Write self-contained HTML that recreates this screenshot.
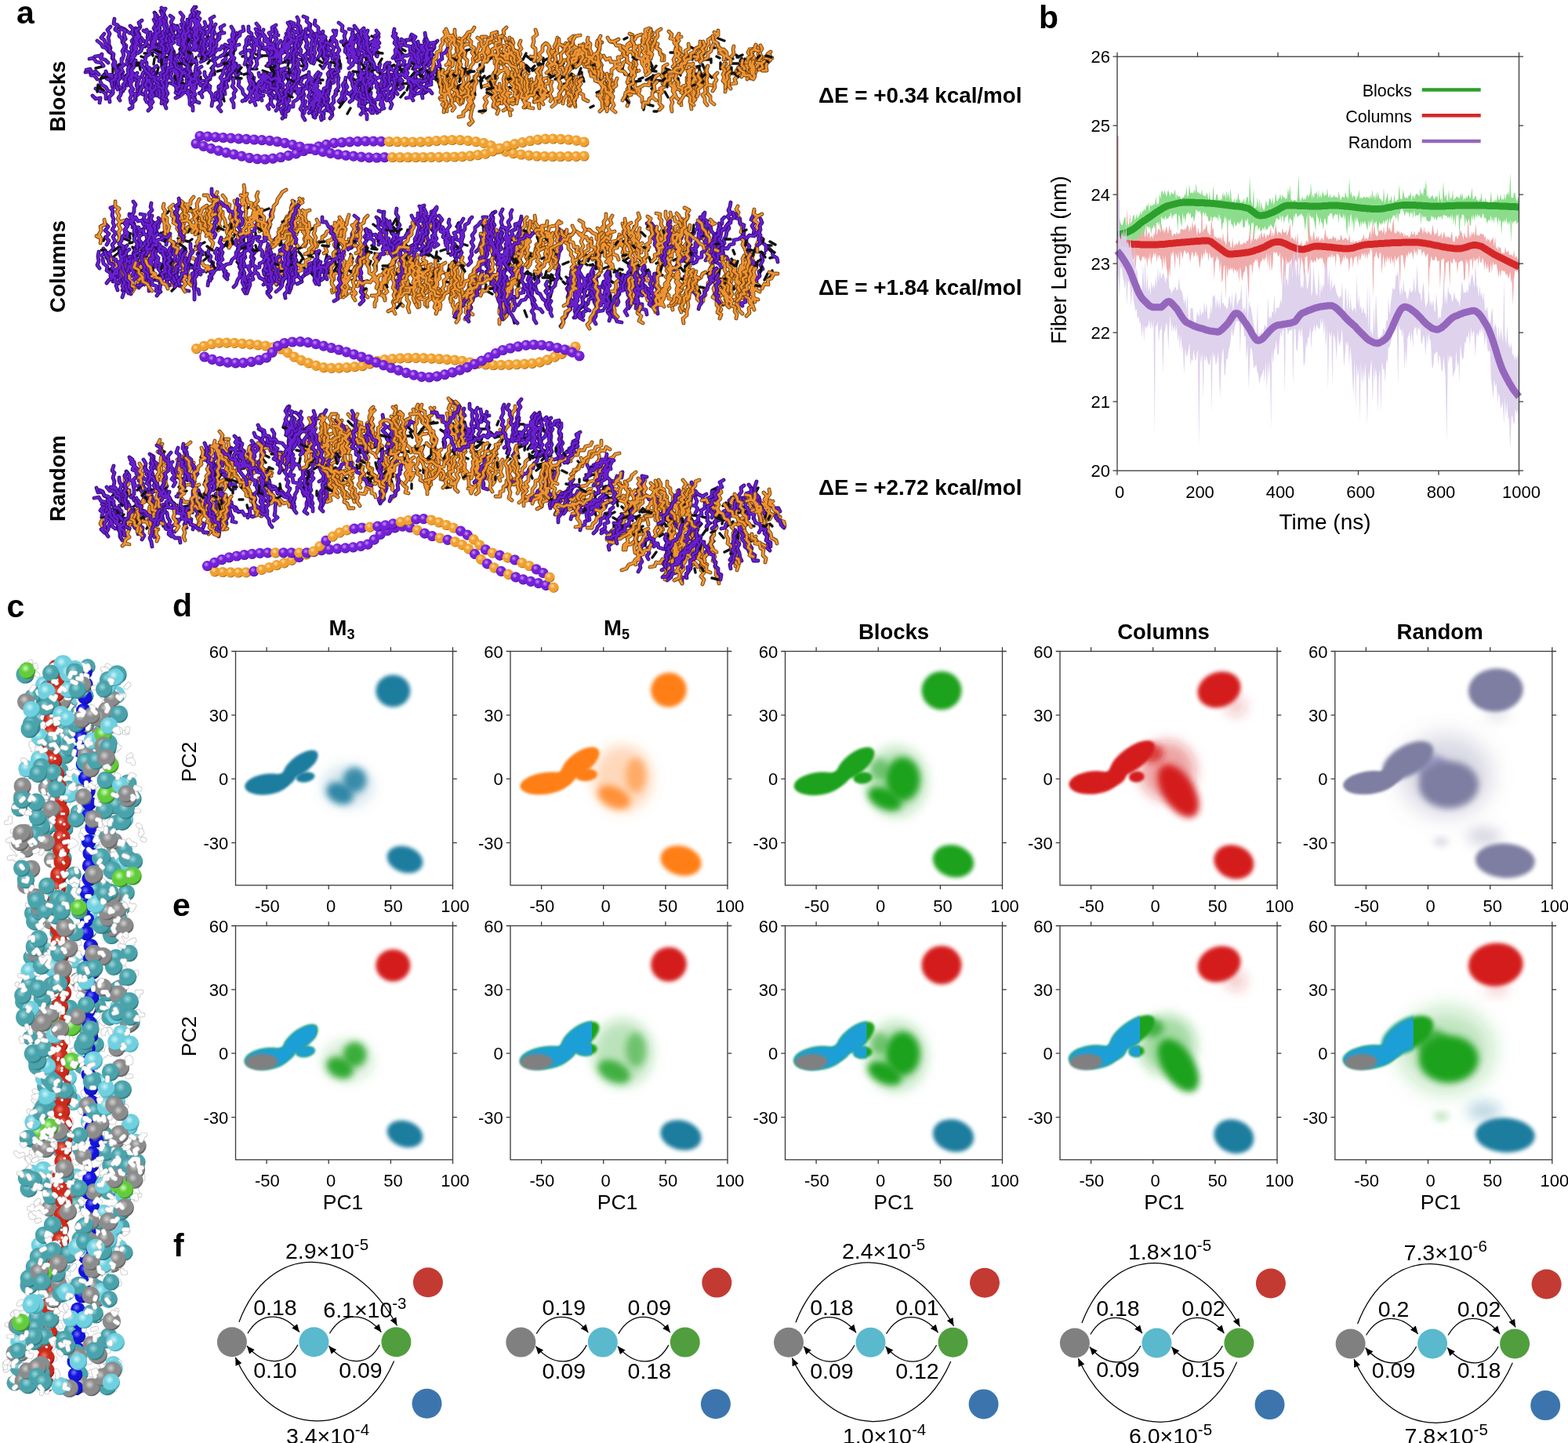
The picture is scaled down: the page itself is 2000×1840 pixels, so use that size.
<!DOCTYPE html>
<html><head><meta charset="utf-8"><title>Figure</title>
<style>html,body{margin:0;padding:0;background:#fff}svg{display:block}</style>
</head><body>
<svg width="2000" height="1840" viewBox="0 0 2000 1840" font-family="'Liberation Sans', Arial, Helvetica, sans-serif">

<defs>
<radialGradient id="gT" cx="0.4" cy="0.36" r="0.66"><stop offset="0" stop-color="#9ad6dc"/><stop offset="0.4" stop-color="#4aa3ab"/><stop offset="0.82" stop-color="#4aa3ab"/><stop offset="1" stop-color="#2a6e75"/></radialGradient>
<radialGradient id="gC" cx="0.4" cy="0.36" r="0.66"><stop offset="0" stop-color="#c8f4f8"/><stop offset="0.4" stop-color="#6fd0df"/><stop offset="0.82" stop-color="#6fd0df"/><stop offset="1" stop-color="#3c9aa8"/></radialGradient>
<radialGradient id="gG" cx="0.4" cy="0.36" r="0.66"><stop offset="0" stop-color="#d0d0d0"/><stop offset="0.4" stop-color="#8c8c8c"/><stop offset="0.82" stop-color="#8c8c8c"/><stop offset="1" stop-color="#555555"/></radialGradient>
<radialGradient id="gR" cx="0.4" cy="0.36" r="0.66"><stop offset="0" stop-color="#f07a68"/><stop offset="0.4" stop-color="#cc2a1c"/><stop offset="0.82" stop-color="#cc2a1c"/><stop offset="1" stop-color="#7a1008"/></radialGradient>
<radialGradient id="gB" cx="0.4" cy="0.36" r="0.66"><stop offset="0" stop-color="#7a7aff"/><stop offset="0.4" stop-color="#1414dc"/><stop offset="0.82" stop-color="#1414dc"/><stop offset="1" stop-color="#08087a"/></radialGradient>
<radialGradient id="gN" cx="0.4" cy="0.36" r="0.66"><stop offset="0" stop-color="#c8ffb0"/><stop offset="0.4" stop-color="#62cc3c"/><stop offset="0.82" stop-color="#62cc3c"/><stop offset="1" stop-color="#2e7a18"/></radialGradient>
<radialGradient id="gP" cx="0.4" cy="0.36" r="0.66"><stop offset="0" stop-color="#c89af5"/><stop offset="0.4" stop-color="#7420d8"/><stop offset="0.82" stop-color="#7420d8"/><stop offset="1" stop-color="#3c0a80"/></radialGradient>
<radialGradient id="gO" cx="0.4" cy="0.36" r="0.66"><stop offset="0" stop-color="#ffe0a0"/><stop offset="0.4" stop-color="#f0a030"/><stop offset="0.82" stop-color="#f0a030"/><stop offset="1" stop-color="#90560a"/></radialGradient>
<filter id="b1" x="-60%" y="-60%" width="220%" height="220%"><feGaussianBlur stdDeviation="1.6"/></filter>
<filter id="b2" x="-60%" y="-60%" width="220%" height="220%"><feGaussianBlur stdDeviation="2.6"/></filter>
<filter id="b3" x="-60%" y="-60%" width="220%" height="220%"><feGaussianBlur stdDeviation="4.5"/></filter>
<filter id="b4" x="-60%" y="-60%" width="220%" height="220%"><feGaussianBlur stdDeviation="8"/></filter>
<filter id="b5" x="-60%" y="-60%" width="220%" height="220%"><feGaussianBlur stdDeviation="14"/></filter>
</defs>
<path d="M968 74l-3 3M802 66l-3 2M693 74l0 7M268 77l-3 4M919 80l0 8M425 89l5 6M178 57l7 3M831 98l-7 4M896 82l3 7M497 105l-3 5M328 122l-5 7M201 56l7 6M494 88l2 6M823 78l4 2M719 81l-6 3M848 87l7 3M319 74l-5 2M687 94l3 3M193 57l-4 2M712 100l-4 1M976 81l-1 7M654 104l5 7M239 71l1 7M411 134l-3 4M197 75l-1 7M165 93l-5 3M357 128l-1 7M291 96l5 2M229 68l2 6M287 80l0 4M182 58l9 1M343 93l-7 5M341 71l-8 0M795 90l2 5M250 73l-2 7M347 87l0 5M376 110l0 7M229 98l4 4M953 85l-4 2M719 107l5 0M829 79l3 5M516 71l-8 5M367 64l-3 3M820 99l-5 2M718 85l-1 4M474 46l4 2M906 61l6 0M457 75l-6 3M459 77l-4 3M803 108l4 7M408 83l4 4M535 93l5 7M469 72l6 4M556 98l0 4M553 70l-5 1M537 73l-3 7M768 83l-2 7M351 76l-5 5M237 63l-4 2M898 101l-4 6M130 85l-8 2M914 72l4 2M464 85l5 7M831 113l4 4M946 74l-2 4M503 83l-7 4M447 138l-4 7M536 94l5 5M272 58l-5 4M202 86l-2 8M469 67l8 1M669 84l-2 6M588 108l-7 4M803 95l-2 6M682 74l-5 2M302 90l6 4M235 69l3 3M939 70l3 3M865 100l1 6M336 60l-5 2M550 99l9 2M403 46l-1 7M766 116l-5 2M194 67l1 4M335 90l6 2M874 86l-5 4M256 63l1 7M173 79l5 3M413 68l-7 4M392 95l-7 3M408 45l2 7M955 84l-7 1M760 80l4 1M848 117l4 7M613 87l0 6M165 66l6 3M658 98l2 7M758 95l7 0M687 118l5 4M851 106l0 5M197 46l1 6M167 66l0 6M248 108l-1 5M560 84l4 6M323 104l1 5M881 60l6 3M431 82l3 2M290 79l4 2M125 114l3 3M671 68l-4 8M639 67l-2 5M530 81l-4 7M671 71l7 5M715 97l6 2M233 57l-4 6M129 106l-2 5M664 98l-3 4M238 101l7 5M334 101l-2 4M387 108l-3 8M667 105l6 1M263 75l-7 0M178 81l4 3M512 62l5 3M824 55l-5 1M289 95l3 8M374 75l6 0M273 52l-1 7M434 83l-7 1M621 75l-5 3M211 63l4 3M356 95l-2 6M191 68l-7 0M313 71l-4 1M421 51l-1 7M405 95l-1 7M388 71l-4 5M179 82l-7 2M958 86l-1 5M895 54l1 5M271 88l-2 6M657 64l0 9M942 81l-9 0M411 72l4 8M595 64l-2 9M181 81l2 5M227 39l0 7M692 106l4 6M831 107l3 7M516 88l-7 1M636 125l2 7M290 61l-4 2M245 94l5 6M347 88l3 3M515 91l2 8M838 96l-5 1M759 103l4 2M464 87l-5 4M743 98l2 6M462 91l3 5M735 69l-5 1M396 74l-5 2M611 95l4 8M830 80l2 8M537 80l8 3M579 94l2 8M130 97l8 2M335 100l5 1M461 128l7 3M356 81l-2 4M625 97l-5 3M587 95l0 6M405 76l6 4M742 92l0 4M740 95l4 5M257 69l1 7M230 100l-2 7M487 75l-4 7M829 63l-1 8M237 91l3 4M326 69l8 3M384 84l6 1M199 72l5 3M339 84l8 2M385 77l2 4M605 67l0 5M905 76l-6 0M307 87l-8 4M907 75l0 5M896 103l2 3M894 94l-4 2M226 70l6 1M564 104l3 6M223 97l5 6M648 67l-6 2M363 96l5 6M763 81l-9 1M524 84l-4 1M835 102l8 1M514 103l-2 6M534 94l3 4M826 133l7 2M241 77l-5 6M795 83l-1 5M368 87l1 4M133 94l-5 7M254 93l-6 1M729 101l6 3M881 101l-4 2M523 79l7 4" stroke="#111" stroke-width="3.4" fill="none" stroke-linecap="round"/>
<g fill="none" stroke-linecap="round" stroke-linejoin="round"><path d="M229 85l-3 4l1 6l-2 5l2 5l-3 5l5 4l-1 5M192 63l5 -4l-2 -5l3 -4l-4 -5l5 -4l-3 -5l3 -5l-3 -6l5 -4l-4 -5M199 41l6 0M459 78l3 -5l-5 -3l3 -5l-3 -4l1 -5l-4 -4l1 -5l-5 -3l0 -6l-5 -1M345 82l4 -3l-1 -6l4 -4l-2 -5l3 -4l-4 -5l4 -5l-4 -4l4 -5l-2 -4M349 46l6 -1M506 78l2 -5l-2 -5l2 -4l2 -5l6 -3l2 -5l5 0l1 -5M505 86l5 -2l-2 -5l4 -6l-4 -3l3 -5l-1 -5l0 -6M205 75l-2 -6l-5 -3l-3 -5l-6 -2l-2 -4l-4 -3l-3 -4l-6 0l-3 -6l-6 0l-5 -4l-4 -2l-5 -2l-4 3M500 95l-1 6l4 2l0 6l3 3l-2 4l3 4M379 91l-2 5l0 6l-4 6l2 5l-4 3l0 6l-6 1l1 5l-5 2l2 6l-5 3l2 6M364 87l-6 2l-3 5l-4 3l0 5l-4 5l2 6l-4 5l4 4l-4 4l1 5l-5 4l2 4M347 107l-6 -1M200 84l-5 4l2 5l-5 1l1 5l-4 3l-2 5l-6 2l-1 6l-5 1M292 80l-3 3l3 5l-3 6l1 5l-5 4l-1 5l-5 2l0 7l-4 2l0 7l-4 3l-1 6M347 97l-5 1l-2 6l-5 4l-1 6l-6 1l-1 4M342 98l-6 -1M162 77l0 5l3 3l1 7l5 2l0 6l4 4l-1 5l5 3l1 7l4 2M362 89l-6 2l-1 5l-7 -1l0 6l-5 2l0 5l-5 1l-1 5l-5 3l-2 5M122 113l5 3l4 0l4 4M135 120l0 6M318 94l-1 5l5 4l-2 5l3 5l-3 5l0 4M128 104l2 4l5 3l3 5l6 2M412 87l3 -5l0 -6l3 -5l-2 -4l2 -5l-4 -4l2 -6l-5 -4l-1 -5l-4 -3l0 -5l-5 -4l1 -5M507 84l2 -5l-2 -5l3 -6l-4 -3l3 -5l-2 -4l0 -7M480 71l1 -4l-4 -5l1 -5l-3 -4l5 -2l-2 -5l5 -3l-3 -4M390 98l-5 2l-2 5l-6 2l1 4l-6 -1l-1 5l-6 0l-3 4l-5 1l-1 6l-5 -1M378 111l-6 -2M497 80l-3 5l2 4l-2 4l1 5l-2 5l1 6l-4 5l-2 5l-5 3l-2 5l-5 1l0 5M186 90l1 6l3 4l-1 5l3 4l1 6l4 4M250 77l-6 3l-2 6l-5 2l-2 5l-5 0l0 6l-5 2l-3 5l-5 0M456 92l1 4l2 5l-2 6l5 3l-1 4l4 3l1 5l5 1l1 5l6 3l0 4l2 4l1 5M485 82l-2 6l4 4l-1 6l2 5l-3 5l2 5l-2 6l5 5l-3 5l2 5l-2 5M487 113l6 1M133 96l3 4l4 2l4 5l5 1l3 5l5 3M478 97l-1 6l4 3l-1 5l3 3l-1 4l3 3l-1 5l3 3l-2 4l5 5M345 75l2 -5l-3 -6l1 -4l-1 -5l1 -6M344 64l-6 -1M273 95l-5 1l0 5l-5 3l2 5l-5 3l-2 5l-4 2M352 79l-2 6l3 6l-3 5l3 4l-2 7l4 4l-3 4l2 4l-2 5l4 5l-2 5l1 4l-3 3M513 93l-4 5l4 5l-3 5l4 3l-4 3M231 83l1 -4l-3 -5l3 -4l-2 -4l3 -5l-3 -4l-1 -6l-4 -4l3 -5l-2 -5l0 -4M390 87l1 -5l-3 -5l-1 -5l-4 -2l1 -6l-3 -4l3 -6l-3 -4l1 -6l-3 -3l2 -6M381 35l-6 -2M461 97l-2 5l3 4l-1 5l1 5l-2 5l5 3l-3 4l3 4l-1 6l4 2M222 72l0 -5l-3 -3l-2 -5l-2 -4l3 -4l-4 -3l1 -6l-3 -4l1 -5l-2 -5l1 -5l-5 -5l3 -5l-4 -3M305 84l-2 4l2 5l-3 5l3 5l-1 6l5 5l1 5l4 4l-1 5M149 92l2 5l5 -1l2 5l6 2M164 103l-2 6M301 81l-3 4l-1 6l-3 4l-1 5l-5 4l1 5l-3 5l1 6l-5 1l1 5l-5 1M360 89l2 4l5 3l1 6l4 4l2 5l5 3l0 5l5 4l2 5l4 1l-2 5l3 4M379 114l6 -1M271 77l2 -5l-2 -6l-1 -6l-1 -4l4 -5l-3 -4l4 -5l-3 -5l4 -6M431 96l-5 2l0 7l-5 2l0 5l-5 3l-2 6l-4 5l-2 4l-5 1M556 89l-5 3l1 4l-4 4l2 5l-6 3l0 6l-6 2l-4 3l-5 1M471 79l2 -5l-4 -5l1 -4l-4 -4l2 -5l-5 -2l-1 -6l-5 -2l2 -4l-4 -5l-3 -4M251 82l-1 -4l-5 -3l-1 -6l-5 -2l-1 -4l-5 0l0 -5l-6 -2l0 -6l-5 -2l-1 -4M235 79l5 -4l-1 -5l3 -4l-3 -4l3 -3l-2 -4l3 -4l0 -5l4 -4l-1 -5l5 -4l-2 -4l3 -4l-4 -4l3 -6M549 88l-4 4l1 7l-2 4l2 5l-4 5l2 4l-6 3l1 5M290 87l4 -4l-2 -4l4 -5l-1 -6l4 -4l-1 -6l2 -6l-2 -5l4 -5M461 78l0 -5l-4 -4l0 -5l-5 0l-3 -4l-5 -3l-3 -5l-5 1M441 52l-6 1M521 87l-5 2l-2 4l-4 4l-1 6l-5 4l-1 5l-3 5l2 6l-4 3M552 87l2 -5l-4 -4l0 -4l-3 -4l1 -5l-4 -4l0 -4l-3 -4l2 -5l-1 -6M376 93l2 -5l-4 -4l3 -6l-3 -4l4 -3l-2 -6l3 -4l-4 -4l2 -6l-3 -5l2 -5l-4 -5l3 -6l-5 -2M356 88l0 6l3 5l-1 4l3 5l-2 4l5 5l-4 4l4 4M132 84l-3 -4l-6 -1l-4 -5l-5 1M208 68l3 -4l-2 -5l3 -4l-2 -4l2 -5l-3 -5l5 -4l-4 -3l2 -5l-3 -5l1 -4l-2 -5l3 -4M118 122l4 4l6 -1M128 125l-1 6M494 80l-3 3l-1 6l-5 3l1 6l-6 2l-3 5l-5 3l-1 5M371 90l0 5l4 3l-2 4l3 5l1 6l6 2l-3 4l3 6M238 65l4 -3l-2 -5l3 -4l-2 -5l0 -4l-1 -5l2 -5l-2 -4l2 -4l1 -6l3 -3l0 -5l4 -3M232 88l-2 6l2 4l-4 4l3 6l-3 4l2 4l-3 5M530 83l-1 6l3 4l-3 5l3 4l-2 6l0 5l-3 5l1 4" stroke="#2c0a6a" stroke-width="4.8"/><path d="M229 85l-3 4l1 6l-2 5l2 5l-3 5l5 4l-1 5M192 63l5 -4l-2 -5l3 -4l-4 -5l5 -4l-3 -5l3 -5l-3 -6l5 -4l-4 -5M199 41l6 0M459 78l3 -5l-5 -3l3 -5l-3 -4l1 -5l-4 -4l1 -5l-5 -3l0 -6l-5 -1M345 82l4 -3l-1 -6l4 -4l-2 -5l3 -4l-4 -5l4 -5l-4 -4l4 -5l-2 -4M349 46l6 -1M506 78l2 -5l-2 -5l2 -4l2 -5l6 -3l2 -5l5 0l1 -5M505 86l5 -2l-2 -5l4 -6l-4 -3l3 -5l-1 -5l0 -6M205 75l-2 -6l-5 -3l-3 -5l-6 -2l-2 -4l-4 -3l-3 -4l-6 0l-3 -6l-6 0l-5 -4l-4 -2l-5 -2l-4 3M500 95l-1 6l4 2l0 6l3 3l-2 4l3 4M379 91l-2 5l0 6l-4 6l2 5l-4 3l0 6l-6 1l1 5l-5 2l2 6l-5 3l2 6M364 87l-6 2l-3 5l-4 3l0 5l-4 5l2 6l-4 5l4 4l-4 4l1 5l-5 4l2 4M347 107l-6 -1M200 84l-5 4l2 5l-5 1l1 5l-4 3l-2 5l-6 2l-1 6l-5 1M292 80l-3 3l3 5l-3 6l1 5l-5 4l-1 5l-5 2l0 7l-4 2l0 7l-4 3l-1 6M347 97l-5 1l-2 6l-5 4l-1 6l-6 1l-1 4M342 98l-6 -1M162 77l0 5l3 3l1 7l5 2l0 6l4 4l-1 5l5 3l1 7l4 2M362 89l-6 2l-1 5l-7 -1l0 6l-5 2l0 5l-5 1l-1 5l-5 3l-2 5M122 113l5 3l4 0l4 4M135 120l0 6M318 94l-1 5l5 4l-2 5l3 5l-3 5l0 4M128 104l2 4l5 3l3 5l6 2M412 87l3 -5l0 -6l3 -5l-2 -4l2 -5l-4 -4l2 -6l-5 -4l-1 -5l-4 -3l0 -5l-5 -4l1 -5M507 84l2 -5l-2 -5l3 -6l-4 -3l3 -5l-2 -4l0 -7M480 71l1 -4l-4 -5l1 -5l-3 -4l5 -2l-2 -5l5 -3l-3 -4M390 98l-5 2l-2 5l-6 2l1 4l-6 -1l-1 5l-6 0l-3 4l-5 1l-1 6l-5 -1M378 111l-6 -2M497 80l-3 5l2 4l-2 4l1 5l-2 5l1 6l-4 5l-2 5l-5 3l-2 5l-5 1l0 5M186 90l1 6l3 4l-1 5l3 4l1 6l4 4M250 77l-6 3l-2 6l-5 2l-2 5l-5 0l0 6l-5 2l-3 5l-5 0M456 92l1 4l2 5l-2 6l5 3l-1 4l4 3l1 5l5 1l1 5l6 3l0 4l2 4l1 5M485 82l-2 6l4 4l-1 6l2 5l-3 5l2 5l-2 6l5 5l-3 5l2 5l-2 5M487 113l6 1M133 96l3 4l4 2l4 5l5 1l3 5l5 3M478 97l-1 6l4 3l-1 5l3 3l-1 4l3 3l-1 5l3 3l-2 4l5 5M345 75l2 -5l-3 -6l1 -4l-1 -5l1 -6M344 64l-6 -1M273 95l-5 1l0 5l-5 3l2 5l-5 3l-2 5l-4 2M352 79l-2 6l3 6l-3 5l3 4l-2 7l4 4l-3 4l2 4l-2 5l4 5l-2 5l1 4l-3 3M513 93l-4 5l4 5l-3 5l4 3l-4 3M231 83l1 -4l-3 -5l3 -4l-2 -4l3 -5l-3 -4l-1 -6l-4 -4l3 -5l-2 -5l0 -4M390 87l1 -5l-3 -5l-1 -5l-4 -2l1 -6l-3 -4l3 -6l-3 -4l1 -6l-3 -3l2 -6M381 35l-6 -2M461 97l-2 5l3 4l-1 5l1 5l-2 5l5 3l-3 4l3 4l-1 6l4 2M222 72l0 -5l-3 -3l-2 -5l-2 -4l3 -4l-4 -3l1 -6l-3 -4l1 -5l-2 -5l1 -5l-5 -5l3 -5l-4 -3M305 84l-2 4l2 5l-3 5l3 5l-1 6l5 5l1 5l4 4l-1 5M149 92l2 5l5 -1l2 5l6 2M164 103l-2 6M301 81l-3 4l-1 6l-3 4l-1 5l-5 4l1 5l-3 5l1 6l-5 1l1 5l-5 1M360 89l2 4l5 3l1 6l4 4l2 5l5 3l0 5l5 4l2 5l4 1l-2 5l3 4M379 114l6 -1M271 77l2 -5l-2 -6l-1 -6l-1 -4l4 -5l-3 -4l4 -5l-3 -5l4 -6M431 96l-5 2l0 7l-5 2l0 5l-5 3l-2 6l-4 5l-2 4l-5 1M556 89l-5 3l1 4l-4 4l2 5l-6 3l0 6l-6 2l-4 3l-5 1M471 79l2 -5l-4 -5l1 -4l-4 -4l2 -5l-5 -2l-1 -6l-5 -2l2 -4l-4 -5l-3 -4M251 82l-1 -4l-5 -3l-1 -6l-5 -2l-1 -4l-5 0l0 -5l-6 -2l0 -6l-5 -2l-1 -4M235 79l5 -4l-1 -5l3 -4l-3 -4l3 -3l-2 -4l3 -4l0 -5l4 -4l-1 -5l5 -4l-2 -4l3 -4l-4 -4l3 -6M549 88l-4 4l1 7l-2 4l2 5l-4 5l2 4l-6 3l1 5M290 87l4 -4l-2 -4l4 -5l-1 -6l4 -4l-1 -6l2 -6l-2 -5l4 -5M461 78l0 -5l-4 -4l0 -5l-5 0l-3 -4l-5 -3l-3 -5l-5 1M441 52l-6 1M521 87l-5 2l-2 4l-4 4l-1 6l-5 4l-1 5l-3 5l2 6l-4 3M552 87l2 -5l-4 -4l0 -4l-3 -4l1 -5l-4 -4l0 -4l-3 -4l2 -5l-1 -6M376 93l2 -5l-4 -4l3 -6l-3 -4l4 -3l-2 -6l3 -4l-4 -4l2 -6l-3 -5l2 -5l-4 -5l3 -6l-5 -2M356 88l0 6l3 5l-1 4l3 5l-2 4l5 5l-4 4l4 4M132 84l-3 -4l-6 -1l-4 -5l-5 1M208 68l3 -4l-2 -5l3 -4l-2 -4l2 -5l-3 -5l5 -4l-4 -3l2 -5l-3 -5l1 -4l-2 -5l3 -4M118 122l4 4l6 -1M128 125l-1 6M494 80l-3 3l-1 6l-5 3l1 6l-6 2l-3 5l-5 3l-1 5M371 90l0 5l4 3l-2 4l3 5l1 6l6 2l-3 4l3 6M238 65l4 -3l-2 -5l3 -4l-2 -5l0 -4l-1 -5l2 -5l-2 -4l2 -4l1 -6l3 -3l0 -5l4 -3M232 88l-2 6l2 4l-4 4l3 6l-3 4l2 4l-3 5M530 83l-1 6l3 4l-3 5l3 4l-2 6l0 5l-3 5l1 4" stroke="#6a1ed2" stroke-width="3"/></g>
<g fill="none" stroke-linecap="round" stroke-linejoin="round"><path d="M954 76l4 -4l-4 -5l2 -4M956 63l6 -1M634 95l4 -4l-4 -3l2 -4l-4 -5l2 -5l0 -6l2 -6l-1 -4l3 -5l1 -6l4 -4l-1 -4l4 -4M638 91l6 -2M776 97l4 -3l0 -5l5 -4l-1 -6l6 0l-2 -6l5 0l2 -6l4 -4l1 -6l4 -3M799 63l-5 -4M658 94l-2 5l2 4l1 5l1 6l-3 3l3 5l-5 4l-2 5l-6 1l0 6l-5 3M660 122l6 0M851 82l-5 3l0 6l-2 6l4 5l-3 4l2 5l-5 2l3 4l-4 4l1 5l-1 6l4 4l-4 4M845 117l-6 0M652 94l3 -3l-2 -6l2 -5l-4 -5l2 -4l-2 -4l3 -5l-3 -5l1 -4l-2 -5M691 101l-1 5l4 5l-4 3l0 5l-2 4l1 5l-2 5l1 5M850 94l-1 6l6 1l0 7l4 3l-1 5l3 4l2 5l5 3l1 6M855 101l-5 3M572 91l-3 5l4 4l1 6l5 3l-1 5l6 1l2 6l5 2M799 95l-3 -4l-6 -1l1 -5l-6 -1l-1 -5l-5 0l-1 -5l-5 2l-3 -5l-6 2l-5 -2M674 102l-5 3l-1 5l-4 3l0 6l-4 4l-1 7l-5 3M586 93l1 -5l-2 -6l2 -4l-5 -5l2 -5l-2 -5l1 -6l-4 -3l2 -7l-1 -4l0 -5M581 47l-6 0M664 86l1 -5l-4 -2l-1 -5l-3 -3l1 -6l-6 -3l0 -6l-6 -3l-2 -5l-6 -1M657 71l5 -3M573 82l5 -4l0 -5l5 -4l0 -6l4 -3l2 -6l4 -2l0 -5l4 -4M847 77l0 -6l-5 -3l-1 -5l-5 -4l-1 -4l-6 -1M835 55l-6 1M678 101l0 4l6 2l0 6l5 3l0 7l4 3M689 123l6 -2M674 94l-1 -5l-5 -2l0 -5l-6 -3l0 -5l-6 -3l-1 -5l-3 -5M592 96l-2 4l2 6l-4 5l3 5l-4 3l2 6l-5 2M587 119l-6 2M752 91l0 -5l-6 -1l-2 -5l-7 -2l-1 -4l-6 -1l0 -5l-6 -2l-1 -6l-5 0M718 60l4 -5M647 87l-1 5l1 5l-4 5l1 5l-2 4l1 6l-3 5l-1 5l-6 1l0 5l-4 3M808 97l-1 6l3 3l0 6l6 3l-2 5l5 4l0 6M840 95l-4 3l-4 5l-4 1l0 5l-6 -1l-5 3l-4 2l-2 5l-5 -2l-1 5l-4 1l-2 4M608 103l-5 0l1 5l-6 1l-4 3l-6 2l-1 6l-5 2l-2 6l-5 0l0 6l-5 2l0 6M886 98l-3 4l3 6l-3 4l2 4M883 112l5 4M964 78l4 -4l-1 -6l1 -5l-4 -5M968 74l6 -1M658 91l-1 5l6 1l4 5l5 1l1 6l6 0l-1 5l5 1l5 5M688 120l-4 5M942 86l-3 5l2 6l-4 4l2 5M939 106l-6 1M667 102l0 4l4 5l0 5l6 1l3 5M671 116l-4 5M630 97l-1 4l2 4l-3 3l2 5l-2 5l5 4l0 6l4 3l-5 5l4 4l-2 5M629 101l-6 2M597 89l-2 5l3 4l-1 6l4 4l-1 5l4 4l-3 5l3 3l-3 4l3 6l-2 4l-1 5l-1 6l3 5l-4 4M603 155l-5 3M670 90l-5 5l2 4l-2 5l5 4l-2 4l3 6l-3 3l2 5M631 81l0 -6l-5 -3l-2 -5l-5 1l-3 -4M724 95l-2 5l5 3l-1 6l3 4l-6 2l0 6l-4 5l-1 6M863 94l-3 4l2 5l-3 4l3 5l-2 5l0 5l-4 4l2 5l-2 4l1 7M862 112l6 3M659 83l3 -5l-2 -4l4 -5l-2 -4l3 -3l-3 -5l2 -5M649 96l0 -5l-4 -3l-3 -5l-4 -4l2 -5l-3 -3l2 -4l-4 -4l-1 -6l-4 -3l-1 -6M802 99l-2 6l3 4l-3 5l2 5l-3 6l3 5l-2 5M800 105l6 2M892 77l4 -3l0 -6l4 -3l1 -6l3 -3l-1 -5l4 -3M896 68l-5 -4M805 96l4 -4l-3 -6l4 -3l-2 -4l2 -5l-3 -5l3 -4l-1 -6l-1 -5l-2 -4l1 -5l-4 -2M809 92l6 -2M780 102l-5 4l1 5l-3 6l2 5l-2 5l4 3l-2 5M902 85l-2 5l1 5l-3 4l3 5l-2 4l3 5l0 6l4 4l0 6l5 4M788 88l5 -3l2 -5l5 -3l-1 -5l2 -6l-2 -5l6 -3l0 -5l5 -3l2 -4l6 -2M801 66l6 0M709 91l-7 2l-2 6l-6 1l-3 5l-4 2l-1 6M755 87l3 -5l-3 -6l1 -5l-4 -3l-2 -6l-4 -1l-2 -5M755 76l5 -3M900 93l-4 3l-1 5l-5 2l0 5l-4 4l-1 6l-4 5M881 123l-6 -3M731 96l-4 4l2 6l-2 4l0 7l-1 5l3 3l-4 4l2 6M926 76l1 -5l-4 -3l-2 -5l-5 -2l0 -5M923 68l-6 0M653 98l-2 6l5 2l1 6l5 3l1 5l5 3l-1 4l4 4l-1 6" stroke="#6e3c0a" stroke-width="4.8"/><path d="M954 76l4 -4l-4 -5l2 -4M956 63l6 -1M634 95l4 -4l-4 -3l2 -4l-4 -5l2 -5l0 -6l2 -6l-1 -4l3 -5l1 -6l4 -4l-1 -4l4 -4M638 91l6 -2M776 97l4 -3l0 -5l5 -4l-1 -6l6 0l-2 -6l5 0l2 -6l4 -4l1 -6l4 -3M799 63l-5 -4M658 94l-2 5l2 4l1 5l1 6l-3 3l3 5l-5 4l-2 5l-6 1l0 6l-5 3M660 122l6 0M851 82l-5 3l0 6l-2 6l4 5l-3 4l2 5l-5 2l3 4l-4 4l1 5l-1 6l4 4l-4 4M845 117l-6 0M652 94l3 -3l-2 -6l2 -5l-4 -5l2 -4l-2 -4l3 -5l-3 -5l1 -4l-2 -5M691 101l-1 5l4 5l-4 3l0 5l-2 4l1 5l-2 5l1 5M850 94l-1 6l6 1l0 7l4 3l-1 5l3 4l2 5l5 3l1 6M855 101l-5 3M572 91l-3 5l4 4l1 6l5 3l-1 5l6 1l2 6l5 2M799 95l-3 -4l-6 -1l1 -5l-6 -1l-1 -5l-5 0l-1 -5l-5 2l-3 -5l-6 2l-5 -2M674 102l-5 3l-1 5l-4 3l0 6l-4 4l-1 7l-5 3M586 93l1 -5l-2 -6l2 -4l-5 -5l2 -5l-2 -5l1 -6l-4 -3l2 -7l-1 -4l0 -5M581 47l-6 0M664 86l1 -5l-4 -2l-1 -5l-3 -3l1 -6l-6 -3l0 -6l-6 -3l-2 -5l-6 -1M657 71l5 -3M573 82l5 -4l0 -5l5 -4l0 -6l4 -3l2 -6l4 -2l0 -5l4 -4M847 77l0 -6l-5 -3l-1 -5l-5 -4l-1 -4l-6 -1M835 55l-6 1M678 101l0 4l6 2l0 6l5 3l0 7l4 3M689 123l6 -2M674 94l-1 -5l-5 -2l0 -5l-6 -3l0 -5l-6 -3l-1 -5l-3 -5M592 96l-2 4l2 6l-4 5l3 5l-4 3l2 6l-5 2M587 119l-6 2M752 91l0 -5l-6 -1l-2 -5l-7 -2l-1 -4l-6 -1l0 -5l-6 -2l-1 -6l-5 0M718 60l4 -5M647 87l-1 5l1 5l-4 5l1 5l-2 4l1 6l-3 5l-1 5l-6 1l0 5l-4 3M808 97l-1 6l3 3l0 6l6 3l-2 5l5 4l0 6M840 95l-4 3l-4 5l-4 1l0 5l-6 -1l-5 3l-4 2l-2 5l-5 -2l-1 5l-4 1l-2 4M608 103l-5 0l1 5l-6 1l-4 3l-6 2l-1 6l-5 2l-2 6l-5 0l0 6l-5 2l0 6M886 98l-3 4l3 6l-3 4l2 4M883 112l5 4M964 78l4 -4l-1 -6l1 -5l-4 -5M968 74l6 -1M658 91l-1 5l6 1l4 5l5 1l1 6l6 0l-1 5l5 1l5 5M688 120l-4 5M942 86l-3 5l2 6l-4 4l2 5M939 106l-6 1M667 102l0 4l4 5l0 5l6 1l3 5M671 116l-4 5M630 97l-1 4l2 4l-3 3l2 5l-2 5l5 4l0 6l4 3l-5 5l4 4l-2 5M629 101l-6 2M597 89l-2 5l3 4l-1 6l4 4l-1 5l4 4l-3 5l3 3l-3 4l3 6l-2 4l-1 5l-1 6l3 5l-4 4M603 155l-5 3M670 90l-5 5l2 4l-2 5l5 4l-2 4l3 6l-3 3l2 5M631 81l0 -6l-5 -3l-2 -5l-5 1l-3 -4M724 95l-2 5l5 3l-1 6l3 4l-6 2l0 6l-4 5l-1 6M863 94l-3 4l2 5l-3 4l3 5l-2 5l0 5l-4 4l2 5l-2 4l1 7M862 112l6 3M659 83l3 -5l-2 -4l4 -5l-2 -4l3 -3l-3 -5l2 -5M649 96l0 -5l-4 -3l-3 -5l-4 -4l2 -5l-3 -3l2 -4l-4 -4l-1 -6l-4 -3l-1 -6M802 99l-2 6l3 4l-3 5l2 5l-3 6l3 5l-2 5M800 105l6 2M892 77l4 -3l0 -6l4 -3l1 -6l3 -3l-1 -5l4 -3M896 68l-5 -4M805 96l4 -4l-3 -6l4 -3l-2 -4l2 -5l-3 -5l3 -4l-1 -6l-1 -5l-2 -4l1 -5l-4 -2M809 92l6 -2M780 102l-5 4l1 5l-3 6l2 5l-2 5l4 3l-2 5M902 85l-2 5l1 5l-3 4l3 5l-2 4l3 5l0 6l4 4l0 6l5 4M788 88l5 -3l2 -5l5 -3l-1 -5l2 -6l-2 -5l6 -3l0 -5l5 -3l2 -4l6 -2M801 66l6 0M709 91l-7 2l-2 6l-6 1l-3 5l-4 2l-1 6M755 87l3 -5l-3 -6l1 -5l-4 -3l-2 -6l-4 -1l-2 -5M755 76l5 -3M900 93l-4 3l-1 5l-5 2l0 5l-4 4l-1 6l-4 5M881 123l-6 -3M731 96l-4 4l2 6l-2 4l0 7l-1 5l3 3l-4 4l2 6M926 76l1 -5l-4 -3l-2 -5l-5 -2l0 -5M923 68l-6 0M653 98l-2 6l5 2l1 6l5 3l1 5l5 3l-1 4l4 4l-1 6" stroke="#ee9432" stroke-width="3"/></g>
<g fill="none" stroke-linecap="round" stroke-linejoin="round"><path d="M741 97l-1 5l0 5l-3 3l0 6l-4 4l-1 5l-6 1l3 4l-4 4M740 102l-6 2M968 77l3 -5l-2 -5l3 -5l-2 -4M706 87l-4 4l1 5l-3 4l1 6l-6 1l0 5l-5 2l0 6l-6 3M577 104l0 5l4 4l-1 6l4 4l-1 5l4 5M580 119l-4 5M883 82l-6 0l-2 5l-7 0l-2 5l-5 0l-2 5l-5 0l0 5l-5 1l-2 5M630 93l-2 5l4 4l-4 2l1 6l0 5l4 5l-5 4l3 5l-2 5l4 4M628 98l6 1M768 98l1 -5l-6 -1l-1 -6l-6 -3l-1 -7l-3 -2l0 -6l-4 -4M752 74l-6 2M597 94l3 -4l0 -5l4 -5l-1 -5l2 -4l-3 -4l3 -6l-5 -3l1 -5l-4 -4l2 -5M647 104l-3 6l4 3l-3 4l3 5l-1 4l2 5l-2 4l3 6l1 6M645 117l6 2M681 78l2 -5l0 -6l0 -5l-4 -3l2 -6l-1 -5l5 -4l-2 -6M683 73l-6 -1M735 98l-2 5l1 6l-3 4l1 5l-3 5l2 4l-2 5M758 93l2 -5l-3 -5l3 -3l0 -5l3 -4l-1 -4l2 -4l0 -7l4 -2M571 91l-4 3l3 6l-5 3l3 5l-2 6l2 6l-2 5l3 4l-5 4l3 4l-1 6M565 103l-6 1M611 95l-6 3l0 6l-5 2l-2 6l-4 2l-2 4l-6 3l-2 5M600 106l4 5M783 106l-3 4l2 6l-4 3l3 6l-4 4M777 129l-6 -1M584 98l-5 2l-1 6l-5 3l-3 6l-5 2l0 5l-4 3M698 83l3 -5l0 -4l5 -3l-1 -6l6 -3l-4 -3l3 -6l1 -5M569 83l5 -4l1 -6l5 -2l4 -5l5 -2l2 -6l6 -2M898 76l5 -3l0 -5l4 -3l1 -6l3 -4l0 -6l5 -4l0 -6M916 45l-5 -4M844 77l1 -5l-3 -3l0 -5l-5 -3l2 -5l-5 -2l1 -5l-4 -3l2 -4M926 81l-3 4l3 5l-2 5l4 5l-4 4l2 6l-1 7M807 96l4 -5l-1 -5l2 -4l-2 -5l4 -3l1 -6l2 -4l-3 -5l6 -2l-1 -6M624 106l2 5l6 -1l1 5l7 1l3 5l4 3l2 4l6 0M649 128l6 -3M954 84l-2 6l3 5l-2 6M951 86l0 7l6 2M957 95l6 0M963 78l-3 4l2 6l-3 4l3 4M572 88l4 -4l-4 -4l2 -6l-3 -4l1 -6l-1 -5l0 -5l-3 -4l4 -5l-5 -4M581 100l0 5l2 5l3 5l3 3l-2 6l4 3l-1 4M586 115l-6 3M762 98l-2 -4l-5 -4l-1 -4l-5 -1l-1 -5l-6 -3l-1 -4l-4 -4l0 -7l-5 -3l-2 -6l-4 -3M726 50l5 -4M770 95l-4 4l3 3l-2 5l2 5l-1 5l4 2l-1 6l3 4l-2 5l3 4l-1 4M772 119l6 2M955 78l-4 5l0 5l-6 2l-3 4l-6 0M974 76l5 -2l0 -5l4 -3M979 74l6 0M579 95l4 -2l-1 -4l1 -5l1 -7l4 -4l-3 -3l4 -3l-5 -4l2 -6l-2 -4l2 -4M586 57l6 1M734 86l1 -6l-3 -5l3 -4l-2 -5l-1 -6l-5 -4M955 77l-1 6l4 5l-2 4l5 3l-4 5M882 88l-2 5l2 4l-1 6l3 4l-1 6l2 5l-2 5l4 4M882 97l-6 2M627 103l-4 5l3 4l-4 4l1 5l-5 4l3 5l-3 5l1 5l-4 3M623 108l-6 2M958 79l4 -5l-3 -6l3 -4M884 81l-2 4l3 5l-1 6l3 3l-3 4l2 5l-3 5l3 5l-2 5l1 6l-4 4l1 6M882 85l6 1M637 107l0 6l3 5l-3 4l4 4l-1 6M641 126l-6 2M678 105l-1 5l4 4l-2 5l4 5l-2 6M679 119l6 1M979 78l-2 6l1 6M978 90l-6 0M915 93l-4 4l3 5l-3 4l1 5l-3 5M649 99l-4 5l0 6l-3 5l3 5l-2 6M979 80l4 -4l-1 -6M780 96l-3 5l1 5l-3 4l1 6l-2 5l3 3l-5 4l4 4l-4 3l2 5M778 106l6 2M930 85l-2 4l4 4l-3 4l1 6l-1 6l3 4M930 103l-6 2M879 92l-1 5l4 4l-3 4l4 4l-3 4l2 3l-2 5l3 4M882 101l6 1M719 91l-2 -5l-5 -1l0 -5l-4 -3l0 -7l-5 -2l-1 -5M712 85l3 -5" stroke="#6e3c0a" stroke-width="4.8"/><path d="M741 97l-1 5l0 5l-3 3l0 6l-4 4l-1 5l-6 1l3 4l-4 4M740 102l-6 2M968 77l3 -5l-2 -5l3 -5l-2 -4M706 87l-4 4l1 5l-3 4l1 6l-6 1l0 5l-5 2l0 6l-6 3M577 104l0 5l4 4l-1 6l4 4l-1 5l4 5M580 119l-4 5M883 82l-6 0l-2 5l-7 0l-2 5l-5 0l-2 5l-5 0l0 5l-5 1l-2 5M630 93l-2 5l4 4l-4 2l1 6l0 5l4 5l-5 4l3 5l-2 5l4 4M628 98l6 1M768 98l1 -5l-6 -1l-1 -6l-6 -3l-1 -7l-3 -2l0 -6l-4 -4M752 74l-6 2M597 94l3 -4l0 -5l4 -5l-1 -5l2 -4l-3 -4l3 -6l-5 -3l1 -5l-4 -4l2 -5M647 104l-3 6l4 3l-3 4l3 5l-1 4l2 5l-2 4l3 6l1 6M645 117l6 2M681 78l2 -5l0 -6l0 -5l-4 -3l2 -6l-1 -5l5 -4l-2 -6M683 73l-6 -1M735 98l-2 5l1 6l-3 4l1 5l-3 5l2 4l-2 5M758 93l2 -5l-3 -5l3 -3l0 -5l3 -4l-1 -4l2 -4l0 -7l4 -2M571 91l-4 3l3 6l-5 3l3 5l-2 6l2 6l-2 5l3 4l-5 4l3 4l-1 6M565 103l-6 1M611 95l-6 3l0 6l-5 2l-2 6l-4 2l-2 4l-6 3l-2 5M600 106l4 5M783 106l-3 4l2 6l-4 3l3 6l-4 4M777 129l-6 -1M584 98l-5 2l-1 6l-5 3l-3 6l-5 2l0 5l-4 3M698 83l3 -5l0 -4l5 -3l-1 -6l6 -3l-4 -3l3 -6l1 -5M569 83l5 -4l1 -6l5 -2l4 -5l5 -2l2 -6l6 -2M898 76l5 -3l0 -5l4 -3l1 -6l3 -4l0 -6l5 -4l0 -6M916 45l-5 -4M844 77l1 -5l-3 -3l0 -5l-5 -3l2 -5l-5 -2l1 -5l-4 -3l2 -4M926 81l-3 4l3 5l-2 5l4 5l-4 4l2 6l-1 7M807 96l4 -5l-1 -5l2 -4l-2 -5l4 -3l1 -6l2 -4l-3 -5l6 -2l-1 -6M624 106l2 5l6 -1l1 5l7 1l3 5l4 3l2 4l6 0M649 128l6 -3M954 84l-2 6l3 5l-2 6M951 86l0 7l6 2M957 95l6 0M963 78l-3 4l2 6l-3 4l3 4M572 88l4 -4l-4 -4l2 -6l-3 -4l1 -6l-1 -5l0 -5l-3 -4l4 -5l-5 -4M581 100l0 5l2 5l3 5l3 3l-2 6l4 3l-1 4M586 115l-6 3M762 98l-2 -4l-5 -4l-1 -4l-5 -1l-1 -5l-6 -3l-1 -4l-4 -4l0 -7l-5 -3l-2 -6l-4 -3M726 50l5 -4M770 95l-4 4l3 3l-2 5l2 5l-1 5l4 2l-1 6l3 4l-2 5l3 4l-1 4M772 119l6 2M955 78l-4 5l0 5l-6 2l-3 4l-6 0M974 76l5 -2l0 -5l4 -3M979 74l6 0M579 95l4 -2l-1 -4l1 -5l1 -7l4 -4l-3 -3l4 -3l-5 -4l2 -6l-2 -4l2 -4M586 57l6 1M734 86l1 -6l-3 -5l3 -4l-2 -5l-1 -6l-5 -4M955 77l-1 6l4 5l-2 4l5 3l-4 5M882 88l-2 5l2 4l-1 6l3 4l-1 6l2 5l-2 5l4 4M882 97l-6 2M627 103l-4 5l3 4l-4 4l1 5l-5 4l3 5l-3 5l1 5l-4 3M623 108l-6 2M958 79l4 -5l-3 -6l3 -4M884 81l-2 4l3 5l-1 6l3 3l-3 4l2 5l-3 5l3 5l-2 5l1 6l-4 4l1 6M882 85l6 1M637 107l0 6l3 5l-3 4l4 4l-1 6M641 126l-6 2M678 105l-1 5l4 4l-2 5l4 5l-2 6M679 119l6 1M979 78l-2 6l1 6M978 90l-6 0M915 93l-4 4l3 5l-3 4l1 5l-3 5M649 99l-4 5l0 6l-3 5l3 5l-2 6M979 80l4 -4l-1 -6M780 96l-3 5l1 5l-3 4l1 6l-2 5l3 3l-5 4l4 4l-4 3l2 5M778 106l6 2M930 85l-2 4l4 4l-3 4l1 6l-1 6l3 4M930 103l-6 2M879 92l-1 5l4 4l-3 4l4 4l-3 4l2 3l-2 5l3 4M882 101l6 1M719 91l-2 -5l-5 -1l0 -5l-4 -3l0 -7l-5 -2l-1 -5M712 85l3 -5" stroke="#ee9432" stroke-width="3"/></g>
<g fill="none" stroke-linecap="round" stroke-linejoin="round"><path d="M491 95l-2 4l3 5l-2 6l2 4l-3 4l3 5M492 114l-6 3M365 79l5 -3l0 -5l2 -5l0 -4l6 -3l0 -5l6 -1l0 -6M157 92l-4 3l0 5l-4 3l0 7l-5 3l0 6l-5 5l1 6M353 87l2 -5l-2 -5l3 -4l0 -6l4 -4l0 -5l5 -1l-2 -4l4 -4l-2 -6l5 -1l1 -5M307 68l5 -3l1 -6l4 -3l1 -4M312 65l6 -1M345 74l5 -1l0 -6l4 -4l0 -6l4 -5M242 78l-1 4l1 6l-4 4l2 5l-2 5l1 6l-3 5l5 3l0 5l1 6l0 6l4 3l0 5M248 59l5 -2l-2 -4l4 -3l0 -5l5 -1l2 -4l5 0l2 -6M420 86l1 -4l-5 -3l2 -6l-5 -3l-1 -5l-6 -2l2 -6l-4 -4l0 -6l-4 0l-1 -5l-5 -4M456 79l4 -3l1 -4l6 -4l-1 -5l4 -4l1 -5l6 -1M135 91l2 5l6 1l0 6l5 1l3 6l4 3l0 5M137 96l6 -1M221 70l0 6l5 4l1 5l5 2l3 6l4 0l1 5l5 -1l2 5l3 4l0 6M387 89l4 -5l-3 -5l3 -4l-2 -5l4 -4l-2 -6l1 -4l-2 -5l1 -6M207 85l3 -5l-3 -3l1 -6l-3 -4l2 -6l-4 -4l2 -5l-3 -4l4 -4l-4 -4l2 -4l-4 -5l2 -5l-4 -3l0 -6M466 81l4 -5l2 -6l5 -2l0 -5l6 -3l-4 -4l5 -1l-3 -4l2 -4M317 85l4 -5l-3 -5l4 -3l-2 -6l4 -4l-3 -4l3 -4l-3 -6l0 -5l-4 -3l0 -6M434 87l0 -5l-6 -2l-1 -5l-5 -4l0 -5l-4 -4l1 -6l-5 -2l1 -6l-4 -2l1 -6M254 71l3 -4l-5 -4l3 -6l-3 -5l2 -4l-2 -5l2 -4l-4 -5l0 -6l-3 -5l1 -5l-3 -4l3 -5M124 101l-4 -5l-4 0l-1 -5l-6 1M381 81l-2 5l3 5l-2 5l1 5l-4 3l-2 5l-4 3l1 6l-4 3l1 7l-4 4l1 6l-4 4l2 5l-4 4M261 76l4 -2l3 -4l5 -2l4 -5l4 0l2 -4l7 1l5 -3M212 78l-1 6l1 5l-2 6l4 3l-2 5l1 5l-2 5l3 6l-3 5l2 5l-3 4l2 5M278 84l5 -2l1 -4l4 -3l0 -5l4 -2l4 -4l4 -1l0 -5l5 -1M533 93l-4 2l1 5l-4 3l3 5l-5 5l2 6l-2 4l3 5M544 94l-2 4l0 5l-5 3l0 5l-5 1l-3 4l-5 2l-1 6l-5 1M466 104l-4 4l1 6l0 5l2 5l-4 4l3 4l-3 5l3 4l-4 5M227 71l-4 4l3 4l-4 5l2 5l0 4l3 3l-2 4l4 6l-4 5l0 6M396 100l-3 4l3 4l-2 6l2 4l-3 5l4 5l-2 4l4 6l1 5l4 3l-4 3M553 87l-3 6l3 6l-4 2l1 7l-6 1l-1 6l-3 3M468 74l3 -3l0 -5l4 -3l0 -6l4 -4l-1 -4M165 80l3 -5l-2 -6l3 -4l-2 -4l3 -4l-2 -5l4 -5l-4 -5l2 -5l-4 -4M203 78l1 -6l0 -6l2 -6l1 -5l5 -3l-1 -6l6 -1l0 -6l3 -5l-2 -6l3 -5l-4 -3M261 72l3 -5l-3 -6l4 -4l-3 -5l3 -5l-1 -4l4 -4l-1 -5l3 -5l-2 -5l5 -3M221 83l0 5l5 4l-3 6l5 4l2 6l5 0l1 6l3 5l3 4l6 1l1 5l5 2M481 72l1 -5l-3 -3l1 -5l-4 -1l0 -6M343 94l-3 6l3 5l-2 6l3 5l-1 5l4 4l-2 6l4 5M194 89l-3 5l4 5l-3 4l1 5l-3 5l2 5l-2 5l2 5l-2 4l3 5l-4 4M546 84l3 -4l-2 -5l4 -4l-1 -5l4 -5l0 -5l4 -4M304 90l-4 3l2 5l-5 3l1 5l-2 4l5 5l-3 4l1 5l-4 3l3 5l0 5M144 74l0 -5l-5 -3l-4 -5l-4 -1l-2 -4l-5 -4M424 97l-4 3l1 5l-1 6l0 5l-3 5l2 6l-3 5l4 4l-2 5M420 136l5 3M474 88l-2 6l0 6l-3 4l3 5l-3 5l4 4l-4 3l5 4l-2 5l3 5l-4 5l3 4M472 130l6 2M246 63l3 -5l-4 -4l5 -3l-4 -4l0 -6l-6 -2l2 -5l-3 -4l0 -5M466 80l5 -4l-5 -4l1 -5l-4 -5l2 -4l-1 -6l6 -4M465 58l-5 -3M445 74l0 -5l-5 -3l1 -6l-3 -4l2 -6l-1 -4l2 -5l-5 -2l1 -6l-5 -4M475 94l-3 5l4 3l-4 5l2 5l-3 3l2 5l-3 6l5 4l-2 5l4 4l-1 5M221 69l-2 5l1 7l-3 4l2 4l-5 3l0 6l-5 3l-1 6l-3 3l0 5l-5 2l0 5M210 65l3 -4l2 -6l4 -2l3 -6l6 -1l1 -5l5 -2l4 -5M215 55l-4 -5M183 92l-2 5l3 4l-2 4l0 5l-3 4l-1 5l-5 4l0 4l-4 4l0 6l-4 2M182 110l6 2M422 89l-4 5l2 6l-2 4l0 6l-1 5l2 5l-3 4l2 6l-3 4l3 4l-5 4l0 4l-4 3l1 4M227 87l-3 4l3 3l-3 5l5 4l-1 5l4 2l-1 5l4 3l-5 4M230 122l-6 3M347 94l-3 5l4 4l2 5l5 2l0 6l4 3l1 5l4 1l0 6l5 4M351 93l4 -6l-2 -6l2 -4l-6 -1l-1 -6l-6 -2l-2 -5l-5 -1l0 -5l-4 -3l-1 -6l-3 -6M196 93l-3 4l3 5l-3 5l3 4l-2 4l1 5l-3 5l3 5l-3 4M193 97l6 2M463 95l-3 4l4 4l-3 5l3 4l-4 3l1 5l-2 5l3 5l-4 3M460 99l6 1M206 79l4 -4l-3 -5l-1 -6l-5 -1l-2 -4l-6 -3l0 -5l-5 -3l1 -6l-2 -4M189 42l-6 -3M406 92l-4 5l4 4l-5 5l2 6l-3 3l2 6l-4 3l3 4l-2 4l2 6l-4 4l3 5M401 128l-6 1M324 99l-1 5l4 5l2 6l3 3l0 5l2 5M533 77l3 -5l-2 -5l4 -4l-4 -4l-1 -6M441 99l-1 6l3 6l-3 4l3 3l-5 4l3 4l-4 4" stroke="#2c0a6a" stroke-width="4.8"/><path d="M491 95l-2 4l3 5l-2 6l2 4l-3 4l3 5M492 114l-6 3M365 79l5 -3l0 -5l2 -5l0 -4l6 -3l0 -5l6 -1l0 -6M157 92l-4 3l0 5l-4 3l0 7l-5 3l0 6l-5 5l1 6M353 87l2 -5l-2 -5l3 -4l0 -6l4 -4l0 -5l5 -1l-2 -4l4 -4l-2 -6l5 -1l1 -5M307 68l5 -3l1 -6l4 -3l1 -4M312 65l6 -1M345 74l5 -1l0 -6l4 -4l0 -6l4 -5M242 78l-1 4l1 6l-4 4l2 5l-2 5l1 6l-3 5l5 3l0 5l1 6l0 6l4 3l0 5M248 59l5 -2l-2 -4l4 -3l0 -5l5 -1l2 -4l5 0l2 -6M420 86l1 -4l-5 -3l2 -6l-5 -3l-1 -5l-6 -2l2 -6l-4 -4l0 -6l-4 0l-1 -5l-5 -4M456 79l4 -3l1 -4l6 -4l-1 -5l4 -4l1 -5l6 -1M135 91l2 5l6 1l0 6l5 1l3 6l4 3l0 5M137 96l6 -1M221 70l0 6l5 4l1 5l5 2l3 6l4 0l1 5l5 -1l2 5l3 4l0 6M387 89l4 -5l-3 -5l3 -4l-2 -5l4 -4l-2 -6l1 -4l-2 -5l1 -6M207 85l3 -5l-3 -3l1 -6l-3 -4l2 -6l-4 -4l2 -5l-3 -4l4 -4l-4 -4l2 -4l-4 -5l2 -5l-4 -3l0 -6M466 81l4 -5l2 -6l5 -2l0 -5l6 -3l-4 -4l5 -1l-3 -4l2 -4M317 85l4 -5l-3 -5l4 -3l-2 -6l4 -4l-3 -4l3 -4l-3 -6l0 -5l-4 -3l0 -6M434 87l0 -5l-6 -2l-1 -5l-5 -4l0 -5l-4 -4l1 -6l-5 -2l1 -6l-4 -2l1 -6M254 71l3 -4l-5 -4l3 -6l-3 -5l2 -4l-2 -5l2 -4l-4 -5l0 -6l-3 -5l1 -5l-3 -4l3 -5M124 101l-4 -5l-4 0l-1 -5l-6 1M381 81l-2 5l3 5l-2 5l1 5l-4 3l-2 5l-4 3l1 6l-4 3l1 7l-4 4l1 6l-4 4l2 5l-4 4M261 76l4 -2l3 -4l5 -2l4 -5l4 0l2 -4l7 1l5 -3M212 78l-1 6l1 5l-2 6l4 3l-2 5l1 5l-2 5l3 6l-3 5l2 5l-3 4l2 5M278 84l5 -2l1 -4l4 -3l0 -5l4 -2l4 -4l4 -1l0 -5l5 -1M533 93l-4 2l1 5l-4 3l3 5l-5 5l2 6l-2 4l3 5M544 94l-2 4l0 5l-5 3l0 5l-5 1l-3 4l-5 2l-1 6l-5 1M466 104l-4 4l1 6l0 5l2 5l-4 4l3 4l-3 5l3 4l-4 5M227 71l-4 4l3 4l-4 5l2 5l0 4l3 3l-2 4l4 6l-4 5l0 6M396 100l-3 4l3 4l-2 6l2 4l-3 5l4 5l-2 4l4 6l1 5l4 3l-4 3M553 87l-3 6l3 6l-4 2l1 7l-6 1l-1 6l-3 3M468 74l3 -3l0 -5l4 -3l0 -6l4 -4l-1 -4M165 80l3 -5l-2 -6l3 -4l-2 -4l3 -4l-2 -5l4 -5l-4 -5l2 -5l-4 -4M203 78l1 -6l0 -6l2 -6l1 -5l5 -3l-1 -6l6 -1l0 -6l3 -5l-2 -6l3 -5l-4 -3M261 72l3 -5l-3 -6l4 -4l-3 -5l3 -5l-1 -4l4 -4l-1 -5l3 -5l-2 -5l5 -3M221 83l0 5l5 4l-3 6l5 4l2 6l5 0l1 6l3 5l3 4l6 1l1 5l5 2M481 72l1 -5l-3 -3l1 -5l-4 -1l0 -6M343 94l-3 6l3 5l-2 6l3 5l-1 5l4 4l-2 6l4 5M194 89l-3 5l4 5l-3 4l1 5l-3 5l2 5l-2 5l2 5l-2 4l3 5l-4 4M546 84l3 -4l-2 -5l4 -4l-1 -5l4 -5l0 -5l4 -4M304 90l-4 3l2 5l-5 3l1 5l-2 4l5 5l-3 4l1 5l-4 3l3 5l0 5M144 74l0 -5l-5 -3l-4 -5l-4 -1l-2 -4l-5 -4M424 97l-4 3l1 5l-1 6l0 5l-3 5l2 6l-3 5l4 4l-2 5M420 136l5 3M474 88l-2 6l0 6l-3 4l3 5l-3 5l4 4l-4 3l5 4l-2 5l3 5l-4 5l3 4M472 130l6 2M246 63l3 -5l-4 -4l5 -3l-4 -4l0 -6l-6 -2l2 -5l-3 -4l0 -5M466 80l5 -4l-5 -4l1 -5l-4 -5l2 -4l-1 -6l6 -4M465 58l-5 -3M445 74l0 -5l-5 -3l1 -6l-3 -4l2 -6l-1 -4l2 -5l-5 -2l1 -6l-5 -4M475 94l-3 5l4 3l-4 5l2 5l-3 3l2 5l-3 6l5 4l-2 5l4 4l-1 5M221 69l-2 5l1 7l-3 4l2 4l-5 3l0 6l-5 3l-1 6l-3 3l0 5l-5 2l0 5M210 65l3 -4l2 -6l4 -2l3 -6l6 -1l1 -5l5 -2l4 -5M215 55l-4 -5M183 92l-2 5l3 4l-2 4l0 5l-3 4l-1 5l-5 4l0 4l-4 4l0 6l-4 2M182 110l6 2M422 89l-4 5l2 6l-2 4l0 6l-1 5l2 5l-3 4l2 6l-3 4l3 4l-5 4l0 4l-4 3l1 4M227 87l-3 4l3 3l-3 5l5 4l-1 5l4 2l-1 5l4 3l-5 4M230 122l-6 3M347 94l-3 5l4 4l2 5l5 2l0 6l4 3l1 5l4 1l0 6l5 4M351 93l4 -6l-2 -6l2 -4l-6 -1l-1 -6l-6 -2l-2 -5l-5 -1l0 -5l-4 -3l-1 -6l-3 -6M196 93l-3 4l3 5l-3 5l3 4l-2 4l1 5l-3 5l3 5l-3 4M193 97l6 2M463 95l-3 4l4 4l-3 5l3 4l-4 3l1 5l-2 5l3 5l-4 3M460 99l6 1M206 79l4 -4l-3 -5l-1 -6l-5 -1l-2 -4l-6 -3l0 -5l-5 -3l1 -6l-2 -4M189 42l-6 -3M406 92l-4 5l4 4l-5 5l2 6l-3 3l2 6l-4 3l3 4l-2 4l2 6l-4 4l3 5M401 128l-6 1M324 99l-1 5l4 5l2 6l3 3l0 5l2 5M533 77l3 -5l-2 -5l4 -4l-4 -4l-1 -6M441 99l-1 6l3 6l-3 4l3 3l-5 4l3 4l-4 4" stroke="#6a1ed2" stroke-width="3"/></g>
<path d="M262 67l4 5M671 87l4 4M619 141l-8 1M882 100l-4 8M936 93l6 5M428 116l4 0M975 77l5 2M875 74l-2 5M450 100l7 5M730 83l1 4M855 67l5 0M228 81l9 0M947 70l-7 3M472 113l-1 4M805 104l4 0M603 103l-7 4M471 87l-5 7M945 78l3 3M757 135l-4 2M197 63l8 4M559 104l5 8M379 47l7 3M412 102l-5 0M916 49l8 3M180 72l5 2M970 80l-4 5M848 100l-3 3M250 97l-1 4M273 83l-4 4M698 75l-5 3M685 79l7 4M693 107l-4 4M453 107l4 3M878 116l-8 1M885 71l-2 5M838 142l-4 0M481 67l7 1M241 51l-6 7M322 96l1 8M765 83l-9 0M507 92l-4 1M313 78l3 8M785 54l-5 0M350 92l-1 5M215 68l2 5M682 84l-4 4M896 61l2 8M655 99l-7 2M479 88l-5 3M367 101l8 3M273 89l1 5M825 78l4 1M587 100l-1 4M296 85l3 5M528 93l-5 6M742 99l-4 3M152 82l-4 4M686 88l-7 2M466 71l1 5M735 73l1 6M510 85l2 6M734 120l0 9M351 84l-4 3M928 75l7 0M167 79l3 7M829 90l8 1M587 85l4 3M817 103l-6 1M967 80l3 5M352 74l-7 4M248 51l6 4M285 89l-8 2M443 55l-5 3M125 108l-1 9M443 74l3 2M236 77l4 6M256 98l0 4M161 50l-6 0M538 78l-8 2M301 99l7 1M617 85l-1 6M516 118l-5 6M154 82l-2 5M522 106l-9 1M125 110l7 5M664 91l-3 3M298 63l0 6M671 83l4 4M369 78l-2 6M363 92l7 1M867 91l1 5M433 76l1 9M474 78l-2 4M575 74l8 3M599 63l-7 3M729 94l-3 5M713 80l-6 0M717 99l-4 2M320 88l8 0M234 97l8 1M238 65l5 3M431 100l0 5M560 107l1 5M152 93l-1 4M661 92l3 3M650 111l4 3M365 121l8 3M144 85l0 7M172 76l4 7M557 89l0 7M944 83l-3 6M308 86l-5 6M904 95l4 4M798 126l4 5M933 86l0 8M363 117l5 4M860 85l-1 6M277 50l-3 8M540 86l-5 4M577 94l4 3M351 99l-3 6M506 104l1 5M722 98l8 0M217 65l5 0M612 82l0 6M343 82l3 7M800 123l-4 3M544 90l3 3M950 90l3 6M664 91l0 7M245 94l7 1M438 130l-5 7M222 40l-4 1M573 95l-5 4M892 88l3 8M366 76l-5 4M886 108l-6 3M605 91l-9 1M800 48l-4 2M502 83l-8 3M600 90l-3 4M627 73l-4 4M422 79l7 2M508 63l6 6M837 84l-4 5M701 118l-9 1M618 97l-6 6M229 105l5 1M356 65l5 0M698 93l4 3M273 61l-5 4M284 120l2 9M708 96l-6 3M625 104l2 5M629 112l-8 2M536 73l4 4M621 118l6 3M594 87l-3 8M950 75l-4 6M901 93l-6 6M822 135l-1 5M631 92l1 8M243 102l5 0M461 81l5 6M432 130l3 3M605 114l1 7M686 82l5 7M868 67l6 5M522 107l-3 8M807 73l5 3M739 77l-2 7M473 77l0 7M265 47l5 4M683 116l5 5M293 69l-8 2M741 87l-3 8M480 89l5 5M223 97l1 5M513 93l6 6M584 110l0 6M245 82l-8 1M355 119l0 7M320 71l6 4M219 72l-7 1M326 107l-1 5M177 80l2 9M206 76l0 8M892 85l0 6M833 96l-2 6M320 103l1 7M540 64l-7 5M136 98l-7 2M853 89l-7 5M893 84l-4 1M969 71l-3 3M888 94l5 5M432 112l-5 7M155 86l0 7M399 76l-2 4M977 71l7 2M766 101l6 4M450 91l8 1M613 104l1 8M886 69l-8 3M688 93l-2 7M285 81l5 0M241 50l-4 5M296 76l0 8M402 102l7 4M318 93l-7 2" stroke="#111" stroke-width="3.4" fill="none" stroke-linecap="round"/>
<g fill="none" stroke-linecap="round" stroke-linejoin="round"><path d="M171 62l1 -4l-1 -6l3 -5l-1 -6l0 -5M475 83l1 -4l-4 -4l2 -5l-4 -5l-1 -5l-2 -4l1 -5l-3 -4l1 -4l-2 -6M211 83l-4 3l2 5l-5 3l3 3l-6 3l2 4l-4 4l-1 5l-5 4l3 5l-4 3M175 93l-3 4l6 3l-2 6l-1 6M172 97l6 2M235 91l-4 5l-1 6l-2 4l1 4l-4 3l1 6M317 87l3 -5l-2 -4l4 -5l-1 -4l4 -5l-1 -6l4 -3l0 -5l5 -4l-3 -6l1 -5l-4 -5M406 73l3 -5l-2 -4l3 -5l-2 -5l3 -4l-4 -4M220 71l-1 6l4 3l1 6l5 2l3 4l5 2l1 5l5 0l4 5l6 0l3 5l4 -1l-1 6l6 0M253 104l6 -1M445 87l5 -4l-5 -4l1 -6l-3 -4l2 -5l-3 -6l5 -2l0 -5l4 -2l-2 -6M325 87l3 -5l-1 -6l4 -4l-1 -6l2 -5l-4 -4l-2 -5l-3 -4M529 86l6 -2l1 -5l6 -3l0 -5l4 -2l1 -6l6 -2l0 -5M207 73l3 -4l-2 -4l1 -5l-4 -3l3 -4l-3 -4l4 -2l-2 -5l4 -5l-3 -6l2 -4l-4 -3l2 -4l-3 -6M458 104l-3 3l1 5l-4 2l1 5l-5 4M365 92l-4 2l2 5l-4 5l-1 5l-6 0l-1 5l-5 0l-3 4l-6 -1M518 87l4 -4l1 -6l3 -3l-1 -5l3 -4l-3 -5l4 -4l-3 -5M177 67l4 -5l-4 -5l3 -4l-4 -5l2 -4l-3 -5l4 -5l-2 -5l4 -3M444 71l5 -3l-3 -6l4 -3l1 -5l5 -2l0 -5l5 -1l-1 -6l4 -4M400 81l2 -5l-2 -4l2 -5l-2 -4l2 -5l0 -6l3 -5l-2 -4M199 97l0 5l5 5l-3 5l3 5l-1 6l4 3l-1 6M146 78l-2 5l4 4l1 5l1 5l-3 3l3 5l-1 5l1 4M550 95l5 -4l0 -5l6 -2l-2 -6l5 -3l-1 -6l5 -2l3 -5M281 72l5 -3l2 -6l4 -3l3 -5l5 -2l2 -5l4 -3l0 -4l5 -2l-1 -5M156 83l-3 4l-2 5l-4 4l0 5l-5 2l1 7M295 84l-3 5l3 3l-4 3l0 5l-3 6l2 5l-5 2l-1 5l-5 1l-1 5M190 94l-3 5l1 5l-3 4l3 4l-3 6l2 4l-2 4l2 4M455 79l0 -6l-5 -3l1 -6l-2 -5l0 -7l0 -5l1 -5M534 86l2 -4l-3 -5l5 -2l-2 -4l5 -3l1 -5l4 -2l3 -6M549 55l6 -1M501 74l4 -5l-1 -5l3 -5l-4 -4l2 -5l-4 -4l4 -3M371 79l5 -3l-2 -4l5 -4l-2 -5l4 -5l-1 -6l5 -4l0 -5l5 -1l0 -5l5 -1l1 -5M376 76l6 0M233 65l3 -4l-1 -5l1 -4l-3 -4l3 -6l-5 -2l3 -4l-3 -5M395 78l2 -6l-4 -4l2 -5l-5 -3l2 -6l-3 -5l0 -5l-5 -4l-1 -6l-3 -3l1 -5l-2 -4M389 49l5 -4M432 99l-1 6l1 6l-4 5l1 4l-4 4l1 6l-4 4l3 4l-2 4l1 5l-3 4M255 86l-5 4l-1 6l-3 4l1 6l-3 5l0 6M219 93l-2 6l4 3l-1 5l5 3l0 4l3 6M505 92l-3 4l4 6l-3 4l1 6l-4 4l2 5l-3 5M499 126l-6 2M173 77l-3 3l1 5l-4 5l3 4l-2 4l1 5l-4 4l3 5l-1 6l6 2l-1 5M440 104l-3 4l2 6l-3 5l0 5l-4 5M261 92l0 4l4 5l-1 6l4 3l-1 6l3 4l1 6l4 1M342 81l5 -3l-3 -6l3 -5l-3 -5l1 -6l-2 -4l3 -5l-3 -5l5 -2l-1 -5l5 -3M213 67l3 -5l-3 -5l4 -2l-1 -6l4 -1l-4 -4l4 -3l1 -4l5 -1M226 36l-6 -1M409 94l-3 5l1 5l-4 3l-2 6l-1 4l2 5l-4 4l1 5l-3 4l1 6l-3 3M168 87l-2 5l1 5l-3 4l3 4l0 5l3 4l-4 2l2 5l-2 4l1 6M385 101l-2 6l5 4l-2 5l2 5l-2 6l0 6l-3 6l3 3l0 6l3 5M187 80l0 5l4 2l-2 6l3 5l-2 5l3 5l-2 5l3 4l-3 5M517 93l2 6l5 2l3 4l5 1l3 5l5 0l3 4l5 0l3 4M257 66l1 -5l-2 -6l2 -5l-1 -6l3 -3l-3 -4l6 -3l-2 -6M482 91l-2 -5l-4 -1l-1 -5l-1 -5l-1 -5l-4 -6l0 -5l-1 -5l1 -5l-2 -5l2 -5M496 84l4 5l5 2l3 5l5 -2l5 5l6 1l5 3l6 -1l4 2l5 -2M235 75l3 -4l-2 -6l3 -4l-3 -4l1 -6l-4 -3l-1 -5l-4 -3l-1 -5l-6 -3M268 69l4 -6l-4 -4l1 -5l-2 -5l4 -2l-1 -6l3 -5M496 87l-1 5l2 6l-1 4l2 6l-5 5l3 4l-2 6l0 5M493 113l-6 2M533 77l4 -5l-3 -4l3 -5l0 -5M537 72l-6 -2M163 74l2 -6l-5 -4l1 -6l-5 -4l0 -5l-4 -3l0 -5l-5 -3l3 -6l-5 -2l1 -6M425 89l-3 3l2 6l-5 3l1 6l-3 4l2 6l-4 3l2 7l-4 2l-2 6l-5 0l-1 7l-5 3l2 5M414 79l4 -4l-5 -3l1 -6l-2 -5l3 -5l-4 -4l4 -5l-3 -2M415 47l-6 -1M446 93l-1 5l4 4l1 6l3 3l-3 5l5 3l-1 6l5 3l-1 7l6 1l-1 6l5 4l0 6M450 116l-5 4M256 79l5 -3l1 -6l5 -3l2 -6l4 -2l0 -5l5 -3l0 -7l5 -3l-2 -6l5 -3M273 54l-4 -5M257 85l-5 3l3 5l-5 3l3 5l-4 3l0 6l-5 5M505 76l7 -1l2 -4l6 0l4 -3l7 0l2 -5l6 1l4 -4M147 85l0 -6l-4 -5l1 -5l-5 -3l2 -5l-2 -4l0 -5l-1 -4l2 -5l-3 -5l4 -4M529 86l3 -4l-2 -4l2 -4l3 -4l2 -5l2 -6l4 -4l1 -5M530 78l-6 -3M469 84l-2 5l2 6l-3 4l-1 6l-3 5l1 6l-6 3l3 6M450 81l4 -4l-5 -5l4 -4l-3 -4l0 -6l-4 -4l2 -6M519 83l-2 5l3 5l-2 4l3 3l0 5l4 4l-1 6l5 4M514 83l2 -5l-5 -3l-1 -6l-4 -5l0 -6l-2 -5l1 -6l-3 -5l1 -5" stroke="#2c0a6a" stroke-width="4.8"/><path d="M171 62l1 -4l-1 -6l3 -5l-1 -6l0 -5M475 83l1 -4l-4 -4l2 -5l-4 -5l-1 -5l-2 -4l1 -5l-3 -4l1 -4l-2 -6M211 83l-4 3l2 5l-5 3l3 3l-6 3l2 4l-4 4l-1 5l-5 4l3 5l-4 3M175 93l-3 4l6 3l-2 6l-1 6M172 97l6 2M235 91l-4 5l-1 6l-2 4l1 4l-4 3l1 6M317 87l3 -5l-2 -4l4 -5l-1 -4l4 -5l-1 -6l4 -3l0 -5l5 -4l-3 -6l1 -5l-4 -5M406 73l3 -5l-2 -4l3 -5l-2 -5l3 -4l-4 -4M220 71l-1 6l4 3l1 6l5 2l3 4l5 2l1 5l5 0l4 5l6 0l3 5l4 -1l-1 6l6 0M253 104l6 -1M445 87l5 -4l-5 -4l1 -6l-3 -4l2 -5l-3 -6l5 -2l0 -5l4 -2l-2 -6M325 87l3 -5l-1 -6l4 -4l-1 -6l2 -5l-4 -4l-2 -5l-3 -4M529 86l6 -2l1 -5l6 -3l0 -5l4 -2l1 -6l6 -2l0 -5M207 73l3 -4l-2 -4l1 -5l-4 -3l3 -4l-3 -4l4 -2l-2 -5l4 -5l-3 -6l2 -4l-4 -3l2 -4l-3 -6M458 104l-3 3l1 5l-4 2l1 5l-5 4M365 92l-4 2l2 5l-4 5l-1 5l-6 0l-1 5l-5 0l-3 4l-6 -1M518 87l4 -4l1 -6l3 -3l-1 -5l3 -4l-3 -5l4 -4l-3 -5M177 67l4 -5l-4 -5l3 -4l-4 -5l2 -4l-3 -5l4 -5l-2 -5l4 -3M444 71l5 -3l-3 -6l4 -3l1 -5l5 -2l0 -5l5 -1l-1 -6l4 -4M400 81l2 -5l-2 -4l2 -5l-2 -4l2 -5l0 -6l3 -5l-2 -4M199 97l0 5l5 5l-3 5l3 5l-1 6l4 3l-1 6M146 78l-2 5l4 4l1 5l1 5l-3 3l3 5l-1 5l1 4M550 95l5 -4l0 -5l6 -2l-2 -6l5 -3l-1 -6l5 -2l3 -5M281 72l5 -3l2 -6l4 -3l3 -5l5 -2l2 -5l4 -3l0 -4l5 -2l-1 -5M156 83l-3 4l-2 5l-4 4l0 5l-5 2l1 7M295 84l-3 5l3 3l-4 3l0 5l-3 6l2 5l-5 2l-1 5l-5 1l-1 5M190 94l-3 5l1 5l-3 4l3 4l-3 6l2 4l-2 4l2 4M455 79l0 -6l-5 -3l1 -6l-2 -5l0 -7l0 -5l1 -5M534 86l2 -4l-3 -5l5 -2l-2 -4l5 -3l1 -5l4 -2l3 -6M549 55l6 -1M501 74l4 -5l-1 -5l3 -5l-4 -4l2 -5l-4 -4l4 -3M371 79l5 -3l-2 -4l5 -4l-2 -5l4 -5l-1 -6l5 -4l0 -5l5 -1l0 -5l5 -1l1 -5M376 76l6 0M233 65l3 -4l-1 -5l1 -4l-3 -4l3 -6l-5 -2l3 -4l-3 -5M395 78l2 -6l-4 -4l2 -5l-5 -3l2 -6l-3 -5l0 -5l-5 -4l-1 -6l-3 -3l1 -5l-2 -4M389 49l5 -4M432 99l-1 6l1 6l-4 5l1 4l-4 4l1 6l-4 4l3 4l-2 4l1 5l-3 4M255 86l-5 4l-1 6l-3 4l1 6l-3 5l0 6M219 93l-2 6l4 3l-1 5l5 3l0 4l3 6M505 92l-3 4l4 6l-3 4l1 6l-4 4l2 5l-3 5M499 126l-6 2M173 77l-3 3l1 5l-4 5l3 4l-2 4l1 5l-4 4l3 5l-1 6l6 2l-1 5M440 104l-3 4l2 6l-3 5l0 5l-4 5M261 92l0 4l4 5l-1 6l4 3l-1 6l3 4l1 6l4 1M342 81l5 -3l-3 -6l3 -5l-3 -5l1 -6l-2 -4l3 -5l-3 -5l5 -2l-1 -5l5 -3M213 67l3 -5l-3 -5l4 -2l-1 -6l4 -1l-4 -4l4 -3l1 -4l5 -1M226 36l-6 -1M409 94l-3 5l1 5l-4 3l-2 6l-1 4l2 5l-4 4l1 5l-3 4l1 6l-3 3M168 87l-2 5l1 5l-3 4l3 4l0 5l3 4l-4 2l2 5l-2 4l1 6M385 101l-2 6l5 4l-2 5l2 5l-2 6l0 6l-3 6l3 3l0 6l3 5M187 80l0 5l4 2l-2 6l3 5l-2 5l3 5l-2 5l3 4l-3 5M517 93l2 6l5 2l3 4l5 1l3 5l5 0l3 4l5 0l3 4M257 66l1 -5l-2 -6l2 -5l-1 -6l3 -3l-3 -4l6 -3l-2 -6M482 91l-2 -5l-4 -1l-1 -5l-1 -5l-1 -5l-4 -6l0 -5l-1 -5l1 -5l-2 -5l2 -5M496 84l4 5l5 2l3 5l5 -2l5 5l6 1l5 3l6 -1l4 2l5 -2M235 75l3 -4l-2 -6l3 -4l-3 -4l1 -6l-4 -3l-1 -5l-4 -3l-1 -5l-6 -3M268 69l4 -6l-4 -4l1 -5l-2 -5l4 -2l-1 -6l3 -5M496 87l-1 5l2 6l-1 4l2 6l-5 5l3 4l-2 6l0 5M493 113l-6 2M533 77l4 -5l-3 -4l3 -5l0 -5M537 72l-6 -2M163 74l2 -6l-5 -4l1 -6l-5 -4l0 -5l-4 -3l0 -5l-5 -3l3 -6l-5 -2l1 -6M425 89l-3 3l2 6l-5 3l1 6l-3 4l2 6l-4 3l2 7l-4 2l-2 6l-5 0l-1 7l-5 3l2 5M414 79l4 -4l-5 -3l1 -6l-2 -5l3 -5l-4 -4l4 -5l-3 -2M415 47l-6 -1M446 93l-1 5l4 4l1 6l3 3l-3 5l5 3l-1 6l5 3l-1 7l6 1l-1 6l5 4l0 6M450 116l-5 4M256 79l5 -3l1 -6l5 -3l2 -6l4 -2l0 -5l5 -3l0 -7l5 -3l-2 -6l5 -3M273 54l-4 -5M257 85l-5 3l3 5l-5 3l3 5l-4 3l0 6l-5 5M505 76l7 -1l2 -4l6 0l4 -3l7 0l2 -5l6 1l4 -4M147 85l0 -6l-4 -5l1 -5l-5 -3l2 -5l-2 -4l0 -5l-1 -4l2 -5l-3 -5l4 -4M529 86l3 -4l-2 -4l2 -4l3 -4l2 -5l2 -6l4 -4l1 -5M530 78l-6 -3M469 84l-2 5l2 6l-3 4l-1 6l-3 5l1 6l-6 3l3 6M450 81l4 -4l-5 -5l4 -4l-3 -4l0 -6l-4 -4l2 -6M519 83l-2 5l3 5l-2 4l3 3l0 5l4 4l-1 6l5 4M514 83l2 -5l-5 -3l-1 -6l-4 -5l0 -6l-2 -5l1 -6l-3 -5l1 -5" stroke="#6a1ed2" stroke-width="3"/></g>
<g fill="none" stroke-linecap="round" stroke-linejoin="round"><path d="M825 77l2 -5l-2 -5l3 -4l-2 -5l3 -5l-2 -5l4 -4l-1 -7M827 48l-6 -2M621 79l2 -4l-1 -6l2 -4l-3 -6l2 -5M624 65l-6 -2M768 93l-1 6l3 4l1 4l2 6l-4 4l6 2l-2 6l3 5l-2 4M805 96l1 -5l-3 -4l2 -5l-5 -3l0 -6l-4 -2l0 -5l-5 -3l0 -5l-5 0l-3 -5l-5 0l-3 -5M783 53l6 -3M653 92l-1 4l4 5l-4 5l4 4l-2 4l4 2l-2 6l5 3M656 101l6 1M931 91l-4 4l1 5l-4 5M736 102l-1 4l3 5l1 7l5 3l0 5l6 3M739 118l-5 4M663 90l-2 6l5 5l-1 4l1 6l-3 4l1 5l-4 3l0 4l-1 5M692 85l-3 5l1 7l-5 1l-1 7l-5 3l0 6l-2 4M823 92l0 -5l-2 -3l2 -5l-3 -5l3 -4l-3 -4l4 -4l-5 -5l2 -4l-1 -7l3 -2l0 -6l5 -2M643 80l5 -2l-1 -7l3 -4l-2 -6l4 -4M652 57l-6 -3M731 80l4 -3l1 -6l6 -3l3 -5M742 68l6 0M704 104l-2 5l2 6l-3 5l3 5l-2 4M701 120l-5 4M614 75l4 -2l0 -6l4 -4l-2 -6l6 -3l-3 -5l5 -3M618 67l6 0M967 83l-4 4l1 5M903 84l-2 6l2 6l-2 5l1 7l-3 4l1 6l-4 3l3 4l0 5l3 4M902 108l6 1M810 87l-2 5l2 4l-3 4l1 6l-6 3l1 7l-5 2l-1 5l-3 5M803 116l6 2M951 80l4 -1l-1 -5l5 -3l-1 -6l4 -2l2 -6M962 63l6 2M723 96l0 5l3 4l-3 3l3 6l-2 5l5 2l1 6l3 4l1 5M824 91l-2 -6l-3 -4l-1 -6l-6 -2l0 -6l-4 -3l1 -7l-3 -5l0 -5M808 64l4 -5M656 85l3 -4l-3 -3l0 -6l-4 -3l2 -5l-2 -4l3 -5l-2 -5M947 77l-1 6l4 4l-3 4l6 3M947 91l-6 3M714 97l-2 5l3 4l-2 6l3 3l-2 4l2 6l-3 5M713 112l6 1M924 81l-3 5l4 4l-3 5l2 4l-2 4l4 3l-1 6M577 84l1 -6l-4 -3l0 -5l-1 -5l2 -4l-2 -5l4 -5l-5 -4l-1 -5l-2 -5M735 85l5 -4l1 -4l3 -4l-3 -5l5 -4l-2 -4l5 -4M744 60l6 0M932 73l4 -4l-1 -6l1 -4M712 84l4 -2l3 -5l5 0l2 -6l6 0l2 -6l5 -2l3 -4M739 63l6 3M862 84l-2 5l3 6l-2 6l4 4l0 6l6 2l-2 5l5 2M724 93l4 -5l-2 -5l3 -3l1 -5l5 -1l1 -5l3 -4M824 96l5 -4l-3 -5l2 -4l-1 -5l3 -3l-2 -6l4 -5l0 -5l3 -5l1 -4l3 -4l-1 -6l5 -3M830 75l-6 -3M871 87l3 -6l-5 -4l3 -5l-4 -4l0 -6l-4 -3l0 -7M868 62l-6 -1M824 80l2 -5l-3 -6l3 -4l-2 -4l0 -6l0 -5l3 -3l-2 -4M824 50l6 -2M787 100l-2 5l1 4l-4 3l-3 5l-4 3l1 5l-4 4l3 4M782 112l-6 0M882 91l-4 4l2 4l-4 3l1 6l-1 5l3 4l-1 4l3 3l-1 6l5 4M877 108l-6 2M763 98l1 -6l-3 -5l2 -5l-4 -4l1 -4l-5 -3l-1 -5l-2 -4l1 -6l-4 -4l1 -4M551 89l2 -6l0 -6l4 -4l0 -6l5 -3l0 -5l3 -4l-1 -5l5 -4l-2 -6M888 76l3 -3l-1 -5l4 -3l0 -5l3 -5M891 73l-6 -1M642 81l4 -3l-3 -6l3 -4l-4 -3l2 -6l-6 -2l0 -6l-4 -3l0 -7M643 72l-6 -3M975 78l-4 3l2 5l-5 3M971 81l-6 -1M577 91l-3 4l3 6l-3 3l4 5l0 5l5 2l1 6l6 3l-2 6M767 99l1 -6l-2 -5l1 -6l-3 -5l3 -5l-4 -5l2 -5l-4 -4l1 -6M586 76l1 -5l-3 -5l0 -6l-5 -4l1 -6l-3 -5M577 45l-6 1M606 75l4 -4l-2 -5l3 -6l0 -4l5 -3l-2 -6l6 0" stroke="#6e3c0a" stroke-width="4.8"/><path d="M825 77l2 -5l-2 -5l3 -4l-2 -5l3 -5l-2 -5l4 -4l-1 -7M827 48l-6 -2M621 79l2 -4l-1 -6l2 -4l-3 -6l2 -5M624 65l-6 -2M768 93l-1 6l3 4l1 4l2 6l-4 4l6 2l-2 6l3 5l-2 4M805 96l1 -5l-3 -4l2 -5l-5 -3l0 -6l-4 -2l0 -5l-5 -3l0 -5l-5 0l-3 -5l-5 0l-3 -5M783 53l6 -3M653 92l-1 4l4 5l-4 5l4 4l-2 4l4 2l-2 6l5 3M656 101l6 1M931 91l-4 4l1 5l-4 5M736 102l-1 4l3 5l1 7l5 3l0 5l6 3M739 118l-5 4M663 90l-2 6l5 5l-1 4l1 6l-3 4l1 5l-4 3l0 4l-1 5M692 85l-3 5l1 7l-5 1l-1 7l-5 3l0 6l-2 4M823 92l0 -5l-2 -3l2 -5l-3 -5l3 -4l-3 -4l4 -4l-5 -5l2 -4l-1 -7l3 -2l0 -6l5 -2M643 80l5 -2l-1 -7l3 -4l-2 -6l4 -4M652 57l-6 -3M731 80l4 -3l1 -6l6 -3l3 -5M742 68l6 0M704 104l-2 5l2 6l-3 5l3 5l-2 4M701 120l-5 4M614 75l4 -2l0 -6l4 -4l-2 -6l6 -3l-3 -5l5 -3M618 67l6 0M967 83l-4 4l1 5M903 84l-2 6l2 6l-2 5l1 7l-3 4l1 6l-4 3l3 4l0 5l3 4M902 108l6 1M810 87l-2 5l2 4l-3 4l1 6l-6 3l1 7l-5 2l-1 5l-3 5M803 116l6 2M951 80l4 -1l-1 -5l5 -3l-1 -6l4 -2l2 -6M962 63l6 2M723 96l0 5l3 4l-3 3l3 6l-2 5l5 2l1 6l3 4l1 5M824 91l-2 -6l-3 -4l-1 -6l-6 -2l0 -6l-4 -3l1 -7l-3 -5l0 -5M808 64l4 -5M656 85l3 -4l-3 -3l0 -6l-4 -3l2 -5l-2 -4l3 -5l-2 -5M947 77l-1 6l4 4l-3 4l6 3M947 91l-6 3M714 97l-2 5l3 4l-2 6l3 3l-2 4l2 6l-3 5M713 112l6 1M924 81l-3 5l4 4l-3 5l2 4l-2 4l4 3l-1 6M577 84l1 -6l-4 -3l0 -5l-1 -5l2 -4l-2 -5l4 -5l-5 -4l-1 -5l-2 -5M735 85l5 -4l1 -4l3 -4l-3 -5l5 -4l-2 -4l5 -4M744 60l6 0M932 73l4 -4l-1 -6l1 -4M712 84l4 -2l3 -5l5 0l2 -6l6 0l2 -6l5 -2l3 -4M739 63l6 3M862 84l-2 5l3 6l-2 6l4 4l0 6l6 2l-2 5l5 2M724 93l4 -5l-2 -5l3 -3l1 -5l5 -1l1 -5l3 -4M824 96l5 -4l-3 -5l2 -4l-1 -5l3 -3l-2 -6l4 -5l0 -5l3 -5l1 -4l3 -4l-1 -6l5 -3M830 75l-6 -3M871 87l3 -6l-5 -4l3 -5l-4 -4l0 -6l-4 -3l0 -7M868 62l-6 -1M824 80l2 -5l-3 -6l3 -4l-2 -4l0 -6l0 -5l3 -3l-2 -4M824 50l6 -2M787 100l-2 5l1 4l-4 3l-3 5l-4 3l1 5l-4 4l3 4M782 112l-6 0M882 91l-4 4l2 4l-4 3l1 6l-1 5l3 4l-1 4l3 3l-1 6l5 4M877 108l-6 2M763 98l1 -6l-3 -5l2 -5l-4 -4l1 -4l-5 -3l-1 -5l-2 -4l1 -6l-4 -4l1 -4M551 89l2 -6l0 -6l4 -4l0 -6l5 -3l0 -5l3 -4l-1 -5l5 -4l-2 -6M888 76l3 -3l-1 -5l4 -3l0 -5l3 -5M891 73l-6 -1M642 81l4 -3l-3 -6l3 -4l-4 -3l2 -6l-6 -2l0 -6l-4 -3l0 -7M643 72l-6 -3M975 78l-4 3l2 5l-5 3M971 81l-6 -1M577 91l-3 4l3 6l-3 3l4 5l0 5l5 2l1 6l6 3l-2 6M767 99l1 -6l-2 -5l1 -6l-3 -5l3 -5l-4 -5l2 -5l-4 -4l1 -6M586 76l1 -5l-3 -5l0 -6l-5 -4l1 -6l-3 -5M577 45l-6 1M606 75l4 -4l-2 -5l3 -6l0 -4l5 -3l-2 -6l6 0" stroke="#ee9432" stroke-width="3"/></g>
<g fill="none" stroke-linecap="round" stroke-linejoin="round"><path d="M762 87l3 -4l-2 -6l0 -5l-2 -4l3 -3l1 -5l1 -6l-2 -4l2 -4M961 78l-2 5l3 4l-1 6l1 5M774 94l1 6l3 4l-1 6l3 5l-3 5l5 4l-2 4l3 6l-3 5l5 4M858 85l3 -3l-2 -6l3 -5l-1 -7l3 -4l-2 -4l4 -4l-3 -4l3 -5M863 48l6 -1M957 78l-1 5l4 4l0 5l3 5l-2 4M565 89l-2 5l4 3l0 6l3 4l0 6l3 4l1 6l3 4l-1 5l4 5l-3 4M610 89l5 -4l1 -6l6 -2l1 -5l5 -3l0 -6l4 -2l0 -6l6 -2l-2 -6l5 -1M893 79l3 -3l-2 -6l4 -4l-3 -4l4 -4l-2 -5M617 78l2 -6l-3 -5l2 -5l-4 -5l0 -5l-5 -4M710 97l4 -4l-4 -5l1 -4l-4 -4l2 -5l-2 -5l4 -3l-1 -6l3 -5l0 -6M932 81l0 -5l-5 -4l0 -5l-4 -4M923 63l-6 1M688 86l-4 5l3 4l-1 4l3 4l-2 5l3 5l-1 6l3 5l-4 4M688 128l-6 2M868 93l3 -4l-2 -6l5 -4l-2 -5l4 -4l-2 -5l5 -3l-1 -6M672 96l-1 4l2 5l-1 5l2 7l-3 3l1 4l-4 4l3 6l-3 3M881 91l-3 5l2 6l-3 3l3 5l-6 3l1 6l-3 3l-3 5l-3 4M608 78l4 -3l-1 -6l5 -3l1 -5l4 -5l1 -5l6 -2l-1 -6l6 -2M753 92l1 5l5 1l0 5l5 1l3 4l5 3l1 6l6 2l3 4M923 76l1 -5l-5 -4l0 -5l-3 -3l-2 -5l-4 -1l-1 -7M864 80l4 -4l-4 -4l3 -4l-4 -4l1 -6l-4 -3l0 -5l-5 -1l2 -5l-4 -4M589 97l1 -7l-4 -4l2 -4l-3 -4l2 -4l-2 -4l4 -5l-2 -4l2 -5l0 -6l5 -4l3 -5l5 -1l3 -5M853 92l6 -1l3 -4l5 -1l2 -5l5 0l2 -5l5 -1l0 -7l4 -1l2 -5l6 -3l0 -6M859 91l6 2M660 80l4 -4l-3 -4l-1 -6l-5 -2l-1 -5l-4 -4M942 86l3 4l4 2l1 4l6 0l3 4M949 92l-3 6M883 87l-6 4l4 5l-3 5l2 4l-2 4l4 5l-5 4M771 101l-4 4l2 6l-2 6l1 4l-3 4l3 4l0 4l1 5l-4 4M768 121l-6 1M631 93l2 -5l0 -6l2 -4l-2 -5l3 -5l-2 -6l5 -3M714 79l2 -4l-1 -6l4 -4l2 -5l4 -5M721 60l-6 -3M747 82l4 -2l0 -4l5 -3l2 -4l5 -1M595 83l1 -6l-4 -4l1 -6l-4 -5l0 -7l-5 -3M728 99l-4 4l-1 5l-4 2l-2 5l-4 5l0 5l-5 1l1 6l-5 4M719 110l5 4M830 74l2 -5l-5 -4l0 -6l-2 -5l3 -5l0 -5l2 -6M832 69l-6 -1M961 84l-3 5l1 5M609 94l-3 5l2 6l-3 4l0 6l-3 4l2 4l-4 3l2 5l-5 3l2 5M560 91l0 5l2 6l-1 5l2 4l-1 7l5 3l0 6l3 5l-2 5M690 98l-1 4l3 5l0 5l5 4l-4 4l2 5l-5 3l3 5M693 120l6 2M742 101l-4 3l3 3l-4 4l3 4l-5 3l1 5l-4 5l1 6M838 104l-4 4l1 6l-3 4l0 6l-4 2l-1 5l-6 0l-1 6M832 124l5 4M697 93l5 -4l-2 -5l5 -2l-5 -5l2 -5l-3 -6l2 -6l-3 -4M700 84l6 -2M762 84l-1 -5l-5 -1l-2 -5l-6 -1l0 -6l-5 -4l1 -4l-5 0M719 95l3 -4l1 -5l3 -5l-2 -5l2 -4l-3 -4l4 -4l-1 -5l4 -2l1 -6l3 -5M734 46l6 -1M598 106l-4 5l4 4l-1 6l3 3l-3 3l3 6l-4 3l-1 4l-4 3l0 5l-6 1M597 121l-6 3M660 92l-2 -6l-6 -2l-4 -5l-5 0l-4 -4l-6 0l-1 -5l-5 0M579 101l-2 4l0 5l-4 3l0 5l-5 2l0 7l-6 0M892 92l-2 5l4 5l-4 5l4 4l-4 3l1 5l-2 4M890 107l6 2M690 103l-2 5l-2 4l-4 4l-1 5l-6 1l-3 4M659 101l0 5l4 3l0 5l3 5l-2 5l5 1l0 6l6 1l-1 5M674 137l6 1M644 95l-2 6l1 5l-1 5l2 5l-4 5l5 4l-2 5l5 5l1 4l4 1M686 78l4 -4l-3 -5l5 -4l0 -6l4 -4" stroke="#6e3c0a" stroke-width="4.8"/><path d="M762 87l3 -4l-2 -6l0 -5l-2 -4l3 -3l1 -5l1 -6l-2 -4l2 -4M961 78l-2 5l3 4l-1 6l1 5M774 94l1 6l3 4l-1 6l3 5l-3 5l5 4l-2 4l3 6l-3 5l5 4M858 85l3 -3l-2 -6l3 -5l-1 -7l3 -4l-2 -4l4 -4l-3 -4l3 -5M863 48l6 -1M957 78l-1 5l4 4l0 5l3 5l-2 4M565 89l-2 5l4 3l0 6l3 4l0 6l3 4l1 6l3 4l-1 5l4 5l-3 4M610 89l5 -4l1 -6l6 -2l1 -5l5 -3l0 -6l4 -2l0 -6l6 -2l-2 -6l5 -1M893 79l3 -3l-2 -6l4 -4l-3 -4l4 -4l-2 -5M617 78l2 -6l-3 -5l2 -5l-4 -5l0 -5l-5 -4M710 97l4 -4l-4 -5l1 -4l-4 -4l2 -5l-2 -5l4 -3l-1 -6l3 -5l0 -6M932 81l0 -5l-5 -4l0 -5l-4 -4M923 63l-6 1M688 86l-4 5l3 4l-1 4l3 4l-2 5l3 5l-1 6l3 5l-4 4M688 128l-6 2M868 93l3 -4l-2 -6l5 -4l-2 -5l4 -4l-2 -5l5 -3l-1 -6M672 96l-1 4l2 5l-1 5l2 7l-3 3l1 4l-4 4l3 6l-3 3M881 91l-3 5l2 6l-3 3l3 5l-6 3l1 6l-3 3l-3 5l-3 4M608 78l4 -3l-1 -6l5 -3l1 -5l4 -5l1 -5l6 -2l-1 -6l6 -2M753 92l1 5l5 1l0 5l5 1l3 4l5 3l1 6l6 2l3 4M923 76l1 -5l-5 -4l0 -5l-3 -3l-2 -5l-4 -1l-1 -7M864 80l4 -4l-4 -4l3 -4l-4 -4l1 -6l-4 -3l0 -5l-5 -1l2 -5l-4 -4M589 97l1 -7l-4 -4l2 -4l-3 -4l2 -4l-2 -4l4 -5l-2 -4l2 -5l0 -6l5 -4l3 -5l5 -1l3 -5M853 92l6 -1l3 -4l5 -1l2 -5l5 0l2 -5l5 -1l0 -7l4 -1l2 -5l6 -3l0 -6M859 91l6 2M660 80l4 -4l-3 -4l-1 -6l-5 -2l-1 -5l-4 -4M942 86l3 4l4 2l1 4l6 0l3 4M949 92l-3 6M883 87l-6 4l4 5l-3 5l2 4l-2 4l4 5l-5 4M771 101l-4 4l2 6l-2 6l1 4l-3 4l3 4l0 4l1 5l-4 4M768 121l-6 1M631 93l2 -5l0 -6l2 -4l-2 -5l3 -5l-2 -6l5 -3M714 79l2 -4l-1 -6l4 -4l2 -5l4 -5M721 60l-6 -3M747 82l4 -2l0 -4l5 -3l2 -4l5 -1M595 83l1 -6l-4 -4l1 -6l-4 -5l0 -7l-5 -3M728 99l-4 4l-1 5l-4 2l-2 5l-4 5l0 5l-5 1l1 6l-5 4M719 110l5 4M830 74l2 -5l-5 -4l0 -6l-2 -5l3 -5l0 -5l2 -6M832 69l-6 -1M961 84l-3 5l1 5M609 94l-3 5l2 6l-3 4l0 6l-3 4l2 4l-4 3l2 5l-5 3l2 5M560 91l0 5l2 6l-1 5l2 4l-1 7l5 3l0 6l3 5l-2 5M690 98l-1 4l3 5l0 5l5 4l-4 4l2 5l-5 3l3 5M693 120l6 2M742 101l-4 3l3 3l-4 4l3 4l-5 3l1 5l-4 5l1 6M838 104l-4 4l1 6l-3 4l0 6l-4 2l-1 5l-6 0l-1 6M832 124l5 4M697 93l5 -4l-2 -5l5 -2l-5 -5l2 -5l-3 -6l2 -6l-3 -4M700 84l6 -2M762 84l-1 -5l-5 -1l-2 -5l-6 -1l0 -6l-5 -4l1 -4l-5 0M719 95l3 -4l1 -5l3 -5l-2 -5l2 -4l-3 -4l4 -4l-1 -5l4 -2l1 -6l3 -5M734 46l6 -1M598 106l-4 5l4 4l-1 6l3 3l-3 3l3 6l-4 3l-1 4l-4 3l0 5l-6 1M597 121l-6 3M660 92l-2 -6l-6 -2l-4 -5l-5 0l-4 -4l-6 0l-1 -5l-5 0M579 101l-2 4l0 5l-4 3l0 5l-5 2l0 7l-6 0M892 92l-2 5l4 5l-4 5l4 4l-4 3l1 5l-2 4M890 107l6 2M690 103l-2 5l-2 4l-4 4l-1 5l-6 1l-3 4M659 101l0 5l4 3l0 5l3 5l-2 5l5 1l0 6l6 1l-1 5M674 137l6 1M644 95l-2 6l1 5l-1 5l2 5l-4 5l5 4l-2 5l5 5l1 4l4 1M686 78l4 -4l-3 -5l5 -4l0 -6l4 -4" stroke="#ee9432" stroke-width="3"/></g>
<g fill="none" stroke-linecap="round" stroke-linejoin="round"><path d="M233 65l3 -4l-4 -5l2 -5l-2 -5l3 -6l-2 -5l2 -5l-3 -4l2 -5l-4 -5M181 78l-1 5l4 4l2 4l4 3l2 4l5 0l0 5l5 3l0 5l6 2M358 80l0 -6l-5 -3l1 -6l-5 -3l0 -5l-6 -2l-2 -5l-4 -3l-3 -5l-5 -2l-3 -3M349 62l-6 1M165 84l-2 5l1 5l-4 5l0 6l-3 3l2 5l-5 3l0 5l-3 4l2 3M465 93l-4 2l-1 7l-4 0l-2 6l-3 5l2 6l-4 4l1 4l-4 3M450 95l-3 6l2 3l1 6l5 2l-1 5l6 1l0 6l6 2l0 6M138 80l-4 -4l-5 -1l-2 -4l-6 1M129 75l1 -6M167 79l3 -5l-2 -4l4 -5l-1 -6l5 -3l-2 -5l4 -4l-3 -5M252 92l-4 3l1 5l-6 2l-1 5l-5 2l-1 6l-6 1l-2 4l-4 -2M242 107l4 5M395 101l-4 5l1 6l-5 2l-1 6l-5 3l-2 4l-5 3l0 6l-5 0l-1 5l-4 2l0 6M353 74l5 -4l1 -6l4 -2l-2 -6l3 -3l0 -5l5 -3l-2 -5l3 -5M340 100l-5 2l-1 5l-5 3l-1 5l-3 4l2 6l-3 4l2 5M167 74l5 -3l-1 -5l3 -4l-2 -4l2 -4l-2 -6l4 -3l-3 -6l5 -3M507 87l-3 6l3 5l-5 2l2 6l-2 4l0 5l-3 4l2 5l-4 4l3 5l-2 5M215 75l4 -2l-1 -5l2 -5l-3 -6l5 -3l-3 -5l3 -4l-3 -5l-1 -6M260 77l2 -5l-4 -4l3 -5l-2 -5l2 -6l-3 -4l2 -7l-5 -3l0 -5l-3 -4l3 -5l-4 -3l3 -5M181 80l4 -2l1 -6l5 -3l-2 -5l5 -3l0 -7l4 0l-2 -6l3 -5l-1 -5l5 -4l1 -5M194 61l6 -1M250 85l-1 6l4 4l-4 4l3 6l-4 2l1 5l-2 4l2 5M426 94l6 -3l-3 -5l2 -4l-2 -4l3 -5l-2 -5l3 -4l-3 -5l-1 -6l-4 -4l3 -5l-3 -5M369 104l-3 5l2 3l-4 5l1 5l-5 3l1 5l-5 3M155 75l0 5l3 3l-4 3l2 4l-4 4l1 5l-3 5l1 4M158 83l-5 3M277 74l-4 3l2 5l-4 4l1 5l-3 3l-1 5l-5 3l0 5l-4 3l1 5l-4 3l2 6M538 93l4 -5l-2 -5l5 -5l-2 -5l2 -4l1 -5l5 -1M394 93l-1 6l4 3l1 5l5 2l1 5l4 3l1 5l5 4l-1 5l5 3l0 5l5 5M421 101l-3 4l0 6l-5 2l-1 7l-5 2l1 5l-6 2l-2 5l-5 0l-1 4l-5 1l-1 5M353 73l2 -5l-4 -4l-3 -4l-6 0l0 -6l-5 -2l1 -6l-4 -4l2 -4M342 60l-6 1M312 82l2 -6l-1 -5l0 -5l-1 -5l2 -4l0 -6l3 -4M458 83l0 5l3 3l-2 6l5 3l-1 5l4 5l0 5l1 4l1 5l3 4l1 4l4 2l3 5l4 3M126 95l-4 -4l-5 2l-2 -5l-5 1M287 86l-2 4l-1 5l-3 4l3 4l-2 5l1 4l-2 5l2 6l-3 5l2 5l-4 4l4 5M300 81l-4 4l1 5l-5 5l-2 5l-6 2l-1 6l-4 3M319 85l-2 6l4 4l-2 6l4 4l1 5l4 3l-1 5l3 4l-1 5M330 122l6 0M317 97l1 6l2 5l-3 5l3 3l-2 6l5 4l-4 4M293 77l4 -5l-3 -4l3 -5l-4 -3l2 -4l-3 -4l5 -2l-1 -5l2 -6l-3 -5M293 60l-6 -3M192 63l4 -4l-1 -7l5 -3l-1 -5l5 -4l-2 -5l4 -5l-3 -6l5 -4l-2 -4M244 64l4 -5l-1 -4l2 -4l-2 -5l2 -5l-2 -4l3 -4l-2 -6M330 93l1 5l5 1l3 5l6 2l0 6l7 1M340 96l-5 0l-1 6l-4 3l-1 5l-5 2l-2 5l-4 5l-3 4l-6 3M406 101l-3 5l2 4l-3 5l4 5l-3 5l5 4l-3 5l4 3l-2 5l5 3l1 6M354 91l1 6l3 5l-5 5l2 5l-3 3l4 6l1 5M298 88l3 -4l-4 -4l2 -6l-5 -4l1 -6l1 -6l3 -4l-2 -5l2 -6M394 92l0 5l5 4l-3 5l5 3l-2 6l5 3l-4 4l2 5l-5 4l4 4l-3 4M234 65l2 -5l-2 -5l3 -6l-1 -5l5 -4l-2 -4l4 -4l0 -6M243 26l6 -2M234 76l1 4l5 3l-1 6l4 2l-3 5l4 4l-3 5l4 3l-1 6l4 4l-3 5l4 4l-4 5M364 75l4 -5l-3 -5l4 -5l0 -6l3 -4l-4 -3l2 -4l-3 -4l3 -5l-3 -5M175 68l5 -3l1 -5l5 -3l1 -5l4 -5l1 -6M424 75l3 -5l-3 -4l2 -5l-5 -5l4 -3l-2 -5l5 -3l1 -6M421 56l-6 -2M268 71l4 -5l0 -5l4 -3l0 -6l4 -3l0 -6l6 -1M341 84l4 -4l-1 -6l6 -1l2 -5l5 0l1 -5l6 -1l1 -6l5 0l2 -5l6 1M144 74l1 -5l-5 -4l-1 -5l-4 -3l-2 -6l-4 -3M129 48l4 -5M397 80l2 -7l-3 -5l1 -7l0 -6l2 -5l-4 -4l3 -5l-4 -5l1 -5l-4 -4l1 -4l-5 -2M219 69l-3 4l3 4l-2 4l3 4l-6 2l-1 6l-4 3l1 5l-4 3l3 6l-2 5l2 5l-2 5l6 3M355 79l3 -4l-1 -6l4 -2l0 -5l6 -2l1 -6l5 -2M372 89l3 -5l-1 -5l1 -5l-1 -6l4 -4l-2 -6l3 -6l0 -5l6 -2l2 -5M541 77l6 -2l-4 -6l3 -5l-3 -4l3 -6l-2 -4M156 76l2 -6l-2 -5l3 -5l-2 -6l3 -5l-2 -5l2 -5l-6 -2M336 94l1 5l5 -2l4 5l6 -3l4 5l5 3l0 4M534 81l1 -5l-5 -2l-2 -6l-5 -3l0 -6l-6 -1l-1 -5l-4 -3M478 87l-1 -6l-5 -4l-2 -6l-5 0l-1 -6l-5 -2l2 -4l-4 -3l2 -6l-3 -6M533 79l1 -6l-2 -4l3 -4l-4 -4l-1 -5l-3 -4l3 -5l-5 -3M249 64l2 -5l-2 -5l4 -5l-3 -5l2 -4l-1 -5l2 -6l-4 -4" stroke="#2c0a6a" stroke-width="4.8"/><path d="M233 65l3 -4l-4 -5l2 -5l-2 -5l3 -6l-2 -5l2 -5l-3 -4l2 -5l-4 -5M181 78l-1 5l4 4l2 4l4 3l2 4l5 0l0 5l5 3l0 5l6 2M358 80l0 -6l-5 -3l1 -6l-5 -3l0 -5l-6 -2l-2 -5l-4 -3l-3 -5l-5 -2l-3 -3M349 62l-6 1M165 84l-2 5l1 5l-4 5l0 6l-3 3l2 5l-5 3l0 5l-3 4l2 3M465 93l-4 2l-1 7l-4 0l-2 6l-3 5l2 6l-4 4l1 4l-4 3M450 95l-3 6l2 3l1 6l5 2l-1 5l6 1l0 6l6 2l0 6M138 80l-4 -4l-5 -1l-2 -4l-6 1M129 75l1 -6M167 79l3 -5l-2 -4l4 -5l-1 -6l5 -3l-2 -5l4 -4l-3 -5M252 92l-4 3l1 5l-6 2l-1 5l-5 2l-1 6l-6 1l-2 4l-4 -2M242 107l4 5M395 101l-4 5l1 6l-5 2l-1 6l-5 3l-2 4l-5 3l0 6l-5 0l-1 5l-4 2l0 6M353 74l5 -4l1 -6l4 -2l-2 -6l3 -3l0 -5l5 -3l-2 -5l3 -5M340 100l-5 2l-1 5l-5 3l-1 5l-3 4l2 6l-3 4l2 5M167 74l5 -3l-1 -5l3 -4l-2 -4l2 -4l-2 -6l4 -3l-3 -6l5 -3M507 87l-3 6l3 5l-5 2l2 6l-2 4l0 5l-3 4l2 5l-4 4l3 5l-2 5M215 75l4 -2l-1 -5l2 -5l-3 -6l5 -3l-3 -5l3 -4l-3 -5l-1 -6M260 77l2 -5l-4 -4l3 -5l-2 -5l2 -6l-3 -4l2 -7l-5 -3l0 -5l-3 -4l3 -5l-4 -3l3 -5M181 80l4 -2l1 -6l5 -3l-2 -5l5 -3l0 -7l4 0l-2 -6l3 -5l-1 -5l5 -4l1 -5M194 61l6 -1M250 85l-1 6l4 4l-4 4l3 6l-4 2l1 5l-2 4l2 5M426 94l6 -3l-3 -5l2 -4l-2 -4l3 -5l-2 -5l3 -4l-3 -5l-1 -6l-4 -4l3 -5l-3 -5M369 104l-3 5l2 3l-4 5l1 5l-5 3l1 5l-5 3M155 75l0 5l3 3l-4 3l2 4l-4 4l1 5l-3 5l1 4M158 83l-5 3M277 74l-4 3l2 5l-4 4l1 5l-3 3l-1 5l-5 3l0 5l-4 3l1 5l-4 3l2 6M538 93l4 -5l-2 -5l5 -5l-2 -5l2 -4l1 -5l5 -1M394 93l-1 6l4 3l1 5l5 2l1 5l4 3l1 5l5 4l-1 5l5 3l0 5l5 5M421 101l-3 4l0 6l-5 2l-1 7l-5 2l1 5l-6 2l-2 5l-5 0l-1 4l-5 1l-1 5M353 73l2 -5l-4 -4l-3 -4l-6 0l0 -6l-5 -2l1 -6l-4 -4l2 -4M342 60l-6 1M312 82l2 -6l-1 -5l0 -5l-1 -5l2 -4l0 -6l3 -4M458 83l0 5l3 3l-2 6l5 3l-1 5l4 5l0 5l1 4l1 5l3 4l1 4l4 2l3 5l4 3M126 95l-4 -4l-5 2l-2 -5l-5 1M287 86l-2 4l-1 5l-3 4l3 4l-2 5l1 4l-2 5l2 6l-3 5l2 5l-4 4l4 5M300 81l-4 4l1 5l-5 5l-2 5l-6 2l-1 6l-4 3M319 85l-2 6l4 4l-2 6l4 4l1 5l4 3l-1 5l3 4l-1 5M330 122l6 0M317 97l1 6l2 5l-3 5l3 3l-2 6l5 4l-4 4M293 77l4 -5l-3 -4l3 -5l-4 -3l2 -4l-3 -4l5 -2l-1 -5l2 -6l-3 -5M293 60l-6 -3M192 63l4 -4l-1 -7l5 -3l-1 -5l5 -4l-2 -5l4 -5l-3 -6l5 -4l-2 -4M244 64l4 -5l-1 -4l2 -4l-2 -5l2 -5l-2 -4l3 -4l-2 -6M330 93l1 5l5 1l3 5l6 2l0 6l7 1M340 96l-5 0l-1 6l-4 3l-1 5l-5 2l-2 5l-4 5l-3 4l-6 3M406 101l-3 5l2 4l-3 5l4 5l-3 5l5 4l-3 5l4 3l-2 5l5 3l1 6M354 91l1 6l3 5l-5 5l2 5l-3 3l4 6l1 5M298 88l3 -4l-4 -4l2 -6l-5 -4l1 -6l1 -6l3 -4l-2 -5l2 -6M394 92l0 5l5 4l-3 5l5 3l-2 6l5 3l-4 4l2 5l-5 4l4 4l-3 4M234 65l2 -5l-2 -5l3 -6l-1 -5l5 -4l-2 -4l4 -4l0 -6M243 26l6 -2M234 76l1 4l5 3l-1 6l4 2l-3 5l4 4l-3 5l4 3l-1 6l4 4l-3 5l4 4l-4 5M364 75l4 -5l-3 -5l4 -5l0 -6l3 -4l-4 -3l2 -4l-3 -4l3 -5l-3 -5M175 68l5 -3l1 -5l5 -3l1 -5l4 -5l1 -6M424 75l3 -5l-3 -4l2 -5l-5 -5l4 -3l-2 -5l5 -3l1 -6M421 56l-6 -2M268 71l4 -5l0 -5l4 -3l0 -6l4 -3l0 -6l6 -1M341 84l4 -4l-1 -6l6 -1l2 -5l5 0l1 -5l6 -1l1 -6l5 0l2 -5l6 1M144 74l1 -5l-5 -4l-1 -5l-4 -3l-2 -6l-4 -3M129 48l4 -5M397 80l2 -7l-3 -5l1 -7l0 -6l2 -5l-4 -4l3 -5l-4 -5l1 -5l-4 -4l1 -4l-5 -2M219 69l-3 4l3 4l-2 4l3 4l-6 2l-1 6l-4 3l1 5l-4 3l3 6l-2 5l2 5l-2 5l6 3M355 79l3 -4l-1 -6l4 -2l0 -5l6 -2l1 -6l5 -2M372 89l3 -5l-1 -5l1 -5l-1 -6l4 -4l-2 -6l3 -6l0 -5l6 -2l2 -5M541 77l6 -2l-4 -6l3 -5l-3 -4l3 -6l-2 -4M156 76l2 -6l-2 -5l3 -5l-2 -6l3 -5l-2 -5l2 -5l-6 -2M336 94l1 5l5 -2l4 5l6 -3l4 5l5 3l0 4M534 81l1 -5l-5 -2l-2 -6l-5 -3l0 -6l-6 -1l-1 -5l-4 -3M478 87l-1 -6l-5 -4l-2 -6l-5 0l-1 -6l-5 -2l2 -4l-4 -3l2 -6l-3 -6M533 79l1 -6l-2 -4l3 -4l-4 -4l-1 -5l-3 -4l3 -5l-5 -3M249 64l2 -5l-2 -5l4 -5l-3 -5l2 -4l-1 -5l2 -6l-4 -4" stroke="#6a1ed2" stroke-width="3"/></g>
<path d="M918 388l5 1M933 330l4 5M236 344l-5 4M903 306l-3 5M323 318l-4 1M844 332l-7 4M383 323l4 7M955 323l-5 5M901 296l-5 4M237 319l-6 2M778 345l1 8M510 317l-5 2M761 338l3 5M316 313l5 2M764 299l6 1M290 289l3 8M702 367l1 5M189 342l0 7M268 342l-5 5M557 329l2 4M568 318l-6 2M677 323l1 4M478 323l2 8M243 265l3 7M580 332l-2 6M149 324l-5 4M979 349l-4 8M966 337l-1 5M660 358l2 4M476 286l4 3M753 326l-3 7M186 316l-2 8M813 326l4 6M651 289l-7 4M753 374l-5 4M757 362l-2 5M169 315l3 5M577 361l5 1M734 317l2 4M488 343l8 2M900 301l-7 2M837 349l8 2M167 330l3 5M334 309l-2 4M663 325l-5 4M488 316l4 1M281 324l2 4M326 297l0 5M288 312l3 3M606 352l-4 3M669 396l3 8M902 317l1 7M752 338l4 0M615 312l-4 5M875 310l7 2M330 281l1 8M777 357l5 3M926 354l3 7M744 368l3 4M528 374l-6 1M308 294l4 2M142 331l5 0M756 337l4 6M151 300l2 7M737 329l4 8M520 293l-2 8M824 349l-3 3M515 316l-4 5M249 314l2 4M964 321l8 1M621 315l-5 5M385 331l-3 5M865 334l-4 8M571 323l7 1M870 314l2 6M222 337l2 4M417 325l-2 8M159 296l8 2M874 339l0 7M713 345l0 6M402 321l-6 4M401 290l-5 3M701 365l-5 5M790 343l4 1M338 290l2 7M961 334l1 4M633 366l-8 2M261 309l-4 2M392 305l-3 4M428 334l-4 4M367 330l1 5M483 325l0 7M626 356l0 6M143 343l1 9M447 324l3 6M879 328l-3 7M744 391l-5 4M400 334l-6 2M701 366l-6 5M722 353l3 3M469 358l-6 1M515 310l6 5M765 334l-3 6M863 303l-6 2M674 329l2 4M943 343l3 8M636 362l5 6M750 360l4 7M296 309l-6 3M671 325l5 1M647 311l-3 6M205 297l3 7M507 343l-1 7M385 338l5 6M380 320l5 6M663 328l2 6M562 347l4 1M588 339l4 5M268 289l-5 6M179 315l-8 1M540 330l0 5M224 366l-5 5M161 327l9 1M698 326l-7 4M748 325l-2 6M757 323l4 8M195 307l-1 4M303 282l-5 7M929 369l-4 7M302 334l5 6M849 309l-3 4M801 329l-4 3M891 369l2 5M544 345l-5 5M937 365l-1 4M580 375l-4 4M672 347l5 2M708 356l-5 2M371 325l0 5M672 349l6 2M296 301l-3 3M986 328l-4 1M568 359l4 1M480 338l0 7M662 353l-3 4M199 316l4 4M743 333l6 5M180 319l5 4M912 373l5 6M883 362l7 4M498 338l-4 4M364 315l6 1M967 333l-5 7M332 289l1 5M791 348l1 8M317 264l-5 6M550 293l4 3M151 322l7 2M548 324l6 5M134 302l-2 5M540 290l1 9M700 354l-8 0M374 330l5 4M865 337l1 5M704 371l-2 8M779 341l5 3M239 335l6 3M817 353l-5 3M769 321l-7 5M976 313l8 0M948 345l-5 4M590 311l6 2M582 313l-3 3M193 296l-3 4M254 328l0 5M301 295l-3 7M358 304l1 8M627 350l-2 7M156 284l-6 2M917 323l-1 6M530 332l-4 1M634 364l-2 8M243 291l-3 5M294 287l-8 2M142 351l4 0M458 349l-4 2M144 342l-7 2M794 350l4 1M621 371l7 4M526 339l-4 3M262 322l1 4M913 359l-2 7M835 300l-4 2M916 355l9 2M935 319l2 5M227 304l4 3M870 331l6 4M983 352l-4 4M352 331l-6 5M157 304l8 3M828 328l2 6M452 341l1 8M489 301l1 5M310 310l4 5M718 359l3 3M583 344l0 6M467 320l7 2M172 323l3 4M842 347l-8 2M875 328l4 0" stroke="#111" stroke-width="3.4" fill="none" stroke-linecap="round"/>
<g fill="none" stroke-linecap="round" stroke-linejoin="round"><path d="M192 305l5 -4l0 -7l5 -4l0 -4l3 -5l-3 -3M197 301l-4 -5M401 335l-6 1l-1 6l-5 3l0 5l-5 5l1 4l-6 3M678 361l-6 2l0 4l-5 1l1 5l-6 1l-2 5l-4 0l-2 4M189 324l-4 4l0 5l-5 2l0 6l-4 4l2 4l-4 5M235 327l1 6l3 3l-2 4l3 4l-3 4l2 5M237 340l-5 4M690 340l-3 5l3 5l-5 3l2 6l-4 3l0 6l-6 2l0 6l-5 2l-2 4l-5 1l-4 6M458 335l4 -3l-2 -5l5 -3l-2 -6l4 -3l-2 -5l3 -4l-3 -4l3 -4l-2 -5M770 359l-2 6l4 4l0 5l4 3l-2 6l3 4l-1 5l4 5l1 6l4 2l2 5l6 1M787 410l6 1M636 341l1 -6l-4 -4l2 -4l0 -6l5 -4l-3 -5l4 -5l-2 -5l2 -5l-3 -4l3 -4l-2 -6l2 -5l-3 -5l3 -6M607 321l4 -4l2 -6l2 -5l-2 -6l5 -4l-1 -5M342 311l-1 5l3 4l-1 5l4 3l-1 6l6 0l0 6l5 3l-3 5l4 4l-5 3l3 4l-3 4M277 317l-3 5l3 3l-1 5l4 3l1 5l4 3l1 6l5 3l-2 5M814 342l-2 4l2 5l-3 4l3 4l-3 4l3 5l-3 4l3 6l-3 4l3 3l-2 5l4 5l-2 5M750 351l-2 6l4 4l-1 6l2 4l-1 5l5 4l1 5l3 5l0 5M207 318l-2 4l6 2l-2 6l3 4l0 5l4 3l0 6l3 3l3 5l4 3l2 5l5 2l2 4l6 1M189 312l-4 4l-1 5l-6 3l2 6l-5 2l1 5l-1 5l3 5l-5 1l0 6l-3 4l-1 6l-4 2l-2 4M163 370l4 5M448 316l4 -4l1 -4l4 -5l-2 -4l4 -5l-3 -3l3 -4l-4 -4l2 -4l-5 -4M502 329l3 -4l0 -5l4 -5l-4 -4l3 -5l-2 -5l2 -4l-1 -5l3 -5l-3 -4l1 -6l-3 -5l1 -6M506 301l-6 -3M273 303l2 -4l-4 -5l3 -5l0 -6l4 -3l0 -5l1 -5l-3 -4l1 -5l-4 -4l1 -6M273 257l-6 -2M136 312l3 -5l-4 -4l4 -5l-5 -4l4 -5l-4 -4M586 328l3 -6l-4 -5l4 -4l-2 -6l2 -6l-2 -6l0 -5l-2 -5M587 307l-6 -2M362 316l-5 3l1 6l-1 5l2 5l-4 5l1 6l-3 5l5 3M975 323l-4 3l2 6l-3 6l3 5l-5 3l1 6l-4 4l0 5l-3 4l-2 5l-4 2l-1 5l-5 2l1 6l-6 2l2 3M212 312l1 -6l-6 0l-1 -6l-5 -1l-2 -6l-3 -4l0 -5M173 317l-3 6l0 5l-5 3l3 5l-5 4l2 5l-2 5l2 6l-4 4M483 312l2 -6l-4 -2l-2 -5l-5 1l-2 -5l-4 -2M711 346l2 -6l-3 -5l2 -6l1 -7l3 -5l-1 -5l1 -4l-2 -5l2 -6l-3 -5M716 297l6 -2M344 330l-3 3l2 5l-1 4l0 6l-3 5l2 6l-5 4M325 322l-4 4l3 4l-4 4l0 5l-3 4l3 5l-4 5l1 5l-4 4l2 4l-5 3l3 5M320 339l-6 1M579 337l3 -4l-1 -6l2 -6l1 -4l5 -4l0 -6l2 -6l-1 -5l3 -4l0 -5l5 -3l1 -4l3 -3M334 308l5 -1l-2 -4l3 -4l1 -5l3 -5l-2 -6l4 -3l-1 -6l2 -6M337 303l6 1M938 340l-2 -4l-6 -2l-3 -6l-4 -2l-1 -6l-5 -1l-1 -5l-6 0l-4 -5l-6 1l-3 -6l-6 -1M267 317l-2 6l4 4l-2 5l5 3l-3 6l4 4l-4 4l1 6l-4 3l-1 6M795 356l-4 4l1 6l-3 5l1 4l-3 4l2 6l-2 4M873 353l0 5l4 2l0 4l5 2l1 5l4 3l3 6M900 332l3 -5l-2 -6l3 -5l-4 -4l4 -5l-5 -2l3 -4l-4 -5l5 -4l-5 -1M373 318l-5 4l1 6l-2 5l3 5l-1 6l2 5l-3 5l3 5l-4 4l4 4l-2 6M726 355l-2 5l2 4l-3 4l3 5l-2 6l4 5l-2 5l2 5l-4 4l-2 5l-3 4l-1 5l-3 4M648 334l4 -5l0 -4l2 -6l1 -5l5 0l2 -6l2 -4l-2 -5l5 -3M166 327l-4 3l1 6l-4 3l3 5l-3 5l4 5l-2 6l2 5l-5 4l0 4l-2 6M992 334l-1 -5l-5 -3l-1 -5l-4 -4M224 311l-4 3l2 4l-2 5l4 4l-2 5l3 5l-3 4l5 4l-2 6l3 4l-5 3l1 5M220 323l-6 2M373 333l-3 5l4 4l-2 5l2 4l-2 4l2 5l-4 3M370 302l4 -6l-4 -4l3 -5l-2 -5l2 -6l-3 -5l4 -4l-2 -5l3 -5M220 311l3 5l4 4l2 6l5 -1l2 6l4 3l1 7l6 0l3 6l6 3M181 322l-1 6l5 3l-2 4l4 4l-2 6l2 4l0 5l5 2l1 4M655 333l5 -4l-3 -5l4 -4l-2 -4l2 -5l-1 -6l5 -3l-4 -4l3 -5l-2 -6l2 -5l1 -6M313 312l5 -3l-1 -5l4 -3l-2 -5l6 -2l0 -5l3 -4l0 -6l2 -5l1 -5M231 332l-5 1l0 5l-5 2l-1 7l-5 -1l-3 5l-5 1l-3 6l-6 -1" stroke="#2c0a6a" stroke-width="4.8"/><path d="M192 305l5 -4l0 -7l5 -4l0 -4l3 -5l-3 -3M197 301l-4 -5M401 335l-6 1l-1 6l-5 3l0 5l-5 5l1 4l-6 3M678 361l-6 2l0 4l-5 1l1 5l-6 1l-2 5l-4 0l-2 4M189 324l-4 4l0 5l-5 2l0 6l-4 4l2 4l-4 5M235 327l1 6l3 3l-2 4l3 4l-3 4l2 5M237 340l-5 4M690 340l-3 5l3 5l-5 3l2 6l-4 3l0 6l-6 2l0 6l-5 2l-2 4l-5 1l-4 6M458 335l4 -3l-2 -5l5 -3l-2 -6l4 -3l-2 -5l3 -4l-3 -4l3 -4l-2 -5M770 359l-2 6l4 4l0 5l4 3l-2 6l3 4l-1 5l4 5l1 6l4 2l2 5l6 1M787 410l6 1M636 341l1 -6l-4 -4l2 -4l0 -6l5 -4l-3 -5l4 -5l-2 -5l2 -5l-3 -4l3 -4l-2 -6l2 -5l-3 -5l3 -6M607 321l4 -4l2 -6l2 -5l-2 -6l5 -4l-1 -5M342 311l-1 5l3 4l-1 5l4 3l-1 6l6 0l0 6l5 3l-3 5l4 4l-5 3l3 4l-3 4M277 317l-3 5l3 3l-1 5l4 3l1 5l4 3l1 6l5 3l-2 5M814 342l-2 4l2 5l-3 4l3 4l-3 4l3 5l-3 4l3 6l-3 4l3 3l-2 5l4 5l-2 5M750 351l-2 6l4 4l-1 6l2 4l-1 5l5 4l1 5l3 5l0 5M207 318l-2 4l6 2l-2 6l3 4l0 5l4 3l0 6l3 3l3 5l4 3l2 5l5 2l2 4l6 1M189 312l-4 4l-1 5l-6 3l2 6l-5 2l1 5l-1 5l3 5l-5 1l0 6l-3 4l-1 6l-4 2l-2 4M163 370l4 5M448 316l4 -4l1 -4l4 -5l-2 -4l4 -5l-3 -3l3 -4l-4 -4l2 -4l-5 -4M502 329l3 -4l0 -5l4 -5l-4 -4l3 -5l-2 -5l2 -4l-1 -5l3 -5l-3 -4l1 -6l-3 -5l1 -6M506 301l-6 -3M273 303l2 -4l-4 -5l3 -5l0 -6l4 -3l0 -5l1 -5l-3 -4l1 -5l-4 -4l1 -6M273 257l-6 -2M136 312l3 -5l-4 -4l4 -5l-5 -4l4 -5l-4 -4M586 328l3 -6l-4 -5l4 -4l-2 -6l2 -6l-2 -6l0 -5l-2 -5M587 307l-6 -2M362 316l-5 3l1 6l-1 5l2 5l-4 5l1 6l-3 5l5 3M975 323l-4 3l2 6l-3 6l3 5l-5 3l1 6l-4 4l0 5l-3 4l-2 5l-4 2l-1 5l-5 2l1 6l-6 2l2 3M212 312l1 -6l-6 0l-1 -6l-5 -1l-2 -6l-3 -4l0 -5M173 317l-3 6l0 5l-5 3l3 5l-5 4l2 5l-2 5l2 6l-4 4M483 312l2 -6l-4 -2l-2 -5l-5 1l-2 -5l-4 -2M711 346l2 -6l-3 -5l2 -6l1 -7l3 -5l-1 -5l1 -4l-2 -5l2 -6l-3 -5M716 297l6 -2M344 330l-3 3l2 5l-1 4l0 6l-3 5l2 6l-5 4M325 322l-4 4l3 4l-4 4l0 5l-3 4l3 5l-4 5l1 5l-4 4l2 4l-5 3l3 5M320 339l-6 1M579 337l3 -4l-1 -6l2 -6l1 -4l5 -4l0 -6l2 -6l-1 -5l3 -4l0 -5l5 -3l1 -4l3 -3M334 308l5 -1l-2 -4l3 -4l1 -5l3 -5l-2 -6l4 -3l-1 -6l2 -6M337 303l6 1M938 340l-2 -4l-6 -2l-3 -6l-4 -2l-1 -6l-5 -1l-1 -5l-6 0l-4 -5l-6 1l-3 -6l-6 -1M267 317l-2 6l4 4l-2 5l5 3l-3 6l4 4l-4 4l1 6l-4 3l-1 6M795 356l-4 4l1 6l-3 5l1 4l-3 4l2 6l-2 4M873 353l0 5l4 2l0 4l5 2l1 5l4 3l3 6M900 332l3 -5l-2 -6l3 -5l-4 -4l4 -5l-5 -2l3 -4l-4 -5l5 -4l-5 -1M373 318l-5 4l1 6l-2 5l3 5l-1 6l2 5l-3 5l3 5l-4 4l4 4l-2 6M726 355l-2 5l2 4l-3 4l3 5l-2 6l4 5l-2 5l2 5l-4 4l-2 5l-3 4l-1 5l-3 4M648 334l4 -5l0 -4l2 -6l1 -5l5 0l2 -6l2 -4l-2 -5l5 -3M166 327l-4 3l1 6l-4 3l3 5l-3 5l4 5l-2 6l2 5l-5 4l0 4l-2 6M992 334l-1 -5l-5 -3l-1 -5l-4 -4M224 311l-4 3l2 4l-2 5l4 4l-2 5l3 5l-3 4l5 4l-2 6l3 4l-5 3l1 5M220 323l-6 2M373 333l-3 5l4 4l-2 5l2 4l-2 4l2 5l-4 3M370 302l4 -6l-4 -4l3 -5l-2 -5l2 -6l-3 -5l4 -4l-2 -5l3 -5M220 311l3 5l4 4l2 6l5 -1l2 6l4 3l1 7l6 0l3 6l6 3M181 322l-1 6l5 3l-2 4l4 4l-2 6l2 4l0 5l5 2l1 4M655 333l5 -4l-3 -5l4 -4l-2 -4l2 -5l-1 -6l5 -3l-4 -4l3 -5l-2 -6l2 -5l1 -6M313 312l5 -3l-1 -5l4 -3l-2 -5l6 -2l0 -5l3 -4l0 -6l2 -5l1 -5M231 332l-5 1l0 5l-5 2l-1 7l-5 -1l-3 5l-5 1l-3 6l-6 -1" stroke="#6a1ed2" stroke-width="3"/></g>
<g fill="none" stroke-linecap="round" stroke-linejoin="round"><path d="M670 338l4 -4l-3 -6l3 -5l-4 -3l1 -6l-4 -4l2 -4l-4 -4l1 -6M670 320l-5 -3M763 332l2 -6l-3 -6l5 -3l0 -6l4 -4l1 -5l5 -2l3 -4l4 -1M789 331l-2 -5l-5 -2l-2 -6l-5 0l-1 -5l-5 -1l-2 -6l-6 -1l0 -6l-5 -2l-4 -4l-5 0M761 305l4 -5M441 341l0 6l0 6l-2 5l-1 7l-5 1l-2 5M438 365l6 2M964 342l-3 4l0 5l-3 4l4 5l-2 5l2 5l-2 4l1 5l-3 6l1 5l-4 3l1 6l-4 4M958 347l-2 6l3 4l2 4l4 3l-1 5l5 3M646 342l5 -4l-3 -5l4 -5l1 -5l5 -4l0 -4l5 -3l1 -5l6 -3l1 -6l3 -3l0 -5l4 -1l0 -5l5 -3l-1 -6M652 328l6 -1M541 327l-2 4l5 3l-1 6l4 4l-2 5l4 3l2 6l4 4l-1 5l6 2l3 5M544 334l-6 3M738 326l6 -1l2 -4l5 -3l-1 -5l5 -3l-1 -6M957 329l-4 3l1 5l-4 4l3 5l-3 5l1 5l-2 4l0 6l-5 2l2 5l-3 6M949 326l-2 4l1 5l-2 5l2 5l-4 5l2 5l-3 5l2 6l-4 3l1 5l-2 4l2 5l-3 4l3 4l1 5l4 4M946 355l6 2M610 338l4 -5l-2 -4l3 -4l-2 -6l4 -3l-2 -5l4 -4l-1 -5l2 -4l0 -5l3 -4l0 -6l6 -1M618 302l6 -2M436 321l3 -5l-3 -5l1 -5l-4 -4l3 -5l-4 -5M458 327l-3 6l3 4l-3 4l3 4l-1 6l4 3l-1 4l3 5l-2 5l6 1l-2 6l4 4M458 337l-5 3M643 351l-4 4l1 5l-4 4l3 4l-2 5l2 6l-3 5l3 4l-2 6l0 6M775 346l4 -5l-3 -6l4 -5l-2 -5l1 -4l-3 -4l1 -5l-3 -5l4 -4l-4 -5l4 -3l-3 -6l5 -4l-2 -5l3 -5M780 330l-6 -2M953 346l-1 6l4 4l-1 4l4 5l-1 6l3 3l0 6l6 2M850 341l4 -3l0 -6l3 -5l0 -6l4 -3l-2 -5l4 -6l-1 -6l4 -2l0 -5l4 -4l-1 -6l5 -1M859 313l-4 -5M441 314l4 -3l0 -6l5 0l2 -5l5 -1l3 -6M452 300l6 2M346 316l5 -3l-2 -5l5 -2l1 -6l6 -3l-1 -6l5 -2l-1 -5l4 -4l2 -6l5 -3l2 -6l3 -3l1 -5l5 -3M810 343l2 -5l-2 -5l1 -6l-3 -5l4 -4l-1 -5l2 -4l-3 -4l3 -5l-5 -5l1 -6M438 339l-3 5l1 6l-1 5l4 3l-3 3l5 5l-2 4l4 5l-5 4M441 366l6 2M249 318l4 -5l-2 -4l3 -4l0 -6l2 -6l-2 -5l4 -2l0 -6l4 -2l0 -6l6 -2M258 280l-6 -3M955 332l-4 2l0 6l-6 2l0 5l-5 2l-3 6l-6 1l-4 4l-5 0l-5 4M656 345l4 -3l-4 -4l4 -4l-2 -5l1 -4l-1 -6l5 -4l-3 -6l3 -3l0 -5l4 -4l0 -6l3 -4l-1 -6l3 -4M660 342l6 -1M293 313l0 -5l-4 -4l2 -4l-2 -5l2 -5l-3 -3l-1 -6l-3 -5l0 -6l-5 -1l0 -6l-6 -1l-1 -5l-5 -2l-2 -6l-5 0M879 356l-5 1l-1 5l-4 2l1 5l-4 5l0 5l-4 3l0 6l-5 1l1 6M961 324l-2 5l3 6l-4 4l4 4l-1 4l2 5l-2 5l1 4l-3 6l2 4l-2 4l3 5l1 5M962 361l6 3M841 340l2 -4l-2 -4l5 -3l-6 -3l3 -4l-5 -4l2 -5l-3 -4l-1 -5l-4 -3l-1 -7l-5 -3M826 291l6 -1M794 322l2 -6l-4 -4l1 -5l-4 -3l1 -5M792 312l6 -3M866 328l4 -3l-1 -6l5 -1l-1 -5l5 -4l-3 -5l2 -4l-4 -5l6 -2l1 -6M373 322l0 -4l-2 -6l4 -4l-2 -6l5 -3l-2 -5l3 -6l-3 -4l2 -5l-2 -4l2 -6l0 -5M373 302l-5 -4M532 325l-2 6l0 6l-3 4l0 6l-6 -1l-2 5l-5 3l-1 4l-6 2l-2 4M521 346l-6 2M824 354l1 4l6 1l2 4l6 0l3 5l6 1l0 6l5 1l0 5l6 1M608 342l-4 3l0 4l-4 3l1 6l-3 6l0 5l-4 4l0 6l-4 2l-3 5l-4 3l-1 4M851 329l4 -3l-3 -4l3 -5l-2 -4l3 -5l-2 -5l4 -2l-2 -6l5 0l0 -6l4 -1l4 -6l6 -1l3 -6M875 281l-6 -2M494 323l2 -6l-6 -3l2 -5l-4 -4l2 -5l-2 -5l3 -5l-4 -4M430 314l4 -5l-3 -5l4 -2l-1 -6l6 -3l-2 -4l4 -3l1 -6l2 -6M851 331l-4 5l5 5l-2 4l4 4l-5 4l5 4l-4 5l4 5l-4 4l1 5M854 349l6 2M908 330l-2 4l3 3l-3 5l0 6l-2 4l3 5l-4 4l0 5l-5 4l2 6l-3 3l0 5M756 331l3 -5l0 -6l5 -2l-1 -5l4 -4l0 -5l3 -5l-1 -5l2 -5l-1 -6l3 -4l0 -6M759 326l6 0M306 313l-1 -5l-2 -4l1 -6l-6 -3l1 -6l-5 -3l2 -5l-3 -3l2 -6l-3 -5l1 -6l-5 -2l0 -5l-4 -5M639 348l-4 5l-2 5l-5 1l0 5l-4 2l-3 4l-6 2l-2 5l-5 -3M621 370l-6 0M378 320l2 -6l-3 -4l0 -5l-4 -3l-3 -6l-6 0l-3 -6l-5 2M370 296l6 -3M773 334l3 -3l1 -6l5 -2l-1 -6l6 -1l2 -5l5 2l5 -4l6 -1l3 -5M794 313l-4 -5M956 340l1 -5l-4 -4l2 -4l-3 -4l-2 -6l-3 -5l2 -5l-4 -3l4 -5l-4 -3l2 -6l-3 -5l0 -6l-4 -4l2 -4l-3 -4l2 -4M952 323l5 -4M680 325l3 -3l0 -5l5 -2l3 -5l6 -2l4 -5l4 0l3 -4l4 1l4 -4l4 4l6 -1M938 342l-1 6l3 4l-1 4l3 3l-1 5l5 2l1 5l5 2l-1 5l5 3l0 5l4 3l2 6M880 339l-2 6l5 4l-2 4l5 4l1 5l3 5l-3 5l4 3l-2 6l4 4M881 353l6 1M449 334l-5 3l-2 5l-5 2l3 6l-3 5l2 6l-3 4l2 5l-5 3l1 6M440 350l-6 0M903 331l3 -5l-5 -3l1 -5l-3 -4l2 -4l-3 -5l5 -4l1 -5l3 -4l-1 -5l3 -4l-3 -3M906 287l6 -2M819 338l0 -7l-5 -3l1 -7l-4 -4l3 -5l-1 -5l3 -5l-2 -6l2 -5M819 331l6 -3M572 345l1 6l3 3l-1 6l0 5l-3 6l4 4l-2 6l4 4l-1 4l3 5l-1 6M590 328l-2 5l4 4l-3 4l2 5l-2 5l1 5l-4 5l5 3l-3 4l2 4l0 7l3 5l-3 5l5 4l-1 5l4 5l-1 5M598 403l-5 4M925 329l-4 4l4 5l-1 6l3 5l-4 5l0 4l-2 4l2 6l-5 4l0 5l-1 4l3 5l-2 5l2 4l-4 4M525 328l-5 2l2 5l-4 4l1 6l-4 2l0 6l-3 4l2 6l-4 4l3 6l-5 2l3 4l-2 6l5 5M782 342l-1 -5l-5 -3l0 -6l-5 -2l1 -5l-3 -6l3 -3l-3 -3l2 -7l-5 -3l-1 -5l-3 -3M765 294l4 -5M512 332l-3 3l2 5l-4 5l4 4l-3 6l4 2l0 6l4 4l0 4l3 6l0 5l3 4l-2 6l2 6M511 340l6 2M372 311l2 -6l-5 -4l3 -5l-4 -5l3 -5l-1 -5l2 -4l-3 -3l3 -4l-1 -5l4 -5l-2 -4M368 291l-6 -1M945 339l-2 6l2 6l-4 4l1 5l-3 5l3 6l-3 4l2 6M941 381l-6 2M231 297l4 -3l-3 -6l3 -3l-1 -5l2 -4l1 -5l3 -5l-2 -5l5 -1l0 -4l4 -5M238 261l-6 -2M560 338l-4 2l2 7l-5 2l0 6l-3 6l0 5l-4 2l-2 5l-5 3M233 302l2 -5l-3 -3l2 -4l-2 -5l4 -4l0 -6l2 -5l0 -6M736 358l-4 4l4 5l-3 4l1 5l-1 5l-1 6l-5 2l-1 6l-5 3l0 5l-4 3l2 5l-3 6" stroke="#6e3c0a" stroke-width="4.8"/><path d="M670 338l4 -4l-3 -6l3 -5l-4 -3l1 -6l-4 -4l2 -4l-4 -4l1 -6M670 320l-5 -3M763 332l2 -6l-3 -6l5 -3l0 -6l4 -4l1 -5l5 -2l3 -4l4 -1M789 331l-2 -5l-5 -2l-2 -6l-5 0l-1 -5l-5 -1l-2 -6l-6 -1l0 -6l-5 -2l-4 -4l-5 0M761 305l4 -5M441 341l0 6l0 6l-2 5l-1 7l-5 1l-2 5M438 365l6 2M964 342l-3 4l0 5l-3 4l4 5l-2 5l2 5l-2 4l1 5l-3 6l1 5l-4 3l1 6l-4 4M958 347l-2 6l3 4l2 4l4 3l-1 5l5 3M646 342l5 -4l-3 -5l4 -5l1 -5l5 -4l0 -4l5 -3l1 -5l6 -3l1 -6l3 -3l0 -5l4 -1l0 -5l5 -3l-1 -6M652 328l6 -1M541 327l-2 4l5 3l-1 6l4 4l-2 5l4 3l2 6l4 4l-1 5l6 2l3 5M544 334l-6 3M738 326l6 -1l2 -4l5 -3l-1 -5l5 -3l-1 -6M957 329l-4 3l1 5l-4 4l3 5l-3 5l1 5l-2 4l0 6l-5 2l2 5l-3 6M949 326l-2 4l1 5l-2 5l2 5l-4 5l2 5l-3 5l2 6l-4 3l1 5l-2 4l2 5l-3 4l3 4l1 5l4 4M946 355l6 2M610 338l4 -5l-2 -4l3 -4l-2 -6l4 -3l-2 -5l4 -4l-1 -5l2 -4l0 -5l3 -4l0 -6l6 -1M618 302l6 -2M436 321l3 -5l-3 -5l1 -5l-4 -4l3 -5l-4 -5M458 327l-3 6l3 4l-3 4l3 4l-1 6l4 3l-1 4l3 5l-2 5l6 1l-2 6l4 4M458 337l-5 3M643 351l-4 4l1 5l-4 4l3 4l-2 5l2 6l-3 5l3 4l-2 6l0 6M775 346l4 -5l-3 -6l4 -5l-2 -5l1 -4l-3 -4l1 -5l-3 -5l4 -4l-4 -5l4 -3l-3 -6l5 -4l-2 -5l3 -5M780 330l-6 -2M953 346l-1 6l4 4l-1 4l4 5l-1 6l3 3l0 6l6 2M850 341l4 -3l0 -6l3 -5l0 -6l4 -3l-2 -5l4 -6l-1 -6l4 -2l0 -5l4 -4l-1 -6l5 -1M859 313l-4 -5M441 314l4 -3l0 -6l5 0l2 -5l5 -1l3 -6M452 300l6 2M346 316l5 -3l-2 -5l5 -2l1 -6l6 -3l-1 -6l5 -2l-1 -5l4 -4l2 -6l5 -3l2 -6l3 -3l1 -5l5 -3M810 343l2 -5l-2 -5l1 -6l-3 -5l4 -4l-1 -5l2 -4l-3 -4l3 -5l-5 -5l1 -6M438 339l-3 5l1 6l-1 5l4 3l-3 3l5 5l-2 4l4 5l-5 4M441 366l6 2M249 318l4 -5l-2 -4l3 -4l0 -6l2 -6l-2 -5l4 -2l0 -6l4 -2l0 -6l6 -2M258 280l-6 -3M955 332l-4 2l0 6l-6 2l0 5l-5 2l-3 6l-6 1l-4 4l-5 0l-5 4M656 345l4 -3l-4 -4l4 -4l-2 -5l1 -4l-1 -6l5 -4l-3 -6l3 -3l0 -5l4 -4l0 -6l3 -4l-1 -6l3 -4M660 342l6 -1M293 313l0 -5l-4 -4l2 -4l-2 -5l2 -5l-3 -3l-1 -6l-3 -5l0 -6l-5 -1l0 -6l-6 -1l-1 -5l-5 -2l-2 -6l-5 0M879 356l-5 1l-1 5l-4 2l1 5l-4 5l0 5l-4 3l0 6l-5 1l1 6M961 324l-2 5l3 6l-4 4l4 4l-1 4l2 5l-2 5l1 4l-3 6l2 4l-2 4l3 5l1 5M962 361l6 3M841 340l2 -4l-2 -4l5 -3l-6 -3l3 -4l-5 -4l2 -5l-3 -4l-1 -5l-4 -3l-1 -7l-5 -3M826 291l6 -1M794 322l2 -6l-4 -4l1 -5l-4 -3l1 -5M792 312l6 -3M866 328l4 -3l-1 -6l5 -1l-1 -5l5 -4l-3 -5l2 -4l-4 -5l6 -2l1 -6M373 322l0 -4l-2 -6l4 -4l-2 -6l5 -3l-2 -5l3 -6l-3 -4l2 -5l-2 -4l2 -6l0 -5M373 302l-5 -4M532 325l-2 6l0 6l-3 4l0 6l-6 -1l-2 5l-5 3l-1 4l-6 2l-2 4M521 346l-6 2M824 354l1 4l6 1l2 4l6 0l3 5l6 1l0 6l5 1l0 5l6 1M608 342l-4 3l0 4l-4 3l1 6l-3 6l0 5l-4 4l0 6l-4 2l-3 5l-4 3l-1 4M851 329l4 -3l-3 -4l3 -5l-2 -4l3 -5l-2 -5l4 -2l-2 -6l5 0l0 -6l4 -1l4 -6l6 -1l3 -6M875 281l-6 -2M494 323l2 -6l-6 -3l2 -5l-4 -4l2 -5l-2 -5l3 -5l-4 -4M430 314l4 -5l-3 -5l4 -2l-1 -6l6 -3l-2 -4l4 -3l1 -6l2 -6M851 331l-4 5l5 5l-2 4l4 4l-5 4l5 4l-4 5l4 5l-4 4l1 5M854 349l6 2M908 330l-2 4l3 3l-3 5l0 6l-2 4l3 5l-4 4l0 5l-5 4l2 6l-3 3l0 5M756 331l3 -5l0 -6l5 -2l-1 -5l4 -4l0 -5l3 -5l-1 -5l2 -5l-1 -6l3 -4l0 -6M759 326l6 0M306 313l-1 -5l-2 -4l1 -6l-6 -3l1 -6l-5 -3l2 -5l-3 -3l2 -6l-3 -5l1 -6l-5 -2l0 -5l-4 -5M639 348l-4 5l-2 5l-5 1l0 5l-4 2l-3 4l-6 2l-2 5l-5 -3M621 370l-6 0M378 320l2 -6l-3 -4l0 -5l-4 -3l-3 -6l-6 0l-3 -6l-5 2M370 296l6 -3M773 334l3 -3l1 -6l5 -2l-1 -6l6 -1l2 -5l5 2l5 -4l6 -1l3 -5M794 313l-4 -5M956 340l1 -5l-4 -4l2 -4l-3 -4l-2 -6l-3 -5l2 -5l-4 -3l4 -5l-4 -3l2 -6l-3 -5l0 -6l-4 -4l2 -4l-3 -4l2 -4M952 323l5 -4M680 325l3 -3l0 -5l5 -2l3 -5l6 -2l4 -5l4 0l3 -4l4 1l4 -4l4 4l6 -1M938 342l-1 6l3 4l-1 4l3 3l-1 5l5 2l1 5l5 2l-1 5l5 3l0 5l4 3l2 6M880 339l-2 6l5 4l-2 4l5 4l1 5l3 5l-3 5l4 3l-2 6l4 4M881 353l6 1M449 334l-5 3l-2 5l-5 2l3 6l-3 5l2 6l-3 4l2 5l-5 3l1 6M440 350l-6 0M903 331l3 -5l-5 -3l1 -5l-3 -4l2 -4l-3 -5l5 -4l1 -5l3 -4l-1 -5l3 -4l-3 -3M906 287l6 -2M819 338l0 -7l-5 -3l1 -7l-4 -4l3 -5l-1 -5l3 -5l-2 -6l2 -5M819 331l6 -3M572 345l1 6l3 3l-1 6l0 5l-3 6l4 4l-2 6l4 4l-1 4l3 5l-1 6M590 328l-2 5l4 4l-3 4l2 5l-2 5l1 5l-4 5l5 3l-3 4l2 4l0 7l3 5l-3 5l5 4l-1 5l4 5l-1 5M598 403l-5 4M925 329l-4 4l4 5l-1 6l3 5l-4 5l0 4l-2 4l2 6l-5 4l0 5l-1 4l3 5l-2 5l2 4l-4 4M525 328l-5 2l2 5l-4 4l1 6l-4 2l0 6l-3 4l2 6l-4 4l3 6l-5 2l3 4l-2 6l5 5M782 342l-1 -5l-5 -3l0 -6l-5 -2l1 -5l-3 -6l3 -3l-3 -3l2 -7l-5 -3l-1 -5l-3 -3M765 294l4 -5M512 332l-3 3l2 5l-4 5l4 4l-3 6l4 2l0 6l4 4l0 4l3 6l0 5l3 4l-2 6l2 6M511 340l6 2M372 311l2 -6l-5 -4l3 -5l-4 -5l3 -5l-1 -5l2 -4l-3 -3l3 -4l-1 -5l4 -5l-2 -4M368 291l-6 -1M945 339l-2 6l2 6l-4 4l1 5l-3 5l3 6l-3 4l2 6M941 381l-6 2M231 297l4 -3l-3 -6l3 -3l-1 -5l2 -4l1 -5l3 -5l-2 -5l5 -1l0 -4l4 -5M238 261l-6 -2M560 338l-4 2l2 7l-5 2l0 6l-3 6l0 5l-4 2l-2 5l-5 3M233 302l2 -5l-3 -3l2 -4l-2 -5l4 -4l0 -6l2 -5l0 -6M736 358l-4 4l4 5l-3 4l1 5l-1 5l-1 6l-5 2l-1 6l-5 3l0 5l-4 3l2 5l-3 6" stroke="#ee9432" stroke-width="3"/></g>
<g fill="none" stroke-linecap="round" stroke-linejoin="round"><path d="M270 316l2 -6l-4 -5l0 -4l-4 -3l1 -4l-3 -5l0 -6l-4 -2l-1 -5l-5 -4l0 -5M708 342l2 -5l-3 -4l2 -4l-2 -5l4 -3l-1 -5l3 -4l-3 -5l2 -5l-3 -5l2 -5l-1 -6l3 -4M710 286l6 -2M608 345l-2 5l3 4l-4 5l2 6l-5 3l-1 5l-5 3l0 5l-4 4M602 368l6 2M621 350l3 6l6 -1l1 6l6 -1l1 6l7 -2l2 5l6 0M872 331l0 -6l-4 -4l3 -5l-4 -3l1 -4l-4 -5l-2 -4l-4 -5l-1 -5l-5 -4l0 -5l-3 -5l0 -6M879 344l-3 3l-1 7l-3 3l3 5l-5 3l-1 5l-3 4l0 7l-5 3l-3 5l-5 1M866 381l-6 0M775 326l4 -3l-1 -5l3 -4l0 -6l6 -1l3 -4l5 -2l0 -6l6 -2l-1 -6l5 -3M781 314l-5 -3M278 294l3 -4l-2 -5l2 -6l-2 -5l3 -5l-2 -4l5 -4l-6 -4l-1 -5l-3 -3l2 -4M464 335l1 -5l-6 -3l2 -6l-3 -3l-3 -5l-6 0l-4 -4l-6 -1l-5 -4l-5 1l-4 -4M458 318l5 -4M937 343l-3 3l0 6l-5 2l1 6l-5 1l1 5l-4 4l1 6l-6 1M195 312l-4 4l3 5l-4 3l-1 5l-4 2l-2 6l-4 3l3 6l-3 4l1 5l-4 3l-1 6l-3 3l-3 5M185 331l-6 1M292 316l3 -5l-4 -5l5 -4l-4 -4l4 -5l-2 -6l4 -2l0 -5l3 -4l-1 -5M291 306l-6 0M900 347l-4 2l-2 5l-5 3l-2 5l-5 3l-1 5l-5 2l-2 5l-6 1l-2 6l-5 1l-3 4M882 365l4 5M340 318l1 6l4 0l4 6l4 2l0 6l5 0l1 5l5 2M364 345l-5 4M789 357l-4 4l1 5l-2 5l3 4l-3 4l1 5l-3 5l2 6l0 5l4 4M784 371l-6 1M939 355l0 5l5 3l-3 4l3 5l-3 5l2 6M504 327l-2 4l1 4l-3 5l1 5l-4 4l1 5l-4 3l-1 5l-2 5l3 5l-5 4l2 5M503 335l-6 3M519 336l2 -5l-2 -5l4 -3l-1 -5l6 -3l2 -6l4 -2l1 -4l6 -2l0 -6l5 -2l2 -4l4 -2l3 -6l6 1M865 355l-1 5l4 3l-4 4l3 5l-2 4l4 3l-4 5l5 4l-2 5l6 3M844 318l2 -5l-5 -4l2 -5l-4 -3l2 -4l-5 -3l-1 -4M224 315l5 -3l-1 -5l4 -3l0 -6l5 -2l2 -6l4 -2l0 -6l5 -4l3 -5l5 -1l2 -6l6 -4M583 346l-4 4l1 6l-4 3l2 6l-3 4l2 3l-1 5M228 334l-5 4l1 6l-3 4l1 5l-3 4l1 6M220 363l-6 1M433 338l-3 4l0 6l-5 1l1 7l-3 3M413 323l4 -2l-2 -5l4 -4l-1 -5l5 -1l2 -5l5 -3l2 -6l4 -3l-2 -4l2 -4l-3 -4M812 336l-3 5l2 5l-2 6l5 2l-1 5l5 2l0 6l4 3l-2 4l5 4l1 5l5 2l-1 5l5 2l1 6M243 322l-1 6l6 2l4 5l6 0l2 4l6 1l1 5l5 -3l5 1l5 -2M266 340l-4 5M795 328l3 -5l-2 -6l2 -5l0 -5l4 -4l0 -4l4 -3l3 -5l3 -4l0 -5l4 -4l-2 -6M798 323l6 -1M310 294l4 -5l-2 -5l3 -4l-2 -4l1 -6l-1 -5l1 -4l-4 -6l3 -3l-2 -5l1 -5l-1 -6M313 252l-6 -3M556 348l-5 4l0 5l-7 1l-2 4l-4 3l1 6M542 362l5 4M503 340l-2 4l2 5l-2 6l4 5l-2 5l1 6l-1 5l5 2M504 371l6 3M635 349l1 -5l-1 -6l3 -4l-3 -5l1 -4l-4 -3l4 -4l-4 -6l1 -5l-1 -5l2 -4l-1 -5M556 330l-1 6l2 6l-3 5l3 5l-2 4l1 7l-3 3l1 6l-5 3l-1 4l-5 3M553 366l6 2M533 328l-1 4l2 5l-2 5l1 5l-2 6l2 4l-2 6l5 3l-3 6l4 3l0 6l6 2l-1 5l3 3M532 342l-6 3M842 328l2 -6l-2 -4l3 -5l-1 -5l2 -6l-3 -6l3 -5l-3 -5l1 -5l-3 -3l1 -5l-5 -1M844 322l6 -2M236 325l-2 5l4 3l-2 6l3 5l0 5l3 6l-2 5l4 4M673 341l3 -4l1 -6l5 -3l0 -6l3 -4l-1 -6l4 -3l1 -4l5 -3l1 -5l4 -2l2 -6l6 -1M579 340l-5 2l-1 5l-4 3l2 4l-5 4l1 6l-3 4l3 5l-6 1l1 5M536 340l-3 5l4 4l-3 4l4 4l-4 3l4 5l-1 5l2 5l-5 3l0 6l-4 3l3 5M537 349l-6 1M331 295l2 -4l-4 -4l2 -6l-5 -3l2 -6l-3 -4l3 -4l-3 -4l4 -4l-2 -6l2 -5M580 336l-2 4l2 4l-1 5l1 6l-3 5l4 4l0 6l2 4l-2 5M579 349l-6 2M337 299l5 -3l0 -6l3 -4l-2 -5l5 -4l-1 -5l2 -5l0 -4l4 -4l1 -5l3 -4l3 -5l5 -3M289 305l6 -2l-2 -6l3 -4l-1 -4l4 -3l-4 -5l6 -3l0 -6l4 -3l0 -7l5 -1l-2 -6l5 -3l2 -5M877 327l-1 5l2 5l-2 5l1 5l-2 3l3 5l-2 4l3 4l-2 4l2 5l-5 2l-1 5l-3 4l1 6l-4 4l2 5M619 352l-5 4l2 4l-5 2l0 6l-4 4l1 4l-6 3l0 5l-5 3l4 5l-3 5l5 4M664 339l-3 6l3 4l-2 5l2 4l-5 4l3 5l-3 3l1 7l-5 3l0 5l-4 5l1 5l-4 3l-2 5l-4 4M439 325l-3 4l4 5l-2 4l2 5l-4 5l2 6l-3 4l0 6l-3 4l0 6M366 314l-4 3l-1 6l-5 2l0 7l-4 3l3 4l-5 3l2 6l-1 5l4 4l-3 5M352 348l-6 -1M393 322l5 0l1 -6l5 -1l2 -6l5 -2l0 -5l4 -2l2 -5l6 -1l1 -5l6 -1l2 -6M805 321l4 -2l-3 -5l3 -5l-3 -4l3 -4l-3 -5M806 314l-6 -2M737 329l3 -6l-5 -2l2 -6l-5 0l-1 -6l-5 -1l1 -6l-5 -3l1 -6M365 319l3 -4l0 -5l4 -6l0 -6l3 -4l-4 -4l2 -5l0 -6l3 -4l-2 -6l5 -2l2 -6l5 -3l-4 -5M376 275l-5 -3M360 297l2 -5l-1 -6l5 -1l-3 -3l3 -6M362 292l6 -2M818 322l1 -5l-5 -3l0 -5l-5 -4l-1 -6l-6 -3l0 -6l-6 0l-2 -5M814 314l5 -4M429 323l0 -6l-3 -5l3 -4l-3 -5l3 -5l-2 -4l2 -4l-2 -6M261 294l3 -3l-3 -4l4 -5l-1 -6l2 -4l-2 -4M264 291l6 -3M937 333l-4 6l5 3l-1 5l4 4l-1 6l4 4l-1 5l6 2l0 5l5 3M949 373l-6 2M544 315l1 -5l-3 -4l0 -5l-3 -5l2 -3l-2 -5l3 -4M438 318l3 -5l-5 -5l3 -6l0 -6l2 -4l-4 -3l1 -5M436 308l-6 -3M733 354l4 -5l-3 -4l2 -4l3 -4l6 -2l1 -6l4 -2l3 -4l4 -1l2 -5l5 -3l1 -5l4 -2l4 -5l4 3l2 -5" stroke="#6e3c0a" stroke-width="4.8"/><path d="M270 316l2 -6l-4 -5l0 -4l-4 -3l1 -4l-3 -5l0 -6l-4 -2l-1 -5l-5 -4l0 -5M708 342l2 -5l-3 -4l2 -4l-2 -5l4 -3l-1 -5l3 -4l-3 -5l2 -5l-3 -5l2 -5l-1 -6l3 -4M710 286l6 -2M608 345l-2 5l3 4l-4 5l2 6l-5 3l-1 5l-5 3l0 5l-4 4M602 368l6 2M621 350l3 6l6 -1l1 6l6 -1l1 6l7 -2l2 5l6 0M872 331l0 -6l-4 -4l3 -5l-4 -3l1 -4l-4 -5l-2 -4l-4 -5l-1 -5l-5 -4l0 -5l-3 -5l0 -6M879 344l-3 3l-1 7l-3 3l3 5l-5 3l-1 5l-3 4l0 7l-5 3l-3 5l-5 1M866 381l-6 0M775 326l4 -3l-1 -5l3 -4l0 -6l6 -1l3 -4l5 -2l0 -6l6 -2l-1 -6l5 -3M781 314l-5 -3M278 294l3 -4l-2 -5l2 -6l-2 -5l3 -5l-2 -4l5 -4l-6 -4l-1 -5l-3 -3l2 -4M464 335l1 -5l-6 -3l2 -6l-3 -3l-3 -5l-6 0l-4 -4l-6 -1l-5 -4l-5 1l-4 -4M458 318l5 -4M937 343l-3 3l0 6l-5 2l1 6l-5 1l1 5l-4 4l1 6l-6 1M195 312l-4 4l3 5l-4 3l-1 5l-4 2l-2 6l-4 3l3 6l-3 4l1 5l-4 3l-1 6l-3 3l-3 5M185 331l-6 1M292 316l3 -5l-4 -5l5 -4l-4 -4l4 -5l-2 -6l4 -2l0 -5l3 -4l-1 -5M291 306l-6 0M900 347l-4 2l-2 5l-5 3l-2 5l-5 3l-1 5l-5 2l-2 5l-6 1l-2 6l-5 1l-3 4M882 365l4 5M340 318l1 6l4 0l4 6l4 2l0 6l5 0l1 5l5 2M364 345l-5 4M789 357l-4 4l1 5l-2 5l3 4l-3 4l1 5l-3 5l2 6l0 5l4 4M784 371l-6 1M939 355l0 5l5 3l-3 4l3 5l-3 5l2 6M504 327l-2 4l1 4l-3 5l1 5l-4 4l1 5l-4 3l-1 5l-2 5l3 5l-5 4l2 5M503 335l-6 3M519 336l2 -5l-2 -5l4 -3l-1 -5l6 -3l2 -6l4 -2l1 -4l6 -2l0 -6l5 -2l2 -4l4 -2l3 -6l6 1M865 355l-1 5l4 3l-4 4l3 5l-2 4l4 3l-4 5l5 4l-2 5l6 3M844 318l2 -5l-5 -4l2 -5l-4 -3l2 -4l-5 -3l-1 -4M224 315l5 -3l-1 -5l4 -3l0 -6l5 -2l2 -6l4 -2l0 -6l5 -4l3 -5l5 -1l2 -6l6 -4M583 346l-4 4l1 6l-4 3l2 6l-3 4l2 3l-1 5M228 334l-5 4l1 6l-3 4l1 5l-3 4l1 6M220 363l-6 1M433 338l-3 4l0 6l-5 1l1 7l-3 3M413 323l4 -2l-2 -5l4 -4l-1 -5l5 -1l2 -5l5 -3l2 -6l4 -3l-2 -4l2 -4l-3 -4M812 336l-3 5l2 5l-2 6l5 2l-1 5l5 2l0 6l4 3l-2 4l5 4l1 5l5 2l-1 5l5 2l1 6M243 322l-1 6l6 2l4 5l6 0l2 4l6 1l1 5l5 -3l5 1l5 -2M266 340l-4 5M795 328l3 -5l-2 -6l2 -5l0 -5l4 -4l0 -4l4 -3l3 -5l3 -4l0 -5l4 -4l-2 -6M798 323l6 -1M310 294l4 -5l-2 -5l3 -4l-2 -4l1 -6l-1 -5l1 -4l-4 -6l3 -3l-2 -5l1 -5l-1 -6M313 252l-6 -3M556 348l-5 4l0 5l-7 1l-2 4l-4 3l1 6M542 362l5 4M503 340l-2 4l2 5l-2 6l4 5l-2 5l1 6l-1 5l5 2M504 371l6 3M635 349l1 -5l-1 -6l3 -4l-3 -5l1 -4l-4 -3l4 -4l-4 -6l1 -5l-1 -5l2 -4l-1 -5M556 330l-1 6l2 6l-3 5l3 5l-2 4l1 7l-3 3l1 6l-5 3l-1 4l-5 3M553 366l6 2M533 328l-1 4l2 5l-2 5l1 5l-2 6l2 4l-2 6l5 3l-3 6l4 3l0 6l6 2l-1 5l3 3M532 342l-6 3M842 328l2 -6l-2 -4l3 -5l-1 -5l2 -6l-3 -6l3 -5l-3 -5l1 -5l-3 -3l1 -5l-5 -1M844 322l6 -2M236 325l-2 5l4 3l-2 6l3 5l0 5l3 6l-2 5l4 4M673 341l3 -4l1 -6l5 -3l0 -6l3 -4l-1 -6l4 -3l1 -4l5 -3l1 -5l4 -2l2 -6l6 -1M579 340l-5 2l-1 5l-4 3l2 4l-5 4l1 6l-3 4l3 5l-6 1l1 5M536 340l-3 5l4 4l-3 4l4 4l-4 3l4 5l-1 5l2 5l-5 3l0 6l-4 3l3 5M537 349l-6 1M331 295l2 -4l-4 -4l2 -6l-5 -3l2 -6l-3 -4l3 -4l-3 -4l4 -4l-2 -6l2 -5M580 336l-2 4l2 4l-1 5l1 6l-3 5l4 4l0 6l2 4l-2 5M579 349l-6 2M337 299l5 -3l0 -6l3 -4l-2 -5l5 -4l-1 -5l2 -5l0 -4l4 -4l1 -5l3 -4l3 -5l5 -3M289 305l6 -2l-2 -6l3 -4l-1 -4l4 -3l-4 -5l6 -3l0 -6l4 -3l0 -7l5 -1l-2 -6l5 -3l2 -5M877 327l-1 5l2 5l-2 5l1 5l-2 3l3 5l-2 4l3 4l-2 4l2 5l-5 2l-1 5l-3 4l1 6l-4 4l2 5M619 352l-5 4l2 4l-5 2l0 6l-4 4l1 4l-6 3l0 5l-5 3l4 5l-3 5l5 4M664 339l-3 6l3 4l-2 5l2 4l-5 4l3 5l-3 3l1 7l-5 3l0 5l-4 5l1 5l-4 3l-2 5l-4 4M439 325l-3 4l4 5l-2 4l2 5l-4 5l2 6l-3 4l0 6l-3 4l0 6M366 314l-4 3l-1 6l-5 2l0 7l-4 3l3 4l-5 3l2 6l-1 5l4 4l-3 5M352 348l-6 -1M393 322l5 0l1 -6l5 -1l2 -6l5 -2l0 -5l4 -2l2 -5l6 -1l1 -5l6 -1l2 -6M805 321l4 -2l-3 -5l3 -5l-3 -4l3 -4l-3 -5M806 314l-6 -2M737 329l3 -6l-5 -2l2 -6l-5 0l-1 -6l-5 -1l1 -6l-5 -3l1 -6M365 319l3 -4l0 -5l4 -6l0 -6l3 -4l-4 -4l2 -5l0 -6l3 -4l-2 -6l5 -2l2 -6l5 -3l-4 -5M376 275l-5 -3M360 297l2 -5l-1 -6l5 -1l-3 -3l3 -6M362 292l6 -2M818 322l1 -5l-5 -3l0 -5l-5 -4l-1 -6l-6 -3l0 -6l-6 0l-2 -5M814 314l5 -4M429 323l0 -6l-3 -5l3 -4l-3 -5l3 -5l-2 -4l2 -4l-2 -6M261 294l3 -3l-3 -4l4 -5l-1 -6l2 -4l-2 -4M264 291l6 -3M937 333l-4 6l5 3l-1 5l4 4l-1 6l4 4l-1 5l6 2l0 5l5 3M949 373l-6 2M544 315l1 -5l-3 -4l0 -5l-3 -5l2 -3l-2 -5l3 -4M438 318l3 -5l-5 -5l3 -6l0 -6l2 -4l-4 -3l1 -5M436 308l-6 -3M733 354l4 -5l-3 -4l2 -4l3 -4l6 -2l1 -6l4 -2l3 -4l4 -1l2 -5l5 -3l1 -5l4 -2l4 -5l4 3l2 -5" stroke="#ee9432" stroke-width="3"/></g>
<g fill="none" stroke-linecap="round" stroke-linejoin="round"><path d="M909 335l4 -4l-2 -5l4 -5l0 -5l3 -3l-2 -6l1 -5l-3 -4l3 -3l0 -6l4 -4l0 -5l3 -3M132 317l2 4l6 3l2 5l6 2l-1 4l6 4l-2 5l4 4l-1 4l3 5l0 6M134 321l-4 5M178 301l5 -3l-2 -5l5 -4l-3 -4l5 -4M698 359l-2 4l3 5l-3 4l4 5l-1 5l4 2l-3 5l3 5l-1 5l2 4M191 317l0 -5l-4 -5l4 -2l-1 -5l2 -4l-2 -4l1 -6l-2 -5l2 -4l-1 -5l4 -4l-2 -4l1 -5M912 334l3 -5l-1 -5l5 -4l2 -6l3 -4l-1 -4l3 -5l1 -6l3 -4l-2 -5l4 -5l-4 -5l3 -3l-2 -5l2 -4l1 -6M643 347l4 -5l-3 -5l5 -2l-1 -5l5 -1l-1 -5l3 -4l0 -7l4 -5l-1 -6l5 -3l0 -7M879 334l4 -3l0 -6l5 -3l-1 -5l3 -4l-1 -6l3 -4l-1 -5l2 -5l-2 -6l1 -4M511 320l1 -4l-4 -3l-1 -6l-5 -3l1 -5l-4 -3l-1 -6l-3 -3l-2 -6l-4 -3l0 -7l-6 -2M822 340l1 5l5 2l0 4l4 5l-3 6l3 5l-2 6l4 2l-2 6l2 4l-2 4l3 6M832 356l6 -2M640 359l-1 5l2 6l-1 6l3 4l-1 5l4 5l-1 6l4 2M283 316l-3 3l1 5l-2 4l2 4l-3 4l1 5l-5 4l-3 5l-4 3l1 5M274 345l-6 2M915 312l1 -5l-3 -4l-2 -4l-4 -5l-1 -5l-5 -3l1 -4l-6 -4l1 -5M630 329l2 -6l-4 -3l2 -5l-3 -4l6 -2l0 -5l5 -1l1 -6M630 315l5 -4M178 312l-4 2l2 5l-5 4l1 6l-6 3l-1 6l-5 2l-1 6l-5 0l-2 4l-4 3l-3 5M804 334l-2 5l3 4l-4 5l2 6l-5 4l5 3l-2 5l6 2l-3 6l1 4l-2 5l2 5l-3 5M233 318l-4 5l2 5l-5 4l3 4l-4 4l2 4l-3 5l2 6l-1 4M542 319l4 -4l-1 -4l2 -4l-3 -6l2 -5l-4 -5l0 -6l-4 -3l1 -5l-2 -6l3 -4l-5 -4M806 338l-1 5l5 2l2 6l4 2l-1 6l5 3l4 5l6 3l3 5l4 4l2 6M503 334l2 -5l-3 -3l1 -5l-2 -5l0 -5l0 -5l2 -5l-3 -5l2 -5l-4 -3l-1 -6M141 321l4 -4l-2 -5l4 -4l-3 -6l4 -5l-5 -4l3 -5l-2 -4l1 -5l-2 -4l1 -6l-3 -4M141 265l6 -2M517 327l2 -4l-3 -4l0 -6l-6 -2l1 -4l-4 -2l0 -5l-6 -2l-2 -4l-6 -3l-2 -5l-5 0l-2 -6l-4 -3M444 318l4 -4l-2 -4l3 -6l0 -6l3 -4l0 -7M311 310l-1 4l3 4l-3 5l3 5l-3 4l2 6l-3 5l3 5l-1 7l3 4M310 323l-6 3M161 323l-1 4l2 5l-5 3l3 5l-3 5l3 4l-4 5l3 4l0 6l3 5M162 369l-6 1M163 333l-4 3l2 6l-3 4l-2 5l-4 4l0 5l-4 4l2 6M218 330l-4 6l5 4l-2 6l3 5l-2 4l3 6M356 327l-4 3l1 5l-4 4l3 5l-1 4l3 5l-2 5l5 2M182 324l1 -4l-3 -5l0 -6l-3 -3l1 -5l-5 -4l2 -5l-6 -2l2 -5l-4 -4l2 -6l-4 -2M195 313l-1 6l5 1l-1 5l4 4l-1 6l4 2l-3 6l4 5l-3 4l4 4l-3 5M377 317l-4 5l4 4l-3 5l2 5l-5 3l0 5l-3 4l0 4l-6 2l-1 5l-3 4M433 324l-1 -6l-4 -4l1 -7l-3 -3l0 -5l-4 -2l1 -6l-4 -2l-3 -6l-5 0l0 -6M524 314l6 -3l-1 -6l3 -5l1 -5l2 -6l-3 -4l3 -4l0 -6l2 -5l-1 -6l5 -2M366 328l1 5l6 4l2 4l4 4l1 7l4 4M787 347l0 5l5 4l0 4l5 4l5 4l4 1l-2 5l6 2l-1 5l4 1l1 6l5 0l0 6l5 1l1 6M525 331l3 -4l0 -5l5 -4l-2 -6l5 -3l0 -6l4 -4l-2 -5l5 -2l-2 -6l4 -3l0 -6l5 -2l0 -5l6 -2M764 351l-4 3l1 6l-4 3l0 6l-3 5l3 5l-6 3l-1 5l-4 4l2 5l-4 2l0 5M977 319l0 -6l-5 -4l0 -5l-4 0l0 -4l-7 -1l1 -6l-3 -5l4 -5l-5 -3l3 -6l1 -5M420 336l-5 2l3 6l-4 4l0 6l-4 3M620 347l4 -4l-4 -4l1 -4l-2 -5l3 -6l-1 -4l4 -5l-1 -5l3 -5l-1 -6l4 -3l-2 -4l3 -5l-3 -4l1 -6M301 306l-1 5l4 3l-1 6l2 5l-2 6l4 5l-2 4l3 6l-1 5l3 4l-1 5l3 6M860 344l3 -4l2 -6l5 -1l2 -4l4 0l1 -6l4 0l2 -5l4 -2l0 -6l4 -3l0 -7l5 -2l0 -4M186 317l3 -5l-2 -5l6 -3l-4 -4l1 -6l-3 -5l0 -6l-4 -4l2 -5l-6 -1M675 352l-2 5l4 2l2 5l5 5l1 4l4 2l3 6l4 3l1 6l4 5M352 304l-4 4l-1 5l-3 4l2 6l-4 3l0 5l-4 4l1 6l-3 4l1 5M757 351l0 7l3 5l-5 3l3 6l-2 5l4 4l-1 6l2 4l-1 6l0 6l-3 5l3 5M607 346l5 -2l0 -6l5 -2l-3 -4l4 -4l0 -6l5 -3l-1 -6l4 -4l-2 -4l3 -3l-1 -5M877 328l4 -4l-4 -4l4 -3l-4 -5l4 -5l-1 -5l5 -4l1 -4l5 -4l-2 -5l4 -2l0 -6l5 0l1 -6M256 311l-3 4l3 4l-4 5l3 4l-4 3l-1 4l-2 6l2 5l-5 3l2 5l-2 4l4 4l-1 6l5 1l1 6M545 322l4 -3l0 -5l3 -4l0 -6l3 -5l-3 -5l3 -6l-3 -6l3 -4M222 310l-3 4l-1 6l-4 4l3 4l-4 5l4 3l-4 4l1 6l-2 5l3 5l-3 4l4 4M159 315l-3 5l2 7l-2 5l2 5l-3 5l5 4l-1 5l2 5l-2 6l5 2l-3 5l3 5M959 339l3 -4l-5 -4l0 -7l-3 -4l2 -6l-4 -4l0 -6l-5 -3l2 -5l-1 -5l1 -4l-5 -2l-1 -6l-5 -1l1 -5l-6 0l-3 -6M202 329l-4 4l1 7l-5 1l1 6l-4 4l0 5l-5 1l-2 6l-4 -1l-3 5M513 327l-2 5l3 4l-2 6l2 6l-5 3l2 6l-5 3l2 6l-3 4l-2 6M511 357l-6 2" stroke="#2c0a6a" stroke-width="4.8"/><path d="M909 335l4 -4l-2 -5l4 -5l0 -5l3 -3l-2 -6l1 -5l-3 -4l3 -3l0 -6l4 -4l0 -5l3 -3M132 317l2 4l6 3l2 5l6 2l-1 4l6 4l-2 5l4 4l-1 4l3 5l0 6M134 321l-4 5M178 301l5 -3l-2 -5l5 -4l-3 -4l5 -4M698 359l-2 4l3 5l-3 4l4 5l-1 5l4 2l-3 5l3 5l-1 5l2 4M191 317l0 -5l-4 -5l4 -2l-1 -5l2 -4l-2 -4l1 -6l-2 -5l2 -4l-1 -5l4 -4l-2 -4l1 -5M912 334l3 -5l-1 -5l5 -4l2 -6l3 -4l-1 -4l3 -5l1 -6l3 -4l-2 -5l4 -5l-4 -5l3 -3l-2 -5l2 -4l1 -6M643 347l4 -5l-3 -5l5 -2l-1 -5l5 -1l-1 -5l3 -4l0 -7l4 -5l-1 -6l5 -3l0 -7M879 334l4 -3l0 -6l5 -3l-1 -5l3 -4l-1 -6l3 -4l-1 -5l2 -5l-2 -6l1 -4M511 320l1 -4l-4 -3l-1 -6l-5 -3l1 -5l-4 -3l-1 -6l-3 -3l-2 -6l-4 -3l0 -7l-6 -2M822 340l1 5l5 2l0 4l4 5l-3 6l3 5l-2 6l4 2l-2 6l2 4l-2 4l3 6M832 356l6 -2M640 359l-1 5l2 6l-1 6l3 4l-1 5l4 5l-1 6l4 2M283 316l-3 3l1 5l-2 4l2 4l-3 4l1 5l-5 4l-3 5l-4 3l1 5M274 345l-6 2M915 312l1 -5l-3 -4l-2 -4l-4 -5l-1 -5l-5 -3l1 -4l-6 -4l1 -5M630 329l2 -6l-4 -3l2 -5l-3 -4l6 -2l0 -5l5 -1l1 -6M630 315l5 -4M178 312l-4 2l2 5l-5 4l1 6l-6 3l-1 6l-5 2l-1 6l-5 0l-2 4l-4 3l-3 5M804 334l-2 5l3 4l-4 5l2 6l-5 4l5 3l-2 5l6 2l-3 6l1 4l-2 5l2 5l-3 5M233 318l-4 5l2 5l-5 4l3 4l-4 4l2 4l-3 5l2 6l-1 4M542 319l4 -4l-1 -4l2 -4l-3 -6l2 -5l-4 -5l0 -6l-4 -3l1 -5l-2 -6l3 -4l-5 -4M806 338l-1 5l5 2l2 6l4 2l-1 6l5 3l4 5l6 3l3 5l4 4l2 6M503 334l2 -5l-3 -3l1 -5l-2 -5l0 -5l0 -5l2 -5l-3 -5l2 -5l-4 -3l-1 -6M141 321l4 -4l-2 -5l4 -4l-3 -6l4 -5l-5 -4l3 -5l-2 -4l1 -5l-2 -4l1 -6l-3 -4M141 265l6 -2M517 327l2 -4l-3 -4l0 -6l-6 -2l1 -4l-4 -2l0 -5l-6 -2l-2 -4l-6 -3l-2 -5l-5 0l-2 -6l-4 -3M444 318l4 -4l-2 -4l3 -6l0 -6l3 -4l0 -7M311 310l-1 4l3 4l-3 5l3 5l-3 4l2 6l-3 5l3 5l-1 7l3 4M310 323l-6 3M161 323l-1 4l2 5l-5 3l3 5l-3 5l3 4l-4 5l3 4l0 6l3 5M162 369l-6 1M163 333l-4 3l2 6l-3 4l-2 5l-4 4l0 5l-4 4l2 6M218 330l-4 6l5 4l-2 6l3 5l-2 4l3 6M356 327l-4 3l1 5l-4 4l3 5l-1 4l3 5l-2 5l5 2M182 324l1 -4l-3 -5l0 -6l-3 -3l1 -5l-5 -4l2 -5l-6 -2l2 -5l-4 -4l2 -6l-4 -2M195 313l-1 6l5 1l-1 5l4 4l-1 6l4 2l-3 6l4 5l-3 4l4 4l-3 5M377 317l-4 5l4 4l-3 5l2 5l-5 3l0 5l-3 4l0 4l-6 2l-1 5l-3 4M433 324l-1 -6l-4 -4l1 -7l-3 -3l0 -5l-4 -2l1 -6l-4 -2l-3 -6l-5 0l0 -6M524 314l6 -3l-1 -6l3 -5l1 -5l2 -6l-3 -4l3 -4l0 -6l2 -5l-1 -6l5 -2M366 328l1 5l6 4l2 4l4 4l1 7l4 4M787 347l0 5l5 4l0 4l5 4l5 4l4 1l-2 5l6 2l-1 5l4 1l1 6l5 0l0 6l5 1l1 6M525 331l3 -4l0 -5l5 -4l-2 -6l5 -3l0 -6l4 -4l-2 -5l5 -2l-2 -6l4 -3l0 -6l5 -2l0 -5l6 -2M764 351l-4 3l1 6l-4 3l0 6l-3 5l3 5l-6 3l-1 5l-4 4l2 5l-4 2l0 5M977 319l0 -6l-5 -4l0 -5l-4 0l0 -4l-7 -1l1 -6l-3 -5l4 -5l-5 -3l3 -6l1 -5M420 336l-5 2l3 6l-4 4l0 6l-4 3M620 347l4 -4l-4 -4l1 -4l-2 -5l3 -6l-1 -4l4 -5l-1 -5l3 -5l-1 -6l4 -3l-2 -4l3 -5l-3 -4l1 -6M301 306l-1 5l4 3l-1 6l2 5l-2 6l4 5l-2 4l3 6l-1 5l3 4l-1 5l3 6M860 344l3 -4l2 -6l5 -1l2 -4l4 0l1 -6l4 0l2 -5l4 -2l0 -6l4 -3l0 -7l5 -2l0 -4M186 317l3 -5l-2 -5l6 -3l-4 -4l1 -6l-3 -5l0 -6l-4 -4l2 -5l-6 -1M675 352l-2 5l4 2l2 5l5 5l1 4l4 2l3 6l4 3l1 6l4 5M352 304l-4 4l-1 5l-3 4l2 6l-4 3l0 5l-4 4l1 6l-3 4l1 5M757 351l0 7l3 5l-5 3l3 6l-2 5l4 4l-1 6l2 4l-1 6l0 6l-3 5l3 5M607 346l5 -2l0 -6l5 -2l-3 -4l4 -4l0 -6l5 -3l-1 -6l4 -4l-2 -4l3 -3l-1 -5M877 328l4 -4l-4 -4l4 -3l-4 -5l4 -5l-1 -5l5 -4l1 -4l5 -4l-2 -5l4 -2l0 -6l5 0l1 -6M256 311l-3 4l3 4l-4 5l3 4l-4 3l-1 4l-2 6l2 5l-5 3l2 5l-2 4l4 4l-1 6l5 1l1 6M545 322l4 -3l0 -5l3 -4l0 -6l3 -5l-3 -5l3 -6l-3 -6l3 -4M222 310l-3 4l-1 6l-4 4l3 4l-4 5l4 3l-4 4l1 6l-2 5l3 5l-3 4l4 4M159 315l-3 5l2 7l-2 5l2 5l-3 5l5 4l-1 5l2 5l-2 6l5 2l-3 5l3 5M959 339l3 -4l-5 -4l0 -7l-3 -4l2 -6l-4 -4l0 -6l-5 -3l2 -5l-1 -5l1 -4l-5 -2l-1 -6l-5 -1l1 -5l-6 0l-3 -6M202 329l-4 4l1 7l-5 1l1 6l-4 4l0 5l-5 1l-2 6l-4 -1l-3 5M513 327l-2 5l3 4l-2 6l2 6l-5 3l2 6l-5 3l2 6l-3 4l-2 6M511 357l-6 2" stroke="#6a1ed2" stroke-width="3"/></g>
<path d="M203 314l-9 1M653 306l-4 1M396 347l3 4M290 308l-4 6M218 266l-5 6M776 340l-8 3M462 373l2 6M408 320l-2 5M329 274l4 3M638 365l-6 1M703 350l3 5M481 332l-5 6M863 330l-4 2M212 296l-4 0M846 294l3 8M952 306l-1 7M906 346l-4 3M816 370l0 5M364 345l-6 1M490 359l4 7M430 324l2 8M473 333l-3 8M863 354l8 2M918 344l-1 6M699 351l4 3M507 282l-1 5M952 293l-4 2M266 327l-6 5M237 317l-4 8M414 308l-7 1M207 338l-1 5M651 367l-3 6M658 330l4 7M227 285l2 5M154 315l7 4M379 334l-8 4M631 368l-6 0M732 296l-5 4M495 342l5 4M697 346l-2 7M585 338l6 1M504 294l-6 1M799 325l-5 1M893 366l5 1M725 362l4 4M928 354l-8 3M467 315l2 9M253 323l6 2M366 280l-6 3M846 337l-5 7M579 404l6 3M941 333l-2 6M932 335l5 4M585 284l-3 5M673 346l-4 4M738 335l3 5M710 349l6 7M947 362l5 0M251 293l2 5M415 344l5 5M688 345l-1 9M430 339l-4 7M296 304l1 7M589 340l4 6M497 339l-9 0M270 334l4 8M295 286l0 5M420 329l7 3M650 336l-4 6M452 345l-5 1M681 349l1 8M264 314l7 5M805 348l4 1M505 279l-4 7M813 338l4 1M779 376l0 8M776 357l5 3M653 379l4 1M573 338l-1 7M135 328l5 7M373 293l7 3M151 309l3 4M401 340l6 3M447 307l6 1M556 326l6 4M156 332l-2 4M411 313l8 1M220 333l-4 7M917 311l-8 0M623 338l1 4M705 351l-6 3M798 299l3 4M393 326l6 2M184 323l3 4M236 316l1 4M668 294l8 2M210 331l-2 8M884 295l-2 6M430 346l6 2M169 309l-4 1M135 319l-6 0M278 290l7 3M252 277l-2 8M685 302l3 8M919 322l-1 9M795 332l6 4M195 341l-1 8M953 319l6 0M709 324l-7 1M925 361l-5 4M706 319l0 4M964 364l6 1M343 266l-8 3M511 387l-5 6M534 342l9 2M519 359l6 6M962 319l-2 7M695 303l4 4M350 336l5 2M558 350l-8 3M844 341l-2 6M760 334l2 8M330 319l-9 1M557 355l-2 6M827 344l-6 4M203 352l-5 4M538 295l3 6M879 318l3 7M742 338l-3 6M788 308l-3 4M966 311l-3 7M796 357l0 7M512 292l-5 4M315 315l-8 2M910 340l-4 4M542 324l5 2M841 345l-2 7M761 323l-2 7M542 318l-5 3M432 311l-1 5M879 335l-5 5M885 296l-7 3M467 368l-4 2M212 304l-2 4M615 287l4 5M279 289l-2 4M170 333l0 4M662 332l-6 3M433 337l-6 0M172 344l9 1M633 328l8 2M972 340l-2 7M807 313l3 3M885 287l-1 7M800 307l-5 1M326 313l2 7M388 314l-7 3M932 371l0 4M650 359l1 6M974 305l-1 4M208 315l-4 0M811 361l0 6M982 308l7 4M620 363l-1 5M911 343l5 4M474 317l7 1M971 321l5 7M495 293l-6 3M583 314l2 7M554 345l0 6M474 313l5 3M925 305l7 0M229 311l7 5M653 329l6 6M970 331l-5 4M517 325l2 6M486 303l-4 5M502 290l5 6M851 308l0 6M725 334l-7 3M985 345l1 7M827 284l-1 5M329 291l5 3M818 296l5 5M357 308l0 5M821 315l6 4M376 325l-5 0M773 349l0 7M245 305l-4 3M469 316l-2 5M151 315l-6 5M171 293l-1 8M454 357l-5 0M702 355l0 7M557 321l-1 8M233 306l7 2M443 343l7 6M165 299l1 5M574 307l-7 0M222 308l0 4M579 333l4 4M655 408l1 4M229 263l-6 7M788 345l-5 2M666 335l-6 3M663 358l-2 7M868 341l4 5M643 354l1 4M311 299l0 9M981 318l7 4" stroke="#111" stroke-width="3.4" fill="none" stroke-linecap="round"/>
<g fill="none" stroke-linecap="round" stroke-linejoin="round"><path d="M350 325l-3 3l2 5l-3 5l0 5l-4 4l5 2l-2 5l1 4l-4 6l2 5l-3 3M480 332l4 -3l1 -5l5 0l-2 -6l7 -1l0 -5l6 0l4 -4l5 -4M643 349l-3 4l6 0l1 5l3 4l-2 4l5 5l-1 6l4 2l0 6l2 5l-3 6M835 349l-1 5l3 6l-2 4l4 5l-2 6l2 5l-4 5l3 4l0 6l1 5M884 336l4 -2l2 -5l5 -1l0 -6l4 -2l2 -4l5 -2l0 -5l4 -3l1 -6l5 -1l1 -5l4 -2M890 329l-4 -5M775 347l-3 4l2 6l-4 4l4 5l-1 4l4 4l-3 5l3 6l-3 5l5 4l-4 4l4 5l-2 6M624 332l-2 5l2 5l-2 5l4 2l1 6l3 3l-3 4l5 3l-1 6l4 3l-1 4l6 3M626 349l6 2M597 338l4 -4l-2 -5l3 -4l-1 -5l3 -6l-3 -5l3 -4l-2 -5l4 -5l0 -5l4 -3l3 -4l5 -2l-2 -4l5 0M734 341l0 6l6 1l2 4l3 4l2 5l6 1l-1 5l5 2l2 5l5 1l3 5M458 328l-1 6l4 4l-2 5l2 5l-2 5l2 5l-2 5l3 4l-2 5l4 4l-3 3l3 4l-5 5M213 321l-3 -4l-4 -1l-3 -5l-6 0l-1 -5l-6 -1l-2 -5l-5 -2l0 -5l-5 2l-1 -5l-5 0l-1 -4l-5 -1M571 319l0 -6l-3 -3l1 -5l-4 -3l2 -5l-5 -2l-1 -6l0 -5l3 -4l-4 -5M776 346l-1 5l3 5l-3 5l3 3l-3 3l1 4l-5 2l0 7l-5 4l1 5l-5 2l1 6l-6 2M763 397l6 -1M218 319l-4 5l2 4l-1 5l-1 6l-4 2l0 6l-4 2l2 5l-4 3l1 4l-1 7l-1 5l-3 4M757 347l-5 3l-2 5l-5 1l0 6l-3 4l-1 6l-4 3l-1 7l-4 2l0 5l-7 1M745 362l4 5M862 317l3 -5l-2 -6l6 -2l2 -6l5 -2l-2 -4M863 306l-5 -4M243 311l0 6l3 4l-4 5l-1 6l-3 4l2 5l-3 4l1 6l-4 2l1 5l-6 0l-3 5M615 346l-2 5l2 4l-3 5l0 6l-4 4l1 6l-5 2l-1 5l-4 5l2 5l-4 4l1 5l-4 3l4 5M510 328l1 -5l-5 -3l-1 -6l-6 0l-4 -5l-4 -1l-3 -4l-5 0l1 -6M495 309l-6 2M196 317l-2 6l1 5l-4 2l0 7l-4 5l2 4l-3 3l-1 6l-4 4l-1 5l-5 0M347 313l-5 4l0 6l-2 5l3 5l-2 5l2 4l-1 6l5 2l-4 4l1 6l-2 6l3 4l-4 4l4 5M758 353l-2 5l5 3l-1 5l5 3l0 6l4 4l0 6l5 2l-3 6M760 366l6 0M190 313l2 -4l0 -5l6 -3l-3 -3l3 -4l-4 -4l2 -5l-3 -4M520 324l5 -3l1 -5l5 -1l-2 -5l5 -2l1 -5l4 -2l-1 -4l5 -1M606 356l-4 3l0 4l-3 4l2 6l-4 3l0 5l-5 2l-1 6l-4 2l0 5l-5 3l-2 5M162 313l-4 4l2 5l-2 5l0 6l-6 1l0 6l-3 5l0 5l-5 3l0 6M158 317l-6 2M503 332l-2 -5l-3 -4l-2 -6l-6 -2l-1 -5l-4 -1l3 -4l-2 -5l0 -6l-4 -4l1 -5l-1 -6M729 345l-1 5l1 4l-3 4l2 5l-3 5l2 6l-2 4l4 5l0 5l5 3M920 341l-2 -4l-5 -3l-1 -5l-3 -4l2 -5l-5 -3l-1 -6l-6 -2l3 -6l-3 -5l2 -5l-5 -5l1 -6M612 330l6 -3l-1 -5l3 -3l-2 -6l4 -4l-2 -6l4 -4l-1 -6l3 -5l-3 -5l4 -5l1 -6l4 -2M408 336l-5 4l2 4l-2 4l0 6l-2 4l2 4M401 358l6 2M331 302l-3 4l5 4l-2 6l4 5l-1 5l4 3l-1 5l2 4l-2 6l5 2l2 5l6 2l-1 5M536 318l4 -4l-3 -4l3 -4l-4 -5l4 -5l-3 -3l5 -3l-1 -5l3 -5l-4 -5l4 -3l-3 -6M506 313l5 -4l1 -5l4 -1l3 -5l4 -3l1 -6l4 -1l0 -7l5 -3l0 -6M528 281l-3 -6M569 313l3 -4l-3 -5l3 -5l-2 -6l4 -5l-2 -4l1 -4M196 318l-2 5l2 6l-4 4l2 5l-4 1l2 6l-4 6l5 3l-3 4l3 3l-3 4l0 6M653 342l-2 4l4 4l-3 4l3 5l-3 5l1 5l-3 5l1 6l-4 4l2 5l-4 4l0 5l-5 4M845 332l-1 -5l-4 -4l-1 -6l-4 -5l1 -5l-3 -4l2 -5l-4 -5l3 -4l-3 -4M831 285l-6 0M816 358l1 6l6 1l0 6l5 4l-1 4l4 4l-3 5l5 3M736 346l-2 6l5 2l-1 5l3 5l-4 4l3 4l-2 4l5 4l0 5l4 2l0 6l5 3M733 362l-2 6l3 4l-1 5l2 6l-2 4l1 5l-1 5l4 5l-5 3M795 351l-2 5l4 5l0 6l3 4l1 5l3 4l-4 5l1 7l-4 5l3 5M176 322l-5 3l3 6l-5 3l2 5l-4 3l4 5l-3 5M678 355l-3 4l2 5l-1 5l3 3l-1 5l4 6l-3 4l2 6l-3 4l3 4l0 6l3 5M921 315l0 -5l-4 -4l2 -4l1 -7l4 -3l3 -5l5 -3l0 -4l5 -3l-2 -6M406 332l-5 3l-1 5l-5 2l0 5l-5 3M395 342l5 4M202 315l1 5l5 0l0 5l3 5l-2 4l2 6l-1 5l5 3l0 4l5 0l3 6l3 3l-3 5M237 321l-4 5l-1 5l-3 4l2 4l-6 1l-1 7l-6 3l-1 5l-5 1M175 331l-5 1l-1 6l-5 2l-1 5l-3 3l1 5l-4 3l2 5l-3 4l2 4M271 295l3 -5l-1 -4l4 -5l-3 -5l2 -4l-2 -5l3 -5l-4 -5l0 -6l-3 -4l0 -6M183 319l3 -4l-2 -5l4 -4l-1 -4l4 -2l2 -5l5 -4l-1 -5l5 -4M580 327l1 -6l-4 -4l3 -6l-5 -2l0 -6l-4 -3l0 -6l-5 0l-1 -4l-6 -2l-1 -5l-4 -2M581 321l6 -3M420 328l-4 4l0 6l-6 2l2 6l-5 2l-1 5l-5 4M416 338l4 5M371 315l-4 4l2 5l-2 4l2 6l-3 4l2 5l-2 5l3 5l-1 5l1 5l-3 3l1 5l-4 4l1 5M741 339l-3 3l1 5l-2 4l2 6l-2 4l1 4l-4 4l4 4l-3 5l2 5l-3 5l4 3l-4 5l6 3l-1 6l5 3M306 307l3 -4l-4 -4l2 -5l-3 -5l0 -5l-4 -1l3 -6l-5 -1l-1 -6l-5 -1l-2 -5l-5 -2l-3 -4l-6 -2l0 -4M309 303l6 -3M368 321l-3 4l3 5l-3 4l3 3l-3 5l2 4l-4 4l2 4l-5 4M477 312l0 -5l-4 -3l0 -5l-5 -1l-1 -6M473 304l-6 0" stroke="#2c0a6a" stroke-width="4.8"/><path d="M350 325l-3 3l2 5l-3 5l0 5l-4 4l5 2l-2 5l1 4l-4 6l2 5l-3 3M480 332l4 -3l1 -5l5 0l-2 -6l7 -1l0 -5l6 0l4 -4l5 -4M643 349l-3 4l6 0l1 5l3 4l-2 4l5 5l-1 6l4 2l0 6l2 5l-3 6M835 349l-1 5l3 6l-2 4l4 5l-2 6l2 5l-4 5l3 4l0 6l1 5M884 336l4 -2l2 -5l5 -1l0 -6l4 -2l2 -4l5 -2l0 -5l4 -3l1 -6l5 -1l1 -5l4 -2M890 329l-4 -5M775 347l-3 4l2 6l-4 4l4 5l-1 4l4 4l-3 5l3 6l-3 5l5 4l-4 4l4 5l-2 6M624 332l-2 5l2 5l-2 5l4 2l1 6l3 3l-3 4l5 3l-1 6l4 3l-1 4l6 3M626 349l6 2M597 338l4 -4l-2 -5l3 -4l-1 -5l3 -6l-3 -5l3 -4l-2 -5l4 -5l0 -5l4 -3l3 -4l5 -2l-2 -4l5 0M734 341l0 6l6 1l2 4l3 4l2 5l6 1l-1 5l5 2l2 5l5 1l3 5M458 328l-1 6l4 4l-2 5l2 5l-2 5l2 5l-2 5l3 4l-2 5l4 4l-3 3l3 4l-5 5M213 321l-3 -4l-4 -1l-3 -5l-6 0l-1 -5l-6 -1l-2 -5l-5 -2l0 -5l-5 2l-1 -5l-5 0l-1 -4l-5 -1M571 319l0 -6l-3 -3l1 -5l-4 -3l2 -5l-5 -2l-1 -6l0 -5l3 -4l-4 -5M776 346l-1 5l3 5l-3 5l3 3l-3 3l1 4l-5 2l0 7l-5 4l1 5l-5 2l1 6l-6 2M763 397l6 -1M218 319l-4 5l2 4l-1 5l-1 6l-4 2l0 6l-4 2l2 5l-4 3l1 4l-1 7l-1 5l-3 4M757 347l-5 3l-2 5l-5 1l0 6l-3 4l-1 6l-4 3l-1 7l-4 2l0 5l-7 1M745 362l4 5M862 317l3 -5l-2 -6l6 -2l2 -6l5 -2l-2 -4M863 306l-5 -4M243 311l0 6l3 4l-4 5l-1 6l-3 4l2 5l-3 4l1 6l-4 2l1 5l-6 0l-3 5M615 346l-2 5l2 4l-3 5l0 6l-4 4l1 6l-5 2l-1 5l-4 5l2 5l-4 4l1 5l-4 3l4 5M510 328l1 -5l-5 -3l-1 -6l-6 0l-4 -5l-4 -1l-3 -4l-5 0l1 -6M495 309l-6 2M196 317l-2 6l1 5l-4 2l0 7l-4 5l2 4l-3 3l-1 6l-4 4l-1 5l-5 0M347 313l-5 4l0 6l-2 5l3 5l-2 5l2 4l-1 6l5 2l-4 4l1 6l-2 6l3 4l-4 4l4 5M758 353l-2 5l5 3l-1 5l5 3l0 6l4 4l0 6l5 2l-3 6M760 366l6 0M190 313l2 -4l0 -5l6 -3l-3 -3l3 -4l-4 -4l2 -5l-3 -4M520 324l5 -3l1 -5l5 -1l-2 -5l5 -2l1 -5l4 -2l-1 -4l5 -1M606 356l-4 3l0 4l-3 4l2 6l-4 3l0 5l-5 2l-1 6l-4 2l0 5l-5 3l-2 5M162 313l-4 4l2 5l-2 5l0 6l-6 1l0 6l-3 5l0 5l-5 3l0 6M158 317l-6 2M503 332l-2 -5l-3 -4l-2 -6l-6 -2l-1 -5l-4 -1l3 -4l-2 -5l0 -6l-4 -4l1 -5l-1 -6M729 345l-1 5l1 4l-3 4l2 5l-3 5l2 6l-2 4l4 5l0 5l5 3M920 341l-2 -4l-5 -3l-1 -5l-3 -4l2 -5l-5 -3l-1 -6l-6 -2l3 -6l-3 -5l2 -5l-5 -5l1 -6M612 330l6 -3l-1 -5l3 -3l-2 -6l4 -4l-2 -6l4 -4l-1 -6l3 -5l-3 -5l4 -5l1 -6l4 -2M408 336l-5 4l2 4l-2 4l0 6l-2 4l2 4M401 358l6 2M331 302l-3 4l5 4l-2 6l4 5l-1 5l4 3l-1 5l2 4l-2 6l5 2l2 5l6 2l-1 5M536 318l4 -4l-3 -4l3 -4l-4 -5l4 -5l-3 -3l5 -3l-1 -5l3 -5l-4 -5l4 -3l-3 -6M506 313l5 -4l1 -5l4 -1l3 -5l4 -3l1 -6l4 -1l0 -7l5 -3l0 -6M528 281l-3 -6M569 313l3 -4l-3 -5l3 -5l-2 -6l4 -5l-2 -4l1 -4M196 318l-2 5l2 6l-4 4l2 5l-4 1l2 6l-4 6l5 3l-3 4l3 3l-3 4l0 6M653 342l-2 4l4 4l-3 4l3 5l-3 5l1 5l-3 5l1 6l-4 4l2 5l-4 4l0 5l-5 4M845 332l-1 -5l-4 -4l-1 -6l-4 -5l1 -5l-3 -4l2 -5l-4 -5l3 -4l-3 -4M831 285l-6 0M816 358l1 6l6 1l0 6l5 4l-1 4l4 4l-3 5l5 3M736 346l-2 6l5 2l-1 5l3 5l-4 4l3 4l-2 4l5 4l0 5l4 2l0 6l5 3M733 362l-2 6l3 4l-1 5l2 6l-2 4l1 5l-1 5l4 5l-5 3M795 351l-2 5l4 5l0 6l3 4l1 5l3 4l-4 5l1 7l-4 5l3 5M176 322l-5 3l3 6l-5 3l2 5l-4 3l4 5l-3 5M678 355l-3 4l2 5l-1 5l3 3l-1 5l4 6l-3 4l2 6l-3 4l3 4l0 6l3 5M921 315l0 -5l-4 -4l2 -4l1 -7l4 -3l3 -5l5 -3l0 -4l5 -3l-2 -6M406 332l-5 3l-1 5l-5 2l0 5l-5 3M395 342l5 4M202 315l1 5l5 0l0 5l3 5l-2 4l2 6l-1 5l5 3l0 4l5 0l3 6l3 3l-3 5M237 321l-4 5l-1 5l-3 4l2 4l-6 1l-1 7l-6 3l-1 5l-5 1M175 331l-5 1l-1 6l-5 2l-1 5l-3 3l1 5l-4 3l2 5l-3 4l2 4M271 295l3 -5l-1 -4l4 -5l-3 -5l2 -4l-2 -5l3 -5l-4 -5l0 -6l-3 -4l0 -6M183 319l3 -4l-2 -5l4 -4l-1 -4l4 -2l2 -5l5 -4l-1 -5l5 -4M580 327l1 -6l-4 -4l3 -6l-5 -2l0 -6l-4 -3l0 -6l-5 0l-1 -4l-6 -2l-1 -5l-4 -2M581 321l6 -3M420 328l-4 4l0 6l-6 2l2 6l-5 2l-1 5l-5 4M416 338l4 5M371 315l-4 4l2 5l-2 4l2 6l-3 4l2 5l-2 5l3 5l-1 5l1 5l-3 3l1 5l-4 4l1 5M741 339l-3 3l1 5l-2 4l2 6l-2 4l1 4l-4 4l4 4l-3 5l2 5l-3 5l4 3l-4 5l6 3l-1 6l5 3M306 307l3 -4l-4 -4l2 -5l-3 -5l0 -5l-4 -1l3 -6l-5 -1l-1 -6l-5 -1l-2 -5l-5 -2l-3 -4l-6 -2l0 -4M309 303l6 -3M368 321l-3 4l3 5l-3 4l3 3l-3 5l2 4l-4 4l2 4l-5 4M477 312l0 -5l-4 -3l0 -5l-5 -1l-1 -6M473 304l-6 0" stroke="#6a1ed2" stroke-width="3"/></g>
<g fill="none" stroke-linecap="round" stroke-linejoin="round"><path d="M210 301l1 -6l-1 -4l0 -6l-2 -5l0 -6M558 343l-3 3l1 5l-1 6l3 4l-3 4l1 6l-2 5l5 3l-2 4l5 5l-1 6M389 314l2 -5l-3 -4l2 -5l-4 -5l4 -4l-2 -4l3 -4l-2 -5l1 -6l-4 -4M672 330l0 -7l-6 -1l2 -6l-5 -1l-1 -5l-5 -1l-2 -5M657 309l5 -4M809 339l-1 6l4 5l0 5l3 5l-3 4l2 5l-3 3l3 5l-3 3l2 5l-2 5l3 3l-1 6l5 4l-3 6l5 3M565 347l-5 3l1 5l-5 4l1 6l-5 2l1 6l-5 2l1 6l-4 3l0 5M876 333l3 -4l-4 -5l3 -4l-1 -4l3 -5l-4 -5l1 -6l-4 -4l0 -5l-5 -3l-1 -4l-6 -2l-1 -5M730 350l3 -5l-4 -4l4 -4l-3 -4l1 -5l-3 -3l1 -4l-4 -4l0 -5l-4 -3l1 -6l-5 -4l-1 -5M730 333l6 -2M501 332l-2 6l2 5l-2 4l3 5l-1 4l2 5l-2 6l4 4l-3 5l2 5l-3 4l2 5l-2 4l3 6M501 394l-6 3M577 335l-3 5l3 3l-1 6l3 5l-4 4l1 5l-4 3l0 6l-5 3l-2 6l-5 4l0 5l-4 3M365 321l2 -5l-3 -5l4 -4l0 -7l5 -2l0 -6l4 -4l-1 -6l5 -2l1 -4l5 -1l2 -5l6 -2M481 324l-4 5l4 4l-3 5l1 7l-4 5l4 3l-1 4l4 4l-2 6l5 3l0 6l5 1l1 6M700 345l4 -5l-2 -4l1 -4l-4 -4l3 -6l-2 -5l3 -5l-2 -6l2 -4l-3 -5M703 302l-6 -2M395 330l-5 2l0 6l-6 1l0 6l-5 1M384 339l-6 -2M898 317l-1 -4l-5 -3l-3 -4l-5 -3l-4 -4l-5 -3l0 -5l-3 -4l0 -4l-4 -3l-2 -5l-3 -3M585 336l-3 4l2 6l-1 5l3 4l-2 6l1 6l-1 5l3 5l0 5l1 5l-1 5l1 6l-3 4l0 5l-3 4M584 361l-6 2M507 328l-5 3l0 5l-4 2l0 7l-6 0l-3 5l-5 1l-3 5l-6 0l-3 4l-5 -1l-5 3l-4 -3l-2 6M615 324l0 -5l-2 -4l4 -4l-1 -6l3 -4l-1 -4l3 -6M619 301l-6 -3M470 324l-3 5l3 4l-2 4l3 5l0 6l5 3l1 6l5 1l0 5l5 5l-2 6l5 5M568 335l-5 3l0 6l-3 5l0 5l-3 4l1 5l-4 3l1 4l-5 3l3 3l0 6l3 4l-2 6l4 3l-2 5M555 370l5 4M617 332l-6 2l-1 5l-5 4l0 5l-5 3l-1 6l-6 2l-2 6l-5 2l-3 4l-4 2M615 350l-3 4l0 5l-5 3l0 5l-5 3l2 6l-4 3l2 5l-4 4l0 5M607 362l-6 -2M448 331l-5 4l2 4l-5 4l2 4l-2 5l5 4l-4 5l3 5l-3 5l0 5M441 361l-6 0M708 336l2 -5l-5 -3l1 -5l-4 -4l3 -5l-3 -5l0 -6l-5 -1l1 -5l-5 -2l-1 -5l-6 -1l-3 -5M306 299l5 -2l-1 -4l4 -4l1 -5l4 -1l-1 -5l5 -1l3 -6l5 -3l-2 -4M315 284l-4 -5M232 304l0 -5l-4 -4l0 -6l-3 -4l2 -5l-3 -5l2 -4M227 280l-6 0M921 331l0 -6l-5 0l0 -5l-5 -2l-2 -5l-4 -4l0 -6l-4 -4l-1 -4l-4 -4l-1 -6l-5 -4M911 318l-6 0M695 333l3 -4l-3 -5l2 -5l-4 -3l0 -6l-4 -3l0 -5l-4 -4l0 -5l-5 -2l-2 -5l-5 -1M662 344l-3 4l-1 6l-5 2l-2 5l-6 2l-2 5l-4 -1l-1 4l-4 3l0 4M639 367l5 3M957 324l-3 5l2 5l-3 6l1 5l-4 2l3 5l-6 3l2 6l-4 4l3 6l-4 4l3 5M954 345l-6 2M313 298l5 -2l-1 -6l6 -2l-3 -5l5 -4l1 -6l6 -1l2 -5M323 288l-4 -5M866 349l-5 5l5 1l-4 4l3 5l-2 5l1 6l-4 3l0 5l-4 4M863 369l6 1M232 300l4 -5l-4 -2l2 -5l-3 -5l2 -4l-2 -4l4 -5l-3 -5M232 293l-6 -2M763 350l4 -4l-3 -5l3 -4l-3 -6l0 -6l-4 -5l-1 -4l-5 -2l0 -6l-4 -1l-2 -5l-5 0l-3 -4l-5 -3M518 324l-5 5l3 4l-1 6l3 3l-1 5l4 3l-4 5l3 3l0 6l4 4l0 6l5 3l1 5l5 4l0 5M520 364l-6 0M225 323l2 -6l-6 -3l1 -4l-6 -4l1 -5l-3 -6l2 -6l-3 -4l0 -7l-4 -3l2 -6l-3 -4l1 -5M217 301l-6 0M151 307l2 -5l-2 -6l3 -4l-3 -5l2 -4l-3 -4l2 -4l-3 -5l3 -4l-5 -3l0 -6M153 283l6 -2M552 342l-4 4l2 4l-4 5l1 5l-6 3l2 5l-5 1l0 6l-6 2M546 355l5 3M804 352l-3 5l2 5l-1 6l3 4l-2 4l3 5l-1 6M400 318l2 -5l-5 -3l-1 -6l-4 -1l0 -5l-4 -2l-1 -6l-4 1l0 -6M387 290l-6 -1M933 352l-4 4l1 5l-4 4l4 4l-3 4l2 5l-4 4l4 4M929 386l-6 1M448 326l-2 6l2 5l-6 1l2 4l-4 5l1 6l-4 4l1 5l-3 4l4 4l-2 6M455 340l-4 4l0 5l-6 4l-1 4l-5 1l-2 4l-5 3l-3 5l-5 3M429 370l-6 0M347 313l1 -5l-4 -3l-1 -5l-5 -1l-1 -5l-3 -5l0 -6l-6 -2l0 -6l-5 -3l2 -5l-5 -3l1 -5l-5 -1l-1 -5M328 275l-6 0M966 321l0 -4l-1 -5l3 -6l0 -6l1 -6l-4 -4l2 -5l-5 -4l4 -5l-5 -4l1 -5M966 276l6 -3M915 344l-4 5l4 4l-5 5l3 5l-3 5l2 6l-3 5l5 3l0 7l3 3l-2 6l5 3l-2 5M911 349l-6 2M884 344l-4 3l3 4l-4 4l3 4l-3 5l1 6l-3 5l2 5l-2 4l1 6l-2 6l0 6l-5 4l1 6M760 352l-3 4l4 5l-2 5l4 5l-2 6l3 6l-3 4l1 5l-4 4l-1 4l-4 5l0 5l-4 4l3 5M928 334l0 5l4 3l-1 5l3 3l-2 4l1 5l-4 4l0 6l-4 4l3 5l-1 4M931 347l-5 4M739 329l4 -4l-2 -6l3 -5l-3 -6l3 -5l-1 -4l4 -6l-3 -4l0 -5l-5 -3M744 303l-5 -4M699 331l2 -6l-2 -4l4 -4l-3 -5l5 -4l-2 -6l2 -5M703 317l-6 -2M270 303l-2 -5l-5 -1l-2 -5l-5 -1l0 -6l-6 -2l0 -5l-3 -4l0 -5l-5 0M268 298l-5 3M266 293l1 -5l-2 -5l5 -3l-1 -5l2 -6l-4 -4l4 -3M269 275l6 -2M399 316l4 -3l-2 -6l2 -4l-3 -5l2 -5l0 -5l5 -2l-3 -6M865 346l-3 4l4 3l-2 5l4 5l-4 3l2 5l-3 5l5 4l-2 6M342 300l-1 -5l-3 -3l2 -6l-4 -2l1 -7l-4 -4l1 -5" stroke="#6e3c0a" stroke-width="4.8"/><path d="M210 301l1 -6l-1 -4l0 -6l-2 -5l0 -6M558 343l-3 3l1 5l-1 6l3 4l-3 4l1 6l-2 5l5 3l-2 4l5 5l-1 6M389 314l2 -5l-3 -4l2 -5l-4 -5l4 -4l-2 -4l3 -4l-2 -5l1 -6l-4 -4M672 330l0 -7l-6 -1l2 -6l-5 -1l-1 -5l-5 -1l-2 -5M657 309l5 -4M809 339l-1 6l4 5l0 5l3 5l-3 4l2 5l-3 3l3 5l-3 3l2 5l-2 5l3 3l-1 6l5 4l-3 6l5 3M565 347l-5 3l1 5l-5 4l1 6l-5 2l1 6l-5 2l1 6l-4 3l0 5M876 333l3 -4l-4 -5l3 -4l-1 -4l3 -5l-4 -5l1 -6l-4 -4l0 -5l-5 -3l-1 -4l-6 -2l-1 -5M730 350l3 -5l-4 -4l4 -4l-3 -4l1 -5l-3 -3l1 -4l-4 -4l0 -5l-4 -3l1 -6l-5 -4l-1 -5M730 333l6 -2M501 332l-2 6l2 5l-2 4l3 5l-1 4l2 5l-2 6l4 4l-3 5l2 5l-3 4l2 5l-2 4l3 6M501 394l-6 3M577 335l-3 5l3 3l-1 6l3 5l-4 4l1 5l-4 3l0 6l-5 3l-2 6l-5 4l0 5l-4 3M365 321l2 -5l-3 -5l4 -4l0 -7l5 -2l0 -6l4 -4l-1 -6l5 -2l1 -4l5 -1l2 -5l6 -2M481 324l-4 5l4 4l-3 5l1 7l-4 5l4 3l-1 4l4 4l-2 6l5 3l0 6l5 1l1 6M700 345l4 -5l-2 -4l1 -4l-4 -4l3 -6l-2 -5l3 -5l-2 -6l2 -4l-3 -5M703 302l-6 -2M395 330l-5 2l0 6l-6 1l0 6l-5 1M384 339l-6 -2M898 317l-1 -4l-5 -3l-3 -4l-5 -3l-4 -4l-5 -3l0 -5l-3 -4l0 -4l-4 -3l-2 -5l-3 -3M585 336l-3 4l2 6l-1 5l3 4l-2 6l1 6l-1 5l3 5l0 5l1 5l-1 5l1 6l-3 4l0 5l-3 4M584 361l-6 2M507 328l-5 3l0 5l-4 2l0 7l-6 0l-3 5l-5 1l-3 5l-6 0l-3 4l-5 -1l-5 3l-4 -3l-2 6M615 324l0 -5l-2 -4l4 -4l-1 -6l3 -4l-1 -4l3 -6M619 301l-6 -3M470 324l-3 5l3 4l-2 4l3 5l0 6l5 3l1 6l5 1l0 5l5 5l-2 6l5 5M568 335l-5 3l0 6l-3 5l0 5l-3 4l1 5l-4 3l1 4l-5 3l3 3l0 6l3 4l-2 6l4 3l-2 5M555 370l5 4M617 332l-6 2l-1 5l-5 4l0 5l-5 3l-1 6l-6 2l-2 6l-5 2l-3 4l-4 2M615 350l-3 4l0 5l-5 3l0 5l-5 3l2 6l-4 3l2 5l-4 4l0 5M607 362l-6 -2M448 331l-5 4l2 4l-5 4l2 4l-2 5l5 4l-4 5l3 5l-3 5l0 5M441 361l-6 0M708 336l2 -5l-5 -3l1 -5l-4 -4l3 -5l-3 -5l0 -6l-5 -1l1 -5l-5 -2l-1 -5l-6 -1l-3 -5M306 299l5 -2l-1 -4l4 -4l1 -5l4 -1l-1 -5l5 -1l3 -6l5 -3l-2 -4M315 284l-4 -5M232 304l0 -5l-4 -4l0 -6l-3 -4l2 -5l-3 -5l2 -4M227 280l-6 0M921 331l0 -6l-5 0l0 -5l-5 -2l-2 -5l-4 -4l0 -6l-4 -4l-1 -4l-4 -4l-1 -6l-5 -4M911 318l-6 0M695 333l3 -4l-3 -5l2 -5l-4 -3l0 -6l-4 -3l0 -5l-4 -4l0 -5l-5 -2l-2 -5l-5 -1M662 344l-3 4l-1 6l-5 2l-2 5l-6 2l-2 5l-4 -1l-1 4l-4 3l0 4M639 367l5 3M957 324l-3 5l2 5l-3 6l1 5l-4 2l3 5l-6 3l2 6l-4 4l3 6l-4 4l3 5M954 345l-6 2M313 298l5 -2l-1 -6l6 -2l-3 -5l5 -4l1 -6l6 -1l2 -5M323 288l-4 -5M866 349l-5 5l5 1l-4 4l3 5l-2 5l1 6l-4 3l0 5l-4 4M863 369l6 1M232 300l4 -5l-4 -2l2 -5l-3 -5l2 -4l-2 -4l4 -5l-3 -5M232 293l-6 -2M763 350l4 -4l-3 -5l3 -4l-3 -6l0 -6l-4 -5l-1 -4l-5 -2l0 -6l-4 -1l-2 -5l-5 0l-3 -4l-5 -3M518 324l-5 5l3 4l-1 6l3 3l-1 5l4 3l-4 5l3 3l0 6l4 4l0 6l5 3l1 5l5 4l0 5M520 364l-6 0M225 323l2 -6l-6 -3l1 -4l-6 -4l1 -5l-3 -6l2 -6l-3 -4l0 -7l-4 -3l2 -6l-3 -4l1 -5M217 301l-6 0M151 307l2 -5l-2 -6l3 -4l-3 -5l2 -4l-3 -4l2 -4l-3 -5l3 -4l-5 -3l0 -6M153 283l6 -2M552 342l-4 4l2 4l-4 5l1 5l-6 3l2 5l-5 1l0 6l-6 2M546 355l5 3M804 352l-3 5l2 5l-1 6l3 4l-2 4l3 5l-1 6M400 318l2 -5l-5 -3l-1 -6l-4 -1l0 -5l-4 -2l-1 -6l-4 1l0 -6M387 290l-6 -1M933 352l-4 4l1 5l-4 4l4 4l-3 4l2 5l-4 4l4 4M929 386l-6 1M448 326l-2 6l2 5l-6 1l2 4l-4 5l1 6l-4 4l1 5l-3 4l4 4l-2 6M455 340l-4 4l0 5l-6 4l-1 4l-5 1l-2 4l-5 3l-3 5l-5 3M429 370l-6 0M347 313l1 -5l-4 -3l-1 -5l-5 -1l-1 -5l-3 -5l0 -6l-6 -2l0 -6l-5 -3l2 -5l-5 -3l1 -5l-5 -1l-1 -5M328 275l-6 0M966 321l0 -4l-1 -5l3 -6l0 -6l1 -6l-4 -4l2 -5l-5 -4l4 -5l-5 -4l1 -5M966 276l6 -3M915 344l-4 5l4 4l-5 5l3 5l-3 5l2 6l-3 5l5 3l0 7l3 3l-2 6l5 3l-2 5M911 349l-6 2M884 344l-4 3l3 4l-4 4l3 4l-3 5l1 6l-3 5l2 5l-2 4l1 6l-2 6l0 6l-5 4l1 6M760 352l-3 4l4 5l-2 5l4 5l-2 6l3 6l-3 4l1 5l-4 4l-1 4l-4 5l0 5l-4 4l3 5M928 334l0 5l4 3l-1 5l3 3l-2 4l1 5l-4 4l0 6l-4 4l3 5l-1 4M931 347l-5 4M739 329l4 -4l-2 -6l3 -5l-3 -6l3 -5l-1 -4l4 -6l-3 -4l0 -5l-5 -3M744 303l-5 -4M699 331l2 -6l-2 -4l4 -4l-3 -5l5 -4l-2 -6l2 -5M703 317l-6 -2M270 303l-2 -5l-5 -1l-2 -5l-5 -1l0 -6l-6 -2l0 -5l-3 -4l0 -5l-5 0M268 298l-5 3M266 293l1 -5l-2 -5l5 -3l-1 -5l2 -6l-4 -4l4 -3M269 275l6 -2M399 316l4 -3l-2 -6l2 -4l-3 -5l2 -5l0 -5l5 -2l-3 -6M865 346l-3 4l4 3l-2 5l4 5l-4 3l2 5l-3 5l5 4l-2 6M342 300l-1 -5l-3 -3l2 -6l-4 -2l1 -7l-4 -4l1 -5" stroke="#ee9432" stroke-width="3"/></g>
<g fill="none" stroke-linecap="round" stroke-linejoin="round"><path d="M661 339l4 -4l-3 -5l4 -5l0 -6l4 -4l1 -7l3 -3l2 -6l5 -2l3 -4l6 0l1 -5l6 0l1 -6M666 325l-6 -2M832 333l4 -4l-1 -4l6 -2l-1 -6l6 -2l-1 -5l4 -4l-1 -5l3 -4l-1 -6l3 -4l0 -6l3 -5l-1 -5M865 331l2 -5l-4 -5l5 -4l-4 -4l4 -4l-1 -5l3 -5l0 -6l4 -5l-1 -6l4 -4l-1 -6l3 -4l-5 -3M879 268l-6 -3M880 356l-2 5l1 6l-4 4l1 6l-4 3l1 5l-4 5l2 4M493 343l-4 5l4 4l-4 3l0 6l-4 4l2 4M454 323l4 -2l-1 -5l4 -4l-3 -5l2 -4l-1 -6l2 -5l-2 -5l5 -3l1 -5l4 -4M862 342l5 -4l-3 -4l4 -6l-4 -3l3 -6l-4 -4l-1 -6l-4 -3l0 -6l-5 -2l4 -4l-4 -4l2 -5M858 300l6 -2M734 344l-4 3l3 6l-2 4l2 5l-3 3l2 4l-4 3l0 5l-3 4l-1 6l-5 3M730 365l5 3M501 341l-5 3l-1 6l-3 4l0 6l-6 1l1 5l-4 4l1 4l-4 3l0 6l-2 3l0 5M480 377l-6 0M686 349l3 -5l-4 -4l4 -4l-4 -3l3 -6l-3 -5l3 -3l-3 -5l4 -4l1 -6l4 -2l-4 -5l3 -3l-2 -6M688 319l6 -3M141 330l1 6l6 1l2 4l6 2l3 6l6 3l0 5l5 4M860 341l-5 3l0 5l-3 4l0 5l-4 4l0 5l-4 4l0 6l-4 2l2 6M856 354l-4 4l1 6l-5 2l2 6l-4 3l1 5l-3 5l3 6M846 375l-6 1M235 332l-2 5l2 4l-2 7l4 5l-3 4l3 5l-4 5l3 5M888 346l-2 6l2 6l-5 4l1 6l-4 4l-1 6l-3 4M886 352l6 3M249 299l3 -5l-3 -6l2 -4l-3 -6l3 -3l-4 -6l5 -3l-1 -6l3 -6M249 288l-6 -2M389 324l5 -2l0 -4l5 -4l-2 -4l0 -5l-5 -5l2 -5l-4 -4l1 -4l-5 -4l0 -6l-4 -3l0 -5l-4 -4M186 332l2 6l4 3l1 6l5 2l1 5l5 1l3 6l5 2l2 5M198 349l-5 4M840 340l-1 5l3 5l-4 3l1 7l-2 4l4 5l-5 5l3 4l-3 4l2 6l-5 4l3 4M838 388l6 1M671 328l3 -5l-2 -4l2 -4l-2 -4l4 -3l-3 -6l3 -4l-2 -5l2 -5l0 -6M676 308l-6 -2M532 333l-1 5l5 4l-2 4l5 2l0 6l5 0l-1 6l5 3l1 6l5 2l1 6l5 1M349 309l6 0l2 -5l6 0l1 -6l6 0l2 -4l6 2l4 -5l5 1M372 294l-3 -5M428 320l-3 3l1 6l-2 4l1 5l-3 3l1 6l-2 5l3 4l-1 6l3 4l0 5M128 310l1 -6l-3 -5l3 -5l-1 -5l6 -3l-1 -6M129 304l-6 -3M583 340l-4 4l2 5l-2 5l4 4l-4 4l2 6l-4 2l3 6l-5 3l0 6M581 368l5 3M657 357l-5 3l0 5l-5 3l3 4l-5 2l-2 6l-4 4M650 372l-6 0M155 331l0 5l3 4l-2 6l3 4l1 6l6 2l1 6l4 2M929 348l-2 4l4 3l-2 5l4 4l-1 6l2 5l-3 4l3 4l-2 6l6 3l-1 5l3 4l-1 5M173 335l-2 6l6 3l0 4l5 5l0 6l6 3l2 4l4 5M182 353l-5 4M443 313l5 -2l0 -5l3 -6l-1 -4l3 -4l-2 -5l4 -5M453 292l-4 -5M818 338l5 -4l-2 -4l4 -4l-1 -6l4 -5l-4 -3l5 -3l0 -6l4 -5l-2 -5l0 -5l-4 -4l3 -5l-4 -3M641 343l-5 2l-1 5l-6 1l-3 5l-4 0l-6 5l-6 0l-2 5l-6 2l0 5l-5 1l-2 6M606 352l-5 2l1 4l-3 4l2 5l-4 3l-2 5l-4 3M601 354l4 5M348 315l5 -4l-1 -6l4 -4l-1 -5l4 -3l1 -6l5 -3l0 -5l4 -2l3 -6l4 -5M813 335l-5 3l2 5l-2 6l2 6l-4 3l2 6l-2 4l3 5l-1 5l4 4l0 6l5 3l-2 5M810 355l6 2M525 329l-3 5l5 2l-3 4l5 5l-3 5l3 5l-2 5l3 6l-3 4l2 5l-2 5l2 5M625 347l4 -3l-2 -3l2 -4l-2 -6l2 -5l-2 -6l1 -6l-4 -4l2 -5l-4 -3l-1 -5l-2 -5l1 -4l-3 -4l2 -4M658 360l-5 3l-1 5l-5 2l0 7l-3 3l-1 4l-1 7l0 5l-2 5l3 5l-6 1l0 6M806 338l1 -7l-4 -5l2 -5l-2 -4l-1 -4l-4 -4l1 -6l-3 -5l2 -5l-3 -4l3 -4l-1 -6M959 340l-3 5l2 5l-3 5l1 5l-4 4l1 5l-5 1l2 5l-5 0l-1 5l-4 4M847 335l5 -5l-3 -5l5 -3l0 -6l4 -3l1 -5l4 -2l1 -5l5 -3l0 -5l5 -3M864 301l6 -1M766 345l1 -4l-4 -3l1 -5l-3 -4l3 -4l-2 -4l2 -5l-2 -4l2 -6l0 -6l4 -3M761 329l-6 0M267 293l3 -5l-4 -4l2 -6l-2 -5l3 -4l-2 -4l5 -3l1 -4l5 -3M278 255l-6 -1M245 296l3 -4l-4 -3l-2 -6l-4 -2l2 -6l-5 -3l1 -5l-4 -4l1 -5l-4 -3M238 281l-6 1M535 341l-3 5l2 4l-3 4l4 4l0 6l5 3l-2 5l3 5M386 314l4 -4l0 -6l3 -5l-2 -6l4 -2l-1 -7M390 304l6 0M856 330l-4 4l4 6l-4 3l4 4l-3 6l0 6l-4 3l2 4l-4 5l1 6l-3 4l-1 4l-5 3M839 324l2 -5l-3 -6l2 -4l-2 -6l2 -5l-3 -4l1 -5M838 313l5 -3M682 346l6 1l2 -6l4 -2l1 -5l5 -2l1 -5l2 -4l-1 -6l4 -2l5 -3l5 -2l3 -5l4 1l2 -5l5 -2l3 -5M733 294l-3 -6M909 339l-4 5l5 1l2 6l4 1l-1 6l6 -1l0 6l4 3l-2 5l3 3l-1 5l2 4l0 6l3 3M910 345l-5 4M465 328l-6 3l1 7l-4 4l-1 6l-3 3l1 4l-3 4l2 6l-2 4l4 5l-4 4l3 5M454 374l-6 0M233 308l2 -6l-6 -2l2 -5l-5 -3l0 -5l-5 -3l2 -6l-4 -3l1 -5l-4 -5M216 265l5 -4M501 323l5 -2l3 -6l6 0l1 -5l4 -3l1 -5l4 -3l0 -5l3 -5l-2 -5M515 315l6 1M910 346l0 5l3 4l-1 5l4 4l-1 4l5 2l3 5l5 2l0 6l4 2M528 339l-6 3l1 6l-4 3l-1 6l-5 2l2 5l-4 3l0 6l-3 4l-1 6l-4 2M550 337l-4 2l1 5l-4 2l-4 5l-5 1l0 6l-4 2l-2 6l-5 1l-1 6l-6 0l-4 5l-5 1M523 367l-6 0M301 288l3 -6l-4 -3l1 -6l-1 -5l1 -6l-2 -6M992 349l-5 0l-3 6l-5 2l1 6l-5 -1l-3 6M987 349l-6 -2" stroke="#6e3c0a" stroke-width="4.8"/><path d="M661 339l4 -4l-3 -5l4 -5l0 -6l4 -4l1 -7l3 -3l2 -6l5 -2l3 -4l6 0l1 -5l6 0l1 -6M666 325l-6 -2M832 333l4 -4l-1 -4l6 -2l-1 -6l6 -2l-1 -5l4 -4l-1 -5l3 -4l-1 -6l3 -4l0 -6l3 -5l-1 -5M865 331l2 -5l-4 -5l5 -4l-4 -4l4 -4l-1 -5l3 -5l0 -6l4 -5l-1 -6l4 -4l-1 -6l3 -4l-5 -3M879 268l-6 -3M880 356l-2 5l1 6l-4 4l1 6l-4 3l1 5l-4 5l2 4M493 343l-4 5l4 4l-4 3l0 6l-4 4l2 4M454 323l4 -2l-1 -5l4 -4l-3 -5l2 -4l-1 -6l2 -5l-2 -5l5 -3l1 -5l4 -4M862 342l5 -4l-3 -4l4 -6l-4 -3l3 -6l-4 -4l-1 -6l-4 -3l0 -6l-5 -2l4 -4l-4 -4l2 -5M858 300l6 -2M734 344l-4 3l3 6l-2 4l2 5l-3 3l2 4l-4 3l0 5l-3 4l-1 6l-5 3M730 365l5 3M501 341l-5 3l-1 6l-3 4l0 6l-6 1l1 5l-4 4l1 4l-4 3l0 6l-2 3l0 5M480 377l-6 0M686 349l3 -5l-4 -4l4 -4l-4 -3l3 -6l-3 -5l3 -3l-3 -5l4 -4l1 -6l4 -2l-4 -5l3 -3l-2 -6M688 319l6 -3M141 330l1 6l6 1l2 4l6 2l3 6l6 3l0 5l5 4M860 341l-5 3l0 5l-3 4l0 5l-4 4l0 5l-4 4l0 6l-4 2l2 6M856 354l-4 4l1 6l-5 2l2 6l-4 3l1 5l-3 5l3 6M846 375l-6 1M235 332l-2 5l2 4l-2 7l4 5l-3 4l3 5l-4 5l3 5M888 346l-2 6l2 6l-5 4l1 6l-4 4l-1 6l-3 4M886 352l6 3M249 299l3 -5l-3 -6l2 -4l-3 -6l3 -3l-4 -6l5 -3l-1 -6l3 -6M249 288l-6 -2M389 324l5 -2l0 -4l5 -4l-2 -4l0 -5l-5 -5l2 -5l-4 -4l1 -4l-5 -4l0 -6l-4 -3l0 -5l-4 -4M186 332l2 6l4 3l1 6l5 2l1 5l5 1l3 6l5 2l2 5M198 349l-5 4M840 340l-1 5l3 5l-4 3l1 7l-2 4l4 5l-5 5l3 4l-3 4l2 6l-5 4l3 4M838 388l6 1M671 328l3 -5l-2 -4l2 -4l-2 -4l4 -3l-3 -6l3 -4l-2 -5l2 -5l0 -6M676 308l-6 -2M532 333l-1 5l5 4l-2 4l5 2l0 6l5 0l-1 6l5 3l1 6l5 2l1 6l5 1M349 309l6 0l2 -5l6 0l1 -6l6 0l2 -4l6 2l4 -5l5 1M372 294l-3 -5M428 320l-3 3l1 6l-2 4l1 5l-3 3l1 6l-2 5l3 4l-1 6l3 4l0 5M128 310l1 -6l-3 -5l3 -5l-1 -5l6 -3l-1 -6M129 304l-6 -3M583 340l-4 4l2 5l-2 5l4 4l-4 4l2 6l-4 2l3 6l-5 3l0 6M581 368l5 3M657 357l-5 3l0 5l-5 3l3 4l-5 2l-2 6l-4 4M650 372l-6 0M155 331l0 5l3 4l-2 6l3 4l1 6l6 2l1 6l4 2M929 348l-2 4l4 3l-2 5l4 4l-1 6l2 5l-3 4l3 4l-2 6l6 3l-1 5l3 4l-1 5M173 335l-2 6l6 3l0 4l5 5l0 6l6 3l2 4l4 5M182 353l-5 4M443 313l5 -2l0 -5l3 -6l-1 -4l3 -4l-2 -5l4 -5M453 292l-4 -5M818 338l5 -4l-2 -4l4 -4l-1 -6l4 -5l-4 -3l5 -3l0 -6l4 -5l-2 -5l0 -5l-4 -4l3 -5l-4 -3M641 343l-5 2l-1 5l-6 1l-3 5l-4 0l-6 5l-6 0l-2 5l-6 2l0 5l-5 1l-2 6M606 352l-5 2l1 4l-3 4l2 5l-4 3l-2 5l-4 3M601 354l4 5M348 315l5 -4l-1 -6l4 -4l-1 -5l4 -3l1 -6l5 -3l0 -5l4 -2l3 -6l4 -5M813 335l-5 3l2 5l-2 6l2 6l-4 3l2 6l-2 4l3 5l-1 5l4 4l0 6l5 3l-2 5M810 355l6 2M525 329l-3 5l5 2l-3 4l5 5l-3 5l3 5l-2 5l3 6l-3 4l2 5l-2 5l2 5M625 347l4 -3l-2 -3l2 -4l-2 -6l2 -5l-2 -6l1 -6l-4 -4l2 -5l-4 -3l-1 -5l-2 -5l1 -4l-3 -4l2 -4M658 360l-5 3l-1 5l-5 2l0 7l-3 3l-1 4l-1 7l0 5l-2 5l3 5l-6 1l0 6M806 338l1 -7l-4 -5l2 -5l-2 -4l-1 -4l-4 -4l1 -6l-3 -5l2 -5l-3 -4l3 -4l-1 -6M959 340l-3 5l2 5l-3 5l1 5l-4 4l1 5l-5 1l2 5l-5 0l-1 5l-4 4M847 335l5 -5l-3 -5l5 -3l0 -6l4 -3l1 -5l4 -2l1 -5l5 -3l0 -5l5 -3M864 301l6 -1M766 345l1 -4l-4 -3l1 -5l-3 -4l3 -4l-2 -4l2 -5l-2 -4l2 -6l0 -6l4 -3M761 329l-6 0M267 293l3 -5l-4 -4l2 -6l-2 -5l3 -4l-2 -4l5 -3l1 -4l5 -3M278 255l-6 -1M245 296l3 -4l-4 -3l-2 -6l-4 -2l2 -6l-5 -3l1 -5l-4 -4l1 -5l-4 -3M238 281l-6 1M535 341l-3 5l2 4l-3 4l4 4l0 6l5 3l-2 5l3 5M386 314l4 -4l0 -6l3 -5l-2 -6l4 -2l-1 -7M390 304l6 0M856 330l-4 4l4 6l-4 3l4 4l-3 6l0 6l-4 3l2 4l-4 5l1 6l-3 4l-1 4l-5 3M839 324l2 -5l-3 -6l2 -4l-2 -6l2 -5l-3 -4l1 -5M838 313l5 -3M682 346l6 1l2 -6l4 -2l1 -5l5 -2l1 -5l2 -4l-1 -6l4 -2l5 -3l5 -2l3 -5l4 1l2 -5l5 -2l3 -5M733 294l-3 -6M909 339l-4 5l5 1l2 6l4 1l-1 6l6 -1l0 6l4 3l-2 5l3 3l-1 5l2 4l0 6l3 3M910 345l-5 4M465 328l-6 3l1 7l-4 4l-1 6l-3 3l1 4l-3 4l2 6l-2 4l4 5l-4 4l3 5M454 374l-6 0M233 308l2 -6l-6 -2l2 -5l-5 -3l0 -5l-5 -3l2 -6l-4 -3l1 -5l-4 -5M216 265l5 -4M501 323l5 -2l3 -6l6 0l1 -5l4 -3l1 -5l4 -3l0 -5l3 -5l-2 -5M515 315l6 1M910 346l0 5l3 4l-1 5l4 4l-1 4l5 2l3 5l5 2l0 6l4 2M528 339l-6 3l1 6l-4 3l-1 6l-5 2l2 5l-4 3l0 6l-3 4l-1 6l-4 2M550 337l-4 2l1 5l-4 2l-4 5l-5 1l0 6l-4 2l-2 6l-5 1l-1 6l-6 0l-4 5l-5 1M523 367l-6 0M301 288l3 -6l-4 -3l1 -6l-1 -5l1 -6l-2 -6M992 349l-5 0l-3 6l-5 2l1 6l-5 -1l-3 6M987 349l-6 -2" stroke="#ee9432" stroke-width="3"/></g>
<g fill="none" stroke-linecap="round" stroke-linejoin="round"><path d="M757 341l-3 6l2 5l-4 3l2 5l-4 3l0 4l-5 4l1 6l-3 4l1 6l-4 4l-3 5l-3 4l0 5M362 313l-2 6l5 3l-2 6l1 5l-3 6l5 3l-3 5l2 6l-5 4l0 7l-3 4M357 368l-5 4M342 325l-4 4l-2 5l-5 2l0 5l-5 1l-1 6l-4 3l2 5l-5 2l1 5l-2 5l-2 6M536 311l3 -5l1 -6l4 -2l-1 -5l3 -3l-2 -5l4 -2l1 -5l3 -4l1 -5l4 -5M966 313l4 -3l-2 -5l2 -5l-3 -4l3 -3l-1 -5l3 -4l-2 -5M131 330l1 6l5 4l-1 5l5 3l0 5l6 1l-1 5l6 2M907 322l2 -6l-2 -5l5 -3l0 -6l5 -3l-1 -6l3 -3l-2 -5M643 345l-1 5l3 4l-3 4l2 5l-3 6l3 5l-2 6l3 4l0 4l4 4l0 5l4 5l3 6l4 4M439 321l-3 4l1 4l-4 5l1 6l-2 5l2 5l-2 6l3 5l-4 5l2 5l-3 4l1 6l-5 3M308 287l2 -6l-4 -5l2 -5l-4 -3l2 -5l-4 -3l1 -6M157 318l0 -4l-5 -3l3 -4l1 -5l4 -4l-1 -4l4 -6l0 -5l6 -3l-4 -5M575 325l3 -3l-2 -6l2 -5l-1 -7l5 -2l-3 -5l6 -2l-1 -7l4 -4l3 -5M311 310l-6 3l0 5l-4 4l0 5l-5 4l-2 5l-5 1l-4 3l-5 3M554 315l5 -3l-5 -4l3 -4l-3 -5l2 -5l-3 -3l1 -5l-2 -6l4 -4l-2 -5l3 -5M126 321l-1 6l1 6l-2 5l3 4M639 346l-1 5l0 6l-4 5l4 4l-2 5l2 5l-3 5l3 6l0 4l2 5l-1 6l2 5M635 381l6 2M237 329l-2 5l3 4l-2 5l2 4l-6 2l-1 5l-4 4l2 5M233 306l1 -4l-4 -3l0 -5l-2 -4l2 -4l-4 -5l1 -6l-4 -4l4 -4l-3 -4l5 -4l-1 -6M134 321l1 4l3 4l1 6l6 3l-2 4l4 3l-2 5M165 318l-4 3l-1 4l-5 3l1 5l-5 1l2 7l-4 3l1 5l-6 1l-1 5l-4 2l-3 4M803 350l-5 3l-1 6l-3 5l1 6l-6 2l-1 5l-4 2l-1 6l-3 3l-1 5l-4 3M377 322l-2 5l3 5l-3 4l3 5l-1 5l1 6l-4 3l1 5l-3 3l-1 5M162 303l1 -6l-4 -4l3 -4l-3 -4l3 -5M409 334l-3 5l4 5l-3 4l1 5l-4 4l2 4M377 310l1 -5l-3 -4l0 -4l-5 -4l3 -4l-2 -5l3 -5l0 -5l3 -2l0 -5l4 -5M666 342l-1 5l3 5l-3 6l3 4l1 5l4 3l1 6l4 4l1 5l4 4l2 4l4 1l3 4M639 327l5 -2l0 -5l3 -3l-2 -6l5 -4l0 -5l4 -3l-2 -4l6 -3l-1 -6l6 -2l2 -5M657 286l6 0M636 337l2 -5l-3 -6l0 -5l-4 -3l-1 -4l-5 -3l0 -5l-4 -4l3 -4l-3 -5l-1 -5M638 332l6 -3M848 338l1 -4l-3 -5l3 -3l-2 -5l4 -5l-3 -5l5 -3l-1 -5l3 -5l-3 -4l3 -4l-3 -4l3 -4M851 316l6 -2M916 350l-3 5l5 4l-5 5l2 6l-3 5l4 2l-2 5l4 4M629 325l2 -5l-2 -5l0 -5l-4 -4l4 -5l-4 -5l3 -6l-2 -5l3 -6l-3 -4l3 -3M407 320l-4 2l2 6l-4 5l1 5l-2 6l2 5l-1 5l5 3l1 6M328 302l-5 1l-1 6l-6 3l1 6l-5 3l0 5l-5 3l1 5l-2 5l3 5l-3 4l0 5l-3 4l-2 6l-3 3M321 314l-3 5l4 4l-2 5l3 4l-1 6l4 2l-1 6l4 3l2 5l6 3l2 5l7 1M154 320l-1 5l2 5l-1 5l3 5l0 5l4 5l-1 6l5 4l-1 6l4 4M713 344l-3 6l2 4l-3 4l-1 6l-4 4l-1 5l-4 5l1 5l-4 5l3 6M634 337l4 -4l-3 -4l3 -4l-5 -3l2 -5l-1 -5l3 -4l-3 -4l1 -6M649 344l-2 -4l-4 -5l4 -5l0 -6l1 -5l-2 -5l2 -5l-4 -5l3 -6l0 -5l3 -5l-2 -5l4 -5l-1 -6l2 -4M913 333l3 -4l-1 -5l6 -1l0 -7l7 1l3 -5l5 -1l0 -5l6 -1l5 -4l5 3l4 -4l6 1l3 -4l4 0M187 317l6 1l2 -6l5 1l0 -7l5 -1l4 -3l5 1l3 -5M200 313l-2 -6M184 321l-3 4l0 6l1 5l3 4l-2 5l5 3l1 6l5 3l0 6l6 2l-1 6l6 1M537 325l4 -2l0 -5l5 -3l1 -6l5 -3l-1 -5l4 -2l-1 -5l5 -3l1 -6M340 322l-1 5l5 4l-3 3l3 6l0 5l3 3l-2 6l3 6l-4 3l2 5l-3 4M347 348l-6 2M501 319l1 -5l-5 -3l-1 -7l-4 -1l1 -6l-5 -2l3 -6l-5 -3l4 -4l-1 -6l1 -6M811 348l-2 4l3 4l-1 6l3 5l-5 3l4 5l-2 6l3 6l-3 6M258 321l-3 6l0 5l-2 5l1 6l-4 3l1 5l-3 4l1 6l-2 5l1 5l0 6l0 5M254 343l5 3M217 316l-2 4l3 5l-4 4l3 3l-4 4l4 5l-2 6l3 5M636 345l3 -5l0 -6l4 -4l-1 -5l4 -3l2 -6l5 -1l4 -5l5 0l0 -5l6 -1l3 -5l5 3l4 -5M914 342l-4 4l0 6l-5 2l2 6l-4 4l-1 5l-3 3l-1 5l-4 3l1 6l-3 4l-1 4M905 354l5 4M175 316l0 -6l-4 -5l2 -5l-2 -5l1 -6l-5 -5l4 -4l-3 -5l3 -5l0 -5l2 -4l-3 -4M186 325l3 -3l-3 -6l4 -4l-2 -4l3 -6l-1 -5l3 -5l-2 -5l3 -3l-2 -4l2 -5M282 303l-2 6l4 4l-3 5l3 4l-2 5l2 4l-5 4l4 3l1 5l4 3l-2 6l4 4M419 338l-4 3l2 5l-2 5l2 5M437 325l-5 0l-2 5l-5 1l-2 4l-5 1l-2 6l-6 -2l-6 3l-4 -3M400 340l2 6M196 308l0 -6l-3 -4l1 -5l-5 -1l-1 -6l-5 0l-2 -5l-5 1l-3 -5l-5 1M196 302l5 -4M822 339l-3 5l3 5l-4 3l3 5l-3 4l2 5l-5 3l-1 5l-2 5l2 5l-5 2M814 374l5 3M652 325l1 -6l-2 -4l0 -4l-4 -4l0 -6l-1 -5l0 -5l-6 -2" stroke="#2c0a6a" stroke-width="4.8"/><path d="M757 341l-3 6l2 5l-4 3l2 5l-4 3l0 4l-5 4l1 6l-3 4l1 6l-4 4l-3 5l-3 4l0 5M362 313l-2 6l5 3l-2 6l1 5l-3 6l5 3l-3 5l2 6l-5 4l0 7l-3 4M357 368l-5 4M342 325l-4 4l-2 5l-5 2l0 5l-5 1l-1 6l-4 3l2 5l-5 2l1 5l-2 5l-2 6M536 311l3 -5l1 -6l4 -2l-1 -5l3 -3l-2 -5l4 -2l1 -5l3 -4l1 -5l4 -5M966 313l4 -3l-2 -5l2 -5l-3 -4l3 -3l-1 -5l3 -4l-2 -5M131 330l1 6l5 4l-1 5l5 3l0 5l6 1l-1 5l6 2M907 322l2 -6l-2 -5l5 -3l0 -6l5 -3l-1 -6l3 -3l-2 -5M643 345l-1 5l3 4l-3 4l2 5l-3 6l3 5l-2 6l3 4l0 4l4 4l0 5l4 5l3 6l4 4M439 321l-3 4l1 4l-4 5l1 6l-2 5l2 5l-2 6l3 5l-4 5l2 5l-3 4l1 6l-5 3M308 287l2 -6l-4 -5l2 -5l-4 -3l2 -5l-4 -3l1 -6M157 318l0 -4l-5 -3l3 -4l1 -5l4 -4l-1 -4l4 -6l0 -5l6 -3l-4 -5M575 325l3 -3l-2 -6l2 -5l-1 -7l5 -2l-3 -5l6 -2l-1 -7l4 -4l3 -5M311 310l-6 3l0 5l-4 4l0 5l-5 4l-2 5l-5 1l-4 3l-5 3M554 315l5 -3l-5 -4l3 -4l-3 -5l2 -5l-3 -3l1 -5l-2 -6l4 -4l-2 -5l3 -5M126 321l-1 6l1 6l-2 5l3 4M639 346l-1 5l0 6l-4 5l4 4l-2 5l2 5l-3 5l3 6l0 4l2 5l-1 6l2 5M635 381l6 2M237 329l-2 5l3 4l-2 5l2 4l-6 2l-1 5l-4 4l2 5M233 306l1 -4l-4 -3l0 -5l-2 -4l2 -4l-4 -5l1 -6l-4 -4l4 -4l-3 -4l5 -4l-1 -6M134 321l1 4l3 4l1 6l6 3l-2 4l4 3l-2 5M165 318l-4 3l-1 4l-5 3l1 5l-5 1l2 7l-4 3l1 5l-6 1l-1 5l-4 2l-3 4M803 350l-5 3l-1 6l-3 5l1 6l-6 2l-1 5l-4 2l-1 6l-3 3l-1 5l-4 3M377 322l-2 5l3 5l-3 4l3 5l-1 5l1 6l-4 3l1 5l-3 3l-1 5M162 303l1 -6l-4 -4l3 -4l-3 -4l3 -5M409 334l-3 5l4 5l-3 4l1 5l-4 4l2 4M377 310l1 -5l-3 -4l0 -4l-5 -4l3 -4l-2 -5l3 -5l0 -5l3 -2l0 -5l4 -5M666 342l-1 5l3 5l-3 6l3 4l1 5l4 3l1 6l4 4l1 5l4 4l2 4l4 1l3 4M639 327l5 -2l0 -5l3 -3l-2 -6l5 -4l0 -5l4 -3l-2 -4l6 -3l-1 -6l6 -2l2 -5M657 286l6 0M636 337l2 -5l-3 -6l0 -5l-4 -3l-1 -4l-5 -3l0 -5l-4 -4l3 -4l-3 -5l-1 -5M638 332l6 -3M848 338l1 -4l-3 -5l3 -3l-2 -5l4 -5l-3 -5l5 -3l-1 -5l3 -5l-3 -4l3 -4l-3 -4l3 -4M851 316l6 -2M916 350l-3 5l5 4l-5 5l2 6l-3 5l4 2l-2 5l4 4M629 325l2 -5l-2 -5l0 -5l-4 -4l4 -5l-4 -5l3 -6l-2 -5l3 -6l-3 -4l3 -3M407 320l-4 2l2 6l-4 5l1 5l-2 6l2 5l-1 5l5 3l1 6M328 302l-5 1l-1 6l-6 3l1 6l-5 3l0 5l-5 3l1 5l-2 5l3 5l-3 4l0 5l-3 4l-2 6l-3 3M321 314l-3 5l4 4l-2 5l3 4l-1 6l4 2l-1 6l4 3l2 5l6 3l2 5l7 1M154 320l-1 5l2 5l-1 5l3 5l0 5l4 5l-1 6l5 4l-1 6l4 4M713 344l-3 6l2 4l-3 4l-1 6l-4 4l-1 5l-4 5l1 5l-4 5l3 6M634 337l4 -4l-3 -4l3 -4l-5 -3l2 -5l-1 -5l3 -4l-3 -4l1 -6M649 344l-2 -4l-4 -5l4 -5l0 -6l1 -5l-2 -5l2 -5l-4 -5l3 -6l0 -5l3 -5l-2 -5l4 -5l-1 -6l2 -4M913 333l3 -4l-1 -5l6 -1l0 -7l7 1l3 -5l5 -1l0 -5l6 -1l5 -4l5 3l4 -4l6 1l3 -4l4 0M187 317l6 1l2 -6l5 1l0 -7l5 -1l4 -3l5 1l3 -5M200 313l-2 -6M184 321l-3 4l0 6l1 5l3 4l-2 5l5 3l1 6l5 3l0 6l6 2l-1 6l6 1M537 325l4 -2l0 -5l5 -3l1 -6l5 -3l-1 -5l4 -2l-1 -5l5 -3l1 -6M340 322l-1 5l5 4l-3 3l3 6l0 5l3 3l-2 6l3 6l-4 3l2 5l-3 4M347 348l-6 2M501 319l1 -5l-5 -3l-1 -7l-4 -1l1 -6l-5 -2l3 -6l-5 -3l4 -4l-1 -6l1 -6M811 348l-2 4l3 4l-1 6l3 5l-5 3l4 5l-2 6l3 6l-3 6M258 321l-3 6l0 5l-2 5l1 6l-4 3l1 5l-3 4l1 6l-2 5l1 5l0 6l0 5M254 343l5 3M217 316l-2 4l3 5l-4 4l3 3l-4 4l4 5l-2 6l3 5M636 345l3 -5l0 -6l4 -4l-1 -5l4 -3l2 -6l5 -1l4 -5l5 0l0 -5l6 -1l3 -5l5 3l4 -5M914 342l-4 4l0 6l-5 2l2 6l-4 4l-1 5l-3 3l-1 5l-4 3l1 6l-3 4l-1 4M905 354l5 4M175 316l0 -6l-4 -5l2 -5l-2 -5l1 -6l-5 -5l4 -4l-3 -5l3 -5l0 -5l2 -4l-3 -4M186 325l3 -3l-3 -6l4 -4l-2 -4l3 -6l-1 -5l3 -5l-2 -5l3 -3l-2 -4l2 -5M282 303l-2 6l4 4l-3 5l3 4l-2 5l2 4l-5 4l4 3l1 5l4 3l-2 6l4 4M419 338l-4 3l2 5l-2 5l2 5M437 325l-5 0l-2 5l-5 1l-2 4l-5 1l-2 6l-6 -2l-6 3l-4 -3M400 340l2 6M196 308l0 -6l-3 -4l1 -5l-5 -1l-1 -6l-5 0l-2 -5l-5 1l-3 -5l-5 1M196 302l5 -4M822 339l-3 5l3 5l-4 3l3 5l-3 4l2 5l-5 3l-1 5l-2 5l2 5l-5 2M814 374l5 3M652 325l1 -6l-2 -4l0 -4l-4 -4l0 -6l-1 -5l0 -5l-6 -2" stroke="#6a1ed2" stroke-width="3"/></g>
<path d="M895 668l-6 7M308 612l5 6M816 657l-4 2M551 576l7 1M408 590l-5 2M809 659l4 4M352 579l-6 0M675 583l5 1M693 591l-8 2M748 644l-4 7M648 571l-2 7M717 600l6 3M153 652l-7 4M227 629l0 5M560 592l-4 5M638 556l-7 2M578 540l0 6M773 631l5 5M758 627l-7 2M846 666l4 4M903 641l7 2M614 566l-8 4M594 575l-5 0M200 648l2 6M555 567l0 9M212 670l-4 1M305 637l5 0M797 655l6 3M562 548l6 4M576 548l6 5M651 585l-5 3M280 639l1 7M704 598l6 5M148 660l0 8M283 633l3 7M582 544l-6 6M703 581l-8 3M699 574l-4 4M661 541l7 0M746 637l8 4M344 601l-4 4M764 629l-4 2M289 633l-8 0M615 582l-8 3M264 643l0 7M578 583l-2 6M518 582l-4 6M817 674l4 4M852 660l-2 4M949 683l8 1M524 592l-8 0M369 581l-4 7M530 598l6 2M761 629l-2 5M154 643l5 0M850 660l4 1M530 569l3 6M634 579l-4 1M803 660l4 4M479 570l-8 2M861 664l-6 6M896 693l-1 6M952 686l7 4M472 548l-7 2M190 669l-3 5M816 678l-4 5M408 598l7 5M780 635l-9 0M793 667l-1 5M270 623l8 1M508 575l6 2M232 652l8 0M621 581l-5 3M446 589l4 2M273 666l-5 3M882 661l3 5M233 610l6 3M668 549l1 8M344 612l-4 2M625 567l-3 6M558 539l-8 1M240 645l-5 1M700 595l2 6M737 620l6 5M510 595l2 4M497 601l4 7M411 586l-2 8M606 576l7 0M146 629l-5 6M518 556l5 0M358 594l4 7M423 577l5 3M764 618l-1 6M498 610l2 5M653 541l7 3M469 577l-4 7M820 648l-4 5M328 629l3 4M290 619l5 6M670 566l-1 8M440 609l4 2M809 641l-8 0M395 593l-6 7M212 611l-1 7M677 567l-4 6M496 555l1 6M225 608l7 4M783 668l0 5M398 577l4 6M550 562l3 6M178 618l1 4M772 620l8 0M932 700l-8 4M444 537l6 6M722 617l4 1M390 546l-8 4M415 595l-6 1M459 594l4 4M851 656l-3 6M202 650l-2 8M253 648l7 2M829 655l-7 3M572 595l5 5M690 594l6 7M215 642l0 6M699 612l-2 7M498 557l6 5M388 569l2 5M590 582l7 3M297 624l0 5M723 575l-5 7M807 679l3 5M847 644l-2 8M930 661l-8 3M337 639l9 0M623 542l1 4M686 595l8 1M404 584l-7 5M201 643l2 7M330 621l-2 7M540 597l0 6M223 643l2 6M261 576l-5 7M609 563l8 2M922 663l-1 5M930 669l-5 4M898 639l1 4M249 614l-3 4M550 572l0 7M352 571l-4 6M659 554l5 7M447 602l1 8M588 565l-1 8M918 680l5 6M514 555l-5 2M868 689l1 8M907 693l0 5M856 662l-5 1M758 649l2 8M549 581l-5 5M517 604l4 3M853 693l0 8M556 577l-5 1M364 555l5 2M850 657l-3 5M262 612l-2 6M911 690l-5 4M886 725l1 5M541 568l-3 8M312 597l-5 1M881 676l0 6M956 669l6 2M851 664l5 5M612 547l7 0M926 641l-4 4M677 605l2 5M856 642l-2 8M765 611l-3 6M228 621l8 1M173 644l-4 3M332 610l-4 4M810 659l7 2M637 564l-2 4M241 666l7 5M933 634l5 5M168 647l4 3M275 617l-1 6M840 653l-5 4M865 654l0 6M146 650l6 4M791 634l-2 5M308 595l-3 5M615 556l-4 2M565 586l4 5M435 608l4 7M510 576l-3 3M858 657l3 8M687 547l2 7M770 621l-1 5M181 655l3 8M822 650l5 1M491 605l5 4M773 626l8 0M793 646l6 6M792 655l6 0M854 670l-5 1M802 628l5 2M903 668l-1 8M554 585l-6 1M575 621l-6 1" stroke="#111" stroke-width="3.4" fill="none" stroke-linecap="round"/>
<g fill="none" stroke-linecap="round" stroke-linejoin="round"><path d="M769 640l-6 4l-1 5l-4 2l-2 4l-5 2l1 6l-6 2l0 4l-5 2l-1 5M763 644l-6 0M910 682l-3 4l2 5l-5 4l0 5l-4 4l0 5l-4 3l2 6l-5 3l2 6M852 685l-3 4l4 5l-4 4l2 6l-2 5l1 5l-4 5l4 5M850 724l-6 3M748 608l5 -2l-1 -7l6 -1l-1 -5l6 -2l1 -5M752 599l-3 -6M778 654l-6 1l-1 5l-5 2l0 6l-4 4l-1 4l-4 4M601 552l2 -6l-2 -5l2 -6l-1 -6l1 -5l-4 -3l0 -6M210 643l-4 1l-3 5l-6 1l-3 5l-6 -1l-4 5l-5 -3l-4 5M197 650l-6 -3M300 623l0 -5l-6 -1l-2 -5l-5 -4l-1 -7l-6 -2l-2 -6l-6 -2l-1 -5l-4 -3l2 -5l-4 -4l3 -5M272 591l-6 3M805 671l-6 -1l-3 4l-6 1l-4 3l-6 -1l-4 5l-4 -5l-5 3M253 625l2 6l4 3l-3 4l5 3l-2 4l4 3l-1 5l4 2l2 4l3 6l1 4M709 606l-6 0l0 7l-5 1l-2 5l-6 -1l1 5l-5 3l-2 5l-5 3l-3 4l-5 -1M508 577l-2 4l1 6l-5 3l0 6l-3 4l1 5l-3 5l0 5l-4 3l0 5l-5 3M336 627l-2 6l3 4l-3 5l3 3l-2 5l2 4M509 563l2 -4l-1 -6l5 -2l2 -5l5 -4l1 -5l6 3M925 658l6 -2l3 -4l5 0l3 -5l4 3l4 -4M188 629l-2 -5l-3 -3l-1 -5l-5 -3l2 -6l-5 -3l3 -5l-5 -4l-1 -6l-5 -3M265 616l0 6l2 4l-4 5l3 4l0 5l5 3l-1 6l5 3l2 4l4 0l0 6M146 645l-4 -5l-4 1l-4 -1l-5 -1l-3 -5l-6 1M142 640l1 -6M829 656l5 0l4 -3l5 3l4 -3l4 2l4 -2l5 2l7 0l5 -1M973 671l1 5l5 4l-1 6l2 6l-2 6l4 4M692 580l-6 3l-1 5l-4 3l-1 6l-5 1l-2 5l-6 2l-2 4l-4 -1l-4 5l-6 1l-1 6l-5 0M870 679l-1 -6l-5 -1l2 -5l-5 -1l-1 -7l-4 -1l-2 -5l-5 -1l-1 -5l-4 -2l-1 -6l-6 -3M866 667l4 -5M780 640l-6 1l-2 6l-6 1l-5 2l-4 -3l-4 3l-5 -2l-5 3l-4 -2l-4 4M392 574l4 -4l-3 -4l3 -6l-4 -3l2 -5l-4 -5l4 -3M403 589l-4 4l0 5l-5 3l1 6l-4 4l2 6l-5 3l4 5l-6 2l2 5M383 569l1 -6l-3 -4l0 -6l-3 -4l0 -6l-4 -3l2 -6l-5 -4l2 -5l-5 -2l1 -5M707 586l6 -2l-1 -6l5 -4l-2 -5l3 -4l-3 -4l1 -4l-3 -5l1 -6l-4 -4l3 -5M280 626l-5 4l3 5l-4 3l4 5l-4 4l3 5l-4 5l2 4l-1 5l4 4l-2 5l4 2l-1 7M919 663l4 -1l1 -6l6 -1l1 -6l7 -2l2 -5l4 -2l1 -5l6 0l1 -6l5 -1M163 640l1 6l5 2l0 5l6 3l-1 6l6 3l-2 5l4 3l-1 6l3 4l-3 5M169 653l-4 5M315 618l3 -5l-3 -5l3 -5l-2 -6l3 -4l-4 -4l4 -4l-2 -6l4 -4l-2 -6l5 -3l-3 -4M712 600l-5 3l0 5l-4 3l-2 6l-2 5l1 6l-5 4l3 6M282 629l1 6l5 -1l2 5l5 1l1 6l5 1l3 6l5 -1l3 5l5 -1l5 3l5 -2M246 626l0 7l1 4l-6 4l3 5l-4 4l0 6l-5 3l2 6l-2 4l3 4M179 642l-3 -4l-5 0l-2 -5l-4 -2l0 -6l-5 -1l-2 -5l-5 -3l-1 -5M160 624l-4 5M887 654l3 -5l-3 -4l2 -6l-2 -4l0 -6l-4 -4l2 -5l-3 -5M887 645l-6 -1M293 637l-3 6l2 5l-2 5l1 6l-3 4l1 5l-4 4M743 627l-6 -1l-3 6l-6 0l-2 5l-4 4l0 6l-4 2l-2 6l-4 5l0 6M174 635l2 6l4 3l-1 5l5 3l1 5l5 0l1 5l4 3l-2 6l2 5l-1 4l3 5M995 652l-2 -4l-6 0l-4 -5M441 591l-5 1l-2 5l-4 2l0 7l-6 1l-2 4l-5 4l0 6l-4 3l-1 5l-5 1l0 6M160 644l1 -6l-4 -4l0 -6l-4 -4l2 -5l-3 -6l0 -4M911 676l3 -5l-3 -5l6 -3l1 -5l5 -1l0 -5l5 -2l-1 -4l4 -2l-1 -6l5 -4M773 634l-5 2l-2 5l-5 0l-2 5l-5 0l-3 4l-4 -1l-3 4l-6 0l-3 3l-6 2l-1 4M943 671l0 7l5 4l-2 5l4 5l0 5l4 3l2 5l3 4l2 6l6 0M946 670l0 5l5 4l0 5l4 4l0 5l4 6l-2 5l6 4l-1 5M898 691l-2 5l-1 5l-5 3l-3 5l-4 1l1 5l-3 4l0 6l-4 5l-2 5l-5 2l0 7M896 696l-6 0M153 657l-3 5l1 6l-1 6l3 4l0 6l3 5M153 657l3 4l6 1l2 5l5 1l3 5l4 2l0 6M190 617l0 -6l-6 0l-3 -5l-4 -1l-3 -4l-5 -2l2 -6l-4 -2l2 -5l-4 -3M654 581l3 -4l1 -6l5 -2l-1 -6l6 -2l2 -5l6 -4l2 -4l5 -2l1 -6l5 -1l1 -6M363 591l1 -4l-4 -4l-1 -6l-6 0l-2 -5l-5 -2l1 -5l-6 -2l0 -5l-5 -4l-1 -4l-5 -3M495 585l3 -6l-6 -3l5 -3l-4 -4l3 -6l-3 -4l0 -5l-5 -5l5 -5l-5 -4l1 -5l-1 -6M591 554l4 -4l-2 -5l-1 -6l-4 -3l0 -4l-3 -6l-1 -6l-3 -3l-3 -4l-4 -3M332 626l-1 5l2 4l-1 5l3 3l-3 5l3 5l-2 5M865 673l-1 -4l-4 -2l1 -5l-4 -3l-1 -6l-5 -3l0 -5l-6 0l-3 -4l-4 0l-4 -4l-6 0l-3 -5l-5 -2l-3 -4l-5 0M305 600l1 -6l-4 -5l4 -5l-3 -5l3 -5l-2 -4l3 -5l-2 -6M191 625l0 5l3 5l1 6l4 5l0 5l5 3l0 6l4 3l1 6l5 2l4 6l5 1M433 577l3 -3l4 -5l5 -4l-1 -4l5 -3l0 -6l6 -3M251 638l-3 4l4 2l-3 6l4 4l-2 4l4 2l0 6l6 2l-2 5M212 631l1 -4l-3 -4l3 -3l-4 -4l1 -6l-4 -4l-2 -6l-5 -3l1 -6l-4 -3l0 -6l-5 -3" stroke="#2c0a6a" stroke-width="4.8"/><path d="M769 640l-6 4l-1 5l-4 2l-2 4l-5 2l1 6l-6 2l0 4l-5 2l-1 5M763 644l-6 0M910 682l-3 4l2 5l-5 4l0 5l-4 4l0 5l-4 3l2 6l-5 3l2 6M852 685l-3 4l4 5l-4 4l2 6l-2 5l1 5l-4 5l4 5M850 724l-6 3M748 608l5 -2l-1 -7l6 -1l-1 -5l6 -2l1 -5M752 599l-3 -6M778 654l-6 1l-1 5l-5 2l0 6l-4 4l-1 4l-4 4M601 552l2 -6l-2 -5l2 -6l-1 -6l1 -5l-4 -3l0 -6M210 643l-4 1l-3 5l-6 1l-3 5l-6 -1l-4 5l-5 -3l-4 5M197 650l-6 -3M300 623l0 -5l-6 -1l-2 -5l-5 -4l-1 -7l-6 -2l-2 -6l-6 -2l-1 -5l-4 -3l2 -5l-4 -4l3 -5M272 591l-6 3M805 671l-6 -1l-3 4l-6 1l-4 3l-6 -1l-4 5l-4 -5l-5 3M253 625l2 6l4 3l-3 4l5 3l-2 4l4 3l-1 5l4 2l2 4l3 6l1 4M709 606l-6 0l0 7l-5 1l-2 5l-6 -1l1 5l-5 3l-2 5l-5 3l-3 4l-5 -1M508 577l-2 4l1 6l-5 3l0 6l-3 4l1 5l-3 5l0 5l-4 3l0 5l-5 3M336 627l-2 6l3 4l-3 5l3 3l-2 5l2 4M509 563l2 -4l-1 -6l5 -2l2 -5l5 -4l1 -5l6 3M925 658l6 -2l3 -4l5 0l3 -5l4 3l4 -4M188 629l-2 -5l-3 -3l-1 -5l-5 -3l2 -6l-5 -3l3 -5l-5 -4l-1 -6l-5 -3M265 616l0 6l2 4l-4 5l3 4l0 5l5 3l-1 6l5 3l2 4l4 0l0 6M146 645l-4 -5l-4 1l-4 -1l-5 -1l-3 -5l-6 1M142 640l1 -6M829 656l5 0l4 -3l5 3l4 -3l4 2l4 -2l5 2l7 0l5 -1M973 671l1 5l5 4l-1 6l2 6l-2 6l4 4M692 580l-6 3l-1 5l-4 3l-1 6l-5 1l-2 5l-6 2l-2 4l-4 -1l-4 5l-6 1l-1 6l-5 0M870 679l-1 -6l-5 -1l2 -5l-5 -1l-1 -7l-4 -1l-2 -5l-5 -1l-1 -5l-4 -2l-1 -6l-6 -3M866 667l4 -5M780 640l-6 1l-2 6l-6 1l-5 2l-4 -3l-4 3l-5 -2l-5 3l-4 -2l-4 4M392 574l4 -4l-3 -4l3 -6l-4 -3l2 -5l-4 -5l4 -3M403 589l-4 4l0 5l-5 3l1 6l-4 4l2 6l-5 3l4 5l-6 2l2 5M383 569l1 -6l-3 -4l0 -6l-3 -4l0 -6l-4 -3l2 -6l-5 -4l2 -5l-5 -2l1 -5M707 586l6 -2l-1 -6l5 -4l-2 -5l3 -4l-3 -4l1 -4l-3 -5l1 -6l-4 -4l3 -5M280 626l-5 4l3 5l-4 3l4 5l-4 4l3 5l-4 5l2 4l-1 5l4 4l-2 5l4 2l-1 7M919 663l4 -1l1 -6l6 -1l1 -6l7 -2l2 -5l4 -2l1 -5l6 0l1 -6l5 -1M163 640l1 6l5 2l0 5l6 3l-1 6l6 3l-2 5l4 3l-1 6l3 4l-3 5M169 653l-4 5M315 618l3 -5l-3 -5l3 -5l-2 -6l3 -4l-4 -4l4 -4l-2 -6l4 -4l-2 -6l5 -3l-3 -4M712 600l-5 3l0 5l-4 3l-2 6l-2 5l1 6l-5 4l3 6M282 629l1 6l5 -1l2 5l5 1l1 6l5 1l3 6l5 -1l3 5l5 -1l5 3l5 -2M246 626l0 7l1 4l-6 4l3 5l-4 4l0 6l-5 3l2 6l-2 4l3 4M179 642l-3 -4l-5 0l-2 -5l-4 -2l0 -6l-5 -1l-2 -5l-5 -3l-1 -5M160 624l-4 5M887 654l3 -5l-3 -4l2 -6l-2 -4l0 -6l-4 -4l2 -5l-3 -5M887 645l-6 -1M293 637l-3 6l2 5l-2 5l1 6l-3 4l1 5l-4 4M743 627l-6 -1l-3 6l-6 0l-2 5l-4 4l0 6l-4 2l-2 6l-4 5l0 6M174 635l2 6l4 3l-1 5l5 3l1 5l5 0l1 5l4 3l-2 6l2 5l-1 4l3 5M995 652l-2 -4l-6 0l-4 -5M441 591l-5 1l-2 5l-4 2l0 7l-6 1l-2 4l-5 4l0 6l-4 3l-1 5l-5 1l0 6M160 644l1 -6l-4 -4l0 -6l-4 -4l2 -5l-3 -6l0 -4M911 676l3 -5l-3 -5l6 -3l1 -5l5 -1l0 -5l5 -2l-1 -4l4 -2l-1 -6l5 -4M773 634l-5 2l-2 5l-5 0l-2 5l-5 0l-3 4l-4 -1l-3 4l-6 0l-3 3l-6 2l-1 4M943 671l0 7l5 4l-2 5l4 5l0 5l4 3l2 5l3 4l2 6l6 0M946 670l0 5l5 4l0 5l4 4l0 5l4 6l-2 5l6 4l-1 5M898 691l-2 5l-1 5l-5 3l-3 5l-4 1l1 5l-3 4l0 6l-4 5l-2 5l-5 2l0 7M896 696l-6 0M153 657l-3 5l1 6l-1 6l3 4l0 6l3 5M153 657l3 4l6 1l2 5l5 1l3 5l4 2l0 6M190 617l0 -6l-6 0l-3 -5l-4 -1l-3 -4l-5 -2l2 -6l-4 -2l2 -5l-4 -3M654 581l3 -4l1 -6l5 -2l-1 -6l6 -2l2 -5l6 -4l2 -4l5 -2l1 -6l5 -1l1 -6M363 591l1 -4l-4 -4l-1 -6l-6 0l-2 -5l-5 -2l1 -5l-6 -2l0 -5l-5 -4l-1 -4l-5 -3M495 585l3 -6l-6 -3l5 -3l-4 -4l3 -6l-3 -4l0 -5l-5 -5l5 -5l-5 -4l1 -5l-1 -6M591 554l4 -4l-2 -5l-1 -6l-4 -3l0 -4l-3 -6l-1 -6l-3 -3l-3 -4l-4 -3M332 626l-1 5l2 4l-1 5l3 3l-3 5l3 5l-2 5M865 673l-1 -4l-4 -2l1 -5l-4 -3l-1 -6l-5 -3l0 -5l-6 0l-3 -4l-4 0l-4 -4l-6 0l-3 -5l-5 -2l-3 -4l-5 0M305 600l1 -6l-4 -5l4 -5l-3 -5l3 -5l-2 -4l3 -5l-2 -6M191 625l0 5l3 5l1 6l4 5l0 5l5 3l0 6l4 3l1 6l5 2l4 6l5 1M433 577l3 -3l4 -5l5 -4l-1 -4l5 -3l0 -6l6 -3M251 638l-3 4l4 2l-3 6l4 4l-2 4l4 2l0 6l6 2l-2 5M212 631l1 -4l-3 -4l3 -3l-4 -4l1 -6l-4 -4l-2 -6l-5 -3l1 -6l-4 -3l0 -6l-5 -3" stroke="#6a1ed2" stroke-width="3"/></g>
<g fill="none" stroke-linecap="round" stroke-linejoin="round"><path d="M622 565l-5 2l-1 6l-5 3l1 5l-2 5l1 4l-4 5l1 5l-1 5l3 5l-4 5l0 5l-3 4l-2 5M603 624l-6 -1M778 638l5 -1l4 -3l5 3l3 -5l5 2l3 -5M863 655l1 -5l-5 -4l3 -5l-4 -3l1 -6l-4 -4l0 -5l-4 -3l0 -6M633 589l-4 4l0 5l-4 3l-1 5l-4 4M620 610l-6 -1M802 660l-6 2l-1 6l-7 0l0 6l-6 1l-1 6l-6 2l-1 5M509 568l3 -5l-4 -4l1 -5l-4 -4l2 -6l-3 -4l-1 -6l-4 -3M811 671l-5 1l-2 5l-7 0l-1 5l-4 2l-5 4M806 672l2 6M373 596l-3 -4l-6 0l-1 -6l-4 -2l-2 -5l-5 0l-2 -5l-5 1l-2 -5l-6 2l-3 -5l-5 3M259 631l-2 4l3 5l-3 4l2 5l-4 4l1 4l-4 3l2 5l-2 6l2 5M447 581l0 6l3 4l-3 4l3 4l-3 5l3 5l-4 2l3 5l-2 4l6 4l0 5l4 5l-2 5l4 6M449 616l-6 2M950 664l-4 4l3 4l1 5l3 5l-1 6l4 5l-2 5l4 4l-2 6l5 2M424 602l-2 4l4 4l-4 5l5 5l1 5l3 4M472 597l-2 6l4 5l-5 3l2 7l-4 4l0 6M980 661l2 -4l-4 -4l-3 -6l-5 -2l1 -4l-4 -3l-1 -6M971 641l-6 0M493 588l-4 3l0 6l-4 4l-1 5l-3 4l-2 7l-5 0l-2 6l-5 1l-2 6l-6 -1M440 600l-4 5l-1 6l-5 4l0 5l-4 5l0 5l-6 2l2 6l-5 2M426 630l5 4M702 587l-1 6l4 3l-2 5l-1 5l-2 6l2 7l-4 4l0 5l-3 4l3 6l-6 2l-1 6l-6 3M702 606l-6 2M346 607l-3 -5l-5 -3l-5 -3l-6 0l0 -7l-6 0l-3 -5l-5 -3l-1 -5M287 615l4 -3l-2 -5l5 -4l-4 -3l1 -5l-3 -4l3 -4l-2 -4l3 -4l-3 -5l3 -5l-1 -5M289 574l6 -2M745 634l-6 2l-3 4l-4 3l-1 5l-5 2M312 610l-4 4l3 4l-1 5l4 4l0 5l6 2l0 5l4 2l2 6l4 3l-1 5l5 3M754 623l-4 1l-1 5l-5 3l-2 4l-3 4l0 6l-4 3l-1 5l-4 1M742 636l-6 -2M843 678l3 -3l-3 -4l-2 -6l-5 -2l0 -5l-3 -5l2 -4l-1 -5l2 -5l-3 -4l3 -6l-1 -5l3 -5l-2 -6M836 663l5 -3M553 562l1 -6l-5 -2l0 -6l-5 -2l-1 -6l-4 -1l-2 -5l-4 -4l2 -6l-4 -4l2 -4M493 586l-1 5l2 6l-2 5l3 3l-2 4l4 3l0 6l4 2l-1 4l5 4l-1 4M504 632l-5 4M867 681l1 -4l-2 -4l1 -5l-3 -5l1 -4l-2 -4l1 -6l-2 -4l3 -3l-1 -6l5 -3l2 -6l5 -2l-4 -3l3 -5l-4 -5M907 688l-1 5l3 5l0 6l3 6l-3 5l4 2l-1 5l2 5l-1 6l3 5l1 6M913 733l6 0M415 588l4 -5l-3 -4l3 -5l-5 -1l1 -6l-3 -3l0 -5l-2 -4l2 -5l-3 -4l2 -4l0 -6M412 559l-6 -2M445 573l6 -2l-3 -4l6 -2l1 -5l3 -3l1 -5l5 -3M827 669l-1 -5l-2 -5l3 -4l-1 -6l3 -5l2 -5l4 -2l0 -5l4 -2l2 -6M829 644l5 -4M330 610l0 5l4 3l2 5l5 1l4 6l4 2l2 5l6 0l5 5l6 -2l1 6M362 642l6 -2M942 682l-2 6l3 4l-3 5l2 6l-3 4l1 5l-2 4l0 6M496 581l-2 4l2 5l-4 4l3 6l-3 5l4 4l1 6l3 3M492 605l-6 2M285 613l-3 4l0 5l-4 4l1 5l-1 5l4 3l-3 5l1 6l-3 5l0 5l-4 5l3 4l-6 3l0 5l-4 4M174 655l1 5l5 0l2 5l5 0l2 4l6 1l3 5l4 0M191 646l-1 6l3 5l-4 3l3 5l-2 5l2 4l-1 6M594 576l-4 3l2 5l-1 5l2 5l-1 5l5 4l0 5l1 6l0 5l4 2l-2 6M430 590l1 -6l-4 -3l4 -6l-3 -5l3 -4l-4 -5l5 -3l-1 -5l2 -5l0 -6M898 693l-3 6l1 4l-3 6l5 2l-2 6l2 5l-4 5l4 3l-4 5l4 4l-2 6M896 717l6 3M425 568l2 -4l-2 -5l5 -3l-4 -5l0 -5l-4 -2l1 -6l-3 -5l3 -5M423 528l6 0M653 590l-3 5l2 4l-3 5l3 5l-6 4l0 5l-4 3l0 5l-4 1l0 6M638 633l-6 0M632 574l-5 2l0 6l-5 2l1 5l-4 5l0 7l-5 -1l-2 6M619 601l4 5M272 611l-1 -5l-1 -5l3 -5l-4 -3l0 -6l-4 -3l0 -6l-6 -3M242 612l1 -5l-4 -4l1 -6l-4 -6l1 -4l-2 -5l2 -6l-3 -5l4 -3M238 568l5 -4M467 589l3 -6l-5 -4l1 -5l-5 -4l2 -5l-3 -6l1 -5l-5 -2l1 -5l-2 -4l2 -4l-4 -5l3 -6M460 559l6 -3M504 579l1 -5l-2 -5l2 -4l-3 -6l2 -4l0 -5l3 -3l-2 -5l3 -4l-2 -5l2 -5l-3 -4l0 -6M505 574l5 -3M164 630l0 -4l-4 -4l1 -5l-2 -4l0 -7M160 622l4 -5M822 658l6 -1l1 -5l6 -1l0 -5l6 0l2 -5M829 652l-3 -5M872 694l-4 4l0 5l-6 1l-2 4l-5 3l-4 4l-6 -2l-3 5l-5 -1l-2 5l-6 1M524 577l-1 -6l-5 -4l-1 -6l-4 0l0 -6l-6 -2l1 -5l-6 -1l-2 -4M508 548l5 -4M166 656l-1 6l2 3l-2 6l0 4l-3 6l3 4l-5 3l-1 5l-3 3M159 693l6 1M582 576l4 -5l-2 -6l3 -5l-2 -4l4 -4l-2 -5l3 -4l-3 -5l3 -4l-2 -5l1 -6l-3 -5M210 621l2 -4l-3 -4l2 -5l-1 -6l4 -5l-5 -4l0 -6l-1 -5l0 -6l-4 -5l3 -5M210 602l-6 -1M890 668l-4 3l-1 5l-6 2l-2 4l-5 3l-2 5l-5 0l-2 5l-5 2l-2 6l-4 1l3 5l-5 4l3 4l-5 4M877 682l4 5M581 576l1 5l6 2l-1 5l6 3l-2 6l4 4l-5 3l2 6M591 597l-5 4M557 574l-4 4l1 5l-4 5l0 4l-3 4l4 4l-3 4l2 5l-3 4l1 6l-1 4M551 600l5 4M880 670l2 -5l-3 -4l1 -6l-2 -4l2 -5l-4 -4l0 -5l-5 -1l0 -5l-6 -1l-1 -4M416 589l-2 6l2 5l-2 5l3 5l0 5l5 4l-6 3l2 5l-3 5l2 4M414 605l6 2" stroke="#6e3c0a" stroke-width="4.8"/><path d="M622 565l-5 2l-1 6l-5 3l1 5l-2 5l1 4l-4 5l1 5l-1 5l3 5l-4 5l0 5l-3 4l-2 5M603 624l-6 -1M778 638l5 -1l4 -3l5 3l3 -5l5 2l3 -5M863 655l1 -5l-5 -4l3 -5l-4 -3l1 -6l-4 -4l0 -5l-4 -3l0 -6M633 589l-4 4l0 5l-4 3l-1 5l-4 4M620 610l-6 -1M802 660l-6 2l-1 6l-7 0l0 6l-6 1l-1 6l-6 2l-1 5M509 568l3 -5l-4 -4l1 -5l-4 -4l2 -6l-3 -4l-1 -6l-4 -3M811 671l-5 1l-2 5l-7 0l-1 5l-4 2l-5 4M806 672l2 6M373 596l-3 -4l-6 0l-1 -6l-4 -2l-2 -5l-5 0l-2 -5l-5 1l-2 -5l-6 2l-3 -5l-5 3M259 631l-2 4l3 5l-3 4l2 5l-4 4l1 4l-4 3l2 5l-2 6l2 5M447 581l0 6l3 4l-3 4l3 4l-3 5l3 5l-4 2l3 5l-2 4l6 4l0 5l4 5l-2 5l4 6M449 616l-6 2M950 664l-4 4l3 4l1 5l3 5l-1 6l4 5l-2 5l4 4l-2 6l5 2M424 602l-2 4l4 4l-4 5l5 5l1 5l3 4M472 597l-2 6l4 5l-5 3l2 7l-4 4l0 6M980 661l2 -4l-4 -4l-3 -6l-5 -2l1 -4l-4 -3l-1 -6M971 641l-6 0M493 588l-4 3l0 6l-4 4l-1 5l-3 4l-2 7l-5 0l-2 6l-5 1l-2 6l-6 -1M440 600l-4 5l-1 6l-5 4l0 5l-4 5l0 5l-6 2l2 6l-5 2M426 630l5 4M702 587l-1 6l4 3l-2 5l-1 5l-2 6l2 7l-4 4l0 5l-3 4l3 6l-6 2l-1 6l-6 3M702 606l-6 2M346 607l-3 -5l-5 -3l-5 -3l-6 0l0 -7l-6 0l-3 -5l-5 -3l-1 -5M287 615l4 -3l-2 -5l5 -4l-4 -3l1 -5l-3 -4l3 -4l-2 -4l3 -4l-3 -5l3 -5l-1 -5M289 574l6 -2M745 634l-6 2l-3 4l-4 3l-1 5l-5 2M312 610l-4 4l3 4l-1 5l4 4l0 5l6 2l0 5l4 2l2 6l4 3l-1 5l5 3M754 623l-4 1l-1 5l-5 3l-2 4l-3 4l0 6l-4 3l-1 5l-4 1M742 636l-6 -2M843 678l3 -3l-3 -4l-2 -6l-5 -2l0 -5l-3 -5l2 -4l-1 -5l2 -5l-3 -4l3 -6l-1 -5l3 -5l-2 -6M836 663l5 -3M553 562l1 -6l-5 -2l0 -6l-5 -2l-1 -6l-4 -1l-2 -5l-4 -4l2 -6l-4 -4l2 -4M493 586l-1 5l2 6l-2 5l3 3l-2 4l4 3l0 6l4 2l-1 4l5 4l-1 4M504 632l-5 4M867 681l1 -4l-2 -4l1 -5l-3 -5l1 -4l-2 -4l1 -6l-2 -4l3 -3l-1 -6l5 -3l2 -6l5 -2l-4 -3l3 -5l-4 -5M907 688l-1 5l3 5l0 6l3 6l-3 5l4 2l-1 5l2 5l-1 6l3 5l1 6M913 733l6 0M415 588l4 -5l-3 -4l3 -5l-5 -1l1 -6l-3 -3l0 -5l-2 -4l2 -5l-3 -4l2 -4l0 -6M412 559l-6 -2M445 573l6 -2l-3 -4l6 -2l1 -5l3 -3l1 -5l5 -3M827 669l-1 -5l-2 -5l3 -4l-1 -6l3 -5l2 -5l4 -2l0 -5l4 -2l2 -6M829 644l5 -4M330 610l0 5l4 3l2 5l5 1l4 6l4 2l2 5l6 0l5 5l6 -2l1 6M362 642l6 -2M942 682l-2 6l3 4l-3 5l2 6l-3 4l1 5l-2 4l0 6M496 581l-2 4l2 5l-4 4l3 6l-3 5l4 4l1 6l3 3M492 605l-6 2M285 613l-3 4l0 5l-4 4l1 5l-1 5l4 3l-3 5l1 6l-3 5l0 5l-4 5l3 4l-6 3l0 5l-4 4M174 655l1 5l5 0l2 5l5 0l2 4l6 1l3 5l4 0M191 646l-1 6l3 5l-4 3l3 5l-2 5l2 4l-1 6M594 576l-4 3l2 5l-1 5l2 5l-1 5l5 4l0 5l1 6l0 5l4 2l-2 6M430 590l1 -6l-4 -3l4 -6l-3 -5l3 -4l-4 -5l5 -3l-1 -5l2 -5l0 -6M898 693l-3 6l1 4l-3 6l5 2l-2 6l2 5l-4 5l4 3l-4 5l4 4l-2 6M896 717l6 3M425 568l2 -4l-2 -5l5 -3l-4 -5l0 -5l-4 -2l1 -6l-3 -5l3 -5M423 528l6 0M653 590l-3 5l2 4l-3 5l3 5l-6 4l0 5l-4 3l0 5l-4 1l0 6M638 633l-6 0M632 574l-5 2l0 6l-5 2l1 5l-4 5l0 7l-5 -1l-2 6M619 601l4 5M272 611l-1 -5l-1 -5l3 -5l-4 -3l0 -6l-4 -3l0 -6l-6 -3M242 612l1 -5l-4 -4l1 -6l-4 -6l1 -4l-2 -5l2 -6l-3 -5l4 -3M238 568l5 -4M467 589l3 -6l-5 -4l1 -5l-5 -4l2 -5l-3 -6l1 -5l-5 -2l1 -5l-2 -4l2 -4l-4 -5l3 -6M460 559l6 -3M504 579l1 -5l-2 -5l2 -4l-3 -6l2 -4l0 -5l3 -3l-2 -5l3 -4l-2 -5l2 -5l-3 -4l0 -6M505 574l5 -3M164 630l0 -4l-4 -4l1 -5l-2 -4l0 -7M160 622l4 -5M822 658l6 -1l1 -5l6 -1l0 -5l6 0l2 -5M829 652l-3 -5M872 694l-4 4l0 5l-6 1l-2 4l-5 3l-4 4l-6 -2l-3 5l-5 -1l-2 5l-6 1M524 577l-1 -6l-5 -4l-1 -6l-4 0l0 -6l-6 -2l1 -5l-6 -1l-2 -4M508 548l5 -4M166 656l-1 6l2 3l-2 6l0 4l-3 6l3 4l-5 3l-1 5l-3 3M159 693l6 1M582 576l4 -5l-2 -6l3 -5l-2 -4l4 -4l-2 -5l3 -4l-3 -5l3 -4l-2 -5l1 -6l-3 -5M210 621l2 -4l-3 -4l2 -5l-1 -6l4 -5l-5 -4l0 -6l-1 -5l0 -6l-4 -5l3 -5M210 602l-6 -1M890 668l-4 3l-1 5l-6 2l-2 4l-5 3l-2 5l-5 0l-2 5l-5 2l-2 6l-4 1l3 5l-5 4l3 4l-5 4M877 682l4 5M581 576l1 5l6 2l-1 5l6 3l-2 6l4 4l-5 3l2 6M591 597l-5 4M557 574l-4 4l1 5l-4 5l0 4l-3 4l4 4l-3 4l2 5l-3 4l1 6l-1 4M551 600l5 4M880 670l2 -5l-3 -4l1 -6l-2 -4l2 -5l-4 -4l0 -5l-5 -1l0 -5l-6 -1l-1 -4M416 589l-2 6l2 5l-2 5l3 5l0 5l5 4l-6 3l2 5l-3 5l2 4M414 605l6 2" stroke="#ee9432" stroke-width="3"/></g>
<g fill="none" stroke-linecap="round" stroke-linejoin="round"><path d="M816 664l5 -1l3 -5l7 0l1 -4l6 0l3 -6l5 1l5 -4M563 573l-4 3l2 4l-3 4l2 6l-4 4l0 5l-5 3l2 6l-4 5l1 5l-5 3M989 655l0 4l6 0l0 5l5 1l1 6M995 659l-3 5M475 570l0 -6l-4 -4l3 -4l-4 -2l2 -6l-2 -5l2 -5l-1 -5l3 -5l-2 -4M198 626l-5 2l0 4l-6 3l-1 4l-5 3l0 4l-6 2l-1 7l-3 4l-2 6l-6 1l-1 5l-4 3M193 632l-6 -1M208 618l3 -5l-6 -1l2 -6l-3 -3l2 -5l-2 -6l5 -4M211 613l-6 -1M938 668l-5 4l4 4l-2 4l0 5l0 5l4 4l-2 5l1 4l-2 4l2 5l0 5l4 4l-2 6M544 565l4 4l4 1l1 5l4 2l2 5l4 3l5 3l5 -4l3 6l5 0l1 6l6 1M307 620l0 -6l-4 -3l-1 -5l-5 -4l-1 -6l-5 0l1 -5l-4 -2l1 -5l-3 -4M288 589l-6 0M982 662l3 -6l-4 -2l0 -6l-4 -4l0 -5M977 644l6 -3M760 619l5 -5l2 -6l5 -2l-1 -6l5 -2l0 -5M462 588l-3 5l3 3l0 6l3 3l-2 5l5 4l1 6l5 3l0 6l4 1l1 4M463 610l6 0M914 673l-4 4l1 5l-3 4l1 4l-3 4l3 6l-5 3l-2 4l-4 3l1 6l-5 2l3 5M909 700l5 4M475 564l5 -2l-3 -5l2 -4l-5 -3l2 -6l-5 -2l2 -6M534 565l3 -4l-2 -4l3 -3l0 -6l5 -2l1 -5l4 -5l-1 -5l4 -2l0 -5l3 -4M538 554l6 -1M641 586l-3 4l2 6l-2 6l3 5l-5 2l2 4M640 596l-6 2M436 581l1 -5l-3 -5l4 -5l-5 -3l2 -6l-4 -4l0 -5l-3 -4l1 -6l-5 -3M975 664l0 4l5 1l-1 6l4 5l1 6l6 3l1 4M808 652l6 -3l1 -4l5 -4l-1 -6l4 -3l-2 -5l3 -4l-3 -5l2 -6M824 623l-5 -3M244 619l1 -6l-5 -3l-1 -6l-6 -1l2 -6l-5 -2l0 -5l-4 -4M235 597l5 -4M888 670l-4 3l2 5l-3 4l2 5l-2 5l0 6l-5 2l-1 6l-2 5l-1 5l-3 4l1 6l-4 4l0 5l-1 4l3 5M883 682l6 2M357 602l2 -5l-4 -5l3 -4l-2 -5l5 -1l2 -5l5 -5l1 -5l4 -3l2 -5l5 -3l0 -5l5 -2M358 588l5 -4M794 656l6 -1l2 -5l6 -3l-1 -6l2 -6l-3 -5l4 -5M806 630l-3 -6M648 585l-4 6l3 5l0 5l1 6l0 5l3 5l-2 6l2 5l-2 7l4 3M437 587l3 -3l-2 -5l3 -3l-3 -5l1 -6l-3 -4l0 -5l-3 -5l2 -5l-1 -5l2 -5M433 551l6 -3M510 562l2 -6l-3 -5l5 -3l-2 -6l5 -1l0 -5l6 -3M266 627l-2 6l4 1l0 6l4 4l0 5l4 4l-4 4l5 4l-1 6l6 0l2 6l4 2M284 673l6 1M697 596l-4 4l1 6l-5 2l-1 4l-5 1l0 6l-4 5l0 6l-5 3l-1 5l-5 1l0 6M419 601l2 5l4 2l2 5l5 0l2 6l4 1l-1 5l5 3l2 5l6 1l2 6M285 625l3 -4l-1 -6l6 0l1 -6l4 -2l0 -5l4 -2l1 -5l5 -1l1 -6l4 -3M430 600l-3 4l4 4l-1 5l4 3l-1 5l3 4l1 6l3 4l-1 5l4 2l2 6M445 648l6 0M504 577l1 -5l-4 -5l2 -4l1 -6l2 -5l-2 -6l2 -5l-3 -4l3 -4l-3 -5l2 -5l-4 -4M501 567l-6 -1M878 693l0 6l5 3l0 6l2 5l-1 7M274 615l1 5l5 5l0 5l3 4l-2 6l3 4l-3 5l3 3l-1 6l4 5l-3 5l4 2l-3 5M272 608l5 -4l-1 -4l3 -4l-2 -4l4 -4l-2 -5l1 -5l0 -5l3 -5l-1 -5l4 -3M286 560l6 0M631 574l4 -3l1 -6l4 -4l0 -5l3 -4l2 -5l4 -5l0 -6l4 -4l0 -5l4 -5l0 -4M643 552l-5 -4M979 663l-1 -6l-4 -3l-1 -5l-5 -1l-2 -5l-5 -1l-1 -6l-6 -2M978 657l3 -5M663 569l-4 3l1 6l-4 4l0 5l-3 5l5 5l-2 4l5 4l2 5l2 5l-2 6l4 4l0 6M667 631l5 3M469 572l2 -6l-4 -4l2 -5l-1 -5l-2 -6l-5 -1l0 -6l-5 -1l-3 -4l-5 -1l-4 -5M949 673l-1 -4l-6 -3l0 -5l-3 -4l1 -5l-5 -4l2 -5l-5 -2l3 -6M935 648l4 -5M863 661l4 -2l0 -7l2 -4l1 -6l5 -3l-1 -5l2 -4l2 -5l3 -4M427 589l-5 3l2 5l-3 3l1 5l-1 5l2 4l-4 4l4 4M422 592l-6 -1M182 639l2 -5l-3 -6l1 -5l-3 -5l1 -4l-1 -5l3 -4l-4 -4l3 -5l-3 -5M179 609l-6 0M791 660l-3 4l3 6l-4 5l1 5l-5 3l3 5M421 585l5 -2l0 -5l3 -5l0 -6l5 -3l0 -5l4 -3l2 -5l6 -2M446 549l-4 -5M390 588l1 -5l-2 -5l5 -2l0 -6l4 -4l-1 -6l4 -4l-2 -6l4 -4l-4 -3l3 -5M394 576l6 -1M465 581l0 6l3 3l1 5l6 3l-2 5l5 3l0 6l6 1l1 5l5 1M347 603l-5 -4l-5 1l-5 -3l-5 0l-4 -3l-5 4l-5 -3l-5 1l-5 -4l-6 1l-2 -6l-4 -2l-2 -6l-4 -2M228 631l2 -4l0 -5l5 -3l-1 -6l3 -6l0 -6l4 -3l1 -5l5 -3M235 619l6 -1M532 569l3 -4l-3 -3l0 -5l-3 -5l1 -5l-1 -4l3 -4l-1 -5l2 -4M969 663l4 -5l-1 -4l3 -6l-2 -4l5 -4l-3 -3l3 -5l-4 -4M979 660l1 -5l-4 -5l3 -4l-4 -3l3 -4l0 -4l4 -5l-1 -6M975 643l-6 -1M487 585l2 -6l-3 -4l2 -6l-5 -4l-1 -4l-5 -1l0 -5l-5 -4l-1 -6l-3 -5l4 -3l-1 -6l2 -4l0 -5l3 -3M473 527l5 -4M873 670l-4 4l1 6l-5 3l2 6l-4 3l1 6l-4 4l1 5l-5 2l2 5l-6 2l0 5l-3 4l1 6l-4 4M870 680l-6 1M969 658l-1 -6l-5 -1l-2 -6l-4 -1l-2 -5l-6 1M968 652l4 -5M941 669l5 -2l0 -6l5 -2l0 -6l5 -1l0 -5l4 -4l-1 -5M311 615l0 5l6 2l0 5l4 3l-1 4l4 4l0 6l4 3l-2 6l5 4M956 683l3 5l5 0l3 4l5 2l4 2M959 688l5 -4M635 568l-4 5l2 5l-3 3l4 4l-2 4l1 5l-2 5l2 4l-5 5l3 6l-3 4M604 572l-3 4l6 3l-4 3l4 5l-2 6l3 3l-4 4l3 5M729 624l-5 2l-6 3l-4 -2l-4 4l-6 -1l-3 3l-5 1M714 627l2 6M391 579l3 -5l-4 -3l1 -6l-3 -4l4 -6l-1 -4l4 -3l0 -5l2 -5l-3 -5M490 577l-2 5l4 3l0 5l3 3l-1 6l5 2l2 4l5 2l1 6l5 2l3 4l4 3l-2 6l4 1M232 636l3 4l6 0l2 5l6 0l4 4l6 -1l2 5M758 629l-6 -2l-4 3l-6 0l-3 5l-5 -1l-4 4l-4 -3l-4 4l-5 -2l-4 4l-4 -2l-5 3M556 589l-1 6l6 1l-1 4l3 5l-1 6l6 1l2 5l5 3" stroke="#6e3c0a" stroke-width="4.8"/><path d="M816 664l5 -1l3 -5l7 0l1 -4l6 0l3 -6l5 1l5 -4M563 573l-4 3l2 4l-3 4l2 6l-4 4l0 5l-5 3l2 6l-4 5l1 5l-5 3M989 655l0 4l6 0l0 5l5 1l1 6M995 659l-3 5M475 570l0 -6l-4 -4l3 -4l-4 -2l2 -6l-2 -5l2 -5l-1 -5l3 -5l-2 -4M198 626l-5 2l0 4l-6 3l-1 4l-5 3l0 4l-6 2l-1 7l-3 4l-2 6l-6 1l-1 5l-4 3M193 632l-6 -1M208 618l3 -5l-6 -1l2 -6l-3 -3l2 -5l-2 -6l5 -4M211 613l-6 -1M938 668l-5 4l4 4l-2 4l0 5l0 5l4 4l-2 5l1 4l-2 4l2 5l0 5l4 4l-2 6M544 565l4 4l4 1l1 5l4 2l2 5l4 3l5 3l5 -4l3 6l5 0l1 6l6 1M307 620l0 -6l-4 -3l-1 -5l-5 -4l-1 -6l-5 0l1 -5l-4 -2l1 -5l-3 -4M288 589l-6 0M982 662l3 -6l-4 -2l0 -6l-4 -4l0 -5M977 644l6 -3M760 619l5 -5l2 -6l5 -2l-1 -6l5 -2l0 -5M462 588l-3 5l3 3l0 6l3 3l-2 5l5 4l1 6l5 3l0 6l4 1l1 4M463 610l6 0M914 673l-4 4l1 5l-3 4l1 4l-3 4l3 6l-5 3l-2 4l-4 3l1 6l-5 2l3 5M909 700l5 4M475 564l5 -2l-3 -5l2 -4l-5 -3l2 -6l-5 -2l2 -6M534 565l3 -4l-2 -4l3 -3l0 -6l5 -2l1 -5l4 -5l-1 -5l4 -2l0 -5l3 -4M538 554l6 -1M641 586l-3 4l2 6l-2 6l3 5l-5 2l2 4M640 596l-6 2M436 581l1 -5l-3 -5l4 -5l-5 -3l2 -6l-4 -4l0 -5l-3 -4l1 -6l-5 -3M975 664l0 4l5 1l-1 6l4 5l1 6l6 3l1 4M808 652l6 -3l1 -4l5 -4l-1 -6l4 -3l-2 -5l3 -4l-3 -5l2 -6M824 623l-5 -3M244 619l1 -6l-5 -3l-1 -6l-6 -1l2 -6l-5 -2l0 -5l-4 -4M235 597l5 -4M888 670l-4 3l2 5l-3 4l2 5l-2 5l0 6l-5 2l-1 6l-2 5l-1 5l-3 4l1 6l-4 4l0 5l-1 4l3 5M883 682l6 2M357 602l2 -5l-4 -5l3 -4l-2 -5l5 -1l2 -5l5 -5l1 -5l4 -3l2 -5l5 -3l0 -5l5 -2M358 588l5 -4M794 656l6 -1l2 -5l6 -3l-1 -6l2 -6l-3 -5l4 -5M806 630l-3 -6M648 585l-4 6l3 5l0 5l1 6l0 5l3 5l-2 6l2 5l-2 7l4 3M437 587l3 -3l-2 -5l3 -3l-3 -5l1 -6l-3 -4l0 -5l-3 -5l2 -5l-1 -5l2 -5M433 551l6 -3M510 562l2 -6l-3 -5l5 -3l-2 -6l5 -1l0 -5l6 -3M266 627l-2 6l4 1l0 6l4 4l0 5l4 4l-4 4l5 4l-1 6l6 0l2 6l4 2M284 673l6 1M697 596l-4 4l1 6l-5 2l-1 4l-5 1l0 6l-4 5l0 6l-5 3l-1 5l-5 1l0 6M419 601l2 5l4 2l2 5l5 0l2 6l4 1l-1 5l5 3l2 5l6 1l2 6M285 625l3 -4l-1 -6l6 0l1 -6l4 -2l0 -5l4 -2l1 -5l5 -1l1 -6l4 -3M430 600l-3 4l4 4l-1 5l4 3l-1 5l3 4l1 6l3 4l-1 5l4 2l2 6M445 648l6 0M504 577l1 -5l-4 -5l2 -4l1 -6l2 -5l-2 -6l2 -5l-3 -4l3 -4l-3 -5l2 -5l-4 -4M501 567l-6 -1M878 693l0 6l5 3l0 6l2 5l-1 7M274 615l1 5l5 5l0 5l3 4l-2 6l3 4l-3 5l3 3l-1 6l4 5l-3 5l4 2l-3 5M272 608l5 -4l-1 -4l3 -4l-2 -4l4 -4l-2 -5l1 -5l0 -5l3 -5l-1 -5l4 -3M286 560l6 0M631 574l4 -3l1 -6l4 -4l0 -5l3 -4l2 -5l4 -5l0 -6l4 -4l0 -5l4 -5l0 -4M643 552l-5 -4M979 663l-1 -6l-4 -3l-1 -5l-5 -1l-2 -5l-5 -1l-1 -6l-6 -2M978 657l3 -5M663 569l-4 3l1 6l-4 4l0 5l-3 5l5 5l-2 4l5 4l2 5l2 5l-2 6l4 4l0 6M667 631l5 3M469 572l2 -6l-4 -4l2 -5l-1 -5l-2 -6l-5 -1l0 -6l-5 -1l-3 -4l-5 -1l-4 -5M949 673l-1 -4l-6 -3l0 -5l-3 -4l1 -5l-5 -4l2 -5l-5 -2l3 -6M935 648l4 -5M863 661l4 -2l0 -7l2 -4l1 -6l5 -3l-1 -5l2 -4l2 -5l3 -4M427 589l-5 3l2 5l-3 3l1 5l-1 5l2 4l-4 4l4 4M422 592l-6 -1M182 639l2 -5l-3 -6l1 -5l-3 -5l1 -4l-1 -5l3 -4l-4 -4l3 -5l-3 -5M179 609l-6 0M791 660l-3 4l3 6l-4 5l1 5l-5 3l3 5M421 585l5 -2l0 -5l3 -5l0 -6l5 -3l0 -5l4 -3l2 -5l6 -2M446 549l-4 -5M390 588l1 -5l-2 -5l5 -2l0 -6l4 -4l-1 -6l4 -4l-2 -6l4 -4l-4 -3l3 -5M394 576l6 -1M465 581l0 6l3 3l1 5l6 3l-2 5l5 3l0 6l6 1l1 5l5 1M347 603l-5 -4l-5 1l-5 -3l-5 0l-4 -3l-5 4l-5 -3l-5 1l-5 -4l-6 1l-2 -6l-4 -2l-2 -6l-4 -2M228 631l2 -4l0 -5l5 -3l-1 -6l3 -6l0 -6l4 -3l1 -5l5 -3M235 619l6 -1M532 569l3 -4l-3 -3l0 -5l-3 -5l1 -5l-1 -4l3 -4l-1 -5l2 -4M969 663l4 -5l-1 -4l3 -6l-2 -4l5 -4l-3 -3l3 -5l-4 -4M979 660l1 -5l-4 -5l3 -4l-4 -3l3 -4l0 -4l4 -5l-1 -6M975 643l-6 -1M487 585l2 -6l-3 -4l2 -6l-5 -4l-1 -4l-5 -1l0 -5l-5 -4l-1 -6l-3 -5l4 -3l-1 -6l2 -4l0 -5l3 -3M473 527l5 -4M873 670l-4 4l1 6l-5 3l2 6l-4 3l1 6l-4 4l1 5l-5 2l2 5l-6 2l0 5l-3 4l1 6l-4 4M870 680l-6 1M969 658l-1 -6l-5 -1l-2 -6l-4 -1l-2 -5l-6 1M968 652l4 -5M941 669l5 -2l0 -6l5 -2l0 -6l5 -1l0 -5l4 -4l-1 -5M311 615l0 5l6 2l0 5l4 3l-1 4l4 4l0 6l4 3l-2 6l5 4M956 683l3 5l5 0l3 4l5 2l4 2M959 688l5 -4M635 568l-4 5l2 5l-3 3l4 4l-2 4l1 5l-2 5l2 4l-5 5l3 6l-3 4M604 572l-3 4l6 3l-4 3l4 5l-2 6l3 3l-4 4l3 5M729 624l-5 2l-6 3l-4 -2l-4 4l-6 -1l-3 3l-5 1M714 627l2 6M391 579l3 -5l-4 -3l1 -6l-3 -4l4 -6l-1 -4l4 -3l0 -5l2 -5l-3 -5M490 577l-2 5l4 3l0 5l3 3l-1 6l5 2l2 4l5 2l1 6l5 2l3 4l4 3l-2 6l4 1M232 636l3 4l6 0l2 5l6 0l4 4l6 -1l2 5M758 629l-6 -2l-4 3l-6 0l-3 5l-5 -1l-4 4l-4 -3l-4 4l-5 -2l-4 4l-4 -2l-5 3M556 589l-1 6l6 1l-1 4l3 5l-1 6l6 1l2 5l5 3" stroke="#ee9432" stroke-width="3"/></g>
<g fill="none" stroke-linecap="round" stroke-linejoin="round"><path d="M938 676l-1 5l4 5l-2 4l4 4l-3 5l3 6l1 6l2 4M354 592l1 -4l-6 -3l4 -4l-2 -6l3 -3l-5 -3l2 -5l-2 -5l1 -6l-3 -5M604 563l1 -5l-5 -5l0 -5l-6 -2l-1 -5l-3 -3l-3 -5M600 548l-6 0M861 670l-5 2l3 6l-3 6l2 4l-4 4l4 4l-4 4l0 5l-3 3l1 5l-4 3l5 4l-2 5l2 5l-2 5M854 700l-6 0M970 652l2 -5l-4 -5l1 -5l-5 -5l-1 -4l-3 -5M714 585l1 -4l-4 -3l2 -4l-2 -5l4 -5l-2 -4l3 -6l-3 -4l3 -5l0 -5M643 571l4 -3l-1 -5l5 -1l3 -5l4 -2l-3 -5l4 -5l-2 -5l5 -4l-1 -5M757 619l4 -4l0 -6l2 -5l-1 -6l5 -2l2 -4l5 -4l-1 -5M374 588l2 4l5 0l2 6l6 0l0 5l5 4l-2 5l3 2l0 6l2 5l-3 4l4 4l-1 5l2 4l-2 4M653 556l5 -3l-4 -4l1 -5l-4 -5l2 -5l-3 -5l0 -5l-4 -3l3 -5M655 544l6 -1M834 686l-3 3l0 6l-5 4l2 6l-3 4l2 4M701 580l3 -4l-2 -5l2 -4l-2 -5l1 -6l-1 -4l3 -5l-5 -4l2 -4l-3 -4l4 -2M386 578l-1 -6l-4 -5l1 -5l-3 -4l1 -5l-4 -3l-3 -5l-6 -1l0 -5M371 596l2 -6l-4 -5l4 -6l-4 -4l2 -5l-3 -5l2 -5l-1 -7l1 -5l-3 -4l0 -5l-3 -4l3 -6l-3 -5l3 -5M369 588l-4 4l1 5l-3 5l4 5l-2 4l3 3l-2 6l4 3l-3 6l3 4l0 6l5 3l-3 5M373 598l2 -4l-3 -5l3 -4l-6 -2l0 -6l-2 -4l2 -5l-1 -6l2 -5l-5 -3l1 -6l-4 -4l2 -6M365 554l6 -2M431 588l0 -6l-5 -1l-1 -4l-4 -2l-1 -6l-5 0l-3 -4l-5 -1l-4 -5l-5 0l-2 -6M908 674l4 -3l0 -6l3 -5l-5 -4l1 -5l-2 -5l3 -5l-2 -5l3 -5l-3 -5l5 -4M487 596l-2 5l2 5l-2 5l2 5l-2 4l4 4l-4 3l1 6l-3 4l2 5M371 585l3 -5l-4 -5l4 -3l0 -6l4 -4l1 -6l4 -4l-4 -4l3 -5l-2 -5l4 -4l-2 -5l2 -4M382 529l-5 -3M293 619l1 -5l-4 -4l-2 -4l-5 -1l-4 -4l-5 -2l-1 -6l-5 -2l-4 -4l-5 -1l0 -6M342 615l3 4l6 2l2 4l5 0l4 4l5 3l4 4l5 -1M376 635l-2 6M322 601l2 -5l-4 -5l4 -4l-3 -5l3 -4l-2 -6l3 -4M383 580l4 -4l-2 -5l3 -3l-1 -6l4 -5l4 -5l4 -2l-2 -5l5 -4l0 -6l5 -2l2 -4l4 -1l3 -5M328 614l-1 6l2 6l-5 4l2 7l-3 4l1 6l-6 2l1 6l-3 5M262 616l5 -2l2 -4l4 -3l0 -5l4 -2l0 -6l7 0l-1 -6l5 -3l2 -5l4 -4l1 -5M283 623l-2 5l6 3l-1 5l5 2l1 6l6 2l2 5l5 1M320 604l3 -4l-2 -4l3 -5l-2 -5l3 -4l-1 -4l5 -5l-2 -5l5 -4M696 604l-1 6l2 4l-2 5l3 4l-1 5l5 2l-2 5l3 3l-2 5l1 5M724 590l3 -4l1 -6l5 -3l-2 -5l6 -3l-3 -6l3 -4l-2 -5l5 -3M225 633l5 -3l1 -6l4 -5l-2 -5l3 -4l0 -5l2 -4l-3 -6l3 -4l-2 -7l2 -4l-3 -4l3 -5M263 627l-2 4l3 5l-2 6l4 4l2 5l4 4l3 6l4 2l1 5M272 621l4 -4l-1 -5l1 -4l-3 -5l1 -5l-4 -3l-1 -5l-5 -3l2 -4l-6 -2l0 -6M654 563l3 -4l-3 -6l4 -4l-2 -6l5 -4l-2 -6l2 -4l0 -6l3 -4l-3 -5l4 -5M955 661l0 -7l-6 -1l-2 -5l-6 -2l-1 -5M738 619l-6 0l-3 5l-5 1l-2 4l-6 0l-2 4l-5 -1l-3 4M714 633l1 6M376 569l2 -5l-4 -4l1 -5l-4 -5l2 -6l-2 -6l2 -5M371 550l-6 -1M353 583l-2 -6l-5 -3l-1 -6l-4 0l-3 -3l-5 0l-2 -6l-5 -2l-2 -5M710 596l4 -3l-1 -6l5 -3l2 -6l5 -2l1 -4l5 -3l0 -6l6 -3l1 -5M731 563l6 1M135 652l1 -6l-6 -3M966 653l-1 -6l-4 -3l1 -5l-3 -5l3 -4l-3 -3l-1 -5l-3 -4M152 645l0 5l3 4l-1 6l5 2l-2 5l0 5l0 6M581 562l4 -5l1 -6l4 -3l-3 -6l3 -5l-2 -5l5 -2l-3 -4l2 -5M496 579l3 -4l-1 -5l3 -3l-2 -6l3 -3l-4 -4l3 -4l-5 -5l3 -3l-1 -5M281 626l0 5l4 2l-1 5l5 3l0 5l4 3l1 6l3 5l-1 5l5 1M407 589l-2 4l3 4l2 5l3 4l-1 5l3 3l0 5l2 4l-1 5l1 5l-4 4l0 4l-3 6M412 611l-5 3M936 692l-4 4l1 4l0 5l1 5l-3 4M167 634l4 -4l0 -6l-1 -5l-1 -6l4 -4M874 672l4 -3l-4 -4l3 -5l0 -6l2 -5l-1 -4l3 -5l1 -7l5 -3M399 603l-2 4l3 3l-4 5l0 5l-4 3l2 4l-3 4l2 6l-2 4l0 6l-3 5l4 3M590 556l6 0l1 -5l6 0l1 -5l4 -3l2 -5l6 -2l2 -5l6 -1M188 639l1 -4l-5 -1l0 -5l-5 -4l-1 -5l-6 -1l-1 -5l-6 -2l0 -6l-4 -5M730 621l-2 5l0 6l-5 3l1 6l-4 5l2 5l-3 4M850 681l-2 6l4 4l-3 5l4 4l0 6l5 2l1 6l6 1l1 4l4 4" stroke="#2c0a6a" stroke-width="4.8"/><path d="M938 676l-1 5l4 5l-2 4l4 4l-3 5l3 6l1 6l2 4M354 592l1 -4l-6 -3l4 -4l-2 -6l3 -3l-5 -3l2 -5l-2 -5l1 -6l-3 -5M604 563l1 -5l-5 -5l0 -5l-6 -2l-1 -5l-3 -3l-3 -5M600 548l-6 0M861 670l-5 2l3 6l-3 6l2 4l-4 4l4 4l-4 4l0 5l-3 3l1 5l-4 3l5 4l-2 5l2 5l-2 5M854 700l-6 0M970 652l2 -5l-4 -5l1 -5l-5 -5l-1 -4l-3 -5M714 585l1 -4l-4 -3l2 -4l-2 -5l4 -5l-2 -4l3 -6l-3 -4l3 -5l0 -5M643 571l4 -3l-1 -5l5 -1l3 -5l4 -2l-3 -5l4 -5l-2 -5l5 -4l-1 -5M757 619l4 -4l0 -6l2 -5l-1 -6l5 -2l2 -4l5 -4l-1 -5M374 588l2 4l5 0l2 6l6 0l0 5l5 4l-2 5l3 2l0 6l2 5l-3 4l4 4l-1 5l2 4l-2 4M653 556l5 -3l-4 -4l1 -5l-4 -5l2 -5l-3 -5l0 -5l-4 -3l3 -5M655 544l6 -1M834 686l-3 3l0 6l-5 4l2 6l-3 4l2 4M701 580l3 -4l-2 -5l2 -4l-2 -5l1 -6l-1 -4l3 -5l-5 -4l2 -4l-3 -4l4 -2M386 578l-1 -6l-4 -5l1 -5l-3 -4l1 -5l-4 -3l-3 -5l-6 -1l0 -5M371 596l2 -6l-4 -5l4 -6l-4 -4l2 -5l-3 -5l2 -5l-1 -7l1 -5l-3 -4l0 -5l-3 -4l3 -6l-3 -5l3 -5M369 588l-4 4l1 5l-3 5l4 5l-2 4l3 3l-2 6l4 3l-3 6l3 4l0 6l5 3l-3 5M373 598l2 -4l-3 -5l3 -4l-6 -2l0 -6l-2 -4l2 -5l-1 -6l2 -5l-5 -3l1 -6l-4 -4l2 -6M365 554l6 -2M431 588l0 -6l-5 -1l-1 -4l-4 -2l-1 -6l-5 0l-3 -4l-5 -1l-4 -5l-5 0l-2 -6M908 674l4 -3l0 -6l3 -5l-5 -4l1 -5l-2 -5l3 -5l-2 -5l3 -5l-3 -5l5 -4M487 596l-2 5l2 5l-2 5l2 5l-2 4l4 4l-4 3l1 6l-3 4l2 5M371 585l3 -5l-4 -5l4 -3l0 -6l4 -4l1 -6l4 -4l-4 -4l3 -5l-2 -5l4 -4l-2 -5l2 -4M382 529l-5 -3M293 619l1 -5l-4 -4l-2 -4l-5 -1l-4 -4l-5 -2l-1 -6l-5 -2l-4 -4l-5 -1l0 -6M342 615l3 4l6 2l2 4l5 0l4 4l5 3l4 4l5 -1M376 635l-2 6M322 601l2 -5l-4 -5l4 -4l-3 -5l3 -4l-2 -6l3 -4M383 580l4 -4l-2 -5l3 -3l-1 -6l4 -5l4 -5l4 -2l-2 -5l5 -4l0 -6l5 -2l2 -4l4 -1l3 -5M328 614l-1 6l2 6l-5 4l2 7l-3 4l1 6l-6 2l1 6l-3 5M262 616l5 -2l2 -4l4 -3l0 -5l4 -2l0 -6l7 0l-1 -6l5 -3l2 -5l4 -4l1 -5M283 623l-2 5l6 3l-1 5l5 2l1 6l6 2l2 5l5 1M320 604l3 -4l-2 -4l3 -5l-2 -5l3 -4l-1 -4l5 -5l-2 -5l5 -4M696 604l-1 6l2 4l-2 5l3 4l-1 5l5 2l-2 5l3 3l-2 5l1 5M724 590l3 -4l1 -6l5 -3l-2 -5l6 -3l-3 -6l3 -4l-2 -5l5 -3M225 633l5 -3l1 -6l4 -5l-2 -5l3 -4l0 -5l2 -4l-3 -6l3 -4l-2 -7l2 -4l-3 -4l3 -5M263 627l-2 4l3 5l-2 6l4 4l2 5l4 4l3 6l4 2l1 5M272 621l4 -4l-1 -5l1 -4l-3 -5l1 -5l-4 -3l-1 -5l-5 -3l2 -4l-6 -2l0 -6M654 563l3 -4l-3 -6l4 -4l-2 -6l5 -4l-2 -6l2 -4l0 -6l3 -4l-3 -5l4 -5M955 661l0 -7l-6 -1l-2 -5l-6 -2l-1 -5M738 619l-6 0l-3 5l-5 1l-2 4l-6 0l-2 4l-5 -1l-3 4M714 633l1 6M376 569l2 -5l-4 -4l1 -5l-4 -5l2 -6l-2 -6l2 -5M371 550l-6 -1M353 583l-2 -6l-5 -3l-1 -6l-4 0l-3 -3l-5 0l-2 -6l-5 -2l-2 -5M710 596l4 -3l-1 -6l5 -3l2 -6l5 -2l1 -4l5 -3l0 -6l6 -3l1 -5M731 563l6 1M135 652l1 -6l-6 -3M966 653l-1 -6l-4 -3l1 -5l-3 -5l3 -4l-3 -3l-1 -5l-3 -4M152 645l0 5l3 4l-1 6l5 2l-2 5l0 5l0 6M581 562l4 -5l1 -6l4 -3l-3 -6l3 -5l-2 -5l5 -2l-3 -4l2 -5M496 579l3 -4l-1 -5l3 -3l-2 -6l3 -3l-4 -4l3 -4l-5 -5l3 -3l-1 -5M281 626l0 5l4 2l-1 5l5 3l0 5l4 3l1 6l3 5l-1 5l5 1M407 589l-2 4l3 4l2 5l3 4l-1 5l3 3l0 5l2 4l-1 5l1 5l-4 4l0 4l-3 6M412 611l-5 3M936 692l-4 4l1 4l0 5l1 5l-3 4M167 634l4 -4l0 -6l-1 -5l-1 -6l4 -4M874 672l4 -3l-4 -4l3 -5l0 -6l2 -5l-1 -4l3 -5l1 -7l5 -3M399 603l-2 4l3 3l-4 5l0 5l-4 3l2 4l-3 4l2 6l-2 4l0 6l-3 5l4 3M590 556l6 0l1 -5l6 0l1 -5l4 -3l2 -5l6 -2l2 -5l6 -1M188 639l1 -4l-5 -1l0 -5l-5 -4l-1 -5l-6 -1l-1 -5l-6 -2l0 -6l-4 -5M730 621l-2 5l0 6l-5 3l1 6l-4 5l2 5l-3 4M850 681l-2 6l4 4l-3 5l4 4l0 6l5 2l1 6l6 1l1 4l4 4" stroke="#6a1ed2" stroke-width="3"/></g>
<path d="M572 583l1 5M428 583l2 8M588 557l1 7M732 611l-3 5M754 595l5 4M486 555l7 2M937 704l-5 2M271 632l5 2M254 629l5 6M700 635l5 3M337 616l4 4M694 574l-8 2M469 609l4 5M771 644l-4 3M140 666l5 6M156 659l-4 7M565 563l1 6M488 572l-5 3M973 670l3 2M802 650l3 7M330 628l5 2M800 659l-7 2M521 545l5 5M901 675l-5 7M918 655l-1 6M202 575l8 1M496 573l4 8M231 624l3 5M908 737l8 2M456 576l-2 4M578 573l2 8M244 605l4 2M493 601l-3 3M739 611l0 4M682 574l-3 3M335 585l4 5M337 580l6 3M853 703l6 6M266 624l-5 5M677 581l7 2M696 603l2 4M393 601l1 6M183 659l-6 4M623 553l4 1M612 567l-4 4M357 617l1 6M627 579l4 5M607 558l-8 1M479 590l2 8M414 592l-2 7M977 654l-1 6M156 640l0 5M486 606l4 7M786 637l2 8M649 579l-2 4M704 600l0 5M538 548l-4 5M742 624l5 3M216 633l3 5M265 623l4 1M179 621l-4 4M135 659l-6 1M883 657l9 1M666 569l-4 1M308 578l-4 0M455 593l1 5M978 669l-4 6M605 558l-1 8M782 660l7 4M503 584l-4 4M951 652l-9 2M252 620l-4 4M469 603l4 2M553 538l-4 2M812 669l-7 2M828 652l-9 1M709 571l0 5M483 585l4 3M737 588l6 7M593 538l-5 0M501 603l-1 4M820 671l-4 2M689 596l-5 4M395 586l1 4M806 643l-4 6M458 586l7 4M554 554l0 6M747 605l2 6M824 688l-1 8M949 665l4 4M502 562l4 2M616 555l-2 6M212 622l-7 6M384 567l8 3M784 653l-6 3M659 589l4 3M344 596l-3 4M353 635l-2 4M892 657l4 2M279 643l2 7M935 665l-3 3M404 626l0 6M158 656l-4 5M941 711l-5 3M913 660l9 3M894 696l-1 4M459 572l0 6M661 580l1 4M837 704l-5 7M428 596l-5 5M483 588l3 8M941 679l0 7M238 646l4 1M356 622l-2 8M687 577l1 4M175 663l1 8M383 584l-1 6M331 619l-1 8M416 622l7 4M414 590l4 8M162 628l0 6M870 661l1 5M814 691l-4 6M859 665l-4 6M692 542l2 8M196 607l4 3M276 621l4 3M240 648l6 6M282 638l1 5M912 677l-5 2M846 681l-5 3M254 652l7 3M586 545l7 3M393 608l-3 6M276 624l6 0M907 667l-6 3M912 623l-4 2M238 626l-5 2M595 606l-4 3M872 638l2 8M296 612l7 3M336 607l7 4M579 575l-7 1M405 595l-4 3M896 659l4 1M378 574l4 1M626 551l4 4M312 617l-4 5M282 605l-4 7M696 575l-3 6M794 670l-2 4M749 647l-5 5M337 619l4 0M269 637l5 1M982 668l3 3M929 642l0 4M759 605l-7 1M261 630l5 2M315 644l1 4M826 653l5 1M288 611l7 2M393 617l-6 5M192 624l5 1M144 648l5 1M845 669l-5 4M226 644l-6 1M895 724l2 4M343 596l5 2M219 640l4 2M668 558l5 2M852 683l5 5M459 568l5 0M523 551l3 7M967 622l-2 4M982 658l-2 4M675 579l1 7M536 572l-7 1M903 668l-2 5M806 641l0 8M150 636l5 5M695 583l-4 4M186 627l-5 5M809 674l-8 5M359 632l-7 4M513 574l8 2M634 590l1 6M641 561l-2 4M460 592l-1 5M214 646l-4 3M853 680l4 7M719 578l3 4M878 658l2 7M541 544l-5 7M632 608l0 4M185 634l6 6M340 607l2 6M569 579l-3 6M745 612l7 2M636 537l-2 5M429 578l4 5M810 643l-5 3M141 658l5 5M295 575l-2 7M361 545l4 1M297 621l5 0M273 602l1 5M475 609l-4 4M246 597l4 5M772 655l6 1M525 617l0 6" stroke="#111" stroke-width="3.4" fill="none" stroke-linecap="round"/>
<g fill="none" stroke-linecap="round" stroke-linejoin="round"><path d="M883 676l3 -4l0 -6l5 -3l-1 -4l5 -3l-1 -5l5 -3l0 -5l5 -2l-2 -5l6 -3l0 -6l5 0M321 630l-1 4l4 3l1 6l5 4l0 5l5 4M335 656l6 0M969 659l0 -5l-3 -6l1 -6l-3 -5l4 -3l-4 -4l-1 -5l0 -5l2 -6M143 656l-3 4l3 5l-4 4l-1 6l-3 5l3 4M621 587l-3 4l1 6l-2 6l2 5l-4 4l2 5l-1 5l6 2M685 569l4 -2l2 -7l4 -3l2 -5l4 -3l0 -6l5 -1l2 -5l5 -1M765 638l-6 1l-3 4l-4 -1l-3 4l-5 -3l-4 3l-5 -2l-3 4M248 609l4 -5l-4 -3l0 -6l-4 -4l0 -5l-5 -4l-1 -6l-5 -4l1 -6M247 639l-4 2l1 6l-5 1l-2 5l-4 1l0 6l-4 3l-3 5l-5 2M229 663l-6 -1M190 615l2 -6l-5 -4l1 -4l-3 -4l1 -6l-3 -5M760 637l-6 1l0 5l-5 3l2 5l-3 5l1 6M221 641l2 6l5 2l3 5l7 0l1 6l5 2l-1 6l4 3l-1 4M674 561l2 -4l0 -5l5 -4l-3 -6l6 -1l1 -6l4 -3l-1 -6M676 552l6 0M390 598l-4 4l1 5l-5 5l2 5l-5 4l0 5l-3 5l0 5l-3 5l3 5l-1 4l3 4M467 575l2 -5l-3 -4l3 -5l-3 -5l5 -3l0 -6l5 -4l-4 -4l3 -5M387 603l-1 5l3 4l-1 5l3 4l-1 6l4 1l-2 5l3 4l-1 6l5 4l0 5M512 593l-2 6l0 5l-3 3l2 6l-2 5l1 6l-4 3l0 5l-5 1l-2 6M209 646l0 5l4 3l1 6l3 5l-2 4l4 3l-2 5l2 4l4 5l6 0l1 6M731 612l-4 4l2 5l-4 2l0 5l-4 5l1 6l-3 6l-2 5l-6 0l-3 6M161 647l-2 -5l-5 -4l0 -6l-4 -4l-2 -5l-3 -3l1 -6l-2 -5l2 -6l-3 -3l2 -6M154 632l-6 2M827 687l-6 3l-1 5l-3 5l1 5l-2 5l3 6l-3 4l1 4l-3 5M371 601l-2 5l4 2l1 7l6 1l3 5l3 4l2 4l5 4l0 5M369 606l6 0M656 555l4 -3l-3 -5l3 -4l0 -7l2 -3M888 677l1 6l5 1l-1 5l4 3l2 4l4 4l2 6l5 2l0 5l3 4l-1 5l4 3l0 6l4 2l-1 6M448 590l-1 5l6 3l2 4l5 2l2 6l5 2l1 5l6 2M194 633l-1 4l4 3l2 6l5 4l0 5l3 3l1 6l3 5l0 5l5 2l-1 5l4 3M802 661l4 -4l-1 -6l5 -3l-1 -6l4 -4l-1 -6l4 -2l-2 -6l3 -3l0 -4l4 -5l-2 -5M819 607l6 1M688 570l1 -5l-2 -5l2 -6l-4 -4l0 -5l-5 -2l1 -5l-3 -6l4 -5M648 578l2 -5l-2 -5l1 -6l-4 -3l0 -5l-4 -4l2 -5l-3 -3l2 -5l-3 -4l3 -6l-1 -6l2 -5M883 671l-4 4l0 5l-4 3l3 5l-5 3l3 4l-4 4l-2 6l-3 5l0 6M893 667l-4 4l1 4l-3 4l0 6l-4 4l0 6l-5 1l0 6l-5 4l-1 6l-4 3l1 5l-4 5l-2 5l-6 2l-1 4l-5 4M333 618l3 -5l-4 -3l3 -5l-4 -4l1 -6l-3 -5l4 -4l0 -6l4 -3l-4 -5l4 -6l-3 -5l2 -5l1 -5M975 655l-1 -4l-5 -4l-1 -5l-4 -4l-1 -6l-5 -3l0 -6M963 632l-6 1M920 674l5 -1l1 -5l4 -3l-1 -5l5 -4l-1 -4l4 -3l0 -7l3 -5l2 -5l4 -5l-1 -5l4 -3M623 583l-5 4l0 5l-4 3l-1 5l-4 5l0 6l-4 4M141 657l-1 5l3 5l0 4l4 3M667 567l5 -2l0 -5l4 -4l-2 -5l4 -4l-1 -5l2 -5l0 -6l5 -2M765 635l5 -4l-2 -5l5 0l2 -5l4 -3l0 -5l6 1l2 -7l6 2l1 -7M591 570l4 -3l0 -6l6 -2l0 -5l3 -4l-2 -6l6 -1l0 -5l5 -2l2 -5l5 0l1 -6M608 538l6 0M420 587l-3 3l3 4l-2 5l2 5l-4 3l0 6l-5 5l1 5l-4 5l2 5l-2 4l2 5l-2 6l4 4M961 661l1 -5l-6 -1l-2 -6l-3 -4l0 -6l-3 -3M342 607l-2 5l4 3l-1 5l3 4l0 5l3 5l-2 5l5 2l-1 6l0 5l-1 5l4 3M354 660l-5 4M223 610l3 -4l-2 -6l2 -5l1 -5l5 -3M194 628l5 -4l-3 -5l2 -4l-4 -4l1 -6l-2 -5l4 -5l-5 -4l3 -5l-2 -5M488 575l-1 6l0 5l-4 3l2 6l-2 5l4 5l-1 6l5 4l-1 6l2 5l-4 4l2 6l-4 4M146 652l1 5l5 1l4 5l3 3l1 5l5 3M467 585l-2 -5l-3 -4l0 -5l-5 -2l-2 -4l-6 -2l1 -5l-4 -2l-1 -5l-6 -2l-1 -6l-5 -3l-4 -4M794 657l-4 4l0 5l-4 5l1 4l-5 3l1 6l-4 4l1 5l-4 3l1 5M339 602l-4 3l1 5l-3 3l3 3l-2 6l4 4l0 5l5 3l-2 5l2 4l-4 4l2 5l-2 5l4 5l1 6l3 4M908 660l2 -5l-4 -3l0 -4l-4 -2l-1 -6l-4 -2l-1 -5l-6 -3l-3 -4M896 633l5 -3M371 574l-3 -5l-4 1l-4 -5l-6 -1l-3 -4l-6 1l-2 -5l-5 -1l-1 -6l-5 -2l-3 -5M155 652l-4 -4l-6 -1l-1 -5l-5 -3l-2 -5l-4 -2l-2 -5l-6 1l-2 -6M266 607l3 -3l-1 -6l4 -4l-1 -6l4 -4l0 -6l4 -5l0 -5l4 -3l1 -5M164 650l1 -6l-4 -2l-2 -5l-7 -1l-1 -6l-4 -2l0 -5l-6 -2" stroke="#2c0a6a" stroke-width="4.8"/><path d="M883 676l3 -4l0 -6l5 -3l-1 -4l5 -3l-1 -5l5 -3l0 -5l5 -2l-2 -5l6 -3l0 -6l5 0M321 630l-1 4l4 3l1 6l5 4l0 5l5 4M335 656l6 0M969 659l0 -5l-3 -6l1 -6l-3 -5l4 -3l-4 -4l-1 -5l0 -5l2 -6M143 656l-3 4l3 5l-4 4l-1 6l-3 5l3 4M621 587l-3 4l1 6l-2 6l2 5l-4 4l2 5l-1 5l6 2M685 569l4 -2l2 -7l4 -3l2 -5l4 -3l0 -6l5 -1l2 -5l5 -1M765 638l-6 1l-3 4l-4 -1l-3 4l-5 -3l-4 3l-5 -2l-3 4M248 609l4 -5l-4 -3l0 -6l-4 -4l0 -5l-5 -4l-1 -6l-5 -4l1 -6M247 639l-4 2l1 6l-5 1l-2 5l-4 1l0 6l-4 3l-3 5l-5 2M229 663l-6 -1M190 615l2 -6l-5 -4l1 -4l-3 -4l1 -6l-3 -5M760 637l-6 1l0 5l-5 3l2 5l-3 5l1 6M221 641l2 6l5 2l3 5l7 0l1 6l5 2l-1 6l4 3l-1 4M674 561l2 -4l0 -5l5 -4l-3 -6l6 -1l1 -6l4 -3l-1 -6M676 552l6 0M390 598l-4 4l1 5l-5 5l2 5l-5 4l0 5l-3 5l0 5l-3 5l3 5l-1 4l3 4M467 575l2 -5l-3 -4l3 -5l-3 -5l5 -3l0 -6l5 -4l-4 -4l3 -5M387 603l-1 5l3 4l-1 5l3 4l-1 6l4 1l-2 5l3 4l-1 6l5 4l0 5M512 593l-2 6l0 5l-3 3l2 6l-2 5l1 6l-4 3l0 5l-5 1l-2 6M209 646l0 5l4 3l1 6l3 5l-2 4l4 3l-2 5l2 4l4 5l6 0l1 6M731 612l-4 4l2 5l-4 2l0 5l-4 5l1 6l-3 6l-2 5l-6 0l-3 6M161 647l-2 -5l-5 -4l0 -6l-4 -4l-2 -5l-3 -3l1 -6l-2 -5l2 -6l-3 -3l2 -6M154 632l-6 2M827 687l-6 3l-1 5l-3 5l1 5l-2 5l3 6l-3 4l1 4l-3 5M371 601l-2 5l4 2l1 7l6 1l3 5l3 4l2 4l5 4l0 5M369 606l6 0M656 555l4 -3l-3 -5l3 -4l0 -7l2 -3M888 677l1 6l5 1l-1 5l4 3l2 4l4 4l2 6l5 2l0 5l3 4l-1 5l4 3l0 6l4 2l-1 6M448 590l-1 5l6 3l2 4l5 2l2 6l5 2l1 5l6 2M194 633l-1 4l4 3l2 6l5 4l0 5l3 3l1 6l3 5l0 5l5 2l-1 5l4 3M802 661l4 -4l-1 -6l5 -3l-1 -6l4 -4l-1 -6l4 -2l-2 -6l3 -3l0 -4l4 -5l-2 -5M819 607l6 1M688 570l1 -5l-2 -5l2 -6l-4 -4l0 -5l-5 -2l1 -5l-3 -6l4 -5M648 578l2 -5l-2 -5l1 -6l-4 -3l0 -5l-4 -4l2 -5l-3 -3l2 -5l-3 -4l3 -6l-1 -6l2 -5M883 671l-4 4l0 5l-4 3l3 5l-5 3l3 4l-4 4l-2 6l-3 5l0 6M893 667l-4 4l1 4l-3 4l0 6l-4 4l0 6l-5 1l0 6l-5 4l-1 6l-4 3l1 5l-4 5l-2 5l-6 2l-1 4l-5 4M333 618l3 -5l-4 -3l3 -5l-4 -4l1 -6l-3 -5l4 -4l0 -6l4 -3l-4 -5l4 -6l-3 -5l2 -5l1 -5M975 655l-1 -4l-5 -4l-1 -5l-4 -4l-1 -6l-5 -3l0 -6M963 632l-6 1M920 674l5 -1l1 -5l4 -3l-1 -5l5 -4l-1 -4l4 -3l0 -7l3 -5l2 -5l4 -5l-1 -5l4 -3M623 583l-5 4l0 5l-4 3l-1 5l-4 5l0 6l-4 4M141 657l-1 5l3 5l0 4l4 3M667 567l5 -2l0 -5l4 -4l-2 -5l4 -4l-1 -5l2 -5l0 -6l5 -2M765 635l5 -4l-2 -5l5 0l2 -5l4 -3l0 -5l6 1l2 -7l6 2l1 -7M591 570l4 -3l0 -6l6 -2l0 -5l3 -4l-2 -6l6 -1l0 -5l5 -2l2 -5l5 0l1 -6M608 538l6 0M420 587l-3 3l3 4l-2 5l2 5l-4 3l0 6l-5 5l1 5l-4 5l2 5l-2 4l2 5l-2 6l4 4M961 661l1 -5l-6 -1l-2 -6l-3 -4l0 -6l-3 -3M342 607l-2 5l4 3l-1 5l3 4l0 5l3 5l-2 5l5 2l-1 6l0 5l-1 5l4 3M354 660l-5 4M223 610l3 -4l-2 -6l2 -5l1 -5l5 -3M194 628l5 -4l-3 -5l2 -4l-4 -4l1 -6l-2 -5l4 -5l-5 -4l3 -5l-2 -5M488 575l-1 6l0 5l-4 3l2 6l-2 5l4 5l-1 6l5 4l-1 6l2 5l-4 4l2 6l-4 4M146 652l1 5l5 1l4 5l3 3l1 5l5 3M467 585l-2 -5l-3 -4l0 -5l-5 -2l-2 -4l-6 -2l1 -5l-4 -2l-1 -5l-6 -2l-1 -6l-5 -3l-4 -4M794 657l-4 4l0 5l-4 5l1 4l-5 3l1 6l-4 4l1 5l-4 3l1 5M339 602l-4 3l1 5l-3 3l3 3l-2 6l4 4l0 5l5 3l-2 5l2 4l-4 4l2 5l-2 5l4 5l1 6l3 4M908 660l2 -5l-4 -3l0 -4l-4 -2l-1 -6l-4 -2l-1 -5l-6 -3l-3 -4M896 633l5 -3M371 574l-3 -5l-4 1l-4 -5l-6 -1l-3 -4l-6 1l-2 -5l-5 -1l-1 -6l-5 -2l-3 -5M155 652l-4 -4l-6 -1l-1 -5l-5 -3l-2 -5l-4 -2l-2 -5l-6 1l-2 -6M266 607l3 -3l-1 -6l4 -4l-1 -6l4 -4l0 -6l4 -5l0 -5l4 -3l1 -5M164 650l1 -6l-4 -2l-2 -5l-7 -1l-1 -6l-4 -2l0 -5l-6 -2" stroke="#6a1ed2" stroke-width="3"/></g>
<g fill="none" stroke-linecap="round" stroke-linejoin="round"><path d="M865 665l0 -6l-6 -2l-2 -6l-5 -3l1 -6l-4 -3l2 -5l-3 -4l-1 -6l-5 -2l1 -5l-3 -5M958 672l-2 -4l-4 -3l0 -6l-5 -4l1 -5l-4 -4l2 -5l-5 -2l-1 -5l-3 -4M407 577l6 -2l-2 -6l3 -5l-1 -6l4 -4l-1 -5l3 -5M419 544l-5 -4M767 627l6 -1l2 -4l5 2l-1 -5l6 -2l1 -4l5 -4l1 -6M786 613l5 3M343 625l1 4l5 3l0 5l6 2l2 5M349 637l-3 5M247 620l0 -4l-4 -4l1 -5l-4 -3l3 -6l-2 -5l0 -5l-4 -4M875 657l4 -5l-1 -5l3 -5l-2 -4l2 -5l-1 -5l3 -4l-4 -5M879 652l-6 -2M440 581l0 5l3 4l-1 5l4 2l-2 6l3 4l-2 5l4 6l-3 5l4 2l-2 5l3 5M444 603l6 1M180 649l-5 3l2 5l-1 4l3 5l-3 4l4 5l-3 4l4 4M527 591l-3 4l0 6l-4 5l1 4l-4 6M579 566l3 -6l-2 -6l4 -4l-3 -5l3 -5l-3 -5l0 -5l-1 -6l1 -5l-5 -2l-1 -5l-3 -4M927 677l-1 5l3 5l-1 6l5 3l0 5l4 4l0 6l5 2l1 5M499 574l-1 5l6 0l4 6l5 -1l0 5l5 2l0 5l5 4l-1 5l5 1M522 605l6 -2M592 575l2 -4l-5 -4l2 -5l-3 -5l3 -3l-2 -5l2 -6l-3 -4l2 -6l-3 -4l1 -4l-3 -5l0 -4l-4 -4M589 567l6 -2M821 661l-6 1l-2 5l-5 2l0 6l-5 2l-2 4l-6 3l-4 3l-5 0l-3 5l-6 -1M791 687l-6 -3M777 629l6 -1l0 -5l6 2l1 -5l6 -1l3 -5l5 -3l2 -5l5 -4M539 570l-2 6l2 5l-3 5l3 4l2 6l4 3l-2 6l1 5l-2 5l4 5l-1 5M542 615l6 0M519 581l1 6l4 2l-2 5l2 4l-1 6l4 3l-3 5M552 570l3 -4l-5 -4l1 -5l-3 -5l1 -6l-4 -5l1 -6l-4 -4l0 -6l-6 -3l2 -6M673 586l-3 3l0 5l-4 4l0 6l-7 0l2 5l-5 2M666 604l-6 -1M877 667l-4 4l3 4l-5 3l0 6l-2 5l1 6l-5 3l0 6l-5 3l1 5l-4 3l1 6l-5 4l0 4l-5 5l0 5M574 575l-2 5l1 6l-3 4l4 4l-2 4l3 5l-2 5l3 5l-1 4l6 1l-1 5l4 4M406 586l3 -4l-2 -5l2 -6l-3 -4l2 -6l-2 -6l4 -3l0 -5l3 -3l-4 -4l4 -4l-2 -6M413 536l-5 -3M698 589l-5 3l0 6l-3 6l2 5l-3 5l2 5l-2 5l4 3l-4 4l2 4l-3 5l3 5M689 631l-6 1M807 654l4 -5l-2 -6l5 -3l-2 -5l4 -5l-2 -4l4 -3l-4 -6l3 -4l-3 -3M809 643l-6 -3M808 673l-4 5l1 5l-5 3l1 5l-5 4l-1 6M130 663l-2 5l4 5M889 677l-1 -4l-5 -3l-1 -5l-4 -2l2 -6l-6 -2l-2 -5l-4 -2l-1 -7l-5 -1l-2 -5M340 612l0 -5l-4 -3l0 -6l-3 -3l2 -5l-2 -4l3 -6l-3 -4l1 -7l-5 -4M340 607l5 -4M890 674l-3 5l2 5l-4 4l1 5l-5 3l2 4l-3 4l3 5l-3 5l2 5M590 573l-3 6l2 6l-3 4l3 4l-5 4l1 4l-3 4l3 4l-3 6M582 615l-6 2M762 621l2 -6l-3 -4l0 -6l-2 -4l3 -6l-1 -5l4 -4l-1 -5M969 657l2 -6l-6 -2l0 -6l-6 -2l0 -6l-5 -3M965 649l-6 2M727 611l4 -3l0 -6l4 -2l3 -6l5 0l0 -5l6 0l1 -5l5 -2l3 -4l5 0l3 -4l5 1l2 -5l5 3M775 640l-6 3l2 5l-5 4l0 5l-5 4l-1 4l-4 3l-1 5l-6 0M766 652l-6 -2M408 584l1 6l4 3l-1 6l5 3l2 6l5 -1l1 6l5 -1l5 5l6 -2M409 590l6 0M627 580l-5 3l1 5l-4 5l5 3l-2 5l4 5l-2 6l2 4l-1 6l3 5M624 596l5 4M508 591l-5 3l0 6l-5 2l0 5l-2 5l1 5M503 600l-6 -2M480 583l-2 -4l-5 -3l-3 -5l-4 -3l-3 -3l-6 0l-2 -5l-5 0l-2 -6l-6 0l-5 -4M442 554l3 -6M208 627l-3 5l-1 4l-4 4l-1 5l-3 3l3 4l-3 3l-1 5l-4 3l1 6M263 628l1 -5l-3 -6l3 -3l-1 -7l4 -4l-3 -5l4 -4l-1 -4l3 -4l-2 -4l3 -5l-1 -6l5 -3M509 576l-5 3l0 6l-4 4l0 4l-5 5l1 4l-3 4l-1 5l-5 4l3 4l-3 6l3 5l-2 5M742 620l6 -1l4 -5l6 -1l2 -5l5 -1l0 -6l3 -4l2 -6l5 0l2 -6l5 -2l3 -4l5 -1M758 613l6 3M288 631l-2 5l4 5l-5 4l2 5l-6 3l1 4l-4 4l0 4l-4 5M286 636l6 3M840 680l4 -5l-4 -4l0 -6l-2 -5l1 -6l-3 -4l1 -5l-2 -4l0 -6l-2 -4l2 -5l-5 -3l4 -3l-4 -4M835 626l5 -3M578 582l-2 5l1 6l-4 3l3 4l-5 4l2 5l-5 4l1 5l-4 4M699 587l-2 4l3 5l-3 5l1 5l-3 5l1 5l-1 5l4 5l-3 5l4 4M697 601l6 2M537 571l-3 5l3 5l-4 4l0 6l-3 5l3 3l-1 5l5 3l-1 5l6 3l1 6l2 4l0 5M423 583l2 -4l-3 -5l0 -5l-4 -4l1 -5l-2 -5l-1 -6l-4 -4l3 -4l-4 -4l4 -5M417 555l6 -2M199 626l3 -4l-2 -4l1 -5l-1 -6l3 -5l-1 -6l3 -5l0 -6l2 -6l-2 -4l1 -5l-5 -3l3 -6M207 579l-6 -3M273 637l-5 -1l1 5l-5 4l0 5l-5 2l0 5l-4 5l1 4l-3 4M264 645l4 5M556 565l1 -5l-4 -5l0 -5l-5 -2l-4 -5l-5 -4l1 -4l-3 -4l-3 -4l-5 1l-2 -6M529 528l-6 0M230 633l5 -4l-5 -3l4 -3l-4 -5l1 -5l-2 -5l2 -6l-3 -3l2 -6l0 -6l1 -5M229 608l-6 -3M506 572l0 -7l-4 -3l3 -6l-1 -6l4 -5l-4 -5l-3 -5M501 535l5 -4M992 658l0 -5l-5 -3l-1 -5l-5 -2l1 -5M981 643l5 -4M800 648l4 -3l2 -5l5 0l3 -4l6 -1l4 -3l6 2l3 -4M570 556l2 -5l-1 -4l3 -3l-3 -6l1 -5l-2 -6M574 544l6 -1M870 687l-2 4l5 3l-1 5l4 2l-1 5l5 3l2 6l5 3l3 5M740 628l-4 5l3 5l-3 4l2 5l-3 4l3 5l-2 5l4 5l0 5M740 671l-6 1M292 608l1 -6l-5 -4l3 -4l-3 -5l1 -5l-3 -4l3 -4l-4 -5l1 -5l-4 -5l2 -6l-4 -5M286 566l-6 -2M859 681l1 -6l-3 -5l-1 -4l-5 -4l1 -5l-5 -3l0 -6l-4 -2l4 -5l-5 -2l1 -6l-5 -3l-1 -6M248 624l0 -4l-1 -5l2 -6l-2 -6l5 -3l1 -5l4 -3l-1 -5l6 -3l-4 -2l1 -6l-2 -5M248 620l6 -2M818 681l-5 1l-1 5l-3 3l-4 4l-6 1l-1 6M713 591l-2 6l1 6l-2 5l-1 4l-5 4l-2 6l-5 1l-1 6l-6 0l-3 6l-6 2l-2 5M528 583l-4 3l-1 5l-4 2l2 6l-4 5l2 5M886 689l-1 5l4 4l-1 5l5 3l-3 6l5 3l1 4l5 3l0 6l5 2" stroke="#6e3c0a" stroke-width="4.8"/><path d="M865 665l0 -6l-6 -2l-2 -6l-5 -3l1 -6l-4 -3l2 -5l-3 -4l-1 -6l-5 -2l1 -5l-3 -5M958 672l-2 -4l-4 -3l0 -6l-5 -4l1 -5l-4 -4l2 -5l-5 -2l-1 -5l-3 -4M407 577l6 -2l-2 -6l3 -5l-1 -6l4 -4l-1 -5l3 -5M419 544l-5 -4M767 627l6 -1l2 -4l5 2l-1 -5l6 -2l1 -4l5 -4l1 -6M786 613l5 3M343 625l1 4l5 3l0 5l6 2l2 5M349 637l-3 5M247 620l0 -4l-4 -4l1 -5l-4 -3l3 -6l-2 -5l0 -5l-4 -4M875 657l4 -5l-1 -5l3 -5l-2 -4l2 -5l-1 -5l3 -4l-4 -5M879 652l-6 -2M440 581l0 5l3 4l-1 5l4 2l-2 6l3 4l-2 5l4 6l-3 5l4 2l-2 5l3 5M444 603l6 1M180 649l-5 3l2 5l-1 4l3 5l-3 4l4 5l-3 4l4 4M527 591l-3 4l0 6l-4 5l1 4l-4 6M579 566l3 -6l-2 -6l4 -4l-3 -5l3 -5l-3 -5l0 -5l-1 -6l1 -5l-5 -2l-1 -5l-3 -4M927 677l-1 5l3 5l-1 6l5 3l0 5l4 4l0 6l5 2l1 5M499 574l-1 5l6 0l4 6l5 -1l0 5l5 2l0 5l5 4l-1 5l5 1M522 605l6 -2M592 575l2 -4l-5 -4l2 -5l-3 -5l3 -3l-2 -5l2 -6l-3 -4l2 -6l-3 -4l1 -4l-3 -5l0 -4l-4 -4M589 567l6 -2M821 661l-6 1l-2 5l-5 2l0 6l-5 2l-2 4l-6 3l-4 3l-5 0l-3 5l-6 -1M791 687l-6 -3M777 629l6 -1l0 -5l6 2l1 -5l6 -1l3 -5l5 -3l2 -5l5 -4M539 570l-2 6l2 5l-3 5l3 4l2 6l4 3l-2 6l1 5l-2 5l4 5l-1 5M542 615l6 0M519 581l1 6l4 2l-2 5l2 4l-1 6l4 3l-3 5M552 570l3 -4l-5 -4l1 -5l-3 -5l1 -6l-4 -5l1 -6l-4 -4l0 -6l-6 -3l2 -6M673 586l-3 3l0 5l-4 4l0 6l-7 0l2 5l-5 2M666 604l-6 -1M877 667l-4 4l3 4l-5 3l0 6l-2 5l1 6l-5 3l0 6l-5 3l1 5l-4 3l1 6l-5 4l0 4l-5 5l0 5M574 575l-2 5l1 6l-3 4l4 4l-2 4l3 5l-2 5l3 5l-1 4l6 1l-1 5l4 4M406 586l3 -4l-2 -5l2 -6l-3 -4l2 -6l-2 -6l4 -3l0 -5l3 -3l-4 -4l4 -4l-2 -6M413 536l-5 -3M698 589l-5 3l0 6l-3 6l2 5l-3 5l2 5l-2 5l4 3l-4 4l2 4l-3 5l3 5M689 631l-6 1M807 654l4 -5l-2 -6l5 -3l-2 -5l4 -5l-2 -4l4 -3l-4 -6l3 -4l-3 -3M809 643l-6 -3M808 673l-4 5l1 5l-5 3l1 5l-5 4l-1 6M130 663l-2 5l4 5M889 677l-1 -4l-5 -3l-1 -5l-4 -2l2 -6l-6 -2l-2 -5l-4 -2l-1 -7l-5 -1l-2 -5M340 612l0 -5l-4 -3l0 -6l-3 -3l2 -5l-2 -4l3 -6l-3 -4l1 -7l-5 -4M340 607l5 -4M890 674l-3 5l2 5l-4 4l1 5l-5 3l2 4l-3 4l3 5l-3 5l2 5M590 573l-3 6l2 6l-3 4l3 4l-5 4l1 4l-3 4l3 4l-3 6M582 615l-6 2M762 621l2 -6l-3 -4l0 -6l-2 -4l3 -6l-1 -5l4 -4l-1 -5M969 657l2 -6l-6 -2l0 -6l-6 -2l0 -6l-5 -3M965 649l-6 2M727 611l4 -3l0 -6l4 -2l3 -6l5 0l0 -5l6 0l1 -5l5 -2l3 -4l5 0l3 -4l5 1l2 -5l5 3M775 640l-6 3l2 5l-5 4l0 5l-5 4l-1 4l-4 3l-1 5l-6 0M766 652l-6 -2M408 584l1 6l4 3l-1 6l5 3l2 6l5 -1l1 6l5 -1l5 5l6 -2M409 590l6 0M627 580l-5 3l1 5l-4 5l5 3l-2 5l4 5l-2 6l2 4l-1 6l3 5M624 596l5 4M508 591l-5 3l0 6l-5 2l0 5l-2 5l1 5M503 600l-6 -2M480 583l-2 -4l-5 -3l-3 -5l-4 -3l-3 -3l-6 0l-2 -5l-5 0l-2 -6l-6 0l-5 -4M442 554l3 -6M208 627l-3 5l-1 4l-4 4l-1 5l-3 3l3 4l-3 3l-1 5l-4 3l1 6M263 628l1 -5l-3 -6l3 -3l-1 -7l4 -4l-3 -5l4 -4l-1 -4l3 -4l-2 -4l3 -5l-1 -6l5 -3M509 576l-5 3l0 6l-4 4l0 4l-5 5l1 4l-3 4l-1 5l-5 4l3 4l-3 6l3 5l-2 5M742 620l6 -1l4 -5l6 -1l2 -5l5 -1l0 -6l3 -4l2 -6l5 0l2 -6l5 -2l3 -4l5 -1M758 613l6 3M288 631l-2 5l4 5l-5 4l2 5l-6 3l1 4l-4 4l0 4l-4 5M286 636l6 3M840 680l4 -5l-4 -4l0 -6l-2 -5l1 -6l-3 -4l1 -5l-2 -4l0 -6l-2 -4l2 -5l-5 -3l4 -3l-4 -4M835 626l5 -3M578 582l-2 5l1 6l-4 3l3 4l-5 4l2 5l-5 4l1 5l-4 4M699 587l-2 4l3 5l-3 5l1 5l-3 5l1 5l-1 5l4 5l-3 5l4 4M697 601l6 2M537 571l-3 5l3 5l-4 4l0 6l-3 5l3 3l-1 5l5 3l-1 5l6 3l1 6l2 4l0 5M423 583l2 -4l-3 -5l0 -5l-4 -4l1 -5l-2 -5l-1 -6l-4 -4l3 -4l-4 -4l4 -5M417 555l6 -2M199 626l3 -4l-2 -4l1 -5l-1 -6l3 -5l-1 -6l3 -5l0 -6l2 -6l-2 -4l1 -5l-5 -3l3 -6M207 579l-6 -3M273 637l-5 -1l1 5l-5 4l0 5l-5 2l0 5l-4 5l1 4l-3 4M264 645l4 5M556 565l1 -5l-4 -5l0 -5l-5 -2l-4 -5l-5 -4l1 -4l-3 -4l-3 -4l-5 1l-2 -6M529 528l-6 0M230 633l5 -4l-5 -3l4 -3l-4 -5l1 -5l-2 -5l2 -6l-3 -3l2 -6l0 -6l1 -5M229 608l-6 -3M506 572l0 -7l-4 -3l3 -6l-1 -6l4 -5l-4 -5l-3 -5M501 535l5 -4M992 658l0 -5l-5 -3l-1 -5l-5 -2l1 -5M981 643l5 -4M800 648l4 -3l2 -5l5 0l3 -4l6 -1l4 -3l6 2l3 -4M570 556l2 -5l-1 -4l3 -3l-3 -6l1 -5l-2 -6M574 544l6 -1M870 687l-2 4l5 3l-1 5l4 2l-1 5l5 3l2 6l5 3l3 5M740 628l-4 5l3 5l-3 4l2 5l-3 4l3 5l-2 5l4 5l0 5M740 671l-6 1M292 608l1 -6l-5 -4l3 -4l-3 -5l1 -5l-3 -4l3 -4l-4 -5l1 -5l-4 -5l2 -6l-4 -5M286 566l-6 -2M859 681l1 -6l-3 -5l-1 -4l-5 -4l1 -5l-5 -3l0 -6l-4 -2l4 -5l-5 -2l1 -6l-5 -3l-1 -6M248 624l0 -4l-1 -5l2 -6l-2 -6l5 -3l1 -5l4 -3l-1 -5l6 -3l-4 -2l1 -6l-2 -5M248 620l6 -2M818 681l-5 1l-1 5l-3 3l-4 4l-6 1l-1 6M713 591l-2 6l1 6l-2 5l-1 4l-5 4l-2 6l-5 1l-1 6l-6 0l-3 6l-6 2l-2 5M528 583l-4 3l-1 5l-4 2l2 6l-4 5l2 5M886 689l-1 5l4 4l-1 5l5 3l-3 6l5 3l1 4l5 3l0 6l5 2" stroke="#ee9432" stroke-width="3"/></g>
<g fill="none" stroke-linecap="round" stroke-linejoin="round"><path d="M860 679l-3 4l1 6l-1 5l6 3l0 5l4 4l-4 5l1 5l-4 4M867 706l5 4M416 582l4 -3l-4 -5l3 -5l-2 -6l2 -6l-4 -4l0 -6l-1 -7M419 569l-6 -2M422 595l1 6l4 3l-3 5l4 3l2 5l6 3l1 4l3 4l-1 6l5 1M470 591l-1 5l5 4l0 4l5 3l0 5l5 2l0 5l6 3M476 564l2 -4l-3 -5l1 -5l-3 -4l3 -4l-3 -4l2 -5M478 560l6 -2M481 577l2 -5l0 -6l2 -4l-4 -5l2 -4l-1 -7l4 -3l-1 -4l4 -3M489 536l6 0M817 663l-2 6l0 5l-4 3l1 5l-2 5l2 6l-3 5l1 7M931 668l-2 -5l-5 -2l-2 -6l-5 -2l-2 -5l-5 0l-2 -4l-5 -2l-2 -5l-6 1M324 603l3 -5l-4 -3l0 -6l-4 -4l1 -7l-3 -4l1 -4M323 595l-6 0M827 674l-5 2l2 6l-3 3l-2 5l-4 4l1 5l-3 5l1 6l-4 5l1 5M816 699l3 5M659 568l-2 5l3 5l-4 4l3 6l0 4l2 4l-2 6l3 4l-3 5l2 4l-1 5l2 5l-2 4M661 615l-6 3M248 622l-1 5l2 5l-5 4l2 6l-2 4l1 6l-4 3l0 6l-4 3l0 6l-3 4l2 5l-2 5l2 5M245 652l-6 3M466 573l1 -5l-3 -4l-1 -4l-5 -3l1 -7l-6 -3M913 657l3 -4l-2 -5l3 -4l-2 -4l4 -4l-3 -5l4 -3l-2 -6M917 644l-6 -3M623 575l-4 1l-1 5l-5 3l1 4l-5 1l1 5l-4 4l3 5M786 633l4 -2l1 -6l2 -4l-4 -4M793 621l6 -1M838 672l-3 5l2 6l-4 3l-1 6l-3 5l-1 4l-6 1l-2 5l-5 1l0 6l-5 0l-2 4l-6 2l-3 5M799 725l-6 2M582 582l-3 4l1 5l-3 5l1 5l-5 1l1 5M574 607l5 4M463 595l-2 5l3 4l-5 5l1 5l-3 4l3 4M582 560l-1 -6l-6 -1l0 -6l-5 -3l-1 -5l-5 -1l-1 -5l-5 -1l-1 -5l-4 -2l-4 -5M705 594l6 -1l3 -5l5 0l4 -4l6 0l3 -4l5 0l1 -6l7 0l2 -5l6 -1l2 -4M723 584l5 4M951 670l-3 -4l-6 -2l-2 -5l-5 -1l-1 -6l-5 -1l-2 -4l-3 -4M704 585l-3 5l3 4l-3 5l1 6l0 5l3 5l-2 5l5 3l-2 6l2 4l-1 6l4 3l-4 4l5 5l-3 5M705 615l6 2M295 633l-3 4l0 5l-4 4l2 5l-3 4l1 6l-4 4l3 5l-3 5M311 621l1 -6l-6 0l-2 -6l-5 -3l0 -5l-5 -1l0 -5l-4 -3l-2 -5l-5 -2l0 -5l-6 -4l-1 -5l-6 -2M192 634l-2 6l4 4l0 6l6 2l1 5l2 4l0 5l5 2M203 666l-4 4M201 630l-2 5l4 3l-1 6l2 5l-3 5l1 6l-4 3l0 5l-2 5l4 3l-1 5l3 4l-2 5M576 566l-4 4l1 6l-3 3l1 6l-4 4l-1 6l-5 1l-1 5l-3 5l-4 4l-5 1l-1 5M548 611l-6 2M870 657l3 -4l-2 -5l6 -3l-1 -5l4 -3l0 -6l4 -3l-1 -5l4 -4l0 -5l5 -2M959 681l0 5l5 2l-1 5l6 1l1 5l4 2l-1 7l4 4l-1 5M963 693l6 -1M797 650l3 -4l-3 -6l3 -4l0 -5l2 -4l-4 -4l2 -5l-3 -4M797 640l-6 -2M224 645l-2 6l1 4l-2 5l4 5l-2 4l5 2l-3 5M971 651l-1 -5l-6 -1l-1 -5l-5 -3l-1 -5l-6 -1M958 637l-6 2M606 584l-3 5l1 5l-2 5l1 5l-2 6M603 604l-6 1M516 581l1 -4l-2 -5l2 -6l-5 -3l-2 -6l-5 -2l0 -7l-5 -2l0 -6l-4 -3M386 597l5 -2l1 -6l5 -3l0 -6l6 1l1 -6l5 0l1 -4l6 -3l2 -6l6 0l5 -4l4 -1l0 -6M410 571l-4 -5M681 592l-5 4l1 6l-3 5l0 6l-4 3l3 5l-5 1l4 4l-5 5l0 6l-5 4M673 621l-6 0M527 572l2 5l6 0l2 6l5 3l3 4l6 -2l5 5l5 2l0 4l4 2l2 5M567 606l-3 5M728 605l4 -2l0 -4l6 -1l2 -6l4 -2l2 -5l5 -3l1 -6l6 -1l2 -5l7 -2l0 -6M744 590l-3 -6M638 566l-6 1l1 5l-4 4l2 4l-3 4l-2 5l-5 3l-2 6l-3 4l1 5l-4 4l-1 6l-2 5l1 5l-4 3M403 588l1 4l6 1l3 4l5 0l5 5l5 -2l4 3l5 -2l3 4l5 -3l3 4M445 602l6 -2M426 575l5 -3l1 -6l4 -2l1 -5l5 -1l3 -5l5 -2l3 -5l5 3l2 -5l5 2M760 629l-5 2l-2 5l-6 3l-3 4l-5 -3l-4 3l-5 -1l-2 3l-5 -1l-4 2l-6 -2M730 642l3 6M276 621l3 -6l-3 -5l3 -4l-2 -6l3 -5l-2 -5l2 -6l-2 -5l2 -4l-5 -3l3 -4l-5 -1l1 -5M279 615l6 -3M971 665l-1 -6l-2 -4l2 -4l-5 -2l1 -6l-5 -4l2 -4l0 -6M970 651l-6 2M603 567l-2 5l3 5l0 5l5 4l-2 5l3 5l-3 6l5 3l-4 4l5 3l-3 5M250 623l-2 6l3 4l0 6l3 3l1 5l5 4l1 6l5 4l-2 4l4 3l-1 5l5 3l1 5l5 2M273 681l6 0M513 574l2 -6l-1 -5l3 -6l-2 -4l1 -5l-3 -4l2 -6l-3 -4l2 -5l-4 -4M514 529l-6 -1M869 654l1 -4l-2 -6l4 -4l-4 -3l5 -3l-4 -5l3 -4M315 609l-1 5l4 3l-3 4l4 5l1 7l5 2l-2 5l2 5l0 5l4 2l-2 5M314 614l6 0M165 649l-1 5l5 2l-3 5l5 3l1 6l4 1l-1 7M574 557l3 -5l-3 -5l3 -4l-4 -5l4 -5l-3 -4l1 -5l-3 -3l2 -5M857 665l-4 4l3 4l-3 4l3 5l-1 5l4 4l-2 4l4 4l-1 5l5 4l-4 4l5 4l-3 5l2 4l-3 4M861 662l-1 -6l-5 -4l1 -5l-5 -3l0 -6l-4 -3l1 -6l-5 -2M859 687l-2 5l5 2l-3 4l2 4l-1 6l4 3l0 6l2 5l-2 5l3 5l-1 5M866 737l-6 3M444 578l2 -5l-5 -4l3 -5l-4 -4l1 -5l-6 -3l1 -4l-5 -4l3 -6l-4 -4l1 -4M431 544l-6 -1" stroke="#6e3c0a" stroke-width="4.8"/><path d="M860 679l-3 4l1 6l-1 5l6 3l0 5l4 4l-4 5l1 5l-4 4M867 706l5 4M416 582l4 -3l-4 -5l3 -5l-2 -6l2 -6l-4 -4l0 -6l-1 -7M419 569l-6 -2M422 595l1 6l4 3l-3 5l4 3l2 5l6 3l1 4l3 4l-1 6l5 1M470 591l-1 5l5 4l0 4l5 3l0 5l5 2l0 5l6 3M476 564l2 -4l-3 -5l1 -5l-3 -4l3 -4l-3 -4l2 -5M478 560l6 -2M481 577l2 -5l0 -6l2 -4l-4 -5l2 -4l-1 -7l4 -3l-1 -4l4 -3M489 536l6 0M817 663l-2 6l0 5l-4 3l1 5l-2 5l2 6l-3 5l1 7M931 668l-2 -5l-5 -2l-2 -6l-5 -2l-2 -5l-5 0l-2 -4l-5 -2l-2 -5l-6 1M324 603l3 -5l-4 -3l0 -6l-4 -4l1 -7l-3 -4l1 -4M323 595l-6 0M827 674l-5 2l2 6l-3 3l-2 5l-4 4l1 5l-3 5l1 6l-4 5l1 5M816 699l3 5M659 568l-2 5l3 5l-4 4l3 6l0 4l2 4l-2 6l3 4l-3 5l2 4l-1 5l2 5l-2 4M661 615l-6 3M248 622l-1 5l2 5l-5 4l2 6l-2 4l1 6l-4 3l0 6l-4 3l0 6l-3 4l2 5l-2 5l2 5M245 652l-6 3M466 573l1 -5l-3 -4l-1 -4l-5 -3l1 -7l-6 -3M913 657l3 -4l-2 -5l3 -4l-2 -4l4 -4l-3 -5l4 -3l-2 -6M917 644l-6 -3M623 575l-4 1l-1 5l-5 3l1 4l-5 1l1 5l-4 4l3 5M786 633l4 -2l1 -6l2 -4l-4 -4M793 621l6 -1M838 672l-3 5l2 6l-4 3l-1 6l-3 5l-1 4l-6 1l-2 5l-5 1l0 6l-5 0l-2 4l-6 2l-3 5M799 725l-6 2M582 582l-3 4l1 5l-3 5l1 5l-5 1l1 5M574 607l5 4M463 595l-2 5l3 4l-5 5l1 5l-3 4l3 4M582 560l-1 -6l-6 -1l0 -6l-5 -3l-1 -5l-5 -1l-1 -5l-5 -1l-1 -5l-4 -2l-4 -5M705 594l6 -1l3 -5l5 0l4 -4l6 0l3 -4l5 0l1 -6l7 0l2 -5l6 -1l2 -4M723 584l5 4M951 670l-3 -4l-6 -2l-2 -5l-5 -1l-1 -6l-5 -1l-2 -4l-3 -4M704 585l-3 5l3 4l-3 5l1 6l0 5l3 5l-2 5l5 3l-2 6l2 4l-1 6l4 3l-4 4l5 5l-3 5M705 615l6 2M295 633l-3 4l0 5l-4 4l2 5l-3 4l1 6l-4 4l3 5l-3 5M311 621l1 -6l-6 0l-2 -6l-5 -3l0 -5l-5 -1l0 -5l-4 -3l-2 -5l-5 -2l0 -5l-6 -4l-1 -5l-6 -2M192 634l-2 6l4 4l0 6l6 2l1 5l2 4l0 5l5 2M203 666l-4 4M201 630l-2 5l4 3l-1 6l2 5l-3 5l1 6l-4 3l0 5l-2 5l4 3l-1 5l3 4l-2 5M576 566l-4 4l1 6l-3 3l1 6l-4 4l-1 6l-5 1l-1 5l-3 5l-4 4l-5 1l-1 5M548 611l-6 2M870 657l3 -4l-2 -5l6 -3l-1 -5l4 -3l0 -6l4 -3l-1 -5l4 -4l0 -5l5 -2M959 681l0 5l5 2l-1 5l6 1l1 5l4 2l-1 7l4 4l-1 5M963 693l6 -1M797 650l3 -4l-3 -6l3 -4l0 -5l2 -4l-4 -4l2 -5l-3 -4M797 640l-6 -2M224 645l-2 6l1 4l-2 5l4 5l-2 4l5 2l-3 5M971 651l-1 -5l-6 -1l-1 -5l-5 -3l-1 -5l-6 -1M958 637l-6 2M606 584l-3 5l1 5l-2 5l1 5l-2 6M603 604l-6 1M516 581l1 -4l-2 -5l2 -6l-5 -3l-2 -6l-5 -2l0 -7l-5 -2l0 -6l-4 -3M386 597l5 -2l1 -6l5 -3l0 -6l6 1l1 -6l5 0l1 -4l6 -3l2 -6l6 0l5 -4l4 -1l0 -6M410 571l-4 -5M681 592l-5 4l1 6l-3 5l0 6l-4 3l3 5l-5 1l4 4l-5 5l0 6l-5 4M673 621l-6 0M527 572l2 5l6 0l2 6l5 3l3 4l6 -2l5 5l5 2l0 4l4 2l2 5M567 606l-3 5M728 605l4 -2l0 -4l6 -1l2 -6l4 -2l2 -5l5 -3l1 -6l6 -1l2 -5l7 -2l0 -6M744 590l-3 -6M638 566l-6 1l1 5l-4 4l2 4l-3 4l-2 5l-5 3l-2 6l-3 4l1 5l-4 4l-1 6l-2 5l1 5l-4 3M403 588l1 4l6 1l3 4l5 0l5 5l5 -2l4 3l5 -2l3 4l5 -3l3 4M445 602l6 -2M426 575l5 -3l1 -6l4 -2l1 -5l5 -1l3 -5l5 -2l3 -5l5 3l2 -5l5 2M760 629l-5 2l-2 5l-6 3l-3 4l-5 -3l-4 3l-5 -1l-2 3l-5 -1l-4 2l-6 -2M730 642l3 6M276 621l3 -6l-3 -5l3 -4l-2 -6l3 -5l-2 -5l2 -6l-2 -5l2 -4l-5 -3l3 -4l-5 -1l1 -5M279 615l6 -3M971 665l-1 -6l-2 -4l2 -4l-5 -2l1 -6l-5 -4l2 -4l0 -6M970 651l-6 2M603 567l-2 5l3 5l0 5l5 4l-2 5l3 5l-3 6l5 3l-4 4l5 3l-3 5M250 623l-2 6l3 4l0 6l3 3l1 5l5 4l1 6l5 4l-2 4l4 3l-1 5l5 3l1 5l5 2M273 681l6 0M513 574l2 -6l-1 -5l3 -6l-2 -4l1 -5l-3 -4l2 -6l-3 -4l2 -5l-4 -4M514 529l-6 -1M869 654l1 -4l-2 -6l4 -4l-4 -3l5 -3l-4 -5l3 -4M315 609l-1 5l4 3l-3 4l4 5l1 7l5 2l-2 5l2 5l0 5l4 2l-2 5M314 614l6 0M165 649l-1 5l5 2l-3 5l5 3l1 6l4 1l-1 7M574 557l3 -5l-3 -5l3 -4l-4 -5l4 -5l-3 -4l1 -5l-3 -3l2 -5M857 665l-4 4l3 4l-3 4l3 5l-1 5l4 4l-2 4l4 4l-1 5l5 4l-4 4l5 4l-3 5l2 4l-3 4M861 662l-1 -6l-5 -4l1 -5l-5 -3l0 -6l-4 -3l1 -6l-5 -2M859 687l-2 5l5 2l-3 4l2 4l-1 6l4 3l0 6l2 5l-2 5l3 5l-1 5M866 737l-6 3M444 578l2 -5l-5 -4l3 -5l-4 -4l1 -5l-6 -3l1 -4l-5 -4l3 -6l-4 -4l1 -4M431 544l-6 -1" stroke="#ee9432" stroke-width="3"/></g>
<g fill="none" stroke-linecap="round" stroke-linejoin="round"><path d="M792 664l-3 4l2 5l-4 3l1 6l-3 5l2 6M789 668l-6 -1M840 668l6 -3l0 -7l5 -3l2 -5l3 -3l2 -6l4 -3l-1 -6l5 -2l0 -5M144 653l2 5l4 3l-1 6l3 4l0 5l2 4l0 6M153 639l-1 -6l-4 -1l-2 -5l-6 -1l-4 -5M901 672l4 -5l-3 -3l1 -5l-2 -5l3 -4l-2 -4l6 -3l0 -5l6 -3l-3 -5l5 -4l0 -4l5 -1l-3 -6l5 -3M479 568l1 -6l-5 -2l-2 -5l-4 -2l1 -5l-2 -6M939 679l-3 4l1 5l-2 4l2 6l-3 3l4 4l-2 5l-1 6l-4 4l1 5M759 630l5 -2l-1 -7l4 -2l0 -5l5 -3l-1 -5l4 -5l-4 -4l4 -4l-3 -5M584 573l4 1l3 -4l6 0l1 -6l6 -1l3 -4l5 0l5 -4l5 3l4 -4l5 2l3 -4l5 1M270 615l-4 4l3 6l-3 5l1 5l-2 4l4 5l-3 4l2 5l-1 5l6 1l1 6l5 2l1 6M140 652l1 6l4 4l3 5l5 2l1 5l4 3l1 6M808 660l-5 3l-1 5l-5 2l0 7l-5 1l-3 4l-6 1l-4 3l-5 0M173 639l2 6l5 0l-1 7l6 0l2 4l5 2l0 4l5 2M241 612l-1 -6l-4 -4l1 -5l-5 -3l1 -5l-5 -3l1 -6M688 580l5 -4l-3 -5l2 -4l-3 -2l0 -5l-2 -6l3 -5l-3 -3l5 -3l-2 -6M168 651l-4 5l0 4l-5 3l-1 6l-5 2M325 618l1 -5l-5 -2l0 -6l-2 -6l0 -5l-6 -2l-2 -6l-5 -3l1 -5l-5 -1l-3 -4l-6 0M304 598l5 -3l-1 -4l3 -5l-2 -5l2 -6l-4 -3l2 -6l-6 -3M365 592l2 -4l-1 -5l3 -4l-1 -4l3 -4l-2 -5l2 -5l-3 -4l4 -3l1 -4M677 571l3 -4l-2 -5l4 -4l-4 -4l3 -6l-3 -4l3 -5M366 591l3 -5l-2 -5l4 -3l-2 -5l2 -5l1 -5l3 -4l2 -5l5 -2l0 -6l4 -3l-3 -5l2 -5l-4 -4M130 657l2 -4l-4 -2l3 -4M128 651l5 -4M761 613l4 -2l1 -6l6 0l2 -6l5 -1l-1 -4l3 -6M161 648l0 -5l-2 -6l2 -5l-3 -5l3 -4l-2 -5l3 -6l-3 -5l3 -5M870 669l-2 5l0 5l-3 4l-2 5l-5 2l-1 6l-5 3l2 6l-5 4l2 4l-3 5l1 5M610 554l3 -5l-4 -4l1 -5l-3 -4l2 -6l-3 -5l3 -5M204 650l-3 4l0 5l-3 5l-1 5l-3 5l0 6l-3 6l2 5l1 6M145 644l0 -5l-5 -2l-2 -4l-5 -1l-2 -5l-4 -2M749 606l4 -2l1 -6l6 -1l0 -5l6 -2l1 -4l6 -1l1 -6M343 619l3 5l6 -1l2 6l5 0l3 4l5 2M221 620l3 -5l-5 -4l4 -5l-3 -4l0 -5l-5 -4l-1 -5l-4 -2l-2 -6l-5 -3l2 -6l-5 -3M215 593l5 -4M404 590l1 -6l-5 -3l3 -5l-5 -5l4 -5l-4 -5l0 -6l-3 -2l4 -4l-5 -4M231 638l-1 7l4 3l-1 6l4 2l0 6l6 2l0 5l5 1l4 4l5 1l3 4l5 0M315 618l-1 -7l-3 -3l-3 -4l-3 -4l0 -6l-5 -2l1 -6l-3 -5l3 -5l-2 -4l5 -4l-4 -4l3 -4l-4 -4M580 574l-1 -6l-3 -4l0 -5l-5 -4l2 -4l-3 -5l0 -5l-5 -4l0 -6l-6 0l-2 -5l-6 0M190 624l1 -5l-4 -3l4 -6l0 -6l3 -4l-2 -4l3 -4l-2 -6M456 588l3 -5l-5 -4l0 -6l-5 -3l3 -5l-2 -4l2 -4l-2 -6l5 -3l-2 -5l1 -6l-4 -3l1 -6l-2 -4M203 632l2 -5l-4 -4l0 -5l-4 -5l-1 -4l-5 -2l-1 -5l-5 -1l0 -5M733 620l-5 2l-1 4l-6 3l-2 5l-6 0l-2 5l-5 0l-2 6M889 675l-1 5l1 6l-2 5l-1 4l-5 3l-2 5l-6 2l-1 5l-5 4l-3 6M567 570l1 -5l-2 -5l3 -3l-1 -7l3 -3l-2 -5l5 -4l0 -5l5 -1l0 -5l5 -2l2 -7M272 625l2 -5l-3 -4l3 -4l-3 -4l1 -6l-3 -5l1 -5l-5 -3l2 -6l-4 -3l1 -6l-1 -4l-2 -5M356 603l2 -5l-1 -5l3 -5l0 -5l4 -4l1 -5l5 -4l2 -4l4 -5l0 -5l5 -2l4 -4l6 0l2 -5l5 -3M697 587l0 -4l-1 -5l3 -5l-2 -5l4 -5l-1 -5l1 -5l-4 -3l2 -5l-2 -4l2 -4l-5 -2l3 -3M892 686l-3 4l3 5l-3 4l0 5l-6 3l3 5l-6 3l1 7l-4 1l1 6l-3 3l1 5M720 590l5 -2l0 -5l5 -3l-4 -5l5 -4l-1 -5l6 -2M990 657l0 4l5 3l1 5l4 4M886 690l-4 4l-3 4l-5 1l-1 5l-5 2l-1 5l-5 2l1 6l-6 2l1 5l-4 3l-3 6l-6 1M862 713l5 4M782 642l3 -4l-3 -4l3 -5l-4 -3l0 -4l-3 -5l0 -5l-4 -4l0 -5l-5 -3M137 655l-2 5l1 4l-3 3l1 6l-5 2l4 4M206 638l3 -5l-4 -3l4 -4l-3 -5l3 -3l0 -6l3 -3l-2 -5l5 -4l-1 -4l4 -3l-4 -2l1 -4l-1 -5l4 -5M621 556l3 -5l-3 -6l2 -6l-5 -3l2 -5l-6 -3l-1 -6M962 662l2 5l5 1l2 6l6 1l-2 5l4 4l-2 5l6 3l0 5M971 674l-3 5M211 628l0 6l5 0l2 6l4 3l0 4l5 1l-1 6l6 1l0 6l4 1l1 5M658 562l5 -1l-2 -5l5 1l1 -6l4 -4l-1 -4l7 0l0 -5l5 -3l1 -5l4 -2M666 557l-3 -6M827 679l2 7l5 2l-1 4l6 1l1 5l6 2M839 693l-5 4M246 620l0 -6l-4 -3l-1 -6l-5 -3l0 -5l-5 -3l1 -5l-3 -4l0 -5l-4 -3l2 -6M337 609l-3 -6l-6 -1l-2 -6l-6 2l-4 -4l-4 1l-2 -4l-6 0l-4 -4l-6 -2l-2 -5l-5 -1l-3 -4M216 627l-2 5l3 6l-5 2l2 6l-4 2l0 5l-4 3l0 5l-4 3l-1 5M214 646l6 2M137 655l4 -4l-2 -4l1 -5l-3 -4M411 591l2 -5l-4 -4l2 -6l-4 -4l-1 -6l-3 -5l1 -5l-4 -4l2 -4l-4 -4l3 -5l-3 -6l4 -3l-2 -6M782 647l-4 3l0 7l-4 4l2 5l-5 2l1 5l-5 3M683 581l2 -5l-4 -5l4 -4l-4 -4l2 -5l-2 -5l4 -6l-4 -4l-2 -6M746 610l5 -3l1 -6l6 -2l2 -5l6 1l2 -6l6 1l3 -4l6 1" stroke="#2c0a6a" stroke-width="4.8"/><path d="M792 664l-3 4l2 5l-4 3l1 6l-3 5l2 6M789 668l-6 -1M840 668l6 -3l0 -7l5 -3l2 -5l3 -3l2 -6l4 -3l-1 -6l5 -2l0 -5M144 653l2 5l4 3l-1 6l3 4l0 5l2 4l0 6M153 639l-1 -6l-4 -1l-2 -5l-6 -1l-4 -5M901 672l4 -5l-3 -3l1 -5l-2 -5l3 -4l-2 -4l6 -3l0 -5l6 -3l-3 -5l5 -4l0 -4l5 -1l-3 -6l5 -3M479 568l1 -6l-5 -2l-2 -5l-4 -2l1 -5l-2 -6M939 679l-3 4l1 5l-2 4l2 6l-3 3l4 4l-2 5l-1 6l-4 4l1 5M759 630l5 -2l-1 -7l4 -2l0 -5l5 -3l-1 -5l4 -5l-4 -4l4 -4l-3 -5M584 573l4 1l3 -4l6 0l1 -6l6 -1l3 -4l5 0l5 -4l5 3l4 -4l5 2l3 -4l5 1M270 615l-4 4l3 6l-3 5l1 5l-2 4l4 5l-3 4l2 5l-1 5l6 1l1 6l5 2l1 6M140 652l1 6l4 4l3 5l5 2l1 5l4 3l1 6M808 660l-5 3l-1 5l-5 2l0 7l-5 1l-3 4l-6 1l-4 3l-5 0M173 639l2 6l5 0l-1 7l6 0l2 4l5 2l0 4l5 2M241 612l-1 -6l-4 -4l1 -5l-5 -3l1 -5l-5 -3l1 -6M688 580l5 -4l-3 -5l2 -4l-3 -2l0 -5l-2 -6l3 -5l-3 -3l5 -3l-2 -6M168 651l-4 5l0 4l-5 3l-1 6l-5 2M325 618l1 -5l-5 -2l0 -6l-2 -6l0 -5l-6 -2l-2 -6l-5 -3l1 -5l-5 -1l-3 -4l-6 0M304 598l5 -3l-1 -4l3 -5l-2 -5l2 -6l-4 -3l2 -6l-6 -3M365 592l2 -4l-1 -5l3 -4l-1 -4l3 -4l-2 -5l2 -5l-3 -4l4 -3l1 -4M677 571l3 -4l-2 -5l4 -4l-4 -4l3 -6l-3 -4l3 -5M366 591l3 -5l-2 -5l4 -3l-2 -5l2 -5l1 -5l3 -4l2 -5l5 -2l0 -6l4 -3l-3 -5l2 -5l-4 -4M130 657l2 -4l-4 -2l3 -4M128 651l5 -4M761 613l4 -2l1 -6l6 0l2 -6l5 -1l-1 -4l3 -6M161 648l0 -5l-2 -6l2 -5l-3 -5l3 -4l-2 -5l3 -6l-3 -5l3 -5M870 669l-2 5l0 5l-3 4l-2 5l-5 2l-1 6l-5 3l2 6l-5 4l2 4l-3 5l1 5M610 554l3 -5l-4 -4l1 -5l-3 -4l2 -6l-3 -5l3 -5M204 650l-3 4l0 5l-3 5l-1 5l-3 5l0 6l-3 6l2 5l1 6M145 644l0 -5l-5 -2l-2 -4l-5 -1l-2 -5l-4 -2M749 606l4 -2l1 -6l6 -1l0 -5l6 -2l1 -4l6 -1l1 -6M343 619l3 5l6 -1l2 6l5 0l3 4l5 2M221 620l3 -5l-5 -4l4 -5l-3 -4l0 -5l-5 -4l-1 -5l-4 -2l-2 -6l-5 -3l2 -6l-5 -3M215 593l5 -4M404 590l1 -6l-5 -3l3 -5l-5 -5l4 -5l-4 -5l0 -6l-3 -2l4 -4l-5 -4M231 638l-1 7l4 3l-1 6l4 2l0 6l6 2l0 5l5 1l4 4l5 1l3 4l5 0M315 618l-1 -7l-3 -3l-3 -4l-3 -4l0 -6l-5 -2l1 -6l-3 -5l3 -5l-2 -4l5 -4l-4 -4l3 -4l-4 -4M580 574l-1 -6l-3 -4l0 -5l-5 -4l2 -4l-3 -5l0 -5l-5 -4l0 -6l-6 0l-2 -5l-6 0M190 624l1 -5l-4 -3l4 -6l0 -6l3 -4l-2 -4l3 -4l-2 -6M456 588l3 -5l-5 -4l0 -6l-5 -3l3 -5l-2 -4l2 -4l-2 -6l5 -3l-2 -5l1 -6l-4 -3l1 -6l-2 -4M203 632l2 -5l-4 -4l0 -5l-4 -5l-1 -4l-5 -2l-1 -5l-5 -1l0 -5M733 620l-5 2l-1 4l-6 3l-2 5l-6 0l-2 5l-5 0l-2 6M889 675l-1 5l1 6l-2 5l-1 4l-5 3l-2 5l-6 2l-1 5l-5 4l-3 6M567 570l1 -5l-2 -5l3 -3l-1 -7l3 -3l-2 -5l5 -4l0 -5l5 -1l0 -5l5 -2l2 -7M272 625l2 -5l-3 -4l3 -4l-3 -4l1 -6l-3 -5l1 -5l-5 -3l2 -6l-4 -3l1 -6l-1 -4l-2 -5M356 603l2 -5l-1 -5l3 -5l0 -5l4 -4l1 -5l5 -4l2 -4l4 -5l0 -5l5 -2l4 -4l6 0l2 -5l5 -3M697 587l0 -4l-1 -5l3 -5l-2 -5l4 -5l-1 -5l1 -5l-4 -3l2 -5l-2 -4l2 -4l-5 -2l3 -3M892 686l-3 4l3 5l-3 4l0 5l-6 3l3 5l-6 3l1 7l-4 1l1 6l-3 3l1 5M720 590l5 -2l0 -5l5 -3l-4 -5l5 -4l-1 -5l6 -2M990 657l0 4l5 3l1 5l4 4M886 690l-4 4l-3 4l-5 1l-1 5l-5 2l-1 5l-5 2l1 6l-6 2l1 5l-4 3l-3 6l-6 1M862 713l5 4M782 642l3 -4l-3 -4l3 -5l-4 -3l0 -4l-3 -5l0 -5l-4 -4l0 -5l-5 -3M137 655l-2 5l1 4l-3 3l1 6l-5 2l4 4M206 638l3 -5l-4 -3l4 -4l-3 -5l3 -3l0 -6l3 -3l-2 -5l5 -4l-1 -4l4 -3l-4 -2l1 -4l-1 -5l4 -5M621 556l3 -5l-3 -6l2 -6l-5 -3l2 -5l-6 -3l-1 -6M962 662l2 5l5 1l2 6l6 1l-2 5l4 4l-2 5l6 3l0 5M971 674l-3 5M211 628l0 6l5 0l2 6l4 3l0 4l5 1l-1 6l6 1l0 6l4 1l1 5M658 562l5 -1l-2 -5l5 1l1 -6l4 -4l-1 -4l7 0l0 -5l5 -3l1 -5l4 -2M666 557l-3 -6M827 679l2 7l5 2l-1 4l6 1l1 5l6 2M839 693l-5 4M246 620l0 -6l-4 -3l-1 -6l-5 -3l0 -5l-5 -3l1 -5l-3 -4l0 -5l-4 -3l2 -6M337 609l-3 -6l-6 -1l-2 -6l-6 2l-4 -4l-4 1l-2 -4l-6 0l-4 -4l-6 -2l-2 -5l-5 -1l-3 -4M216 627l-2 5l3 6l-5 2l2 6l-4 2l0 5l-4 3l0 5l-4 3l-1 5M214 646l6 2M137 655l4 -4l-2 -4l1 -5l-3 -4M411 591l2 -5l-4 -4l2 -6l-4 -4l-1 -6l-3 -5l1 -5l-4 -4l2 -4l-4 -4l3 -5l-3 -6l4 -3l-2 -6M782 647l-4 3l0 7l-4 4l2 5l-5 2l1 5l-5 3M683 581l2 -5l-4 -5l4 -4l-4 -4l2 -5l-2 -5l4 -6l-4 -4l-2 -6M746 610l5 -3l1 -6l6 -2l2 -5l6 1l2 -6l6 1l3 -4l6 1" stroke="#6a1ed2" stroke-width="3"/></g>
<circle cx="250" cy="183" r="6.6" fill="url(#gP)"/><circle cx="259.5" cy="186.3" r="6.6" fill="url(#gP)"/><circle cx="269.1" cy="189.4" r="6.6" fill="url(#gP)"/><circle cx="278.8" cy="192.2" r="6.6" fill="url(#gP)"/><circle cx="288.5" cy="194.7" r="6.6" fill="url(#gP)"/><circle cx="298.3" cy="196.9" r="6.6" fill="url(#gP)"/><circle cx="308.2" cy="199.2" r="6.6" fill="url(#gP)"/><circle cx="318.1" cy="201.3" r="6.6" fill="url(#gP)"/><circle cx="328.1" cy="202.6" r="6.6" fill="url(#gP)"/><circle cx="338" cy="203" r="6.6" fill="url(#gP)"/><circle cx="348" cy="202.1" r="6.6" fill="url(#gP)"/><circle cx="358" cy="200.5" r="6.6" fill="url(#gP)"/><circle cx="367.9" cy="198.4" r="6.6" fill="url(#gP)"/><circle cx="377.6" cy="195.9" r="6.6" fill="url(#gP)"/><circle cx="387.1" cy="192.5" r="6.6" fill="url(#gP)"/><circle cx="396.7" cy="189.5" r="6.6" fill="url(#gP)"/><circle cx="406.5" cy="186.8" r="6.6" fill="url(#gP)"/><circle cx="416.2" cy="184.3" r="6.6" fill="url(#gP)"/><circle cx="426.1" cy="182.4" r="6.6" fill="url(#gP)"/><circle cx="436" cy="181.5" r="6.6" fill="url(#gP)"/><circle cx="446.1" cy="180.8" r="6.6" fill="url(#gP)"/><circle cx="456.2" cy="180.3" r="6.6" fill="url(#gP)"/><circle cx="466.2" cy="180" r="6.6" fill="url(#gP)"/><circle cx="476.3" cy="180.1" r="6.6" fill="url(#gP)"/><circle cx="486.3" cy="180.3" r="6.6" fill="url(#gP)"/><circle cx="496.4" cy="180.5" r="6.6" fill="url(#gO)"/><circle cx="506.5" cy="180.7" r="6.6" fill="url(#gO)"/><circle cx="516.5" cy="180.9" r="6.6" fill="url(#gO)"/><circle cx="526.6" cy="181" r="6.6" fill="url(#gO)"/><circle cx="536.6" cy="180.9" r="6.6" fill="url(#gO)"/><circle cx="546.7" cy="180.4" r="6.6" fill="url(#gO)"/><circle cx="556.7" cy="179.6" r="6.6" fill="url(#gO)"/><circle cx="566.8" cy="178.9" r="6.6" fill="url(#gO)"/><circle cx="576.8" cy="178.5" r="6.6" fill="url(#gO)"/><circle cx="586.9" cy="178.7" r="6.6" fill="url(#gO)"/><circle cx="597" cy="179.4" r="6.6" fill="url(#gO)"/><circle cx="607.1" cy="180.7" r="6.6" fill="url(#gO)"/><circle cx="616.9" cy="182.4" r="6.6" fill="url(#gO)"/><circle cx="626.2" cy="185.5" r="6.6" fill="url(#gO)"/><circle cx="635.3" cy="190.1" r="6.6" fill="url(#gO)"/><circle cx="644.9" cy="193.2" r="6.6" fill="url(#gO)"/><circle cx="654.7" cy="195.6" r="6.6" fill="url(#gO)"/><circle cx="664.6" cy="197" r="6.6" fill="url(#gO)"/><circle cx="674.6" cy="198.1" r="6.6" fill="url(#gO)"/><circle cx="684.6" cy="199" r="6.6" fill="url(#gO)"/><circle cx="694.7" cy="199.4" r="6.6" fill="url(#gO)"/><circle cx="704.8" cy="199.5" r="6.6" fill="url(#gO)"/><circle cx="714.8" cy="199.5" r="6.6" fill="url(#gO)"/><circle cx="724.9" cy="199.4" r="6.6" fill="url(#gO)"/><circle cx="734.9" cy="199.3" r="6.6" fill="url(#gO)"/><circle cx="745" cy="199" r="6.6" fill="url(#gO)"/>
<circle cx="255" cy="173.5" r="6.6" fill="url(#gP)"/><circle cx="264.9" cy="174.1" r="6.6" fill="url(#gP)"/><circle cx="274.8" cy="174.8" r="6.6" fill="url(#gP)"/><circle cx="284.6" cy="175.5" r="6.6" fill="url(#gP)"/><circle cx="294.5" cy="176.1" r="6.6" fill="url(#gP)"/><circle cx="304.4" cy="176.8" r="6.6" fill="url(#gP)"/><circle cx="314.3" cy="177.4" r="6.6" fill="url(#gP)"/><circle cx="324.2" cy="178" r="6.6" fill="url(#gP)"/><circle cx="334.1" cy="178.6" r="6.6" fill="url(#gP)"/><circle cx="344" cy="179.4" r="6.6" fill="url(#gP)"/><circle cx="353.7" cy="180.5" r="6.6" fill="url(#gP)"/><circle cx="363.4" cy="182.3" r="6.6" fill="url(#gP)"/><circle cx="373.1" cy="184.6" r="6.6" fill="url(#gP)"/><circle cx="382.7" cy="187.1" r="6.6" fill="url(#gP)"/><circle cx="392.4" cy="189.5" r="6.6" fill="url(#gP)"/><circle cx="402.1" cy="191.4" r="6.6" fill="url(#gP)"/><circle cx="411.8" cy="193.4" r="6.6" fill="url(#gP)"/><circle cx="421.5" cy="195.3" r="6.6" fill="url(#gP)"/><circle cx="431.3" cy="196.9" r="6.6" fill="url(#gP)"/><circle cx="441.1" cy="198.1" r="6.6" fill="url(#gP)"/><circle cx="450.9" cy="199.2" r="6.6" fill="url(#gP)"/><circle cx="460.8" cy="200.1" r="6.6" fill="url(#gP)"/><circle cx="470.7" cy="200.8" r="6.6" fill="url(#gP)"/><circle cx="480.6" cy="201" r="6.6" fill="url(#gP)"/><circle cx="490.5" cy="200.6" r="6.6" fill="url(#gP)"/><circle cx="500.4" cy="200.5" r="6.6" fill="url(#gO)"/><circle cx="510.3" cy="200.5" r="6.6" fill="url(#gO)"/><circle cx="520.2" cy="200.5" r="6.6" fill="url(#gO)"/><circle cx="530.1" cy="200.5" r="6.6" fill="url(#gO)"/><circle cx="540" cy="200.5" r="6.6" fill="url(#gO)"/><circle cx="549.9" cy="200.4" r="6.6" fill="url(#gO)"/><circle cx="559.8" cy="200.3" r="6.6" fill="url(#gO)"/><circle cx="569.7" cy="200.2" r="6.6" fill="url(#gO)"/><circle cx="579.6" cy="200" r="6.6" fill="url(#gO)"/><circle cx="589.5" cy="199.6" r="6.6" fill="url(#gO)"/><circle cx="599.5" cy="198.8" r="6.6" fill="url(#gO)"/><circle cx="609.4" cy="197.7" r="6.6" fill="url(#gO)"/><circle cx="619.1" cy="196.2" r="6.6" fill="url(#gO)"/><circle cx="628.3" cy="192.9" r="6.6" fill="url(#gO)"/><circle cx="637.5" cy="189.2" r="6.6" fill="url(#gO)"/><circle cx="647" cy="186.2" r="6.6" fill="url(#gO)"/><circle cx="656.6" cy="183.7" r="6.6" fill="url(#gO)"/><circle cx="666.3" cy="181.7" r="6.6" fill="url(#gO)"/><circle cx="676" cy="179.7" r="6.6" fill="url(#gO)"/><circle cx="685.9" cy="178.1" r="6.6" fill="url(#gO)"/><circle cx="695.7" cy="177.1" r="6.6" fill="url(#gO)"/><circle cx="705.5" cy="177" r="6.6" fill="url(#gO)"/><circle cx="715.4" cy="177.3" r="6.6" fill="url(#gO)"/><circle cx="725.2" cy="178" r="6.6" fill="url(#gO)"/><circle cx="735.1" cy="179.2" r="6.6" fill="url(#gO)"/><circle cx="745" cy="181" r="6.6" fill="url(#gO)"/>
<circle cx="250.4" cy="444.7" r="6.6" fill="url(#gO)"/><circle cx="260" cy="441.4" r="6.6" fill="url(#gO)"/><circle cx="269.7" cy="438.7" r="6.6" fill="url(#gO)"/><circle cx="279.4" cy="437.2" r="6.6" fill="url(#gO)"/><circle cx="289.2" cy="437.1" r="6.6" fill="url(#gO)"/><circle cx="299.1" cy="437.4" r="6.6" fill="url(#gO)"/><circle cx="309" cy="438.1" r="6.6" fill="url(#gO)"/><circle cx="318.9" cy="438.9" r="6.6" fill="url(#gO)"/><circle cx="328.8" cy="439.8" r="6.6" fill="url(#gO)"/><circle cx="338.8" cy="441" r="6.6" fill="url(#gO)"/><circle cx="348.6" cy="442.8" r="6.6" fill="url(#gO)"/><circle cx="358.1" cy="445" r="6.6" fill="url(#gO)"/><circle cx="366.8" cy="449.4" r="6.6" fill="url(#gO)"/><circle cx="375.3" cy="455" r="6.6" fill="url(#gO)"/><circle cx="384.2" cy="459.4" r="6.6" fill="url(#gO)"/><circle cx="393.5" cy="462.9" r="6.6" fill="url(#gO)"/><circle cx="403.1" cy="466.2" r="6.6" fill="url(#gO)"/><circle cx="412.8" cy="468.6" r="6.6" fill="url(#gO)"/><circle cx="422.6" cy="469.4" r="6.6" fill="url(#gO)"/><circle cx="432.4" cy="469.2" r="6.6" fill="url(#gO)"/><circle cx="442.4" cy="468.6" r="6.6" fill="url(#gO)"/><circle cx="452.4" cy="467.7" r="6.6" fill="url(#gO)"/><circle cx="462.2" cy="466.6" r="6.6" fill="url(#gO)"/><circle cx="471.7" cy="463.8" r="6.6" fill="url(#gO)"/><circle cx="481.1" cy="460.3" r="6.6" fill="url(#gO)"/><circle cx="490.7" cy="458.6" r="6.6" fill="url(#gO)"/><circle cx="500.6" cy="457.6" r="6.6" fill="url(#gO)"/><circle cx="510.5" cy="456.9" r="6.6" fill="url(#gO)"/><circle cx="520.5" cy="456.5" r="6.6" fill="url(#gO)"/><circle cx="530.4" cy="456.4" r="6.6" fill="url(#gO)"/><circle cx="540.3" cy="456.7" r="6.6" fill="url(#gO)"/><circle cx="550.3" cy="457.1" r="6.6" fill="url(#gO)"/><circle cx="560.2" cy="457.7" r="6.6" fill="url(#gO)"/><circle cx="570.1" cy="458.4" r="6.6" fill="url(#gO)"/><circle cx="580" cy="459.2" r="6.6" fill="url(#gO)"/><circle cx="589.8" cy="460.4" r="6.6" fill="url(#gO)"/><circle cx="599.7" cy="462" r="6.6" fill="url(#gO)"/><circle cx="609.5" cy="463.6" r="6.6" fill="url(#gO)"/><circle cx="619.3" cy="464.9" r="6.6" fill="url(#gO)"/><circle cx="629.2" cy="465.5" r="6.6" fill="url(#gO)"/><circle cx="639.1" cy="465.4" r="6.6" fill="url(#gO)"/><circle cx="649.1" cy="465.1" r="6.6" fill="url(#gO)"/><circle cx="659.1" cy="464.7" r="6.6" fill="url(#gO)"/><circle cx="669" cy="464.1" r="6.6" fill="url(#gO)"/><circle cx="678.8" cy="463.3" r="6.6" fill="url(#gO)"/><circle cx="688.5" cy="461.9" r="6.6" fill="url(#gO)"/><circle cx="698" cy="458.9" r="6.6" fill="url(#gO)"/><circle cx="707.4" cy="455.2" r="6.6" fill="url(#gO)"/><circle cx="716.4" cy="451.4" r="6.6" fill="url(#gO)"/><circle cx="725.3" cy="447" r="6.6" fill="url(#gO)"/><circle cx="734" cy="442" r="6.6" fill="url(#gO)"/>
<circle cx="260.8" cy="455" r="6.6" fill="url(#gP)"/><circle cx="270.7" cy="458.3" r="6.6" fill="url(#gP)"/><circle cx="280.6" cy="460.7" r="6.6" fill="url(#gP)"/><circle cx="290.5" cy="462.1" r="6.6" fill="url(#gP)"/><circle cx="300.4" cy="462.8" r="6.6" fill="url(#gP)"/><circle cx="310.3" cy="462.7" r="6.6" fill="url(#gP)"/><circle cx="320.6" cy="461.3" r="6.6" fill="url(#gP)"/><circle cx="330.6" cy="459" r="6.6" fill="url(#gP)"/><circle cx="339.7" cy="456" r="6.6" fill="url(#gP)"/><circle cx="347.2" cy="449.3" r="6.6" fill="url(#gP)"/><circle cx="354.4" cy="441.2" r="6.6" fill="url(#gP)"/><circle cx="362.8" cy="437.5" r="6.6" fill="url(#gP)"/><circle cx="372.9" cy="436" r="6.6" fill="url(#gP)"/><circle cx="383.1" cy="435.7" r="6.6" fill="url(#gP)"/><circle cx="393" cy="436.7" r="6.6" fill="url(#gP)"/><circle cx="402.9" cy="438.7" r="6.6" fill="url(#gP)"/><circle cx="412.7" cy="441.1" r="6.6" fill="url(#gP)"/><circle cx="422.5" cy="443.5" r="6.6" fill="url(#gP)"/><circle cx="432.2" cy="446" r="6.6" fill="url(#gP)"/><circle cx="441.9" cy="448.8" r="6.6" fill="url(#gP)"/><circle cx="451.5" cy="451.9" r="6.6" fill="url(#gP)"/><circle cx="461" cy="455" r="6.6" fill="url(#gP)"/><circle cx="470.5" cy="458.4" r="6.6" fill="url(#gP)"/><circle cx="479.9" cy="462.1" r="6.6" fill="url(#gP)"/><circle cx="489.2" cy="465.7" r="6.6" fill="url(#gP)"/><circle cx="498.7" cy="469" r="6.6" fill="url(#gP)"/><circle cx="508.3" cy="472.1" r="6.6" fill="url(#gP)"/><circle cx="518.1" cy="475.3" r="6.6" fill="url(#gP)"/><circle cx="527.8" cy="478.2" r="6.6" fill="url(#gP)"/><circle cx="537.7" cy="480.3" r="6.6" fill="url(#gP)"/><circle cx="547.5" cy="481" r="6.6" fill="url(#gP)"/><circle cx="557.3" cy="479.9" r="6.6" fill="url(#gP)"/><circle cx="567.3" cy="477.6" r="6.6" fill="url(#gP)"/><circle cx="577" cy="474.9" r="6.6" fill="url(#gP)"/><circle cx="586.5" cy="471.9" r="6.6" fill="url(#gP)"/><circle cx="595.9" cy="468.3" r="6.6" fill="url(#gP)"/><circle cx="605.2" cy="464.3" r="6.6" fill="url(#gP)"/><circle cx="614.4" cy="460.2" r="6.6" fill="url(#gP)"/><circle cx="623.4" cy="455.7" r="6.6" fill="url(#gP)"/><circle cx="632.3" cy="450.6" r="6.6" fill="url(#gP)"/><circle cx="641.3" cy="446.5" r="6.6" fill="url(#gP)"/><circle cx="650.9" cy="444" r="6.6" fill="url(#gP)"/><circle cx="660.8" cy="441.8" r="6.6" fill="url(#gP)"/><circle cx="670.9" cy="440.2" r="6.6" fill="url(#gP)"/><circle cx="680.9" cy="439.5" r="6.6" fill="url(#gP)"/><circle cx="690.9" cy="440" r="6.6" fill="url(#gP)"/><circle cx="700.9" cy="441.4" r="6.6" fill="url(#gP)"/><circle cx="710.8" cy="443.5" r="6.6" fill="url(#gP)"/><circle cx="720.5" cy="445.9" r="6.6" fill="url(#gP)"/><circle cx="729.9" cy="449.2" r="6.6" fill="url(#gP)"/><circle cx="739" cy="453.8" r="6.6" fill="url(#gP)"/>
<circle cx="274" cy="728.8" r="6.6" fill="url(#gO)"/><circle cx="284.1" cy="729.5" r="6.6" fill="url(#gO)"/><circle cx="294.1" cy="729.9" r="6.6" fill="url(#gO)"/><circle cx="304.1" cy="730" r="6.6" fill="url(#gO)"/><circle cx="313.9" cy="729.9" r="6.6" fill="url(#gO)"/><circle cx="323.8" cy="728.6" r="6.6" fill="url(#gP)"/><circle cx="333.6" cy="726.4" r="6.6" fill="url(#gO)"/><circle cx="343.3" cy="723.6" r="6.6" fill="url(#gO)"/><circle cx="353" cy="720.6" r="6.6" fill="url(#gO)"/><circle cx="362.6" cy="717.8" r="6.6" fill="url(#gO)"/><circle cx="372" cy="714.3" r="6.6" fill="url(#gO)"/><circle cx="381.4" cy="710.5" r="6.6" fill="url(#gP)"/><circle cx="390.8" cy="706.8" r="6.6" fill="url(#gO)"/><circle cx="400.2" cy="703.7" r="6.6" fill="url(#gP)"/><circle cx="409.9" cy="701.7" r="6.6" fill="url(#gP)"/><circle cx="419.9" cy="700.5" r="6.6" fill="url(#gP)"/><circle cx="430.2" cy="699.6" r="6.6" fill="url(#gP)"/><circle cx="440.5" cy="698.8" r="6.6" fill="url(#gP)"/><circle cx="450.5" cy="697.8" r="6.6" fill="url(#gP)"/><circle cx="460.2" cy="696.4" r="6.6" fill="url(#gP)"/><circle cx="469.1" cy="694.1" r="6.6" fill="url(#gP)"/><circle cx="477.2" cy="688.2" r="6.6" fill="url(#gP)"/><circle cx="485.2" cy="681.3" r="6.6" fill="url(#gP)"/><circle cx="493.9" cy="676.7" r="6.6" fill="url(#gP)"/><circle cx="503.5" cy="673" r="6.6" fill="url(#gP)"/><circle cx="513.3" cy="671.2" r="6.6" fill="url(#gP)"/><circle cx="522.8" cy="672.5" r="6.6" fill="url(#gP)"/><circle cx="532.3" cy="676" r="6.6" fill="url(#gO)"/><circle cx="541.7" cy="680.1" r="6.6" fill="url(#gP)"/><circle cx="551.3" cy="683.6" r="6.6" fill="url(#gP)"/><circle cx="561.1" cy="686" r="6.6" fill="url(#gO)"/><circle cx="571" cy="688.3" r="6.6" fill="url(#gP)"/><circle cx="580.6" cy="690.9" r="6.6" fill="url(#gO)"/><circle cx="589.5" cy="694.5" r="6.6" fill="url(#gO)"/><circle cx="597.7" cy="699.9" r="6.6" fill="url(#gO)"/><circle cx="605.5" cy="706.4" r="6.6" fill="url(#gP)"/><circle cx="613.4" cy="713.1" r="6.6" fill="url(#gO)"/><circle cx="621.5" cy="718.9" r="6.6" fill="url(#gP)"/><circle cx="630.3" cy="723.8" r="6.6" fill="url(#gO)"/><circle cx="639.2" cy="728.3" r="6.6" fill="url(#gP)"/><circle cx="648.5" cy="732.4" r="6.6" fill="url(#gO)"/><circle cx="657.8" cy="735.9" r="6.6" fill="url(#gP)"/><circle cx="667.3" cy="738.8" r="6.6" fill="url(#gP)"/><circle cx="677" cy="741.3" r="6.6" fill="url(#gP)"/><circle cx="686.8" cy="743.7" r="6.6" fill="url(#gP)"/><circle cx="696.4" cy="746.3" r="6.6" fill="url(#gP)"/><circle cx="706" cy="749.2" r="6.6" fill="url(#gO)"/>
<circle cx="264.4" cy="721.6" r="6.6" fill="url(#gP)"/><circle cx="273.6" cy="717.4" r="6.6" fill="url(#gP)"/><circle cx="282.9" cy="713.7" r="6.6" fill="url(#gP)"/><circle cx="292.3" cy="710.8" r="6.6" fill="url(#gP)"/><circle cx="301.9" cy="709" r="6.6" fill="url(#gP)"/><circle cx="311.6" cy="707.5" r="6.6" fill="url(#gP)"/><circle cx="321.5" cy="706.3" r="6.6" fill="url(#gP)"/><circle cx="331.5" cy="705.4" r="6.6" fill="url(#gP)"/><circle cx="341.4" cy="704.9" r="6.6" fill="url(#gP)"/><circle cx="351.4" cy="704.8" r="6.6" fill="url(#gO)"/><circle cx="361.6" cy="704.8" r="6.6" fill="url(#gP)"/><circle cx="371.8" cy="704.8" r="6.6" fill="url(#gP)"/><circle cx="381.8" cy="704.8" r="6.6" fill="url(#gO)"/><circle cx="391.3" cy="704.8" r="6.6" fill="url(#gP)"/><circle cx="399.9" cy="703.1" r="6.6" fill="url(#gO)"/><circle cx="407.9" cy="696.6" r="6.6" fill="url(#gO)"/><circle cx="415.9" cy="689.4" r="6.6" fill="url(#gP)"/><circle cx="424.4" cy="684.1" r="6.6" fill="url(#gO)"/><circle cx="433.2" cy="679.2" r="6.6" fill="url(#gO)"/><circle cx="442.4" cy="675.9" r="6.6" fill="url(#gO)"/><circle cx="451.9" cy="674.2" r="6.6" fill="url(#gP)"/><circle cx="461.7" cy="673" r="6.6" fill="url(#gP)"/><circle cx="471.7" cy="672.1" r="6.6" fill="url(#gO)"/><circle cx="481.7" cy="671" r="6.6" fill="url(#gP)"/><circle cx="491.6" cy="669.8" r="6.6" fill="url(#gP)"/><circle cx="501.4" cy="667.8" r="6.6" fill="url(#gP)"/><circle cx="511.2" cy="665.6" r="6.6" fill="url(#gO)"/><circle cx="521" cy="663.5" r="6.6" fill="url(#gO)"/><circle cx="530.7" cy="662" r="6.6" fill="url(#gP)"/><circle cx="540.4" cy="661.7" r="6.6" fill="url(#gP)"/><circle cx="550.1" cy="663.2" r="6.6" fill="url(#gO)"/><circle cx="559.8" cy="666" r="6.6" fill="url(#gO)"/><circle cx="569.3" cy="669.5" r="6.6" fill="url(#gO)"/><circle cx="578.5" cy="673" r="6.6" fill="url(#gO)"/><circle cx="587.6" cy="677.2" r="6.6" fill="url(#gP)"/><circle cx="596.2" cy="682.1" r="6.6" fill="url(#gP)"/><circle cx="604.2" cy="687.9" r="6.6" fill="url(#gO)"/><circle cx="611.7" cy="694.8" r="6.6" fill="url(#gO)"/><circle cx="619.4" cy="700.9" r="6.6" fill="url(#gP)"/><circle cx="628.1" cy="705" r="6.6" fill="url(#gO)"/><circle cx="637.5" cy="708.1" r="6.6" fill="url(#gP)"/><circle cx="647.2" cy="710.8" r="6.6" fill="url(#gO)"/><circle cx="656.7" cy="713.9" r="6.6" fill="url(#gP)"/><circle cx="665.9" cy="717.6" r="6.6" fill="url(#gO)"/><circle cx="675.1" cy="721.5" r="6.6" fill="url(#gO)"/><circle cx="684.1" cy="725.8" r="6.6" fill="url(#gP)"/><circle cx="692.8" cy="730.5" r="6.6" fill="url(#gP)"/><circle cx="701" cy="736" r="6.6" fill="url(#gO)"/>
<path d="M1425.5 291.5l1 5.5l1.5 -8l1 7.5l1.5 -7.5l1 9.5l1.5 -8l1 4.5l1.5 -1.5l1 4l1 -32l1.5 30l1 -7l1.5 -16.5l1 18.5l1.5 8.5l1 -3l1.5 5.5l1 -5l1 -22.5l1.5 22l1 -5l1.5 4l1 6l1.5 -4l1 -7l1.5 4l1 3.5l1 -0.5l1.5 7l1 -24.5l1.5 23l1 -5l1.5 -2l1 9l1.5 -4l1 0l1 4l1.5 -8.5l1 5l1.5 -24.5l1 24l1.5 -7l1 -2.5l1 2l1.5 4l1 -13l1.5 12.5l1 -5.5l1.5 6.5l1 -4.5l1.5 -5l1 6.5l1 4l1.5 -11.5l1 6l1.5 0.5l1 8l1.5 -2l1 -2l1.5 1l1 1.5l1 -5l1.5 4.5l1 -3l1.5 2l1 -7l1.5 1l1 -0.5l1.5 2l1 -3l1 2.5l1.5 -3.5l1 -4l1.5 4l1 6l1.5 -8.5l1 7.5l1.5 -14l1 11l1 -4l1.5 -2.5l1 5l1.5 10l1 -10.5l1.5 7l1 1l1.5 -3.5l1 -54l1 56.5l1.5 -6l1 2.5l1.5 -4l1 -5l1.5 12l1 0.5l1.5 3l1 -1l1 -21l1.5 15.5l1 -3.5l1.5 14l1 -3l1.5 2l1 0.5l1.5 1l1 -3l1 4.5l1.5 -4.5l1 7.5l1.5 -13l1 11l1.5 1l1 5l1 -3l1.5 -26l1 26.5l1.5 -4.5l1 9l1.5 0.5l1 -13l1.5 14l1 -4.5l1 1l1.5 -3.5l1 3.5l1.5 -3.5l1 -3.5l1.5 7l1 -2l1.5 1l1 -1.5l1 -1.5l1.5 1l1 0.5l1.5 -4.5l1 2l1.5 -4.5l1 -15l1.5 23.5l1 -8l1 4.5l1.5 -21.5l1 19l1.5 -2.5l1 3.5l1.5 -4l1 2.5l1.5 -7.5l1 7l1 -10.5l1.5 6.5l1 2l1.5 -6.5l1 3.5l1.5 5l1 -7l1.5 3l1 -1.5l1 -1.5l1.5 -9l1 14.5l1.5 -8.5l1 7l1.5 -6.5l1 -10.5l1.5 10l1 6l1 -6.5l1.5 2.5l1 -1l1.5 3.5l1 -9l1.5 5.5l1 0.5l1.5 0l1 -3.5l1 8l1.5 -5l1 -2.5l1.5 -10l1 21.5l1.5 -3.5l1 3l1.5 0l1 3.5l1 -8l1.5 10.5l1 -14.5l1.5 17.5l1 -2l1.5 0l1 -5.5l1 9l1.5 -1l1 -2.5l1.5 0.5l1 -5.5l1.5 1.5l1 2.5l1.5 -42.5l1 35.5l1 -4l1.5 8l1 -6l1.5 -8l1 12l1.5 -1l1 -3.5l1.5 4l1 -5l1 8l1.5 -2.5l1 -2.5l1.5 2l1 2.5l1.5 -8.5l1 -7.5l1.5 13l1 -4.5l1 4.5l1.5 1l1 -2l1.5 1.5l1 -1l1.5 -3.5l1 2.5l1.5 1l1 -2l1 6l1.5 -3.5l1 1.5l1.5 0l1 -7l1.5 3.5l1 3l1.5 0.5l1 -2l1 -1l1.5 1.5l1 1l1.5 1.5l1 -9.5l1.5 12.5l1 -2l1.5 2l1 -5l1 5.5l1.5 -3l1 0.5l1.5 -0.5l1 2.5l1.5 -4.5l1 2.5l1.5 -1.5l1 -1.5l1 -1l1.5 -5.5l1 6.5l1.5 -0.5l1 -2l1.5 3.5l1 -3l1 -4.5l1.5 -5l1 10.5l1.5 -22l1 17.5l1.5 -16l1 14.5l1.5 2.5l1 1l1 -2l1.5 -7.5l1 3.5l1.5 -2.5l1 1l1.5 3.5l1 -9.5l1.5 12l1 -5.5l1 2l1.5 -17l1 14.5l1.5 -4.5l1 4.5l1.5 2l1 -8.5l1.5 -10l1 19l1 0.5l1.5 1l1 -4.5l1.5 3l1 -2.5l1.5 6l1 -5l1.5 3l1 -1.5l1 5.5l1.5 -5l1 4.5l1.5 -2l1 1l1.5 2l1 -0.5l1.5 -3l1 -5.5l1 5.5l1.5 0l1 -5l1.5 7.5l1 -2.5l1.5 0.5l1 -3.5l1.5 0l1 -4l1 -3l1.5 5l1 5l1.5 -10l1 8l1.5 -3l1 5.5l1.5 -5.5l1 3l1 -1l1.5 4.5l1 -3.5l1.5 -11l1 8l1.5 7l1 -4.5l1.5 2.5l1 -8.5l1 11.5l1.5 -1.5l1 0l1.5 -4.5l1 9l1.5 -6.5l1 -3.5l1 4.5l1.5 4.5l1 -3.5l1.5 2.5l1 -2l1.5 3.5l1 -3.5l1.5 -6.5l1 11.5l1 3l1.5 -1.5l1 -6.5l1.5 0.5l1 4l1.5 -5.5l1 0l1.5 -7l1 3l1 2l1.5 8l1 -9.5l1.5 5l1 1l1.5 1l1 -28.5l1.5 30l1 -8l1 6l1.5 -8l1 4.5l1.5 -4.5l1 7l1.5 -17l1 15.5l1.5 -1.5l1 2.5l1 -1.5l1.5 -2l1 -0.5l1.5 2l1 -1.5l1.5 5.5l1 -3l1.5 8l1 -5.5l1 3.5l1.5 -2l1 5l1.5 -3.5l1 -0.5l1.5 -3.5l1 12.5l1.5 -13.5l1 15l1 -1l1.5 4l1 -5.5l1.5 3.5l1 -2l1.5 8.5l1 -1.5l1.5 1l1 -0.5l1 -8.5l1.5 8.5l1 -1.5l1.5 -1.5l1 5.5l1.5 -0.5l1 1l1 -1l1.5 3l1 -9l1.5 11l1 -2.5l1.5 0.5l1 3.5l1.5 -0.5L1937.3 352.7l-1.5 -10l-1 5l-1.5 -4l-1 3l-1.5 11.5l-1 31.5l-1.5 -36l-1 7.5l-1 -15l-1.5 7l-1 2l-1.5 -7l-1 3.5l-1.5 -4.5l-1 -2l-1 1l-1.5 -1l-1 -1.5l-1.5 10.5l-1 -11l-1.5 11l-1 -8.5l-1.5 -8.5l-1 -1l-1 1.5l-1.5 0l-1 -4.5l-1.5 15l-1 -14l-1.5 12l-1 2l-1.5 -12.5l-1 8l-1 -3l-1.5 -8l-1 12l-1.5 -15l-1 0l-1.5 5l-1 0.5l-1.5 -10l-1 15.5l-1 -12l-1.5 1.5l-1 2l-1.5 0.5l-1 -5.5l-1.5 18l-1 -16l-1.5 3.5l-1 -3.5l-1 28l-1.5 -26l-1 6l-1.5 -7.5l-1 25l-1.5 4l-1 -23l-1.5 -4l-1 1.5l-1 -1l-1.5 2.5l-1 -0.5l-1.5 14.5l-1 -15.5l-1.5 1.5l-1 -4.5l-1.5 -0.5l-1 5l-1 2l-1.5 -5.5l-1 35l-1.5 -33.5l-1 0.5l-1.5 2.5l-1 -2l-1.5 30.5l-1 -34l-1 -1l-1.5 2.5l-1 -1l-1.5 38l-1 -37l-1.5 1.5l-1 0.5l-1 -5l-1.5 -2l-1 6l-1.5 -2l-1 2l-1.5 -6.5l-1 6.5l-1.5 10.5l-1 28l-1 -48.5l-1.5 2.5l-1 3l-1.5 -4l-1 -4l-1.5 1.5l-1 4l-1.5 -8.5l-1 1.5l-1 0l-1.5 -2l-1 10l-1.5 -7.5l-1 4.5l-1.5 -7l-1 14l-1.5 -7l-1 -2.5l-1 0.5l-1.5 3.5l-1 -5.5l-1.5 9l-1 -5l-1.5 6.5l-1 14l-1.5 -10l-1 -9l-1 0.5l-1.5 -0.5l-1 42l-1.5 -41l-1 2l-1.5 2l-1 3.5l-1.5 -8.5l-1 17.5l-1 -13.5l-1.5 7l-1 -10l-1.5 12l-1 -11.5l-1.5 7l-1 -8l-1.5 10l-1 -8.5l-1 15.5l-1.5 -18.5l-1 6.5l-1.5 19l-1 -26.5l-1.5 -1.5l-1 9l-1.5 -3l-1 -3.5l-1 -4l-1.5 8.5l-1 -2.5l-1.5 53l-1 -57.5l-1.5 -5l-1 1l-1.5 8l-1 -4.5l-1 9.5l-1.5 -9l-1 8.5l-1.5 -8.5l-1 5.5l-1.5 -4.5l-1 1.5l-1 4l-1.5 4.5l-1 -8.5l-1.5 16l-1 -14.5l-1.5 2.5l-1 -1.5l-1.5 5l-1 10l-1 -11l-1.5 -3.5l-1 3.5l-1.5 17l-1 -15.5l-1.5 -4l-1 3l-1.5 -7l-1 8.5l-1 -6l-1.5 5.5l-1 2l-1.5 5l-1 -10l-1.5 -4l-1 -1l-1.5 -1.5l-1 18.5l-1 -13.5l-1.5 -2.5l-1 4.5l-1.5 -7.5l-1 8l-1.5 -5l-1 3.5l-1.5 -1.5l-1 5.5l-1 18.5l-1.5 -3l-1 -10.5l-1.5 -3.5l-1 -6l-1.5 3l-1 -3.5l-1.5 2.5l-1 0.5l-1 0l-1.5 -3.5l-1 8.5l-1.5 -4.5l-1 3l-1.5 0.5l-1 -3.5l-1.5 1l-1 2l-1 5.5l-1.5 12l-1 -26.5l-1.5 3.5l-1 -2l-1.5 34l-1 -22.5l-1.5 -6.5l-1 -3.5l-1 19l-1.5 -20.5l-1 4l-1.5 -1l-1 4.5l-1.5 -4l-1 15.5l-1 -16l-1.5 20.5l-1 -21l-1.5 4l-1 0l-1.5 3l-1 -3.5l-1.5 5.5l-1 -11.5l-1 39l-1.5 -27l-1 -7l-1.5 -5.5l-1 38.5l-1.5 -43.5l-1 4.5l-1.5 2l-1 -4l-1 -3l-1.5 2.5l-1 -1.5l-1.5 -0.5l-1 17l-1.5 8l-1 -24l-1.5 25.5l-1 -25.5l-1 19.5l-1.5 -20l-1 7.5l-1.5 0l-1 4l-1.5 -5l-1 4l-1.5 1l-1 3.5l-1 7.5l-1.5 -6l-1 -9l-1.5 4.5l-1 -3.5l-1.5 4.5l-1 0.5l-1.5 16l-1 -15.5l-1 3l-1.5 -1.5l-1 46l-1.5 -30.5l-1 -11.5l-1.5 -3l-1 7.5l-1.5 2l-1 5.5l-1 5.5l-1.5 -13l-1 -6l-1.5 21l-1 -18.5l-1.5 6.5l-1 -5l-1.5 1.5l-1 -4l-1 8l-1.5 -8.5l-1 4l-1.5 -4l-1 5l-1.5 -4.5l-1 14.5l-1.5 -17.5l-1 45l-1 -45.5l-1.5 2.5l-1 14l-1.5 7l-1 -28.5l-1.5 15.5l-1 -20l-1 5l-1.5 -7l-1 4.5l-1.5 4.5l-1 22.5l-1.5 -31.5l-1 3l-1.5 0l-1 -2.5l-1 -5.5l-1.5 12.5l-1 -12l-1.5 2l-1 -7l-1.5 10.5l-1 -6.5l-1.5 11.5l-1 -9.5l-1 7.5l-1.5 12.5l-1 -8l-1.5 -11l-1 4l-1.5 -7.5l-1 3l-1.5 5.5l-1 -5l-1 -3l-1.5 5.5l-1 9l-1.5 -10.5l-1 -3l-1.5 0l-1 3l-1.5 -4.5l-1 -1.5l-1 3.5l-1.5 8.5l-1 -7l-1.5 -3.5l-1 23l-1.5 -23.5l-1 10.5l-1.5 -4l-1 -5l-1 22.5l-1.5 -18.5l-1 -5.5l-1.5 6l-1 -4.5l-1.5 33l-1 -13l-1.5 20l-1 -15l-1 -5.5l-1.5 -15.5l-1 15.5l-1.5 -15.5l-1 21l-1.5 -15.5l-1 -0.5l-1.5 -6l-1 5l-1 -4.5l-1.5 10l-1 -13.5l-1.5 6.5l-1 -6.5l-1.5 6.5l-1 2l-1 9l-1.5 -16.5l-1 10l-1.5 -5l-1 14.5l-1.5 -15l-1 5.5l-1.5 -5.5l-1 1.5l-1 -1.5l-1.5 5.5l-1 1l-1.5 -3l-1 -5l-1.5 1.5l-1 -3l-1.5 20.5l-1 -17.5l-1 2.5l-1.5 4l-1 -8l-1.5 -2.5l-1 11l-1.5 -10.5l-1 6.5l-1.5 -2l-1 -6l-1 6.5l-1.5 -2.5l-1 7l-1.5 -4.5l-1 -11.5l-1.5 1l-1 2l-1.5 -2l-1 -1Z" fill="#f0aaaa"/>
<path d="M1425.5 286.2l1 3.5l1.5 -12.5l1 6.5l1.5 3l1 0.5l1.5 -4.5l1 -4.5l1.5 -2l1 14l1 -8.5l1.5 7.5l1 -5l1.5 3.5l1 -3.5l1.5 -2.5l1 -6.5l1.5 -1.5l1 6.5l1 0l1.5 -8l1 6.5l1.5 -3.5l1 -1l1.5 -5l1 5l1.5 -6.5l1 2.5l1 -4.5l1.5 3.5l1 -8l1.5 2.5l1 -5.5l1.5 11.5l1 -9l1.5 2l1 -0.5l1 -0.5l1.5 -2l1 2l1.5 -11.5l1 11.5l1.5 -3l1 2l1 -14l1.5 7l1 -10.5l1.5 1l1 4.5l1.5 -7l1 5l1.5 4l1 -5l1 -3.5l1.5 4.5l1 4l1.5 -6l1 1.5l1.5 2l1 -2l1.5 -5l1 13.5l1 -7.5l1.5 3l1 1l1.5 -1.5l1 3.5l1.5 0.5l1 -2.5l1.5 0.5l1 -5.5l1 4.5l1.5 -13.5l1 14.5l1.5 -4l1 -13l1.5 12l1 -1l1.5 -0.5l1 2l1 -6l1.5 5.5l1 -13l1.5 13l1 -3l1.5 3.5l1 -1.5l1.5 3l1 -8l1 8.5l1.5 0l1 0l1.5 1.5l1 -5.5l1.5 4l1 7.5l1.5 -13l1 13l1 -1.5l1.5 -2.5l1 -16.5l1.5 20l1 -1l1.5 -7l1 -1l1.5 8l1 -0.5l1 0.5l1.5 -1.5l1 0.5l1.5 -10l1 7.5l1.5 -5.5l1 9l1 -12.5l1.5 10.5l1 -9l1.5 11.5l1 -16.5l1.5 17l1 1l1.5 -0.5l1 -4.5l1 8l1.5 -7.5l1 4.5l1.5 -12.5l1 9.5l1.5 2l1 3.5l1.5 -3.5l1 1.5l1 -5.5l1.5 8l1 -4.5l1.5 -4.5l1 -1l1.5 11l1 -37.5l1.5 31l1 4l1 4.5l1.5 -23.5l1 26l1.5 -1.5l1 0l1.5 -13.5l1 16.5l1.5 -14.5l1 16.5l1 -12.5l1.5 8.5l1 1.5l1.5 1l1 -4l1.5 -9l1 7l1.5 0.5l1 -5.5l1 -4.5l1.5 3l1 5l1.5 -9l1 10.5l1.5 -5.5l1 -11l1.5 11l1 0.5l1 -3l1.5 -1.5l1 -5.5l1.5 8.5l1 -7.5l1.5 4l1 -0.5l1.5 3l1 -2.5l1 2.5l1.5 -15.5l1 11l1.5 -14l1 17.5l1.5 2.5l1 0.5l1.5 -1l1 -0.5l1 0.5l1.5 2.5l1 -6l1.5 -29.5l1 30.5l1.5 4l1 -3l1 -3.5l1.5 5l1 -3l1.5 3l1 -3.5l1.5 -4.5l1 5.5l1.5 -6.5l1 4.5l1 -18.5l1.5 22l1 -7l1.5 6l1 -8l1.5 3l1 -5.5l1.5 12l1 -13.5l1 11.5l1.5 -5.5l1 6l1.5 -10.5l1 4.5l1.5 3.5l1 -3l1.5 1.5l1 -10l1 11.5l1.5 1l1 -4.5l1.5 6l1 -2l1.5 0l1 -3l1.5 3.5l1 -1l1 0.5l1.5 1.5l1 -9l1.5 8.5l1 3l1.5 -3.5l1 -1l1.5 0.5l1 1.5l1 -9.5l1.5 9l1 -2.5l1.5 4.5l1 -27.5l1.5 23.5l1 -6.5l1.5 9.5l1 -4l1 0.5l1.5 0.5l1 5.5l1.5 -7l1 3.5l1.5 -10.5l1 12l1.5 -2.5l1 2l1 -1l1.5 -1.5l1 0.5l1.5 1.5l1 -2.5l1.5 2l1 -1.5l1 3l1.5 -5.5l1 6l1.5 -12.5l1 11.5l1.5 -5l1 7l1.5 -10l1 9l1 -10l1.5 7.5l1 2l1.5 0l1 2.5l1.5 0.5l1 -17.5l1.5 21l1 -6l1 -2l1.5 -7.5l1 15l1.5 -6l1 2.5l1.5 -7.5l1 10.5l1.5 -3l1 -9l1 9.5l1.5 -0.5l1 -2.5l1.5 1.5l1 -20.5l1.5 18.5l1 0.5l1.5 0l1 -12.5l1 6l1.5 5.5l1 0l1.5 -1.5l1 2.5l1.5 -5.5l1 2l1.5 -6l1 13l1 -7.5l1.5 -0.5l1 4.5l1.5 -5l1 -1.5l1.5 0l1 1.5l1.5 2l1 -11l1 8.5l1.5 -3l1 5.5l1.5 -13l1 5l1.5 -14l1 23l1.5 -3.5l1 5l1 -0.5l1.5 -1l1 -2l1.5 -0.5l1 3.5l1.5 1.5l1 -4.5l1.5 2l1 -3l1 10.5l1.5 -18l1 14.5l1.5 -4l1 8l1.5 -28.5l1 16l1 6l1.5 -6.5l1 8l1.5 1.5l1 -15l1.5 15.5l1 -6.5l1.5 4l1 -13l1 14l1.5 -2l1 -0.5l1.5 -2.5l1 1l1.5 0.5l1 2l1.5 -7.5l1 6.5l1 -8l1.5 11l1 -4l1.5 3l1 -5l1.5 3.5l1 -5l1.5 1.5l1 3l1 -0.5l1.5 -13.5l1 15l1.5 0l1 -2.5l1.5 -2l1 6l1.5 -0.5l1 3l1 -3.5l1.5 0l1 -9.5l1.5 15l1 -5.5l1.5 4.5l1 -7l1.5 5.5l1 -0.5l1 0.5l1.5 1.5l1 -2l1.5 -13l1 15l1.5 -3l1 1.5l1.5 -3l1 2.5l1 -1.5l1.5 -8l1 8l1.5 -1.5l1 -6.5l1.5 8.5l1 -3l1.5 2.5l1 -9l1 9.5l1.5 -8l1 0.5l1.5 -4l1 7.5l1.5 -32l1 32l1 0l1.5 1l1 -7.5l1.5 1.5l1 7l1.5 3.5l1 -6l1.5 4L1937.3 281.3l-1.5 3.5l-1 1l-1.5 -5.5l-1 3l-1.5 -1.5l-1 4.5l-1.5 -5l-1 28.5l-1 -30l-1.5 8l-1 -6l-1.5 5l-1 -9.5l-1.5 8l-1 -6l-1 4.5l-1.5 -2l-1 17.5l-1.5 -20.5l-1 5.5l-1.5 -7l-1 10.5l-1.5 -12l-1 2.5l-1 -2l-1.5 8.5l-1 -7.5l-1.5 6.5l-1 -10l-1.5 9l-1 -3l-1.5 1.5l-1 5l-1 -6.5l-1.5 -2.5l-1 1.5l-1.5 -7l-1 3l-1.5 4l-1 -1.5l-1.5 -3.5l-1 3.5l-1 -5l-1.5 6l-1 -5.5l-1.5 10l-1 -9.5l-1.5 8l-1 -7.5l-1.5 13.5l-1 1l-1 -10l-1.5 4l-1 1.5l-1.5 -6.5l-1 12.5l-1.5 -15l-1 -0.5l-1.5 -1l-1 7l-1 -2.5l-1.5 24.5l-1 -30l-1.5 4.5l-1 -4.5l-1.5 18l-1 -15.5l-1.5 12l-1 -15l-1 9l-1.5 -7l-1 5.5l-1.5 -4l-1 3.5l-1.5 -4l-1 0.5l-1.5 -0.5l-1 -1l-1 1l-1.5 6l-1 -6l-1.5 3l-1 -1.5l-1.5 0l-1 2l-1 3.5l-1.5 -5.5l-1 4.5l-1.5 -5l-1 2l-1.5 -3l-1 5.5l-1.5 3l-1 -1.5l-1 0l-1.5 0l-1 -6l-1.5 2l-1 -2.5l-1.5 3.5l-1 -6l-1.5 14l-1 -16l-1 2l-1.5 2.5l-1 -1l-1.5 0.5l-1 2l-1.5 -9l-1 11.5l-1.5 -9.5l-1 4l-1 -4l-1.5 8l-1 -7l-1.5 1l-1 -2l-1.5 1.5l-1 5l-1.5 -7l-1 -0.5l-1 -3l-1.5 0l-1 7.5l-1.5 -1l-1 12l-1.5 -14l-1 10.5l-1.5 -7l-1 2.5l-1 -2.5l-1.5 4.5l-1 0l-1.5 7.5l-1 -8.5l-1.5 10.5l-1 -9.5l-1.5 5l-1 -3.5l-1 6.5l-1.5 -6l-1 5.5l-1.5 -1.5l-1 3l-1.5 -4.5l-1 4l-1.5 11l-1 -11.5l-1 -5l-1.5 5l-1 -4l-1.5 6.5l-1 -10.5l-1.5 7.5l-1 -4.5l-1.5 8.5l-1 -10l-1 15l-1.5 -7.5l-1 -2l-1.5 -4l-1 5.5l-1.5 -5l-1 7.5l-1 -8l-1.5 9.5l-1 -6l-1.5 -3.5l-1 -5l-1.5 9l-1 -9.5l-1.5 22.5l-1 -21l-1 11.5l-1.5 -16.5l-1 3.5l-1.5 17l-1 -17.5l-1.5 25l-1 -9.5l-1.5 -18l-1 9.5l-1 -9.5l-1.5 5.5l-1 -1l-1.5 -1l-1 -5l-1.5 14l-1 -12.5l-1.5 2l-1 -2.5l-1 2l-1.5 1l-1 5l-1.5 -8.5l-1 0.5l-1.5 0l-1 3l-1.5 0l-1 11.5l-1 -0.5l-1.5 -7.5l-1 0l-1.5 15l-1 -9l-1.5 -1.5l-1 -6l-1.5 11l-1 -11l-1 1l-1.5 -7l-1 24l-1.5 -10l-1 -4.5l-1.5 -4.5l-1 2l-1.5 -2.5l-1 0l-1 -5.5l-1.5 38.5l-1 -37.5l-1.5 13l-1 10l-1.5 -13.5l-1 -5l-1.5 -1.5l-1 -2.5l-1 2.5l-1.5 0l-1 1.5l-1.5 1.5l-1 -4.5l-1.5 -0.5l-1 6.5l-1 -5.5l-1.5 18.5l-1 -10.5l-1.5 -2l-1 -2l-1.5 9.5l-1 -13.5l-1.5 2.5l-1 1.5l-1 -1l-1.5 9l-1 -8l-1.5 -3l-1 9l-1.5 -10l-1 7.5l-1.5 -1l-1 -1l-1 -1l-1.5 4.5l-1 3l-1.5 8l-1 -3.5l-1.5 -2l-1 -2l-1.5 4.5l-1 -3l-1 5.5l-1.5 -1.5l-1 3.5l-1.5 -7l-1 6.5l-1.5 -4.5l-1 3.5l-1.5 2l-1 -1.5l-1 -4.5l-1.5 5l-1 -7l-1.5 1l-1 0l-1.5 17l-1 -22l-1.5 2l-1 -1.5l-1 18.5l-1.5 -17l-1 3.5l-1.5 -11.5l-1 6.5l-1.5 -4.5l-1 9l-1.5 2.5l-1 -1.5l-1 -11l-1.5 5l-1 -0.5l-1.5 3.5l-1 -3.5l-1.5 2.5l-1 3.5l-1.5 -2.5l-1 -4.5l-1 10.5l-1.5 -7l-1 2l-1.5 -9.5l-1 5.5l-1.5 -4l-1 18.5l-1.5 -21l-1 4.5l-1 -6l-1.5 8.5l-1 1l-1.5 10l-1 -15l-1.5 -2.5l-1 -5l-1 10l-1.5 -6l-1 2.5l-1.5 -3.5l-1 2l-1.5 -0.5l-1 7l-1.5 -9l-1 6l-1 2l-1.5 -1.5l-1 -5.5l-1.5 0l-1 -5.5l-1.5 5.5l-1 -6l-1.5 3l-1 5.5l-1 -5l-1.5 -5.5l-1 3.5l-1.5 -2l-1 -0.5l-1.5 -1.5l-1 9.5l-1.5 7l-1 -8.5l-1 2l-1.5 0.5l-1 -7l-1.5 3.5l-1 -4.5l-1.5 4l-1 -1.5l-1.5 13l-1 -11l-1 7l-1.5 -10.5l-1 20l-1.5 -8l-1 -6.5l-1.5 -3l-1 22.5l-1.5 -24l-1 2l-1 -2l-1.5 3.5l-1 -1l-1.5 6l-1 -10l-1.5 6.5l-1 -1.5l-1.5 4.5l-1 -2.5l-1 3.5l-1.5 -6l-1 6.5l-1.5 -3.5l-1 2l-1.5 -4.5l-1 23.5l-1.5 -17l-1 6.5l-1 -5l-1.5 1.5l-1 0l-1.5 8l-1 -6.5l-1.5 5.5l-1 -1.5l-1 9.5l-1.5 -12l-1 4.5l-1.5 -3.5l-1 1l-1.5 -3l-1 5l-1.5 7l-1 3.5l-1 -8l-1.5 1.5l-1 4.5l-1.5 7.5l-1 -11l-1.5 5l-1 5l-1.5 -4l-1 5l-1 -1l-1.5 0l-1 1l-1.5 -6.5l-1 7l-1.5 -1.5l-1 1.5l-1.5 -2.5l-1 5.5l-1 -4l-1.5 4.5l-1 -3l-1.5 4.5l-1 -3l-1.5 3.5l-1 -4.5l-1.5 1l-1 1Z" fill="#8bdd8b"/>
<path d="M1425.8 300V173" stroke="#d9a0a0" stroke-width="1.6"/>
<path d="M1425 299l2 0l2 -0.5l2 -0.5l2 -0.5l2 -0.5l2 -0.5l2 -1l2 -1l2 -1l2 -1l2 -1.5l2 -1.5l2 -1.5l2 -2l2 -1.5l2 -1.5l2 -1.5l2 -1l2 -1.5l2 -1.5l2 -1l2 -1.5l2 -1.5l2 -1.5l2 -1.5l2 -1l2 -1.5l2 -1l2 -1.5l2 -1l2 -1l2 -1l2 -0.5l2 -0.5l2 -0.5l2 -0.5l2 -0.5l2 -0.5l2 -0.5l2 -0.5l2 0l2 -0.5l2 0l2 0l2 0l2 0l2 0l2 0l2 0l2 0.5l2 0l2 0l2 0l2 0l2 0l2 0.5l2 0l2 0l2 0l2 0.5l2 0l2 0l2 0.5l2 0l2 0.5l2 0l2 0.5l2 0l2 0.5l2 0l2 0.5l2 0l2 0.5l2 0l2 0.5l2 0l2 0l2 0.5l2 0l2 0.5l2 0.5l2 0.5l2 0.5l2 0.5l2 1.5l2 1.5l2 1.5l2 1.5l2 1.5l2 1l2 0.5l2 0l2 -0.5l2 0l2 -0.5l2 -1l2 -0.5l2 -1l2 -0.5l2 -1l2 -1l2 -1l2 -1l2 -1.5l2 -1l2 -1l2 -1l2 -0.5l2 0l2 0l2 0l2 0l2 0l2 0l2 0.5l2 0l2 0l2 0l2 0l2 0l2 0l2 0.5l2 0l2 0l2 0l2 0l2 0l2 0l2 0l2 0l2 -0.5l2 0l2 0l2 0l2 -0.5l2 0l2 0l2 0l2 0l2 0l2 0l2 0.5l2 0l2 0l2 0.5l2 0l2 0l2 0.5l2 0l2 0.5l2 0l2 0.5l2 0l2 0.5l2 0l2 0.5l2 0l2 0l2 0.5l2 0l2 0l2 0.5l2 0l2 0l2 0l2 0l2 0l2 0l2 -0.5l2 0l2 -0.5l2 -0.5l2 -0.5l2 0l2 -0.5l2 -0.5l2 -0.5l2 -0.5l2 0l2 -0.5l2 0l2 -0.5l2 0l2 0l2 0l2 0l2 0l2 0l2 0l2 0l2 0.5l2 0l2 0l2 0l2 0.5l2 0l2 0l2 0l2 0.5l2 0l2 0l2 0l2 0l2 0l2 0l2 0l2 0l2 0l2 0l2 -0.5l2 0l2 0l2 0l2 0l2 0l2 -0.5l2 0l2 0l2 0l2 0l2 0l2 0l2 0l2 0l2 0l2 0l2 0l2 0l2 0l2 0l2 0l2 0l2 0l2 0l2 0l2 0.5l2 0l2 0l2 0l2 0l2 0l2 0l2 0l2 0.5l2 0l2 0l2 0l2 0l2 0l2 0.5l2 0l2 0l2 0l2 0l2 0.5l2.5 0" fill="none" stroke="#2ca02c" stroke-width="9" stroke-linejoin="round"/>
<path d="M1425 305l2 1l2 1l2 1l2 1l2 1l2 0.5l2 0.5l2 0l2 0l2 0.5l2 0l2 0l2 0l2 0l2 0.5l2 0l2 0l2 0l2 0l2 0l2 0l2 0l2 0l2 0l2 0l2 0l2 -0.5l2 0l2 0l2 0l2 -0.5l2 0l2 -0.5l2 0l2 0l2 -0.5l2 0l2 -0.5l2 0l2 0l2 -0.5l2 0l2 0l2 -0.5l2 0l2 0l2 -0.5l2 0l2 0l2 -0.5l2 0l2 0l2 0l2 -0.5l2 0l2 0l2 0l2 0l2 0.5l2 1l2 1.5l2 1.5l2 1.5l2 1.5l2 1.5l2 1.5l2 1.5l2 1.5l2 1.5l2 1l2 1l2 0l2 0l2 0l2 -0.5l2 0l2 0l2 -0.5l2 0l2 -0.5l2 0l2 -0.5l2 0l2 -0.5l2 -0.5l2 -0.5l2 -0.5l2 -1l2 -0.5l2 -0.5l2 -1l2 -0.5l2 -1l2 -0.5l2 -1.5l2 -1l2 -1l2 -1l2 -1l2 -0.5l2 -0.5l2 0l2 0l2 0l2 0.5l2 1l2 0.5l2 1l2 1l2 1l2 1l2 0.5l2 1l2 0.5l2 1l2 0l2 0.5l2 0l2 0l2 -0.5l2 -0.5l2 -0.5l2 -1l2 -0.5l2 -0.5l2 -0.5l2 0l2 0l2 0l2 0l2 0.5l2 0l2 0l2 0.5l2 0l2 0l2 0.5l2 0l2 0.5l2 0l2 0.5l2 0l2 0l2 0.5l2 0l2 0l2 0l2 0l2 -0.5l2 0l2 -0.5l2 -1l2 -0.5l2 -0.5l2 -0.5l2 -0.5l2 -0.5l2 -0.5l2 0l2 -0.5l2 0l2 0l2 0l2 -0.5l2 0l2 0l2 -0.5l2 0l2 0l2 0l2 -0.5l2 0l2 0l2 0l2 -0.5l2 0l2 0l2 0l2 0l2 0l2 0l2 -0.5l2 0l2 0l2 0l2 0l2 0l2 0l2 0l2 0l2 0l2 0l2 0.5l2 0l2 0.5l2 0l2 0.5l2 0.5l2 0l2 0.5l2 0.5l2 0.5l2 0.5l2 0l2 0.5l2 0.5l2 0.5l2 0.5l2 0l2 0.5l2 0.5l2 0l2 0.5l2 0l2 0.5l2 0l2 0l2 0l2 0l2 -0.5l2 -0.5l2 -0.5l2 -0.5l2 -1l2 -0.5l2 -0.5l2 -0.5l2 0l2 0l2 0.5l2 0.5l2 0.5l2 1l2 1.5l2 1l2 1.5l2 1l2 1.5l2 1l2 1.5l2 1l2 1l2 1l2 1l2 1l2 1l2 1l2 1l2 1l2 1l2 1l2 1l2 1l2 1l2 1l2.5 1" fill="none" stroke="#d62728" stroke-width="9" stroke-linejoin="round"/>
<path d="M1425.5 303l1.5 0l1 -3.5l1.5 6l1.5 -11.5l1.5 8l1 -12.5l1.5 14.5l1.5 -19l1 26l1.5 -6.5l1.5 13l1 -16.5l1.5 17.5l1.5 9l1.5 7.5l1 -24l1.5 39l1.5 -9l1 11.5l1.5 14l1.5 -4.5l1 10l1.5 -3l1.5 -33l1.5 34.5l1 -42.5l1.5 44.5l1.5 -25l1 26l1.5 -10l1.5 14l1 -19l1.5 10l1.5 -7l1.5 8l1 -19.5l1.5 16l1.5 -25.5l1 19l1.5 -15l1.5 11l1 -2l1.5 -6l1.5 3.5l1.5 10l1 -7l1.5 1l1.5 -2l1 15l1.5 1l1.5 6l1 -4.5l1.5 -0.5l1.5 -4.5l1.5 1.5l1 4l1.5 -2.5l1.5 -15l1 14.5l1.5 2l1.5 2.5l1 6.5l1.5 8.5l1.5 -9l1.5 18.5l1 -24l1.5 32l1.5 5.5l1 -17l1.5 -1l1.5 1l1 14l1.5 4l1.5 -2.5l1.5 -11l1 2l1.5 4.5l1.5 -13.5l1 12.5l1.5 -5.5l1.5 2l1 -15.5l1.5 14.5l1.5 -13l1.5 20l1 1.5l1.5 -4l1.5 -15.5l1 13.5l1.5 -26l1.5 3.5l1 -4l1.5 19l1.5 -14.5l1.5 14.5l1 -13.5l1.5 16l1.5 -29l1 20l1.5 -2l1.5 6l1 -2.5l1.5 5.5l1.5 -2.5l1.5 -13l1 -1l1.5 14l1.5 -20l1 25.5l1.5 -10l1.5 -11.5l1 -4l1.5 17.5l1.5 -4l1.5 -4l1 0l1.5 -20l1.5 36.5l1 -3.5l1.5 -3.5l1.5 8l1 -41l1.5 52l1.5 -27.5l1.5 8.5l1 0.5l1.5 9.5l1.5 9l1 6l1.5 7.5l1.5 4l1.5 -41l1 44l1.5 -6.5l1.5 3l1 -7.5l1.5 10l1.5 -10l1 -6l1.5 3.5l1.5 0l1.5 -39l1 29l1.5 -4l1.5 3.5l1 -9l1.5 0.5l1.5 -23.5l1 27.5l1.5 -10l1.5 1l1.5 -1l1 -1.5l1.5 -9.5l1.5 6.5l1 -47.5l1.5 -9l1.5 35.5l1 -9l1.5 -3l1.5 10.5l1.5 -37l1 12.5l1.5 -15l1.5 30l1 -28.5l1.5 -6.5l1.5 21.5l1 13.5l1.5 -59l1.5 60l1.5 -24l1 35l1.5 -4.5l1.5 6l1 -16l1.5 -13l1.5 14.5l1 15l1.5 -4.5l1.5 -13.5l1.5 -32l1 58l1.5 -5l1.5 -34.5l1 17.5l1.5 16l1.5 6l1 -2l1.5 -31.5l1.5 37.5l1.5 -21l1 12.5l1.5 -11l1.5 5l1 -38l1.5 13.5l1.5 -3.5l1 26l1.5 -23l1.5 31l1.5 -19.5l1 15l1.5 -4l1.5 -3l1 6.5l1.5 6.5l1.5 2.5l1 4.5l1.5 -4.5l1.5 2.5l1.5 -19l1 28.5l1.5 11.5l1.5 -34.5l1 5l1.5 27.5l1.5 -31l1 31.5l1.5 -20.5l1.5 15l1.5 3.5l1 -3l1.5 -2.5l1.5 7.5l1 -49.5l1.5 41l1.5 -14l1 18l1.5 -5l1.5 11l1.5 -10.5l1 9l1.5 0l1.5 8l1 -45l1.5 59.5l1.5 -58l1 63.5l1.5 -8l1.5 11.5l1.5 -41.5l1 33l1.5 -48.5l1.5 34l1 21l1.5 5.5l1.5 -4.5l1 -1l1.5 -2l1.5 -8l1.5 2.5l1 2l1.5 -16l1.5 3.5l1 -32l1.5 23l1.5 -16.5l1.5 -10.5l1 -8l1.5 3l1.5 -3l1 -15.5l1.5 1l1.5 -8l1 20.5l1.5 13.5l1.5 -12.5l1.5 11l1 -21l1.5 16.5l1.5 -0.5l1 7l1.5 4l1.5 -8l1 -8.5l1.5 7l1.5 -0.5l1.5 -3.5l1 -16l1.5 21l1.5 -11l1 -26l1.5 31.5l1.5 6.5l1 -2.5l1.5 14l1.5 -19.5l1.5 -7.5l1 21l1.5 12.5l1.5 -6l1 -1l1.5 -17.5l1.5 24l1 -10.5l1.5 8.5l1.5 -9.5l1.5 16l1 0.5l1.5 -25l1.5 20l1 15.5l1.5 -5l1.5 3l1 -11l1.5 -8l1.5 -44l1.5 47l1 -16.5l1.5 15.5l1.5 -25.5l1 9.5l1.5 1.5l1.5 2l1 8.5l1.5 -3l1.5 -10.5l1.5 10l1 -1.5l1.5 4l1.5 0l1 7.5l1.5 -11.5l1.5 -22l1 5.5l1.5 10.5l1.5 -1.5l1.5 1l1 -5l1.5 5.5l1.5 -17l1 9.5l1.5 -13l1.5 -5l1 8l1.5 10.5l1.5 -34l1.5 32l1 -1l1.5 15l1.5 -15l1 14l1.5 -5.5l1.5 11.5l1 -12l1.5 23l1.5 1l1.5 -5.5l1 11l1.5 11l1.5 -2l1 -10.5l1.5 -7.5l1.5 28l1 -3.5l1.5 -4.5l1.5 6.5l1.5 16.5l1 -22l1.5 21l1.5 -17l1 9l1.5 9.5l1.5 -81.5l1 71l1.5 15l1.5 -26.5l1.5 30l1 -7.5l1.5 8.5l1.5 -9l1 17.5l1.5 -3l1.5 9.5l1 -8l1.5 7.5l1.5 -12.5l1.5 16.5L1937.3 545.8l-1.5 -23l-1.5 5l-1.5 -7.5l-1 20l-1.5 -1l-1.5 -11l-1 5l-1.5 40l-1.5 -42l-1 6l-1.5 -25.5l-1.5 21l-1.5 -27l-1 36.5l-1.5 -31l-1.5 7l-1 3.5l-1.5 -15l-1.5 -6l-1 13.5l-1.5 -25l-1.5 4.5l-1.5 -11.5l-1 26l-1.5 -13l-1.5 -13.5l-1 -31l-1.5 -4l-1.5 2l-1 -9.5l-1.5 -13l-1.5 16.5l-1.5 -25l-1 10l-1.5 -11l-1.5 8.5l-1 -6l-1.5 11l-1.5 -6.5l-1 4.5l-1.5 27.5l-1.5 -32l-1.5 -1.5l-1 8l-1.5 -12.5l-1.5 25.5l-1 -22l-1.5 11l-1.5 -5l-1 11l-1.5 -2.5l-1.5 20l-1.5 3l-1 -5.5l-1.5 -14.5l-1.5 50l-1 -28.5l-1.5 9l-1.5 -23l-1 24l-1.5 5l-1.5 6.5l-1.5 -27.5l-1 2.5l-1.5 -4l-1.5 10.5l-1 -14l-1.5 117l-1.5 -86l-1 -10l-1.5 -17.5l-1.5 21.5l-1.5 -3.5l-1 -13l-1.5 -6l-1.5 15l-1 -19.5l-1.5 2.5l-1.5 1.5l-1 0l-1.5 19.5l-1.5 -5.5l-1.5 -32.5l-1 2.5l-1.5 -11l-1.5 18l-1 -18l-1.5 30.5l-1.5 -23l-1 -5l-1.5 8l-1.5 5.5l-1.5 -25.5l-1 7l-1.5 -4.5l-1.5 13l-1 -13.5l-1.5 1.5l-1.5 2.5l-1 23.5l-1.5 -22l-1.5 15.5l-1.5 -15.5l-1 5.5l-1.5 3l-1.5 36.5l-1 -24l-1.5 28l-1.5 -53.5l-1 13l-1.5 -10.5l-1.5 0.5l-1.5 -6.5l-1 79l-1.5 -80l-1.5 9l-1 -5.5l-1.5 4l-1.5 -0.5l-1 11l-1.5 6l-1.5 5.5l-1.5 0.5l-1 20.5l-1.5 -7l-1.5 31.5l-1 -17.5l-1.5 0.5l-1.5 -10.5l-1.5 67l-1 -56.5l-1.5 9.5l-1.5 46l-1 -44.5l-1.5 -13.5l-1.5 18l-1 -21.5l-1.5 48.5l-1.5 -57l-1.5 13l-1 15l-1.5 -11l-1.5 72l-1 -57.5l-1.5 -26l-1.5 28l-1 -22.5l-1.5 23.5l-1.5 -30l-1.5 77.5l-1 -72.5l-1.5 16.5l-1.5 -19.5l-1 58.5l-1.5 -66.5l-1.5 51l-1 -20.5l-1.5 -27.5l-1.5 -17l-1.5 26l-1 -32l-1.5 6.5l-1.5 -7.5l-1 16l-1.5 18l-1.5 -32l-1 -17.5l-1.5 14l-1.5 8.5l-1.5 -7.5l-1 -14l-1.5 39.5l-1.5 -23.5l-1 -6l-1.5 -4l-1.5 69l-1 -73l-1.5 9.5l-1.5 -9.5l-1.5 77l-1 -84.5l-1.5 29.5l-1.5 -33.5l-1 17l-1.5 -21.5l-1.5 11.5l-1 -12l-1.5 15l-1.5 -2l-1.5 -1.5l-1 -4l-1.5 11l-1.5 -10.5l-1 6.5l-1.5 4.5l-1.5 22l-1 -31l-1.5 14.5l-1.5 0.5l-1.5 15l-1 -10l-1.5 27.5l-1.5 4.5l-1 -34.5l-1.5 -15.5l-1.5 14.5l-1 -13l-1.5 5l-1.5 24.5l-1.5 -4l-1 -24.5l-1.5 -0.5l-1.5 75l-1 -75l-1.5 2l-1.5 0l-1 0l-1.5 7l-1.5 -13.5l-1.5 5l-1 85.5l-1.5 -85l-1.5 0.5l-1 10l-1.5 -8l-1.5 15.5l-1 14.5l-1.5 -1l-1.5 -18l-1.5 13l-1 -2l-1.5 20l-1.5 -18l-1 102l-1.5 -87.5l-1.5 20l-1 -21l-1.5 37l-1.5 -37l-1.5 27.5l-1 -18l-1.5 6l-1.5 3.5l-1 2.5l-1.5 8l-1.5 -14l-1 -0.5l-1.5 -11l-1.5 3l-1.5 2.5l-1 -11.5l-1.5 -13l-1.5 -2.5l-1 13l-1.5 41l-1.5 -57.5l-1.5 20l-1 -30l-1.5 -0.5l-1.5 -12l-1 -2.5l-1.5 -7l-1.5 45l-1 -41.5l-1.5 -1l-1.5 -0.5l-1.5 1.5l-1 4l-1.5 10l-1.5 4.5l-1 -11.5l-1.5 15.5l-1.5 11l-1 0.5l-1.5 13.5l-1.5 -1l-1.5 21.5l-1 -0.5l-1.5 -34.5l-1.5 7l-1 11.5l-1.5 46.5l-1.5 -37l-1 -22.5l-1.5 11l-1.5 6.5l-1.5 -15.5l-1 5.5l-1.5 -9l-1.5 79l-1 -75.5l-1.5 14.5l-1.5 -1.5l-1 -3.5l-1.5 -8l-1.5 9l-1.5 -10.5l-1 57.5l-1.5 -59.5l-1.5 14.5l-1 -15.5l-1.5 122l-1.5 -124l-1 3l-1.5 11.5l-1.5 -6.5l-1.5 -9l-1 16l-1.5 -4l-1.5 10l-1 -30.5l-1.5 10l-1.5 7l-1 1l-1.5 -11l-1.5 34.5l-1.5 -38l-1 8l-1.5 -22l-1.5 20l-1 -22l-1.5 12.5l-1.5 -23.5l-1 11.5l-1.5 -10l-1.5 8.5l-1.5 -11l-1 12.5l-1.5 -23l-1.5 17l-1 26.5l-1.5 -29.5l-1.5 -4.5l-1 8.5l-1.5 6l-1.5 51.5l-1.5 -63.5l-1 6l-1.5 1.5l-1.5 17l-1 -28l-1.5 5l-1.5 1l-1 141l-1.5 -150l-1.5 13l-1.5 -12l-1 13.5l-1.5 -15l-1.5 11.5l-1 -4l-1.5 6l-1.5 -5l-1 21l-1.5 -24l-1.5 18.5l-1.5 -21l-1 3l-1.5 -10l-1.5 4.5l-1 -13.5l-1.5 3l-1.5 -9l-1 -5l-1.5 -17l-1.5 26l-1.5 -27l-1 -5l-1.5 -2l-1.5 33l-1 -36l-1.5 14.5l-1.5 -12.5l-1 -3.5l-1.5 -11l-1.5 -2.5l-1.5 39l-1 -22l-1.5 -15Z" fill="#ddd0ec" fill-opacity="0.95"/>
<path d="M1427 330V255" stroke="#d8c8ea" stroke-width="2"/>
<path d="M1425 319.8l2 2.5l2 2.5l2 3l2 3l2 3l2 3.5l2 3.5l2 4l2 4.5l2 5.5l2 5l2 5l2 5l2 4.5l2 3.5l2 3l2 2l2 2l2 2l2 2l2 1.5l2 1l2 0.5l2 0l2 0l2 0l2 0l2 0l2 -1.5l2 -2l2 -2l2 -1.5l2 -0.5l2 1l2 2l2 2l2 2.5l2 2l2 3l2 3.5l2 3l2 3l2 2.5l2 2l2 1l2 1l2 1l2 1l2 1l2 0.5l2 1l2 0.5l2 0.5l2 0.5l2 0.5l2 1l2 0.5l2 0.5l2 0.5l2 0.5l2 0l2 0.5l2 0l2 0.5l2 -0.5l2 -1.5l2 -1.5l2 -2l2 -2l2 -2l2 -2.5l2 -3l2 -3l2 -3l2 -2.5l2 -0.5l2 0.5l2 1.5l2 2.5l2 3l2 3l2 2.5l2 3l2 3l2 3.5l2 4l2 3l2 3l2 2l2 0.5l2 -0.5l2 -1l2 -1.5l2 -2l2 -2.5l2 -2l2 -2.5l2 -2l2 -2l2 -1.5l2 -1l2 -1l2 -0.5l2 0l2 -0.5l2 -0.5l2 0l2 -0.5l2 -0.5l2 0l2 -0.5l2 -1l2 -0.5l2 -1.5l2 -3l2 -2.5l2 -2.5l2 -1.5l2 -1l2 -0.5l2 -1l2 -1l2 -0.5l2 -1l2 -0.5l2 -1l2 -0.5l2 -0.5l2 -0.5l2 -0.5l2 0l2 -0.5l2 0l2 -0.5l2 0l2 0l2 0l2 1l2 1l2 1.5l2 2l2 2l2 2l2 2l2 2.5l2 2l2 2l2 2l2 1.5l2 2l2 1.5l2 2l2 2.5l2 2l2 2l2 2l2 2l2 2l2 2l2 1.5l2 1.5l2 1l2 1l2 1l2 0l2 0.5l2 -0.5l2 -1l2 -1l2 -1.5l2 -1.5l2 -2l2 -3l2 -4l2 -4l2 -5l2 -4.5l2 -4.5l2 -4l2 -4l2 -3l2 -2l2 -1l2 0l2 0.5l2 1l2 1l2 1.5l2 1.5l2 1.5l2 2l2 2l2 2l2 2l2 2.5l2 2l2 2l2 1.5l2 1.5l2 1.5l2 1.5l2 0.5l2 0.5l2 0.5l2 -0.5l2 -1l2 -1l2 -2l2 -1.5l2 -2l2 -2l2 -2l2 -2l2 -1.5l2 -1l2 -1l2 -0.5l2 -1l2 -1l2 -0.5l2 -1l2 -0.5l2 -0.5l2 -0.5l2 -0.5l2 -0.5l2 0l2 0l2 1l2 1.5l2 2l2 2.5l2 3l2 3.5l2 3l2 3.5l2 4l2 5l2 5.5l2 6l2 6.5l2 6.5l2 6.5l2 6l2 5.5l2 5l2 4l2 4l2 3.5l2 4l2 3l2 3.5l2 3l2 2.5l2 2.5l2.5 3" fill="none" stroke="#9467bd" stroke-width="9" stroke-linejoin="round"/>
<circle cx="107.4" cy="1257.3" r="10" fill="url(#gG)"/><circle cx="87.2" cy="1390.5" r="10.6" fill="url(#gC)"/><circle cx="99.2" cy="1035.5" r="9.6" fill="url(#gT)"/><circle cx="77.7" cy="953.7" r="11" fill="url(#gT)"/><circle cx="50.1" cy="1587.7" r="10.4" fill="url(#gC)"/><circle cx="47.7" cy="1218.2" r="10.1" fill="url(#gG)"/><circle cx="70" cy="1705.8" r="10" fill="url(#gT)"/><circle cx="145.7" cy="1077.2" r="11.1" fill="url(#gG)"/><circle cx="68.4" cy="1094.5" r="10.9" fill="url(#gC)"/><circle cx="152.9" cy="1498.7" r="10.5" fill="url(#gC)"/><circle cx="141.7" cy="1485.9" r="11.5" fill="url(#gT)"/><circle cx="118.6" cy="1344.3" r="10.9" fill="url(#gC)"/><circle cx="43.7" cy="930.2" r="9.8" fill="url(#gT)"/><circle cx="97.4" cy="1535.7" r="10.3" fill="url(#gT)"/><circle cx="134.2" cy="1030.7" r="11.2" fill="url(#gT)"/><circle cx="97.2" cy="1501.5" r="11.5" fill="url(#gC)"/><circle cx="91.5" cy="1511" r="11.2" fill="url(#gT)"/><circle cx="128.5" cy="1427.9" r="10.4" fill="url(#gT)"/><circle cx="95.6" cy="865.6" r="10.8" fill="url(#gT)"/><circle cx="41.4" cy="983.6" r="10.3" fill="url(#gT)"/><circle cx="62.2" cy="1299" r="10.7" fill="url(#gC)"/><circle cx="78" cy="1047.3" r="10.5" fill="url(#gG)"/><circle cx="125.3" cy="1597.9" r="11.3" fill="url(#gC)"/><circle cx="97.5" cy="889.6" r="10.6" fill="url(#gG)"/><circle cx="145.6" cy="864.7" r="10.3" fill="url(#gC)"/><circle cx="28.2" cy="1016.3" r="11.2" fill="url(#gG)"/><circle cx="54.5" cy="966.5" r="9.8" fill="url(#gC)"/><circle cx="87.1" cy="1374.1" r="10.8" fill="url(#gC)"/><circle cx="72.8" cy="1125.7" r="11.4" fill="url(#gT)"/><circle cx="37.4" cy="1255" r="10.8" fill="url(#gT)"/><circle cx="63.6" cy="1667.9" r="10.8" fill="url(#gG)"/><circle cx="61.3" cy="1702.5" r="9.5" fill="url(#gT)"/><circle cx="113.6" cy="1356.2" r="11.3" fill="url(#gT)"/><circle cx="146.1" cy="1072.3" r="10.4" fill="url(#gG)"/><circle cx="100.6" cy="888.5" r="11.4" fill="url(#gC)"/><circle cx="79.5" cy="1651.3" r="9.9" fill="url(#gC)"/><circle cx="145.2" cy="1451.5" r="10.2" fill="url(#gC)"/><circle cx="84.1" cy="884.5" r="11.3" fill="url(#gT)"/><circle cx="24.6" cy="1030.9" r="10.4" fill="url(#gT)"/><circle cx="135.1" cy="1095.9" r="9.9" fill="url(#gT)"/><circle cx="143.8" cy="1027.5" r="10.7" fill="url(#gT)"/><circle cx="71.5" cy="1312.3" r="10.8" fill="url(#gG)"/><circle cx="79.4" cy="1612.3" r="10.5" fill="url(#gC)"/><circle cx="137.7" cy="1518.9" r="10.7" fill="url(#gT)"/><circle cx="47" cy="1632.9" r="10.1" fill="url(#gG)"/><circle cx="63" cy="1541.1" r="10.6" fill="url(#gG)"/><circle cx="78.8" cy="895.7" r="10.9" fill="url(#gC)"/><circle cx="155.8" cy="1158.3" r="9.9" fill="url(#gT)"/><circle cx="152.8" cy="1590.5" r="10" fill="url(#gC)"/><circle cx="132.2" cy="1132.3" r="10.1" fill="url(#gT)"/><circle cx="50.1" cy="1306.2" r="11.1" fill="url(#gG)"/><circle cx="79.4" cy="1523.2" r="11.1" fill="url(#gG)"/><circle cx="56.6" cy="1307.9" r="10.7" fill="url(#gT)"/><circle cx="100.7" cy="909.5" r="11" fill="url(#gT)"/><circle cx="124.2" cy="1655.9" r="10.9" fill="url(#gG)"/><circle cx="69.8" cy="1609.7" r="10.9" fill="url(#gC)"/><circle cx="98.9" cy="1350.8" r="9.5" fill="url(#gC)"/><circle cx="75.1" cy="1025" r="10.5" fill="url(#gG)"/><circle cx="83.4" cy="1180.2" r="11.4" fill="url(#gT)"/><circle cx="78.8" cy="894.3" r="11.3" fill="url(#gG)"/><circle cx="69.6" cy="886.4" r="10.1" fill="url(#gT)"/><circle cx="63.3" cy="1175.4" r="9.5" fill="url(#gG)"/><circle cx="121.5" cy="1063" r="10.7" fill="url(#gC)"/><circle cx="72.9" cy="868.4" r="9.7" fill="url(#gC)"/><circle cx="103.8" cy="1142" r="10.6" fill="url(#gT)"/><circle cx="106.1" cy="996.4" r="9.9" fill="url(#gG)"/><circle cx="71.2" cy="1286.4" r="11.4" fill="url(#gT)"/><circle cx="39.2" cy="1220.6" r="9.8" fill="url(#gT)"/><circle cx="87.7" cy="1006" r="10.8" fill="url(#gT)"/><circle cx="71.1" cy="1520.1" r="10.1" fill="url(#gT)"/><circle cx="74.7" cy="1188.5" r="11.4" fill="url(#gT)"/><circle cx="131" cy="935.1" r="10.6" fill="url(#gT)"/><circle cx="99" cy="1595.4" r="10" fill="url(#gG)"/><circle cx="41.3" cy="1454.2" r="9.9" fill="url(#gT)"/><circle cx="136.7" cy="1565" r="10.6" fill="url(#gG)"/><circle cx="95.4" cy="1223.5" r="11.2" fill="url(#gC)"/><circle cx="161.1" cy="1138.4" r="10.7" fill="url(#gT)"/><circle cx="56.1" cy="873.2" r="11" fill="url(#gC)"/><circle cx="108.7" cy="1132.8" r="9.7" fill="url(#gT)"/><circle cx="112.3" cy="1430.1" r="9.7" fill="url(#gC)"/><circle cx="115.4" cy="1224.7" r="9.9" fill="url(#gG)"/><circle cx="131.8" cy="1614.5" r="10.9" fill="url(#gT)"/><circle cx="92.6" cy="1697.2" r="10.9" fill="url(#gT)"/><circle cx="103.7" cy="1252.2" r="10.1" fill="url(#gC)"/><circle cx="72.2" cy="1050" r="11.2" fill="url(#gT)"/><circle cx="37.6" cy="1238.5" r="11.3" fill="url(#gC)"/><circle cx="125.6" cy="1558" r="10" fill="url(#gT)"/><circle cx="95.9" cy="1458.9" r="9.6" fill="url(#gT)"/><circle cx="114.5" cy="1306.8" r="11.3" fill="url(#gT)"/><circle cx="87.4" cy="873.3" r="11" fill="url(#gT)"/><circle cx="63.9" cy="1017.8" r="11.1" fill="url(#gC)"/><circle cx="76.7" cy="919.3" r="10.1" fill="url(#gC)"/><circle cx="102.6" cy="931.5" r="9.8" fill="url(#gT)"/><circle cx="104.6" cy="1358.7" r="10.7" fill="url(#gT)"/><circle cx="19.1" cy="1725.7" r="11.4" fill="url(#gG)"/><circle cx="47.3" cy="1680.8" r="11.2" fill="url(#gT)"/><circle cx="121.9" cy="1377.3" r="10.5" fill="url(#gT)"/><circle cx="109.9" cy="1413.2" r="10.7" fill="url(#gG)"/><circle cx="163.1" cy="998.8" r="11.2" fill="url(#gT)"/><circle cx="83.4" cy="963" r="11" fill="url(#gT)"/><circle cx="88" cy="1144.2" r="10.5" fill="url(#gT)"/><circle cx="117" cy="1496.9" r="9.6" fill="url(#gG)"/><circle cx="71.4" cy="1345.4" r="10.5" fill="url(#gT)"/><circle cx="141.5" cy="1069.9" r="9.7" fill="url(#gC)"/><circle cx="59" cy="1055.2" r="10.9" fill="url(#gT)"/><circle cx="132.5" cy="1610" r="10.1" fill="url(#gT)"/><circle cx="167.1" cy="1303.8" r="11.4" fill="url(#gT)"/><circle cx="153" cy="1258.8" r="9.8" fill="url(#gG)"/><circle cx="83.4" cy="1189.4" r="10.9" fill="url(#gC)"/><circle cx="29.8" cy="1277.3" r="10.7" fill="url(#gT)"/><circle cx="134.1" cy="1445.7" r="9.6" fill="url(#gT)"/><circle cx="76.8" cy="1153.8" r="10.1" fill="url(#gT)"/><circle cx="122.4" cy="1677.9" r="9.6" fill="url(#gT)"/><circle cx="109.6" cy="924.3" r="10.7" fill="url(#gG)"/><circle cx="64.1" cy="968.1" r="11.1" fill="url(#gT)"/><circle cx="59.2" cy="1574.6" r="9.9" fill="url(#gC)"/><circle cx="54" cy="1229.6" r="9.9" fill="url(#gT)"/><circle cx="65.7" cy="1047.9" r="11" fill="url(#gT)"/><circle cx="102.2" cy="1752" r="10.3" fill="url(#gT)"/><circle cx="54.6" cy="1315.2" r="10" fill="url(#gG)"/><circle cx="76.6" cy="1567.6" r="11.1" fill="url(#gT)"/><circle cx="78.5" cy="1513.8" r="11" fill="url(#gT)"/><circle cx="99.1" cy="1249.9" r="10.2" fill="url(#gG)"/><circle cx="81.6" cy="857.5" r="11.5" fill="url(#gC)"/><circle cx="28.9" cy="1760.9" r="11" fill="url(#gT)"/><circle cx="76.3" cy="1511.4" r="10.5" fill="url(#gC)"/><circle cx="129.7" cy="1164.4" r="11.3" fill="url(#gC)"/><circle cx="144" cy="1587.3" r="9.9" fill="url(#gC)"/><circle cx="133.7" cy="1099" r="10.5" fill="url(#gG)"/><circle cx="94.2" cy="920.4" r="11.2" fill="url(#gT)"/><circle cx="98.3" cy="1640.2" r="11.4" fill="url(#gC)"/><circle cx="78.2" cy="1010" r="11" fill="url(#gT)"/><circle cx="103.7" cy="1765.6" r="10.6" fill="url(#gG)"/><circle cx="173.3" cy="1455.6" r="10.1" fill="url(#gC)"/><circle cx="111.8" cy="850" r="10" fill="url(#gT)"/><circle cx="159.3" cy="1044.7" r="10.8" fill="url(#gC)"/><circle cx="18.4" cy="1763.4" r="10" fill="url(#gT)"/><circle cx="65.5" cy="1387" r="9.6" fill="url(#gC)"/><circle cx="53" cy="1605.7" r="10.7" fill="url(#gT)"/><circle cx="147.8" cy="1048.9" r="10" fill="url(#gT)"/><circle cx="41.4" cy="1701.9" r="10.2" fill="url(#gG)"/><circle cx="32.8" cy="1129" r="10.7" fill="url(#gG)"/><circle cx="125.6" cy="1282.2" r="9.9" fill="url(#gT)"/><circle cx="60.1" cy="1219.4" r="10.6" fill="url(#gT)"/><circle cx="106.8" cy="1035.6" r="10" fill="url(#gT)"/><circle cx="144.4" cy="1739.4" r="10.4" fill="url(#gC)"/><circle cx="113.4" cy="1074.5" r="10.2" fill="url(#gC)"/><circle cx="163.4" cy="1484.1" r="11.5" fill="url(#gT)"/><circle cx="84.1" cy="1056.9" r="9.5" fill="url(#gT)"/><circle cx="133.1" cy="1380.4" r="10.6" fill="url(#gC)"/><circle cx="57.8" cy="1385.2" r="10.6" fill="url(#gT)"/><circle cx="142.1" cy="1571.7" r="9.6" fill="url(#gC)"/><circle cx="155.5" cy="1563.7" r="9.9" fill="url(#gT)"/><circle cx="93.1" cy="1404.4" r="11.4" fill="url(#gC)"/><circle cx="92.2" cy="1516.9" r="10.4" fill="url(#gG)"/><circle cx="150.3" cy="1098.3" r="11.4" fill="url(#gT)"/><circle cx="149.9" cy="1261.7" r="10.7" fill="url(#gT)"/><circle cx="53.6" cy="1508.7" r="10.4" fill="url(#gT)"/><circle cx="88.9" cy="1285.7" r="11" fill="url(#gT)"/><circle cx="154" cy="1154.1" r="9.7" fill="url(#gT)"/><circle cx="55.9" cy="1574.9" r="11" fill="url(#gT)"/><circle cx="75.8" cy="1709.5" r="10.5" fill="url(#gT)"/><circle cx="121.6" cy="1134.3" r="10.1" fill="url(#gT)"/><circle cx="175.6" cy="1461.1" r="11" fill="url(#gG)"/><circle cx="40.6" cy="1494.9" r="10.1" fill="url(#gC)"/><circle cx="81.5" cy="931.6" r="10" fill="url(#gT)"/><circle cx="102.1" cy="989.8" r="10.9" fill="url(#gC)"/><circle cx="164.4" cy="1305.6" r="11.4" fill="url(#gG)"/><circle cx="143.6" cy="1227.4" r="11" fill="url(#gT)"/><circle cx="46.5" cy="885.6" r="10.4" fill="url(#gT)"/><circle cx="43.7" cy="1755" r="11.1" fill="url(#gT)"/><circle cx="61.7" cy="1619.7" r="10" fill="url(#gT)"/><circle cx="77.3" cy="981.7" r="9.8" fill="url(#gT)"/><circle cx="104.2" cy="922.7" r="9.6" fill="url(#gT)"/><circle cx="107.6" cy="1032.2" r="9.5" fill="url(#gT)"/><circle cx="65.6" cy="1525.3" r="11" fill="url(#gT)"/><circle cx="72.1" cy="1141.6" r="11.4" fill="url(#gC)"/><circle cx="138.2" cy="1658.4" r="9.7" fill="url(#gC)"/><circle cx="47.5" cy="1340.9" r="9.6" fill="url(#gG)"/><circle cx="61.4" cy="877.7" r="10.8" fill="url(#gT)"/><circle cx="169.1" cy="1018.3" r="11.5" fill="url(#gT)"/><circle cx="86.7" cy="1299.7" r="10.2" fill="url(#gT)"/><circle cx="104.8" cy="904.2" r="9.9" fill="url(#gT)"/><circle cx="51.7" cy="916.8" r="11.4" fill="url(#gT)"/><circle cx="50.5" cy="1462.1" r="10.2" fill="url(#gG)"/><circle cx="133.8" cy="1174.4" r="10.1" fill="url(#gG)"/><circle cx="64.2" cy="1051.3" r="10.3" fill="url(#gT)"/><circle cx="83.6" cy="1137.6" r="11.1" fill="url(#gT)"/><circle cx="77.2" cy="1592.9" r="11.3" fill="url(#gG)"/><circle cx="148.4" cy="1454.9" r="10.2" fill="url(#gG)"/><circle cx="109.2" cy="887.3" r="10.4" fill="url(#gT)"/><circle cx="164.9" cy="1436.7" r="10.8" fill="url(#gC)"/><circle cx="80.6" cy="1094.2" r="11" fill="url(#gT)"/><circle cx="34.1" cy="1695.8" r="11.1" fill="url(#gC)"/><circle cx="143.2" cy="1463.5" r="9.6" fill="url(#gG)"/><circle cx="142.6" cy="1559.1" r="9.5" fill="url(#gG)"/><circle cx="115.5" cy="1281.6" r="11.3" fill="url(#gT)"/><circle cx="42.6" cy="901.3" r="9.5" fill="url(#gT)"/><circle cx="175" cy="1481.7" r="10.6" fill="url(#gT)"/><circle cx="147.9" cy="1220.9" r="10.7" fill="url(#gT)"/><circle cx="159.5" cy="1597.3" r="10.2" fill="url(#gT)"/><circle cx="61" cy="1680.2" r="11.3" fill="url(#gT)"/><circle cx="63.2" cy="1208.2" r="10.2" fill="url(#gT)"/><circle cx="65" cy="989.8" r="11.4" fill="url(#gC)"/><circle cx="77.4" cy="850.6" r="9.8" fill="url(#gG)"/><circle cx="93.9" cy="1114.8" r="9.9" fill="url(#gT)"/><circle cx="109.1" cy="1506.5" r="9.7" fill="url(#gT)"/><circle cx="41.3" cy="888.3" r="10" fill="url(#gT)"/><circle cx="64.2" cy="1410" r="9.8" fill="url(#gT)"/><circle cx="122.9" cy="1331.7" r="10" fill="url(#gT)"/><circle cx="112.9" cy="1725.2" r="10.9" fill="url(#gC)"/><circle cx="33.4" cy="895.4" r="10.4" fill="url(#gT)"/><circle cx="23.8" cy="1710.6" r="10.6" fill="url(#gC)"/><circle cx="78" cy="1465.8" r="11.2" fill="url(#gG)"/><circle cx="113.8" cy="1187.3" r="9.6" fill="url(#gT)"/><circle cx="42.3" cy="1164.2" r="11.3" fill="url(#gT)"/><circle cx="137.1" cy="1063.7" r="11.2" fill="url(#gT)"/><circle cx="26.3" cy="1725.2" r="11.2" fill="url(#gG)"/><circle cx="43.7" cy="1074.5" r="10.3" fill="url(#gG)"/><circle cx="87.2" cy="1398.8" r="11.2" fill="url(#gT)"/><circle cx="55.7" cy="1374.9" r="10.8" fill="url(#gC)"/><circle cx="148.6" cy="886.1" r="11.3" fill="url(#gC)"/><circle cx="31.3" cy="1748.7" r="11.3" fill="url(#gT)"/><circle cx="38.1" cy="1323.4" r="9.6" fill="url(#gT)"/><circle cx="55.2" cy="1492.1" r="11.3" fill="url(#gC)"/><circle cx="109.7" cy="1317.5" r="9.8" fill="url(#gT)"/><circle cx="141.5" cy="1190.2" r="11" fill="url(#gG)"/><circle cx="127.9" cy="936.4" r="11.4" fill="url(#gG)"/><circle cx="119.4" cy="1640.2" r="9.8" fill="url(#gG)"/><circle cx="69.3" cy="1261.5" r="10.8" fill="url(#gT)"/><circle cx="103.1" cy="1465.8" r="10.6" fill="url(#gT)"/><circle cx="159" cy="1083" r="9.9" fill="url(#gT)"/><circle cx="36.7" cy="1515.8" r="11.2" fill="url(#gT)"/><circle cx="87.2" cy="935.6" r="11.2" fill="url(#gT)"/><circle cx="147.5" cy="1565.1" r="9.7" fill="url(#gC)"/><circle cx="71.2" cy="1021.7" r="9.7" fill="url(#gG)"/><circle cx="118.1" cy="1081" r="9.9" fill="url(#gC)"/><circle cx="164" cy="1277.5" r="9.9" fill="url(#gC)"/><circle cx="22.5" cy="1744.6" r="9.9" fill="url(#gT)"/><circle cx="48.9" cy="1164.7" r="10.1" fill="url(#gT)"/><circle cx="78.6" cy="1378.3" r="9.5" fill="url(#gC)"/><circle cx="129.9" cy="1627.8" r="10" fill="url(#gT)"/><circle cx="116.3" cy="916.5" r="9.9" fill="url(#gT)"/><circle cx="50.8" cy="1500" r="9.9" fill="url(#gC)"/><circle cx="65.4" cy="1096.8" r="9.6" fill="url(#gG)"/><circle cx="86" cy="854.8" r="10.9" fill="url(#gG)"/><circle cx="77.9" cy="1157" r="10.6" fill="url(#gT)"/><circle cx="42.9" cy="1643.9" r="9.8" fill="url(#gC)"/><circle cx="132.5" cy="1546.7" r="10.6" fill="url(#gC)"/><circle cx="69.1" cy="1037.4" r="10.5" fill="url(#gG)"/><circle cx="53.3" cy="1645.3" r="9.8" fill="url(#gC)"/><circle cx="144" cy="1612.3" r="10.4" fill="url(#gG)"/><circle cx="58.6" cy="1004.7" r="10.1" fill="url(#gG)"/><circle cx="87.3" cy="954.8" r="9.6" fill="url(#gT)"/><circle cx="45.9" cy="1176" r="9.9" fill="url(#gC)"/><circle cx="111" cy="1588.3" r="11.1" fill="url(#gG)"/><circle cx="81.2" cy="1767.7" r="10.1" fill="url(#gG)"/><circle cx="34.6" cy="1083.7" r="9.7" fill="url(#gG)"/><circle cx="44.8" cy="1216.1" r="10.7" fill="url(#gG)"/><circle cx="135.4" cy="1469.2" r="11.1" fill="url(#gT)"/>
<path d="M75 1037l3 3M120 1017l2 2M120 1017l-3 1M95 1250l-3 2M95 1250l-3 -2M142 1228l2 4M142 1228l-4 3M100 1243l-5 3M100 1243l1 -5M76 1642l3 3M76 1642l-4 1M160 1282l4 -1M77 1566l4 3M77 1566l-4 3M82 1389l2 2M82 1389l-3 1M175 1486l-3 2M146 1234l3 2M146 1234l-3 1M82 1185l1 3M73 1441l1 -3M83 1665l2 5M125 1144l0 4M71 1679l-3 4M71 1679l-2 -5M132 1305l-3 -3M132 1305l3 -3M105 1729l3 -4M105 1729l4 3M127 1103l3 -1M127 1103l-1 3M163 1373l4 -1M158 1414l3 -3M158 1414l2 4M137 1404l-1 -5M137 1404l5 1M109 1420l-3 -1M109 1420l0 -4M138 1362l0 3M138 1362l-3 -2M168 1200l3 -1M140 1428l-4 -1M140 1428l0 -4M111 1354l2 -4M108 1434l3 -4M108 1434l4 2M40 1705l3 2M40 1705l-1 4M160 1154l-3 -3M160 1154l2 -4M158 887l-5 0M142 901l1 -3M80 1398l-1 3M80 1398l-3 -2M79 938l-5 -1M40 1469l2 5M69 1076l-4 -3M69 1076l3 -4M43 953l-1 3M43 953l-3 -2M154 1274l4 -1M114 1088l-1 4M92 1716l1 -4M166 1504l4 2M138 887l2 3M142 1652l4 2M56 1229l-3 3M132 1124l-2 -2M74 998l-2 2M98 1149l2 -4M132 1315l2 -2M132 1315l0 3M90 1346l2 4M42 1619l-5 -1M59 1511l4 1M97 1405l-4 -2M160 1167l-2 -5M52 1320l-1 2M52 1320l-2 -2M139 1312l2 2M84 1019l1 -3M84 1019l2 3M58 1632l-1 2M58 1632l-2 -1M30 1032l0 4M30 1032l-3 2M53 963l-5 -2M123 1752l0 -3M123 1752l3 0M120 1149l0 3M98 884l-1 -4M43 1516l3 -4M95 1339l1 3M95 1339l-3 0M121 1221l0 3M151 1612l1 3M151 1612l-3 0M63 935l5 2M115 1367l0 -5M115 1367l5 -1M111 1737l0 -3M111 1737l3 0M66 1201l-3 -1M138 1367l-2 -2M138 1367l1 -3M95 1614l-3 4M67 1099l1 5M67 1099l-5 0M168 1449l3 2M135 1286l3 4M135 1286l-5 -1M62 1499l3 2M49 1234l-4 1M49 1234l1 -4M112 1061l-4 3M112 1061l0 -5M72 1178l-3 4M72 1178l-5 -1M130 1103l-3 0M75 1079l-5 3M75 1079l-3 -5M67 1556l5 -1M67 1556l1 5M119 1437l-4 0M119 1437l2 -4M98 1256l4 3M98 1256l-1 5M129 1234l-3 3M95 1121l4 3M95 1121l-4 3M103 1189l3 0M103 1189l0 3M100 902l2 -5M100 902l3 4M88 890l-3 0M145 1471l0 -5M145 1471l5 2M82 1384l-3 -3M82 1384l3 -2M131 1592l4 -1M131 1592l3 3M101 1500l-4 0M78 908l1 -2M78 908l1 2M70 1733l-3 -2M74 1131l-3 -4M74 1131l3 -4M96 1018l-4 1M96 1018l2 -3M156 1592l-2 2M153 1315l-4 -3M81 1528l-3 -1M81 1528l3 -2M106 1525l2 -4M106 1525l4 2M103 1686l-3 2M157 1515l2 1M157 1515l-2 2M38 1343l1 4M38 1343l-4 0M53 1702l-2 0M139 854l1 5M139 854l-5 1M67 849l3 -2M65 987l-3 -4M117 1374l2 -2M43 949l-3 2M43 949l-3 -1M20 1061l-1 3M20 1061l-4 -1M130 1080l1 4M130 1080l-4 1M140 1048l2 -2M140 1048l0 3M35 1630l3 0M145 921l0 3M145 921l-3 1M132 881l-1 5M132 881l-5 -1M178 1095l-2 4M178 1095l-2 -4M128 1621l-5 2M31 1674l-3 4M31 1674l-5 0M128 1221l-4 -3M128 1221l5 -2M92 1510l1 -4M92 1510l4 1M136 1564l-3 -2M136 1564l1 -3M72 1184l-3 3M72 1184l-2 -3M65 1266l-5 -3M52 1497l4 3M52 1497l-4 4M159 1002l-4 1M136 931l2 3M136 931l-2 3M155 1416l3 -3M155 1416l3 3M50 1475l3 1M50 1475l-2 3M57 875l1 5M57 875l-5 2M149 950l2 3M116 1028l-2 5M124 1492l0 5M83 1632l2 1M156 1104l-1 2M156 1104l-3 0M109 1377l3 2M131 1654l0 3M131 1654l-2 -1M71 1078l3 1M125 1441l3 4M125 1441l-3 4M70 1761l1 2M70 1761l-1 2M122 1052l-1 2M122 1052l-2 -1M82 1196l-1 -4M82 1196l5 1M124 1388l-1 5M124 1388l-5 0M95 926l-3 -1M95 926l3 -2M87 1610l-3 -2M87 1610l3 -1M126 1678l-1 4M56 1017l-2 -2M56 1017l3 0M130 887l4 3M50 1256l-1 3M50 1256l-3 -1M67 1173l2 2M105 1125l4 -2M105 1125l0 4M38 1706l-3 4M38 1706l-5 -2M118 1316l-3 -2M50 1181l4 -2M121 1187l-2 2M142 1690l-3 2M67 1719l-2 1M67 1719l1 -3M130 1502l1 -3M130 1502l3 1M164 965l3 -2M146 1087l-2 -2M124 1016l2 1M107 1702l3 0M107 1702l-2 2M164 1202l5 1M164 1202l-1 5M64 1585l0 -4M120 1434l1 5M134 1742l2 1M134 1742l-1 3M107 1364l-1 4M39 1420l-2 -3M39 1420l3 -2M109 1494l3 -2M109 1494l4 2M126 1484l-2 4M69 877l0 4M131 1631l-4 -2M131 1631l3 -3M52 1432l2 3M52 1432l-2 3M168 1508l-2 -3M168 1508l4 1M146 1514l0 4M146 1516l0 -4M144 1118l2 3M144 1118l-3 0M42 1668l4 3M42 1668l-1 5M53 1264l-2 -3M53 1264l2 -2M133 1023l3 2M133 1023l-2 3M158 861l-3 2M158 861l-3 -2M158 1548l0 4M148 956l-5 -2M148 956l4 -3M58 1380l-2 4M139 1011l-3 0M87 1460l1 -5M150 1359l3 -1M150 1359l3 2M123 1425l0 3M123 1425l-2 -2M67 1338l2 4M67 1338l-4 2M107 1227l1 3M107 1227l-3 1M131 1160l1 -5M131 1160l5 2M40 1077l3 -5M138 867l3 1M82 1177l-5 -2M82 1177l2 -5M55 1129l3 3M99 1040l3 -1M99 1040l0 3M134 908l-4 -2M91 1432l-5 2M91 1432l-1 -5M94 1409l-2 -2M61 1057l-5 1M61 1057l3 -4M103 1499l0 4M103 1499l-3 -2M124 1074l-5 2M124 1074l-3 -4M107 1082l-3 1M107 1082l-2 -3M173 1243l-3 0M173 1243l1 -3M112 1441l0 -4M126 1140l3 0M82 1486l-1 -4M48 861l-3 -3M98 1193l2 2M98 1193l-1 3M66 885l-3 2M66 884l3 -2M66 884l3 2M100 1642l-1 3M100 1642l-2 -2M92 1650l2 -5M167 1076l-3 -4M167 1076l5 1M107 1465l1 -4M107 1465l3 2M156 1260l5 -1M156 1260l-2 5M135 1134l3 -2M135 1134l2 3M21 1717l5 1M21 1717l1 5M93 1138l2 -4M93 1138l3 4M14 1690l3 5M14 1690l-5 -1M28 1061l-2 -2M100 1180l3 0M108 1361l2 -2M108 1361l0 3M153 1125l5 2M11 1744l-4 3M109 1008l-3 -3M178 1294l-2 -4M178 1294l4 0M100 893l-1 -4M173 1524l5 0M173 1524l0 5M181 1062l-2 2M181 1062l-1 -3M78 1581l2 5M54 925l4 1M54 925l1 4M60 1581l2 3M49 1199l4 -3M49 1199l1 5M30 1663l-2 -2M30 1663l3 0M67 961l-2 2M67 961l-1 -3M47 1533l3 3M72 1286l-3 1M72 1286l0 -3M39 1213l-3 0M39 1213l1 -3M59 1455l-1 -5M59 1455l3 -3M173 1004l5 2M173 1004l-1 5M67 1506l1 -2M67 1506l2 1M163 1570l-4 3M83 1318l4 1M97 908l0 -3M97 908l2 -2M20 1673l3 4M20 1673l-4 3M83 1707l1 -5M83 1707l5 2M121 1717l3 -1M141 1069l-2 -1M141 1069l0 -3M172 1467l3 -2M172 1467l1 4M99 913l0 3M83 1144l3 5M83 1144l-5 1M116 1012l-2 4M116 1012l-3 -4M80 873l-2 -2M80 873l2 -1M131 874l-4 -2M131 874l1 -5M73 1068l0 -3M73 1068l3 2M139 910l4 1M139 910l1 4M96 1311l1 4M96 1311l-2 3M70 1513l3 0M70 1513l2 2M142 852l3 0M146 1564l-3 2M146 1564l-1 -4M68 945l4 3M106 1393l2 -1M106 1393l1 3M151 1259l-2 -4M151 1259l4 2M124 941l0 4M125 911l-4 2M125 911l-1 -5M61 1577l4 -2M61 1577l-1 4M99 1717l-2 -4M64 1226l1 -3M64 1226l2 2M46 1406l-3 -3M46 1406l4 -2M38 849l-5 -2M38 849l1 -5M49 1287l3 -4M49 1287l2 5M28 986l3 1M162 1458l-4 -3M162 1458l3 -4M74 1620l-2 2M71 1375l4 2M71 1375l-3 3M123 1296l2 -2M94 1224l-4 -1M50 1189l-1 3M154 932l-2 2M154 932l-2 -2M57 913l-3 2M57 913l1 -4M140 851l1 4M140 851l-3 -2M122 1011l-5 -2M167 1307l-3 2M167 1307l-3 -2M132 1108l3 -2M132 1108l3 2M64 1257l1 -5M135 1563l1 -4M135 1563l4 1M97 1463l-4 1M97 1463l2 -3M145 1544l-2 -4M145 1544l4 -2M106 1058l2 3M106 1058l-1 3M72 929l-2 5M72 929l-3 -4M129 1609l0 5M129 1609l-5 1M15 1759l2 -3M15 1759l3 2M33 1745l-4 0M33 1745l2 -4M40 1153l-5 1M114 1244l-3 2M54 968l4 0M54 968l0 4M135 1749l-4 -3M90 1446l-2 1M87 1020l3 -2M87 1020l0 4" stroke="#bdbdbd" stroke-width="6.6" fill="none" stroke-linecap="round"/>
<path d="M75 1037l3 3M120 1017l2 2M120 1017l-3 1M95 1250l-3 2M95 1250l-3 -2M142 1228l2 4M142 1228l-4 3M100 1243l-5 3M100 1243l1 -5M76 1642l3 3M76 1642l-4 1M160 1282l4 -1M77 1566l4 3M77 1566l-4 3M82 1389l2 2M82 1389l-3 1M175 1486l-3 2M146 1234l3 2M146 1234l-3 1M82 1185l1 3M73 1441l1 -3M83 1665l2 5M125 1144l0 4M71 1679l-3 4M71 1679l-2 -5M132 1305l-3 -3M132 1305l3 -3M105 1729l3 -4M105 1729l4 3M127 1103l3 -1M127 1103l-1 3M163 1373l4 -1M158 1414l3 -3M158 1414l2 4M137 1404l-1 -5M137 1404l5 1M109 1420l-3 -1M109 1420l0 -4M138 1362l0 3M138 1362l-3 -2M168 1200l3 -1M140 1428l-4 -1M140 1428l0 -4M111 1354l2 -4M108 1434l3 -4M108 1434l4 2M40 1705l3 2M40 1705l-1 4M160 1154l-3 -3M160 1154l2 -4M158 887l-5 0M142 901l1 -3M80 1398l-1 3M80 1398l-3 -2M79 938l-5 -1M40 1469l2 5M69 1076l-4 -3M69 1076l3 -4M43 953l-1 3M43 953l-3 -2M154 1274l4 -1M114 1088l-1 4M92 1716l1 -4M166 1504l4 2M138 887l2 3M142 1652l4 2M56 1229l-3 3M132 1124l-2 -2M74 998l-2 2M98 1149l2 -4M132 1315l2 -2M132 1315l0 3M90 1346l2 4M42 1619l-5 -1M59 1511l4 1M97 1405l-4 -2M160 1167l-2 -5M52 1320l-1 2M52 1320l-2 -2M139 1312l2 2M84 1019l1 -3M84 1019l2 3M58 1632l-1 2M58 1632l-2 -1M30 1032l0 4M30 1032l-3 2M53 963l-5 -2M123 1752l0 -3M123 1752l3 0M120 1149l0 3M98 884l-1 -4M43 1516l3 -4M95 1339l1 3M95 1339l-3 0M121 1221l0 3M151 1612l1 3M151 1612l-3 0M63 935l5 2M115 1367l0 -5M115 1367l5 -1M111 1737l0 -3M111 1737l3 0M66 1201l-3 -1M138 1367l-2 -2M138 1367l1 -3M95 1614l-3 4M67 1099l1 5M67 1099l-5 0M168 1449l3 2M135 1286l3 4M135 1286l-5 -1M62 1499l3 2M49 1234l-4 1M49 1234l1 -4M112 1061l-4 3M112 1061l0 -5M72 1178l-3 4M72 1178l-5 -1M130 1103l-3 0M75 1079l-5 3M75 1079l-3 -5M67 1556l5 -1M67 1556l1 5M119 1437l-4 0M119 1437l2 -4M98 1256l4 3M98 1256l-1 5M129 1234l-3 3M95 1121l4 3M95 1121l-4 3M103 1189l3 0M103 1189l0 3M100 902l2 -5M100 902l3 4M88 890l-3 0M145 1471l0 -5M145 1471l5 2M82 1384l-3 -3M82 1384l3 -2M131 1592l4 -1M131 1592l3 3M101 1500l-4 0M78 908l1 -2M78 908l1 2M70 1733l-3 -2M74 1131l-3 -4M74 1131l3 -4M96 1018l-4 1M96 1018l2 -3M156 1592l-2 2M153 1315l-4 -3M81 1528l-3 -1M81 1528l3 -2M106 1525l2 -4M106 1525l4 2M103 1686l-3 2M157 1515l2 1M157 1515l-2 2M38 1343l1 4M38 1343l-4 0M53 1702l-2 0M139 854l1 5M139 854l-5 1M67 849l3 -2M65 987l-3 -4M117 1374l2 -2M43 949l-3 2M43 949l-3 -1M20 1061l-1 3M20 1061l-4 -1M130 1080l1 4M130 1080l-4 1M140 1048l2 -2M140 1048l0 3M35 1630l3 0M145 921l0 3M145 921l-3 1M132 881l-1 5M132 881l-5 -1M178 1095l-2 4M178 1095l-2 -4M128 1621l-5 2M31 1674l-3 4M31 1674l-5 0M128 1221l-4 -3M128 1221l5 -2M92 1510l1 -4M92 1510l4 1M136 1564l-3 -2M136 1564l1 -3M72 1184l-3 3M72 1184l-2 -3M65 1266l-5 -3M52 1497l4 3M52 1497l-4 4M159 1002l-4 1M136 931l2 3M136 931l-2 3M155 1416l3 -3M155 1416l3 3M50 1475l3 1M50 1475l-2 3M57 875l1 5M57 875l-5 2M149 950l2 3M116 1028l-2 5M124 1492l0 5M83 1632l2 1M156 1104l-1 2M156 1104l-3 0M109 1377l3 2M131 1654l0 3M131 1654l-2 -1M71 1078l3 1M125 1441l3 4M125 1441l-3 4M70 1761l1 2M70 1761l-1 2M122 1052l-1 2M122 1052l-2 -1M82 1196l-1 -4M82 1196l5 1M124 1388l-1 5M124 1388l-5 0M95 926l-3 -1M95 926l3 -2M87 1610l-3 -2M87 1610l3 -1M126 1678l-1 4M56 1017l-2 -2M56 1017l3 0M130 887l4 3M50 1256l-1 3M50 1256l-3 -1M67 1173l2 2M105 1125l4 -2M105 1125l0 4M38 1706l-3 4M38 1706l-5 -2M118 1316l-3 -2M50 1181l4 -2M121 1187l-2 2M142 1690l-3 2M67 1719l-2 1M67 1719l1 -3M130 1502l1 -3M130 1502l3 1M164 965l3 -2M146 1087l-2 -2M124 1016l2 1M107 1702l3 0M107 1702l-2 2M164 1202l5 1M164 1202l-1 5M64 1585l0 -4M120 1434l1 5M134 1742l2 1M134 1742l-1 3M107 1364l-1 4M39 1420l-2 -3M39 1420l3 -2M109 1494l3 -2M109 1494l4 2M126 1484l-2 4M69 877l0 4M131 1631l-4 -2M131 1631l3 -3M52 1432l2 3M52 1432l-2 3M168 1508l-2 -3M168 1508l4 1M146 1514l0 4M146 1516l0 -4M144 1118l2 3M144 1118l-3 0M42 1668l4 3M42 1668l-1 5M53 1264l-2 -3M53 1264l2 -2M133 1023l3 2M133 1023l-2 3M158 861l-3 2M158 861l-3 -2M158 1548l0 4M148 956l-5 -2M148 956l4 -3M58 1380l-2 4M139 1011l-3 0M87 1460l1 -5M150 1359l3 -1M150 1359l3 2M123 1425l0 3M123 1425l-2 -2M67 1338l2 4M67 1338l-4 2M107 1227l1 3M107 1227l-3 1M131 1160l1 -5M131 1160l5 2M40 1077l3 -5M138 867l3 1M82 1177l-5 -2M82 1177l2 -5M55 1129l3 3M99 1040l3 -1M99 1040l0 3M134 908l-4 -2M91 1432l-5 2M91 1432l-1 -5M94 1409l-2 -2M61 1057l-5 1M61 1057l3 -4M103 1499l0 4M103 1499l-3 -2M124 1074l-5 2M124 1074l-3 -4M107 1082l-3 1M107 1082l-2 -3M173 1243l-3 0M173 1243l1 -3M112 1441l0 -4M126 1140l3 0M82 1486l-1 -4M48 861l-3 -3M98 1193l2 2M98 1193l-1 3M66 885l-3 2M66 884l3 -2M66 884l3 2M100 1642l-1 3M100 1642l-2 -2M92 1650l2 -5M167 1076l-3 -4M167 1076l5 1M107 1465l1 -4M107 1465l3 2M156 1260l5 -1M156 1260l-2 5M135 1134l3 -2M135 1134l2 3M21 1717l5 1M21 1717l1 5M93 1138l2 -4M93 1138l3 4M14 1690l3 5M14 1690l-5 -1M28 1061l-2 -2M100 1180l3 0M108 1361l2 -2M108 1361l0 3M153 1125l5 2M11 1744l-4 3M109 1008l-3 -3M178 1294l-2 -4M178 1294l4 0M100 893l-1 -4M173 1524l5 0M173 1524l0 5M181 1062l-2 2M181 1062l-1 -3M78 1581l2 5M54 925l4 1M54 925l1 4M60 1581l2 3M49 1199l4 -3M49 1199l1 5M30 1663l-2 -2M30 1663l3 0M67 961l-2 2M67 961l-1 -3M47 1533l3 3M72 1286l-3 1M72 1286l0 -3M39 1213l-3 0M39 1213l1 -3M59 1455l-1 -5M59 1455l3 -3M173 1004l5 2M173 1004l-1 5M67 1506l1 -2M67 1506l2 1M163 1570l-4 3M83 1318l4 1M97 908l0 -3M97 908l2 -2M20 1673l3 4M20 1673l-4 3M83 1707l1 -5M83 1707l5 2M121 1717l3 -1M141 1069l-2 -1M141 1069l0 -3M172 1467l3 -2M172 1467l1 4M99 913l0 3M83 1144l3 5M83 1144l-5 1M116 1012l-2 4M116 1012l-3 -4M80 873l-2 -2M80 873l2 -1M131 874l-4 -2M131 874l1 -5M73 1068l0 -3M73 1068l3 2M139 910l4 1M139 910l1 4M96 1311l1 4M96 1311l-2 3M70 1513l3 0M70 1513l2 2M142 852l3 0M146 1564l-3 2M146 1564l-1 -4M68 945l4 3M106 1393l2 -1M106 1393l1 3M151 1259l-2 -4M151 1259l4 2M124 941l0 4M125 911l-4 2M125 911l-1 -5M61 1577l4 -2M61 1577l-1 4M99 1717l-2 -4M64 1226l1 -3M64 1226l2 2M46 1406l-3 -3M46 1406l4 -2M38 849l-5 -2M38 849l1 -5M49 1287l3 -4M49 1287l2 5M28 986l3 1M162 1458l-4 -3M162 1458l3 -4M74 1620l-2 2M71 1375l4 2M71 1375l-3 3M123 1296l2 -2M94 1224l-4 -1M50 1189l-1 3M154 932l-2 2M154 932l-2 -2M57 913l-3 2M57 913l1 -4M140 851l1 4M140 851l-3 -2M122 1011l-5 -2M167 1307l-3 2M167 1307l-3 -2M132 1108l3 -2M132 1108l3 2M64 1257l1 -5M135 1563l1 -4M135 1563l4 1M97 1463l-4 1M97 1463l2 -3M145 1544l-2 -4M145 1544l4 -2M106 1058l2 3M106 1058l-1 3M72 929l-2 5M72 929l-3 -4M129 1609l0 5M129 1609l-5 1M15 1759l2 -3M15 1759l3 2M33 1745l-4 0M33 1745l2 -4M40 1153l-5 1M114 1244l-3 2M54 968l4 0M54 968l0 4M135 1749l-4 -3M90 1446l-2 1M87 1020l3 -2M87 1020l0 4" stroke="#fff" stroke-width="5.2" fill="none" stroke-linecap="round"/>
<circle cx="108.6" cy="857" r="9.3" fill="url(#gB)"/><circle cx="72" cy="852" r="11" fill="url(#gR)"/><circle cx="109.3" cy="872.6" r="9.3" fill="url(#gB)"/><circle cx="71.1" cy="867.6" r="11" fill="url(#gR)"/><circle cx="108.4" cy="888.9" r="9.3" fill="url(#gB)"/><circle cx="71.6" cy="883.9" r="11" fill="url(#gR)"/><circle cx="106.3" cy="906.2" r="9.3" fill="url(#gB)"/><circle cx="67.4" cy="901.2" r="11" fill="url(#gR)"/><circle cx="103.7" cy="923.1" r="9.3" fill="url(#gB)"/><circle cx="66.4" cy="918.1" r="11" fill="url(#gR)"/><circle cx="103.4" cy="940.7" r="9.3" fill="url(#gB)"/><circle cx="65.6" cy="935.7" r="11" fill="url(#gR)"/><circle cx="102.6" cy="957.5" r="9.3" fill="url(#gB)"/><circle cx="63.9" cy="952.5" r="11" fill="url(#gR)"/><circle cx="106" cy="974.5" r="9.3" fill="url(#gB)"/><circle cx="68.2" cy="969.5" r="11" fill="url(#gR)"/><circle cx="109.2" cy="992.1" r="9.3" fill="url(#gB)"/><circle cx="70.9" cy="987.1" r="11" fill="url(#gR)"/><circle cx="112.5" cy="1008.7" r="9.3" fill="url(#gB)"/><circle cx="74.1" cy="1003.7" r="11" fill="url(#gR)"/><circle cx="113.8" cy="1024.1" r="9.3" fill="url(#gB)"/><circle cx="75.8" cy="1019.1" r="11" fill="url(#gR)"/><circle cx="113.3" cy="1040" r="9.3" fill="url(#gB)"/><circle cx="77.7" cy="1035" r="11" fill="url(#gR)"/><circle cx="117.7" cy="1055.2" r="9.3" fill="url(#gB)"/><circle cx="79.8" cy="1050.2" r="11" fill="url(#gR)"/><circle cx="113.2" cy="1073" r="9.3" fill="url(#gB)"/><circle cx="78.6" cy="1068" r="11" fill="url(#gR)"/><circle cx="114.7" cy="1088.3" r="9.3" fill="url(#gB)"/><circle cx="78" cy="1083.3" r="11" fill="url(#gR)"/><circle cx="114.1" cy="1103.9" r="9.3" fill="url(#gB)"/><circle cx="79.5" cy="1098.9" r="11" fill="url(#gR)"/><circle cx="113.7" cy="1120.6" r="9.3" fill="url(#gB)"/><circle cx="75.2" cy="1115.6" r="11" fill="url(#gR)"/><circle cx="110.6" cy="1137.6" r="9.3" fill="url(#gB)"/><circle cx="72.9" cy="1132.6" r="11" fill="url(#gR)"/><circle cx="110.2" cy="1155.5" r="9.3" fill="url(#gB)"/><circle cx="70.6" cy="1150.5" r="11" fill="url(#gR)"/><circle cx="110.9" cy="1172.1" r="9.3" fill="url(#gB)"/><circle cx="73.8" cy="1167.1" r="11" fill="url(#gR)"/><circle cx="110.3" cy="1189.8" r="9.3" fill="url(#gB)"/><circle cx="75" cy="1184.8" r="11" fill="url(#gR)"/><circle cx="115.9" cy="1206.3" r="9.3" fill="url(#gB)"/><circle cx="75.6" cy="1201.3" r="11" fill="url(#gR)"/><circle cx="115.2" cy="1222.4" r="9.3" fill="url(#gB)"/><circle cx="77.1" cy="1217.4" r="11" fill="url(#gR)"/><circle cx="118.6" cy="1239.4" r="9.3" fill="url(#gB)"/><circle cx="79.3" cy="1234.4" r="11" fill="url(#gR)"/><circle cx="112.9" cy="1254.5" r="9.3" fill="url(#gB)"/><circle cx="78.5" cy="1249.5" r="11" fill="url(#gR)"/><circle cx="117.3" cy="1271.1" r="9.3" fill="url(#gB)"/><circle cx="80.2" cy="1266.1" r="11" fill="url(#gR)"/><circle cx="112.5" cy="1288.6" r="9.3" fill="url(#gB)"/><circle cx="75.9" cy="1283.6" r="11" fill="url(#gR)"/><circle cx="113.9" cy="1304.2" r="9.3" fill="url(#gB)"/><circle cx="76" cy="1299.2" r="11" fill="url(#gR)"/><circle cx="115.9" cy="1320.9" r="9.3" fill="url(#gB)"/><circle cx="77" cy="1315.9" r="11" fill="url(#gR)"/><circle cx="112.5" cy="1336.8" r="9.3" fill="url(#gB)"/><circle cx="75.8" cy="1331.8" r="11" fill="url(#gR)"/><circle cx="114" cy="1352.5" r="9.3" fill="url(#gB)"/><circle cx="76.4" cy="1347.5" r="11" fill="url(#gR)"/><circle cx="112.9" cy="1370.2" r="9.3" fill="url(#gB)"/><circle cx="77.5" cy="1365.2" r="11" fill="url(#gR)"/><circle cx="116" cy="1387.8" r="9.3" fill="url(#gB)"/><circle cx="79.3" cy="1382.8" r="11" fill="url(#gR)"/><circle cx="117.1" cy="1405.8" r="9.3" fill="url(#gB)"/><circle cx="79.7" cy="1400.8" r="11" fill="url(#gR)"/><circle cx="115.2" cy="1422.5" r="9.3" fill="url(#gB)"/><circle cx="78.3" cy="1417.5" r="11" fill="url(#gR)"/><circle cx="116.8" cy="1437.8" r="9.3" fill="url(#gB)"/><circle cx="81.4" cy="1432.8" r="11" fill="url(#gR)"/><circle cx="122.9" cy="1453.9" r="9.3" fill="url(#gB)"/><circle cx="82.8" cy="1448.9" r="11" fill="url(#gR)"/><circle cx="117.3" cy="1470.5" r="9.3" fill="url(#gB)"/><circle cx="80.8" cy="1465.5" r="11" fill="url(#gR)"/><circle cx="116.9" cy="1486" r="9.3" fill="url(#gB)"/><circle cx="80.4" cy="1481" r="11" fill="url(#gR)"/><circle cx="114.3" cy="1502.8" r="9.3" fill="url(#gB)"/><circle cx="77.4" cy="1497.8" r="11" fill="url(#gR)"/><circle cx="112.5" cy="1520.2" r="9.3" fill="url(#gB)"/><circle cx="76.5" cy="1515.2" r="11" fill="url(#gR)"/><circle cx="117.8" cy="1536.5" r="9.3" fill="url(#gB)"/><circle cx="81.4" cy="1531.5" r="11" fill="url(#gR)"/><circle cx="116.5" cy="1554.3" r="9.3" fill="url(#gB)"/><circle cx="79.8" cy="1549.3" r="11" fill="url(#gR)"/><circle cx="113.3" cy="1571.2" r="9.3" fill="url(#gB)"/><circle cx="76.7" cy="1566.2" r="11" fill="url(#gR)"/><circle cx="114.3" cy="1586.7" r="9.3" fill="url(#gB)"/><circle cx="77.3" cy="1581.7" r="11" fill="url(#gR)"/><circle cx="109.4" cy="1603.1" r="9.3" fill="url(#gB)"/><circle cx="72.1" cy="1598.1" r="11" fill="url(#gR)"/><circle cx="109.2" cy="1620.1" r="9.3" fill="url(#gB)"/><circle cx="70.2" cy="1615.1" r="11" fill="url(#gR)"/><circle cx="106.6" cy="1636.5" r="9.3" fill="url(#gB)"/><circle cx="66" cy="1631.5" r="11" fill="url(#gR)"/><circle cx="104.6" cy="1652.3" r="9.3" fill="url(#gB)"/><circle cx="66.1" cy="1647.3" r="11" fill="url(#gR)"/><circle cx="99.3" cy="1669.9" r="9.3" fill="url(#gB)"/><circle cx="62.2" cy="1664.9" r="11" fill="url(#gR)"/><circle cx="101.7" cy="1686.9" r="9.3" fill="url(#gB)"/><circle cx="64.6" cy="1681.9" r="11" fill="url(#gR)"/><circle cx="99.9" cy="1703.7" r="9.3" fill="url(#gB)"/><circle cx="62.1" cy="1698.7" r="11" fill="url(#gR)"/><circle cx="98.6" cy="1720.3" r="9.3" fill="url(#gB)"/><circle cx="56.8" cy="1715.3" r="11" fill="url(#gR)"/><circle cx="94.8" cy="1736.2" r="9.3" fill="url(#gB)"/><circle cx="58.6" cy="1731.2" r="11" fill="url(#gR)"/><circle cx="96" cy="1752.7" r="9.3" fill="url(#gB)"/><circle cx="58.6" cy="1747.7" r="11" fill="url(#gR)"/><circle cx="96.9" cy="1769.8" r="9.3" fill="url(#gB)"/><circle cx="58.3" cy="1764.8" r="11" fill="url(#gR)"/>
<path d="M71 854.4h0.1M75.2 848.7h0.1M72.3 868.2h0.1M72.9 867h0.1M74.5 882.1h0.1M68.7 887.5h0.1M69.4 898.1h0.1M67.7 900.4h0.1M63.9 919.1h0.1M64.5 919.6h0.1M65.1 937.3h0.1M62.2 936.8h0.1M66.5 955.7h0.1M66.1 954.3h0.1M65.2 966h0.1M70.1 967.3h0.1M67.4 988.4h0.1M68.1 983.2h0.1M77.4 1001h0.1M70.5 999.7h0.1M78.6 1019.9h0.1M77 1018.7h0.1M81.4 1037.7h0.1M78.7 1037.7h0.1M77.1 1048.1h0.1M81.9 1051h0.1M81.6 1065.2h0.1M74.8 1067.7h0.1M80.1 1083.8h0.1M80.8 1084.4h0.1M81.6 1100.8h0.1M80.5 1099.2h0.1M73 1117.9h0.1M74.1 1118.2h0.1M76.8 1133.2h0.1M73.4 1135.2h0.1M70 1150.2h0.1M69.5 1147.9h0.1M75.3 1170.1h0.1M75.6 1163.3h0.1M73.3 1186.3h0.1M72 1184.6h0.1M75.2 1200.8h0.1M72.7 1198.3h0.1M76.5 1220.7h0.1M75.2 1213.7h0.1M83 1238.3h0.1M78.2 1236.9h0.1M81.8 1252.7h0.1M80.8 1251.9h0.1M83.9 1268.9h0.1M82.5 1267.5h0.1M72.5 1284.7h0.1M77.8 1283.5h0.1M76.9 1302.5h0.1M78.9 1302.4h0.1M77.3 1318.4h0.1M76.4 1315.4h0.1M73.6 1334.4h0.1M78.7 1331.4h0.1M73.8 1351.3h0.1M74.4 1349.2h0.1M79 1362h0.1M78.8 1365.3h0.1M79.8 1379.8h0.1M80.3 1384h0.1M81.2 1398h0.1M79.1 1402.7h0.1M76.2 1421.2h0.1M77.4 1421h0.1M80.4 1431.3h0.1M78.5 1429h0.1M80 1450h0.1M80 1445.7h0.1M79.4 1465.6h0.1M82.4 1464.9h0.1M81.1 1481.7h0.1M82.4 1477.3h0.1M75 1494.4h0.1M77.2 1499.7h0.1M78.9 1513h0.1M74.5 1515.8h0.1M83.3 1527.9h0.1M84.8 1530.2h0.1M79.2 1547.8h0.1M78.9 1547.1h0.1M78.4 1568.2h0.1M77.4 1562.9h0.1M75.3 1583h0.1M79.2 1578.2h0.1M76.1 1598.6h0.1M68.2 1594.1h0.1M68.2 1611.8h0.1M70.9 1617.7h0.1M67 1634.4h0.1M62.7 1627.6h0.1M69.9 1650.1h0.1M62.6 1650h0.1M65.8 1665.2h0.1M63.8 1664.3h0.1M63 1682.9h0.1M68 1683.6h0.1M64.2 1697.9h0.1M65.7 1702.2h0.1M59.9 1712.1h0.1M59.3 1717.6h0.1M61.7 1734.2h0.1M62.2 1735.1h0.1M59.2 1746.1h0.1M54.8 1750.8h0.1M59 1766.5h0.1M55.4 1766.3h0.1" stroke="#fff" stroke-width="3.4" stroke-linecap="round"/>
<path d="M116 1255l5 2M156 999l-4 -2M156 999l5 -2M126 1676l2 -4M126 1676l3 3M113 926l-1 3M113 926l-2 -2M160 1397l-4 1M160 1531l-3 -2M160 1531l2 -2M26 1090l3 2M26 1090l-2 3M168 969l2 4M168 969l-4 1M53 1433l-2 4M107 1495l-5 2M22 1029l-4 0M22 1029l0 -4M65 1438l1 -3M65 1438l2 3M93 936l-3 -4M55 1008l1 3M78 916l-3 -2M78 916l3 -1M182 1070l2 1M118 1483l2 3M143 1771l3 1M158 1117l-5 0M38 923l-2 -3M38 923l4 -1M123 969l4 -3M123 969l2 5M21 1728l5 2M87 1431l2 3M60 1770l5 -1M60 1770l0 5M49 1242l-3 -1M49 1242l2 -3M70 1463l-5 0M70 1463l0 -5M36 1114l1 -4M36 1114l3 3M62 1410l-1 2M107 852l4 -2M107 852l3 3M149 1583l3 -2M149 1583l1 3M151 1264l5 -1M151 1264l2 5M35 986l-1 4M118 1751l-2 2M118 1751l-2 -2M159 1147l2 -4M159 1147l4 1M147 1089l2 4M147 1089l-4 1M61 1420l2 4M61 1420l-4 2M132 1439l-2 -4M131 1040l3 0M131 1040l1 3M57 1523l0 -3M57 1523l3 0M66 861l-4 0M66 861l2 -3M40 1278l0 -3M45 1194l3 4M45 1194l-4 4M106 848l-4 0M87 1394l1 3M162 1154l1 -5M162 1154l5 1M87 944l-3 -3M161 1238l-3 1M161 1238l-2 -3M58 1222l0 4M58 1222l-4 -1M165 1178l-4 1M165 1178l-3 -4M123 1601l4 -2M141 923l-3 1M36 1649l-3 -5M36 1649l5 1M72 1589l3 0M72 1589l-1 3M149 1137l-2 2M85 1163l2 4M85 1163l-2 3M43 898l-3 1M43 898l0 -3M17 1093l4 3M17 1093l-5 1M51 1618l-5 0M51 1618l0 -5M166 1216l4 -3M166 1216l-1 5M150 1364l-2 -4M150 1364l2 -4M85 1466l3 0M85 1466l0 3M153 1403l0 3M153 1403l-3 1M96 1634l-1 4M96 1634l-4 1M57 987l-3 2M95 911l0 3M134 1717l1 -3M134 1717l3 0M149 866l1 5M168 1160l3 -5M145 1127l-1 2M147 1273l-3 1M153 1073l3 2M153 1073l-1 3M40 1338l-1 -5M150 1596l-2 2M150 1596l-1 -3M161 876l3 -3M136 1562l2 3M71 1488l5 -1M71 1488l-1 5M167 1215l4 3M167 1215l-1 5M164 1016l4 -2M164 1016l1 4M111 862l0 3M111 862l-2 -1M125 1040l4 2M125 1040l-3 4M54 1600l1 4M54 1600l-4 -1M16 1728l0 -4M16 1728l4 1M42 1429l4 2M42 1429l-1 5M68 1586l3 -1M68 1586l-1 3M38 1479l-4 -2M38 1479l0 -4M125 1756l5 3M125 1756l-1 5M168 1518l4 2M168 1518l-1 4M128 974l2 3M128 974l-4 0M105 1164l2 -1M167 1110l3 -2M167 1110l0 4M147 1495l4 -1M48 1667l-3 0M48 1667l-1 -3M130 1591l2 3M53 1233l2 3M53 1233l-3 2M63 1667l0 -4M63 1667l4 1M60 1229l5 0M60 1229l1 5M54 1701l0 3M140 1014l4 -3M118 1286l-1 3M162 1250l3 2M162 1250l-3 1M39 1317l-1 -4M29 1103l4 1M126 969l2 4M126 969l-4 3M68 1136l-1 2M68 1136l-2 -2M145 1431l-4 0M145 1431l1 -4M33 1640l-1 -4M121 1557l5 1M34 1137l-1 -4M87 1444l4 2M96 1250l3 -4M130 1343l4 2M130 1343l0 5M94 923l-2 -4M94 923l3 -3M107 1696l1 -4M121 1605l3 2M121 1605l0 4M114 1429l-4 -1M131 1461l-2 4M131 1461l-2 -4M113 1426l-5 0M35 1492l3 -4M57 1628l3 1M102 1005l5 2M27 1324l1 4M81 880l-1 3M66 907l0 5M66 907l-4 -3M37 1658l2 -3M37 1658l3 1M83 1571l0 -4M74 1291l3 0M74 1291l0 3M128 1100l4 3M128 1100l-2 4M44 1166l1 3M47 1648l-5 3M163 1183l1 3M163 1183l-3 -1M138 1723l-2 -2M138 1723l1 -2M131 1057l-5 1M131 1057l-2 -5M128 1164l-1 4M128 1164l-3 -3M104 1600l3 -4M47 1596l2 -2M47 1596l1 3M97 1336l4 0M97 1336l-3 3M89 1230l-1 5M89 1230l-5 2M116 917l5 -2M116 917l-2 5M140 1544l-3 -2M140 1544l2 -3M147 882l1 3M147 882l-3 2M144 1003l2 5M144 1003l-5 2M107 940l2 5M107 940l-5 2M89 1507l-3 0M89 1507l2 -2M114 1337l-4 0M173 1516l2 -4M173 1516l2 4M62 1026l-3 -3M62 1026l4 -2M132 1443l2 3M132 1443l-4 0M102 1260l2 -3M76 1768l-2 4M76 1768l-5 0M126 1553l4 2M126 1553l-4 2M173 1012l2 4M173 1012l-4 0M58 1311l1 3M58 1311l-2 2M87 1520l-2 3M6 1739l1 5M130 1496l5 -3M79 1153l-3 0M22 1255l2 2M121 1149l5 -1M69 1400l-3 -2M131 1560l3 0M131 1560l2 2M83 1678l-5 3M83 1678l-5 -3M158 1115l-4 -3M158 1115l5 -1M84 954l-4 -1M151 1452l-3 4M151 1452l-2 -4M46 1534l3 -3M46 1534l2 3M49 884l-1 -2M49 884l2 1M87 1152l0 -3M87 1152l3 0M175 1265l5 0M175 1265l1 5M27 1660l4 1M27 1660l-3 3M73 1284l-1 3M73 1284l-3 0M76 1619l0 -4M93 944l-5 2M28 1259l-1 3M53 926l2 -3M53 926l1 3M47 1393l-3 -2M139 1620l-4 2M139 1620l-3 -3M118 999l0 3M40 1552l-1 -3M40 1552l3 0M73 1161l1 -4M73 1161l4 0M126 1607l3 3M126 1607l-3 2M82 1582l2 -3M82 1582l1 4M134 899l-3 2M134 899l-1 -3M68 1714l0 -5M124 995l-4 4M124 995l-5 -2M52 1183l-3 -3M71 1182l-3 -3M67 1024l-3 4M67 1024l0 -5M97 1541l1 -3M97 1541l2 2M150 1739l-2 -2M150 1739l2 -2M67 1010l-4 2M67 1010l-3 -3M104 1530l0 5M71 1393l4 -2M71 1393l4 3M96 1600l2 -3M71 1591l-5 -2M71 1591l2 -5M112 849l1 3M112 849l-3 1M56 1624l-2 -2M56 1624l2 -2M78 1533l-2 -4M78 1533l3 -4M110 1477l3 1M110 1477l0 3M34 1058l1 -4M126 1006l0 5M118 1445l-2 -4M118 1445l2 -4M47 939l-4 4M47 939l-5 -2M97 1595l0 -4M97 1595l3 1M51 1161l-1 4M51 1161l-4 0M66 849l2 -1M66 849l1 2M113 1004l0 4M133 1398l3 4M133 1398l-5 3M152 1637l-4 2M152 1637l-1 -4M51 1538l-1 3M115 1158l3 -4M160 1296l-4 1M160 1296l-1 -4M14 1729l-3 -2M103 1587l-3 -3M103 1587l2 -3M144 1763l-4 1M68 1489l2 3M68 1489l-4 1M136 1341l1 -5M136 1341l5 3M136 854l-3 4M136 854l-5 -1M124 1485l-2 -4M124 1485l3 -3M52 1513l-5 2M77 1676l-5 -1M125 1425l-5 -1M132 1744l-3 -4M132 1744l4 -2M78 1647l3 -2M100 1200l1 3M100 1200l-3 -1M142 1162l0 3M162 934l-3 0M24 1084l-2 3M24 1084l-2 -3M85 877l-3 1M141 1747l5 3M98 1321l-3 0M98 1321l1 -3M52 1372l-2 -1M52 1372l1 -2M26 1743l2 -2M26 1743l3 1M73 1264l-2 4M64 1218l-5 -1M64 1218l-1 -5M72 1311l-4 -2M65 920l-4 3M99 1049l-4 0M99 1049l2 -4M42 1740l1 5M42 1740l-4 1M95 1481l3 2M126 1654l4 -2M123 1557l-1 -3M123 1557l2 -2M127 1085l-2 1M127 1085l0 -3M58 998l-2 -3M146 1631l1 3M146 1631l-3 0M119 877l4 0M146 1674l3 -3M146 1674l0 4M156 1077l1 -4M115 1669l3 -2M50 1556l-3 1M182 1503l0 -4M103 1358l2 -2M112 1568l-3 3M112 1568l-2 -4M137 1617l0 3M16 1080l-1 -4M16 1080l3 3M64 1691l-4 -1M64 1691l-1 -4M145 1330l-2 5M145 1330l-3 -4M84 1624l3 0M84 1624l-2 2M37 1323l2 4M37 1323l-5 -1M46 1068l-1 4M145 1237l-2 3M145 1237l-4 0" stroke="#bdbdbd" stroke-width="6.6" fill="none" stroke-linecap="round"/>
<path d="M116 1255l5 2M156 999l-4 -2M156 999l5 -2M126 1676l2 -4M126 1676l3 3M113 926l-1 3M113 926l-2 -2M160 1397l-4 1M160 1531l-3 -2M160 1531l2 -2M26 1090l3 2M26 1090l-2 3M168 969l2 4M168 969l-4 1M53 1433l-2 4M107 1495l-5 2M22 1029l-4 0M22 1029l0 -4M65 1438l1 -3M65 1438l2 3M93 936l-3 -4M55 1008l1 3M78 916l-3 -2M78 916l3 -1M182 1070l2 1M118 1483l2 3M143 1771l3 1M158 1117l-5 0M38 923l-2 -3M38 923l4 -1M123 969l4 -3M123 969l2 5M21 1728l5 2M87 1431l2 3M60 1770l5 -1M60 1770l0 5M49 1242l-3 -1M49 1242l2 -3M70 1463l-5 0M70 1463l0 -5M36 1114l1 -4M36 1114l3 3M62 1410l-1 2M107 852l4 -2M107 852l3 3M149 1583l3 -2M149 1583l1 3M151 1264l5 -1M151 1264l2 5M35 986l-1 4M118 1751l-2 2M118 1751l-2 -2M159 1147l2 -4M159 1147l4 1M147 1089l2 4M147 1089l-4 1M61 1420l2 4M61 1420l-4 2M132 1439l-2 -4M131 1040l3 0M131 1040l1 3M57 1523l0 -3M57 1523l3 0M66 861l-4 0M66 861l2 -3M40 1278l0 -3M45 1194l3 4M45 1194l-4 4M106 848l-4 0M87 1394l1 3M162 1154l1 -5M162 1154l5 1M87 944l-3 -3M161 1238l-3 1M161 1238l-2 -3M58 1222l0 4M58 1222l-4 -1M165 1178l-4 1M165 1178l-3 -4M123 1601l4 -2M141 923l-3 1M36 1649l-3 -5M36 1649l5 1M72 1589l3 0M72 1589l-1 3M149 1137l-2 2M85 1163l2 4M85 1163l-2 3M43 898l-3 1M43 898l0 -3M17 1093l4 3M17 1093l-5 1M51 1618l-5 0M51 1618l0 -5M166 1216l4 -3M166 1216l-1 5M150 1364l-2 -4M150 1364l2 -4M85 1466l3 0M85 1466l0 3M153 1403l0 3M153 1403l-3 1M96 1634l-1 4M96 1634l-4 1M57 987l-3 2M95 911l0 3M134 1717l1 -3M134 1717l3 0M149 866l1 5M168 1160l3 -5M145 1127l-1 2M147 1273l-3 1M153 1073l3 2M153 1073l-1 3M40 1338l-1 -5M150 1596l-2 2M150 1596l-1 -3M161 876l3 -3M136 1562l2 3M71 1488l5 -1M71 1488l-1 5M167 1215l4 3M167 1215l-1 5M164 1016l4 -2M164 1016l1 4M111 862l0 3M111 862l-2 -1M125 1040l4 2M125 1040l-3 4M54 1600l1 4M54 1600l-4 -1M16 1728l0 -4M16 1728l4 1M42 1429l4 2M42 1429l-1 5M68 1586l3 -1M68 1586l-1 3M38 1479l-4 -2M38 1479l0 -4M125 1756l5 3M125 1756l-1 5M168 1518l4 2M168 1518l-1 4M128 974l2 3M128 974l-4 0M105 1164l2 -1M167 1110l3 -2M167 1110l0 4M147 1495l4 -1M48 1667l-3 0M48 1667l-1 -3M130 1591l2 3M53 1233l2 3M53 1233l-3 2M63 1667l0 -4M63 1667l4 1M60 1229l5 0M60 1229l1 5M54 1701l0 3M140 1014l4 -3M118 1286l-1 3M162 1250l3 2M162 1250l-3 1M39 1317l-1 -4M29 1103l4 1M126 969l2 4M126 969l-4 3M68 1136l-1 2M68 1136l-2 -2M145 1431l-4 0M145 1431l1 -4M33 1640l-1 -4M121 1557l5 1M34 1137l-1 -4M87 1444l4 2M96 1250l3 -4M130 1343l4 2M130 1343l0 5M94 923l-2 -4M94 923l3 -3M107 1696l1 -4M121 1605l3 2M121 1605l0 4M114 1429l-4 -1M131 1461l-2 4M131 1461l-2 -4M113 1426l-5 0M35 1492l3 -4M57 1628l3 1M102 1005l5 2M27 1324l1 4M81 880l-1 3M66 907l0 5M66 907l-4 -3M37 1658l2 -3M37 1658l3 1M83 1571l0 -4M74 1291l3 0M74 1291l0 3M128 1100l4 3M128 1100l-2 4M44 1166l1 3M47 1648l-5 3M163 1183l1 3M163 1183l-3 -1M138 1723l-2 -2M138 1723l1 -2M131 1057l-5 1M131 1057l-2 -5M128 1164l-1 4M128 1164l-3 -3M104 1600l3 -4M47 1596l2 -2M47 1596l1 3M97 1336l4 0M97 1336l-3 3M89 1230l-1 5M89 1230l-5 2M116 917l5 -2M116 917l-2 5M140 1544l-3 -2M140 1544l2 -3M147 882l1 3M147 882l-3 2M144 1003l2 5M144 1003l-5 2M107 940l2 5M107 940l-5 2M89 1507l-3 0M89 1507l2 -2M114 1337l-4 0M173 1516l2 -4M173 1516l2 4M62 1026l-3 -3M62 1026l4 -2M132 1443l2 3M132 1443l-4 0M102 1260l2 -3M76 1768l-2 4M76 1768l-5 0M126 1553l4 2M126 1553l-4 2M173 1012l2 4M173 1012l-4 0M58 1311l1 3M58 1311l-2 2M87 1520l-2 3M6 1739l1 5M130 1496l5 -3M79 1153l-3 0M22 1255l2 2M121 1149l5 -1M69 1400l-3 -2M131 1560l3 0M131 1560l2 2M83 1678l-5 3M83 1678l-5 -3M158 1115l-4 -3M158 1115l5 -1M84 954l-4 -1M151 1452l-3 4M151 1452l-2 -4M46 1534l3 -3M46 1534l2 3M49 884l-1 -2M49 884l2 1M87 1152l0 -3M87 1152l3 0M175 1265l5 0M175 1265l1 5M27 1660l4 1M27 1660l-3 3M73 1284l-1 3M73 1284l-3 0M76 1619l0 -4M93 944l-5 2M28 1259l-1 3M53 926l2 -3M53 926l1 3M47 1393l-3 -2M139 1620l-4 2M139 1620l-3 -3M118 999l0 3M40 1552l-1 -3M40 1552l3 0M73 1161l1 -4M73 1161l4 0M126 1607l3 3M126 1607l-3 2M82 1582l2 -3M82 1582l1 4M134 899l-3 2M134 899l-1 -3M68 1714l0 -5M124 995l-4 4M124 995l-5 -2M52 1183l-3 -3M71 1182l-3 -3M67 1024l-3 4M67 1024l0 -5M97 1541l1 -3M97 1541l2 2M150 1739l-2 -2M150 1739l2 -2M67 1010l-4 2M67 1010l-3 -3M104 1530l0 5M71 1393l4 -2M71 1393l4 3M96 1600l2 -3M71 1591l-5 -2M71 1591l2 -5M112 849l1 3M112 849l-3 1M56 1624l-2 -2M56 1624l2 -2M78 1533l-2 -4M78 1533l3 -4M110 1477l3 1M110 1477l0 3M34 1058l1 -4M126 1006l0 5M118 1445l-2 -4M118 1445l2 -4M47 939l-4 4M47 939l-5 -2M97 1595l0 -4M97 1595l3 1M51 1161l-1 4M51 1161l-4 0M66 849l2 -1M66 849l1 2M113 1004l0 4M133 1398l3 4M133 1398l-5 3M152 1637l-4 2M152 1637l-1 -4M51 1538l-1 3M115 1158l3 -4M160 1296l-4 1M160 1296l-1 -4M14 1729l-3 -2M103 1587l-3 -3M103 1587l2 -3M144 1763l-4 1M68 1489l2 3M68 1489l-4 1M136 1341l1 -5M136 1341l5 3M136 854l-3 4M136 854l-5 -1M124 1485l-2 -4M124 1485l3 -3M52 1513l-5 2M77 1676l-5 -1M125 1425l-5 -1M132 1744l-3 -4M132 1744l4 -2M78 1647l3 -2M100 1200l1 3M100 1200l-3 -1M142 1162l0 3M162 934l-3 0M24 1084l-2 3M24 1084l-2 -3M85 877l-3 1M141 1747l5 3M98 1321l-3 0M98 1321l1 -3M52 1372l-2 -1M52 1372l1 -2M26 1743l2 -2M26 1743l3 1M73 1264l-2 4M64 1218l-5 -1M64 1218l-1 -5M72 1311l-4 -2M65 920l-4 3M99 1049l-4 0M99 1049l2 -4M42 1740l1 5M42 1740l-4 1M95 1481l3 2M126 1654l4 -2M123 1557l-1 -3M123 1557l2 -2M127 1085l-2 1M127 1085l0 -3M58 998l-2 -3M146 1631l1 3M146 1631l-3 0M119 877l4 0M146 1674l3 -3M146 1674l0 4M156 1077l1 -4M115 1669l3 -2M50 1556l-3 1M182 1503l0 -4M103 1358l2 -2M112 1568l-3 3M112 1568l-2 -4M137 1617l0 3M16 1080l-1 -4M16 1080l3 3M64 1691l-4 -1M64 1691l-1 -4M145 1330l-2 5M145 1330l-3 -4M84 1624l3 0M84 1624l-2 2M37 1323l2 4M37 1323l-5 -1M46 1068l-1 4M145 1237l-2 3M145 1237l-4 0" stroke="#fff" stroke-width="5.2" fill="none" stroke-linecap="round"/>
<circle cx="151.7" cy="1284.9" r="11.7" fill="url(#gC)"/><circle cx="67.1" cy="1233.8" r="11.5" fill="url(#gC)"/><circle cx="129.1" cy="1093.5" r="12" fill="url(#gT)"/><circle cx="118.7" cy="1618.5" r="11.7" fill="url(#gG)"/><circle cx="28.7" cy="1002.4" r="11.1" fill="url(#gG)"/><circle cx="137.2" cy="1265.1" r="12" fill="url(#gT)"/><circle cx="66.9" cy="946.1" r="11.5" fill="url(#gG)"/><circle cx="67.1" cy="1562" r="11.3" fill="url(#gT)"/><circle cx="148.3" cy="1026.6" r="11.8" fill="url(#gT)"/><circle cx="125" cy="1727.7" r="11.9" fill="url(#gG)"/><circle cx="145.1" cy="1232.5" r="11.2" fill="url(#gT)"/><circle cx="74.8" cy="1636.3" r="10.5" fill="url(#gG)"/><circle cx="143.2" cy="890.8" r="10.6" fill="url(#gG)"/><circle cx="97" cy="1044.5" r="10.7" fill="url(#gT)"/><circle cx="41.6" cy="1661.6" r="11.9" fill="url(#gC)"/><circle cx="129.1" cy="1432.5" r="10.5" fill="url(#gG)"/><circle cx="84.4" cy="1497.4" r="10.6" fill="url(#gT)"/><circle cx="142.2" cy="1192.9" r="11" fill="url(#gT)"/><circle cx="136.4" cy="875.6" r="11.5" fill="url(#gC)"/><circle cx="151.4" cy="1170.1" r="10.6" fill="url(#gT)"/><circle cx="109.5" cy="962.3" r="10.8" fill="url(#gG)"/><circle cx="142.1" cy="1143.9" r="11.9" fill="url(#gG)"/><circle cx="153.6" cy="1361.6" r="11.4" fill="url(#gG)"/><circle cx="52.4" cy="1740.4" r="11.5" fill="url(#gG)"/><circle cx="157.9" cy="1524" r="11.1" fill="url(#gC)"/><circle cx="139.1" cy="1070.5" r="11.3" fill="url(#gG)"/><circle cx="47.8" cy="1359.3" r="11.6" fill="url(#gT)"/><circle cx="152.3" cy="1446.6" r="11.9" fill="url(#gG)"/><circle cx="74.4" cy="1146.4" r="11.9" fill="url(#gT)"/><circle cx="97.3" cy="1725.6" r="11.7" fill="url(#gT)"/><circle cx="149.6" cy="860.2" r="12" fill="url(#gT)"/><circle cx="117.6" cy="944.7" r="11" fill="url(#gC)"/><circle cx="53.9" cy="1622.7" r="11.6" fill="url(#gC)"/><circle cx="143.6" cy="1183.4" r="11.7" fill="url(#gG)"/><circle cx="52.4" cy="1054.3" r="11.7" fill="url(#gT)"/><circle cx="96.2" cy="1189.6" r="10.7" fill="url(#gT)"/><circle cx="118.7" cy="912.3" r="10.9" fill="url(#gG)"/><circle cx="66" cy="1257.1" r="11.9" fill="url(#gG)"/><circle cx="51.1" cy="940" r="11.2" fill="url(#gC)"/><circle cx="90.8" cy="1681.5" r="10.7" fill="url(#gC)"/><circle cx="72.6" cy="1623.8" r="11.3" fill="url(#gT)"/><circle cx="110" cy="1251.4" r="10.9" fill="url(#gC)"/><circle cx="47.9" cy="1042" r="11.1" fill="url(#gT)"/><circle cx="21.6" cy="1690" r="11.1" fill="url(#gG)"/><circle cx="157.2" cy="1102.2" r="11" fill="url(#gC)"/><circle cx="143" cy="1109.8" r="11.7" fill="url(#gT)"/><circle cx="131.2" cy="1759" r="10.6" fill="url(#gT)"/><circle cx="127.7" cy="941.6" r="10.6" fill="url(#gC)"/><circle cx="101" cy="1161.8" r="10.5" fill="url(#gT)"/><circle cx="63.4" cy="1375.9" r="11.4" fill="url(#gT)"/><circle cx="156" cy="1047.4" r="11.5" fill="url(#gT)"/><circle cx="148" cy="1168.7" r="11.2" fill="url(#gC)"/><circle cx="135.9" cy="1408.3" r="11.5" fill="url(#gC)"/><circle cx="137.9" cy="947.7" r="11.7" fill="url(#gT)"/><circle cx="130.1" cy="917.9" r="12" fill="url(#gC)"/><circle cx="95.6" cy="852.7" r="10.7" fill="url(#gC)"/><circle cx="117.5" cy="1378.8" r="11.7" fill="url(#gT)"/><circle cx="145.4" cy="1744.8" r="11.2" fill="url(#gC)"/><circle cx="78.6" cy="1446.1" r="10.7" fill="url(#gT)"/><circle cx="140.6" cy="1137" r="10.6" fill="url(#gT)"/><circle cx="45.2" cy="1693.1" r="11.2" fill="url(#gT)"/><circle cx="138" cy="1581.3" r="11.6" fill="url(#gC)"/><circle cx="163.1" cy="1245.8" r="11.1" fill="url(#gT)"/><circle cx="136.8" cy="1767.5" r="11.7" fill="url(#gT)"/><circle cx="133.4" cy="1179.1" r="11.7" fill="url(#gT)"/><circle cx="82" cy="1149.2" r="11.9" fill="url(#gT)"/><circle cx="162.6" cy="1020.5" r="10.6" fill="url(#gC)"/><circle cx="68.5" cy="944.4" r="11.1" fill="url(#gC)"/><circle cx="55.7" cy="1626.3" r="11.3" fill="url(#gG)"/><circle cx="54.2" cy="1273" r="11.3" fill="url(#gT)"/><circle cx="53.8" cy="1444.2" r="11.4" fill="url(#gT)"/><circle cx="30.3" cy="1761.3" r="11.8" fill="url(#gG)"/><circle cx="111.4" cy="1409.5" r="10.9" fill="url(#gG)"/><circle cx="136.1" cy="1753.6" r="10.7" fill="url(#gG)"/><circle cx="40.8" cy="1760.3" r="10.7" fill="url(#gG)"/><circle cx="59.4" cy="881.9" r="11.3" fill="url(#gC)"/><circle cx="129" cy="1179.2" r="11.6" fill="url(#gT)"/><circle cx="119.7" cy="1115.1" r="11.9" fill="url(#gG)"/><circle cx="121.8" cy="1720" r="11.9" fill="url(#gT)"/><circle cx="102.1" cy="1580" r="10.7" fill="url(#gT)"/><circle cx="119.8" cy="1519.6" r="10.7" fill="url(#gG)"/><circle cx="50.5" cy="1298.5" r="11.5" fill="url(#gG)"/><circle cx="23.1" cy="1722.6" r="10.7" fill="url(#gT)"/><circle cx="152.1" cy="1473.7" r="10.7" fill="url(#gT)"/><circle cx="52.9" cy="1231.6" r="11.1" fill="url(#gT)"/><circle cx="80.4" cy="847.1" r="11.9" fill="url(#gC)"/><circle cx="103.4" cy="877.8" r="11" fill="url(#gC)"/><circle cx="70.9" cy="1390.4" r="10.8" fill="url(#gG)"/><circle cx="55.3" cy="1411.9" r="11.2" fill="url(#gT)"/><circle cx="156.5" cy="1330.2" r="11.5" fill="url(#gC)"/><circle cx="106" cy="1564.7" r="10.7" fill="url(#gT)"/><circle cx="49.8" cy="1444.6" r="11.5" fill="url(#gN)"/><circle cx="45.6" cy="1143.8" r="11.1" fill="url(#gG)"/><circle cx="44.6" cy="1620.4" r="11.7" fill="url(#gT)"/><circle cx="60.9" cy="1359.5" r="10.6" fill="url(#gC)"/><circle cx="131.6" cy="1604.8" r="10.9" fill="url(#gT)"/><circle cx="135.6" cy="905.5" r="10.7" fill="url(#gG)"/><circle cx="120.1" cy="1442.1" r="10.8" fill="url(#gG)"/><circle cx="44.8" cy="1174.7" r="11.7" fill="url(#gT)"/><circle cx="125.6" cy="1596.1" r="10.7" fill="url(#gC)"/><circle cx="149.5" cy="1404" r="10.5" fill="url(#gC)"/><circle cx="42.1" cy="1431" r="10.8" fill="url(#gC)"/><circle cx="40" cy="1108" r="11.3" fill="url(#gG)"/><circle cx="48.9" cy="1260.7" r="11.5" fill="url(#gT)"/><circle cx="116.5" cy="1714.2" r="10.8" fill="url(#gG)"/><circle cx="83.5" cy="1390.8" r="10.6" fill="url(#gT)"/><circle cx="150.8" cy="1268.1" r="11.6" fill="url(#gG)"/><circle cx="148.9" cy="1336.9" r="10.6" fill="url(#gG)"/><circle cx="49.5" cy="1602.8" r="11.8" fill="url(#gT)"/><circle cx="49.8" cy="1162.2" r="10.9" fill="url(#gT)"/><circle cx="67.3" cy="944.2" r="10.6" fill="url(#gT)"/><circle cx="149.1" cy="1606.2" r="11.5" fill="url(#gG)"/><circle cx="82.3" cy="1490.1" r="11.9" fill="url(#gG)"/><circle cx="116.5" cy="1674" r="10.8" fill="url(#gT)"/><circle cx="59.8" cy="1129.8" r="10.7" fill="url(#gT)"/><circle cx="51.1" cy="1156.8" r="11.7" fill="url(#gG)"/><circle cx="48.6" cy="1632.8" r="11.3" fill="url(#gN)"/><circle cx="67.8" cy="1657" r="10.9" fill="url(#gG)"/><circle cx="35.4" cy="1451.4" r="10.7" fill="url(#gT)"/><circle cx="64.6" cy="1301.2" r="11.4" fill="url(#gN)"/><circle cx="50.4" cy="968.4" r="11.5" fill="url(#gC)"/><circle cx="132.3" cy="1612" r="11.9" fill="url(#gC)"/><circle cx="137.6" cy="866.8" r="10.7" fill="url(#gT)"/><circle cx="109.3" cy="971.5" r="11.6" fill="url(#gT)"/><circle cx="46.4" cy="1022.9" r="11.3" fill="url(#gT)"/><circle cx="131.4" cy="1595.5" r="11.6" fill="url(#gT)"/><circle cx="75.3" cy="1215.4" r="11.2" fill="url(#gT)"/><circle cx="70.9" cy="1166.9" r="11.9" fill="url(#gT)"/><circle cx="88.7" cy="1012.3" r="11.4" fill="url(#gC)"/><circle cx="87.8" cy="1599.5" r="11.8" fill="url(#gT)"/><circle cx="129.6" cy="1647.6" r="11.8" fill="url(#gC)"/><circle cx="34.3" cy="980.2" r="10.9" fill="url(#gC)"/><circle cx="155" cy="1318" r="10.9" fill="url(#gC)"/><circle cx="105.7" cy="873.4" r="10.8" fill="url(#gG)"/><circle cx="120.5" cy="1417.2" r="10.8" fill="url(#gT)"/><circle cx="163.5" cy="1487" r="11.3" fill="url(#gT)"/><circle cx="44.7" cy="1207.3" r="12" fill="url(#gT)"/><circle cx="148.4" cy="1328.3" r="11.2" fill="url(#gC)"/><circle cx="88.6" cy="1770.4" r="11.4" fill="url(#gG)"/><circle cx="77.7" cy="1649.5" r="11.1" fill="url(#gT)"/><circle cx="100.8" cy="1639.4" r="11.6" fill="url(#gT)"/><circle cx="116.7" cy="1768.7" r="11.5" fill="url(#gG)"/><circle cx="154.1" cy="1119.8" r="11.5" fill="url(#gN)"/><circle cx="48" cy="1742.5" r="10.6" fill="url(#gT)"/><circle cx="44" cy="1710.1" r="11.5" fill="url(#gT)"/><circle cx="101.1" cy="1515.4" r="10.8" fill="url(#gT)"/><circle cx="137.3" cy="956" r="10.6" fill="url(#gT)"/><circle cx="137.9" cy="1170.6" r="11.1" fill="url(#gG)"/><circle cx="132.6" cy="878.9" r="10.6" fill="url(#gT)"/><circle cx="136.7" cy="1162.3" r="11" fill="url(#gG)"/><circle cx="88.1" cy="1209.3" r="11.4" fill="url(#gG)"/><circle cx="135.6" cy="1410.6" r="11.7" fill="url(#gC)"/><circle cx="91.6" cy="1309.6" r="11.7" fill="url(#gN)"/><circle cx="133.2" cy="1033.1" r="11.5" fill="url(#gT)"/><circle cx="155.3" cy="1284.5" r="10.9" fill="url(#gT)"/><circle cx="109.8" cy="1578.9" r="11.1" fill="url(#gT)"/><circle cx="87.6" cy="879.4" r="10.9" fill="url(#gC)"/><circle cx="116" cy="980" r="11.2" fill="url(#gG)"/><circle cx="145.8" cy="1408.5" r="11.6" fill="url(#gG)"/><circle cx="139.4" cy="1656.6" r="10.6" fill="url(#gT)"/><circle cx="84.6" cy="1647.5" r="11.3" fill="url(#gC)"/><circle cx="35.8" cy="1765.9" r="11.4" fill="url(#gT)"/><circle cx="34.6" cy="1748.1" r="10.7" fill="url(#gG)"/><circle cx="99.9" cy="1730" r="10.9" fill="url(#gG)"/><circle cx="40.4" cy="926.8" r="11.3" fill="url(#gT)"/><circle cx="122.4" cy="1153.2" r="11.9" fill="url(#gC)"/><circle cx="34.4" cy="1501.9" r="11.6" fill="url(#gT)"/><circle cx="37.2" cy="1639.1" r="11.7" fill="url(#gT)"/><circle cx="25.2" cy="1691.6" r="10.9" fill="url(#gT)"/><circle cx="115" cy="1582.5" r="11" fill="url(#gG)"/><circle cx="115.9" cy="1557.6" r="11.1" fill="url(#gG)"/><circle cx="115.8" cy="1312.3" r="10.8" fill="url(#gT)"/><circle cx="132.4" cy="1511.4" r="11.5" fill="url(#gC)"/><circle cx="58.6" cy="1465.1" r="11.1" fill="url(#gG)"/><circle cx="83.2" cy="1183.3" r="11.9" fill="url(#gG)"/><circle cx="108.5" cy="1562.8" r="10.8" fill="url(#gT)"/><circle cx="44.3" cy="1065" r="11.9" fill="url(#gT)"/><circle cx="165" cy="1277.1" r="11.9" fill="url(#gT)"/><circle cx="143.6" cy="1747.7" r="11.5" fill="url(#gG)"/><circle cx="150.8" cy="1160.4" r="10.5" fill="url(#gG)"/><circle cx="119.2" cy="1044.5" r="11.3" fill="url(#gG)"/><circle cx="87.4" cy="858.6" r="11.4" fill="url(#gC)"/><circle cx="162.5" cy="1094.2" r="11" fill="url(#gT)"/><circle cx="173.2" cy="1491.1" r="11.9" fill="url(#gG)"/><circle cx="131.4" cy="936.8" r="11" fill="url(#gN)"/><circle cx="99" cy="1590.5" r="11.9" fill="url(#gC)"/><circle cx="109.9" cy="1281.1" r="10.9" fill="url(#gT)"/><circle cx="30.9" cy="1062.6" r="11.8" fill="url(#gG)"/><circle cx="64.8" cy="899.9" r="11.2" fill="url(#gT)"/><circle cx="127.6" cy="915.7" r="11.8" fill="url(#gG)"/><circle cx="141.9" cy="1000.7" r="11.6" fill="url(#gG)"/><circle cx="135.6" cy="1013.2" r="11.6" fill="url(#gN)"/><circle cx="147" cy="863.8" r="11.1" fill="url(#gC)"/><circle cx="43.5" cy="1615.4" r="10.8" fill="url(#gT)"/><circle cx="119" cy="1352.4" r="12" fill="url(#gC)"/><circle cx="52.5" cy="1417.8" r="11.4" fill="url(#gT)"/><circle cx="100" cy="1736.2" r="11.2" fill="url(#gC)"/><circle cx="46.4" cy="1148.5" r="11" fill="url(#gT)"/><circle cx="136" cy="1708.4" r="11" fill="url(#gT)"/><circle cx="39.2" cy="1286.9" r="10.8" fill="url(#gC)"/><circle cx="96.7" cy="922.8" r="11.1" fill="url(#gT)"/><circle cx="40" cy="923.1" r="11.1" fill="url(#gT)"/><circle cx="138.7" cy="1557.8" r="11.9" fill="url(#gG)"/><circle cx="52.5" cy="1751.4" r="11.4" fill="url(#gT)"/><circle cx="37" cy="1630.1" r="11.4" fill="url(#gT)"/><circle cx="52.9" cy="977.9" r="11.1" fill="url(#gT)"/><circle cx="123" cy="969.7" r="11.7" fill="url(#gT)"/><circle cx="75.4" cy="1442.5" r="11.6" fill="url(#gG)"/><circle cx="67.7" cy="985" r="10.8" fill="url(#gT)"/><circle cx="107.8" cy="1583.1" r="10.8" fill="url(#gT)"/><circle cx="64.8" cy="858.3" r="10.7" fill="url(#gT)"/><circle cx="105.8" cy="1333.2" r="11.6" fill="url(#gT)"/><circle cx="64.6" cy="1292.9" r="11" fill="url(#gG)"/><circle cx="25.7" cy="1073.3" r="11.8" fill="url(#gG)"/><circle cx="166" cy="1331.1" r="10.7" fill="url(#gC)"/><circle cx="138.7" cy="1703.8" r="10.9" fill="url(#gT)"/><circle cx="151.9" cy="910.6" r="11.2" fill="url(#gT)"/><circle cx="131.3" cy="1219.6" r="11.7" fill="url(#gG)"/><circle cx="171.4" cy="1098.4" r="10.7" fill="url(#gT)"/><circle cx="166.9" cy="1431" r="10.8" fill="url(#gC)"/><circle cx="33.1" cy="894.9" r="11" fill="url(#gG)"/><circle cx="147.1" cy="1711.5" r="11.8" fill="url(#gC)"/><circle cx="101.6" cy="1447.8" r="10.6" fill="url(#gT)"/><circle cx="32.2" cy="859.9" r="11.7" fill="url(#gT)"/><circle cx="55.5" cy="1623.6" r="11.7" fill="url(#gN)"/><circle cx="48.6" cy="986.7" r="11.3" fill="url(#gT)"/><circle cx="80.2" cy="1236" r="11.7" fill="url(#gG)"/><circle cx="159.8" cy="1180.2" r="10.7" fill="url(#gG)"/><circle cx="171.5" cy="1504.8" r="10.9" fill="url(#gG)"/><circle cx="32.9" cy="1121.8" r="11.2" fill="url(#gT)"/><circle cx="164.8" cy="1215.5" r="10.8" fill="url(#gT)"/><circle cx="160.4" cy="1032.8" r="11.8" fill="url(#gT)"/><circle cx="138.9" cy="925.5" r="11" fill="url(#gC)"/><circle cx="140" cy="1297" r="10.7" fill="url(#gT)"/><circle cx="63.4" cy="1437.1" r="11.2" fill="url(#gN)"/><circle cx="59.7" cy="1160" r="11.4" fill="url(#gT)"/><circle cx="58.7" cy="901.8" r="10.8" fill="url(#gT)"/><circle cx="67.2" cy="1595.3" r="11.6" fill="url(#gT)"/><circle cx="44.6" cy="1663.4" r="12" fill="url(#gC)"/><circle cx="68.1" cy="1254.9" r="10.8" fill="url(#gT)"/><circle cx="95.2" cy="856.6" r="11.1" fill="url(#gT)"/><circle cx="134.8" cy="994.7" r="11.3" fill="url(#gT)"/><circle cx="64" cy="1682.8" r="11" fill="url(#gT)"/><circle cx="74.4" cy="1611.2" r="11.6" fill="url(#gG)"/><circle cx="82.4" cy="1708.2" r="11.5" fill="url(#gT)"/><circle cx="87" cy="1545.1" r="11.1" fill="url(#gG)"/><circle cx="116.2" cy="1608.8" r="11.2" fill="url(#gG)"/><circle cx="40.1" cy="904.7" r="10.8" fill="url(#gC)"/><circle cx="133.7" cy="1140" r="11.2" fill="url(#gT)"/><circle cx="47.7" cy="1352.8" r="11.8" fill="url(#gT)"/><circle cx="169" cy="1116.9" r="11.7" fill="url(#gN)"/><circle cx="156" cy="1389.3" r="11.9" fill="url(#gT)"/><circle cx="70.2" cy="1319.1" r="11.6" fill="url(#gC)"/><circle cx="121" cy="1674.8" r="10.7" fill="url(#gT)"/><circle cx="140.8" cy="975.3" r="10.8" fill="url(#gN)"/><circle cx="37.7" cy="929.8" r="11.3" fill="url(#gT)"/><circle cx="147.9" cy="1294.4" r="11.9" fill="url(#gC)"/><circle cx="76.8" cy="1767.4" r="11.3" fill="url(#gC)"/><circle cx="49.5" cy="1197.2" r="11.3" fill="url(#gT)"/><circle cx="76.5" cy="1312.2" r="11.5" fill="url(#gG)"/><circle cx="77.9" cy="910.6" r="10.6" fill="url(#gC)"/><circle cx="42.6" cy="1343.6" r="11.8" fill="url(#gT)"/><circle cx="109.2" cy="1237" r="11.7" fill="url(#gT)"/><circle cx="74.8" cy="1254.8" r="11.5" fill="url(#gT)"/><circle cx="104.3" cy="916.8" r="11.6" fill="url(#gG)"/><circle cx="54.5" cy="1303.8" r="11.9" fill="url(#gG)"/><circle cx="132.3" cy="951.3" r="11.8" fill="url(#gG)"/><circle cx="85.4" cy="916.1" r="10.5" fill="url(#gC)"/><circle cx="57" cy="1704.3" r="11" fill="url(#gT)"/><circle cx="106.4" cy="1016" r="10.7" fill="url(#gG)"/><circle cx="91.5" cy="1353.5" r="11.2" fill="url(#gN)"/><circle cx="141.7" cy="1635" r="10.6" fill="url(#gT)"/><circle cx="131.4" cy="1259" r="11.3" fill="url(#gG)"/><circle cx="50.4" cy="1622.2" r="11.8" fill="url(#gG)"/><circle cx="155" cy="1545" r="10.8" fill="url(#gT)"/><circle cx="59.9" cy="1398" r="11.5" fill="url(#gC)"/><circle cx="119.7" cy="1216.3" r="11.6" fill="url(#gG)"/><circle cx="117" cy="912.2" r="10.7" fill="url(#gG)"/><circle cx="28.6" cy="1019.7" r="11.5" fill="url(#gT)"/><circle cx="153.6" cy="1001.2" r="10.6" fill="url(#gC)"/><circle cx="98.8" cy="1296.7" r="10.7" fill="url(#gG)"/><circle cx="149.9" cy="1502.5" r="11.9" fill="url(#gG)"/><circle cx="39.7" cy="1664.3" r="11.1" fill="url(#gC)"/><circle cx="47.3" cy="1744.4" r="11.7" fill="url(#gG)"/><circle cx="46.7" cy="1755.1" r="10.7" fill="url(#gT)"/><circle cx="65.5" cy="1031.6" r="11.2" fill="url(#gG)"/><circle cx="43" cy="1504.3" r="10.8" fill="url(#gT)"/><circle cx="159.2" cy="1540" r="11.7" fill="url(#gG)"/><circle cx="129.8" cy="1756.1" r="11.4" fill="url(#gG)"/><circle cx="98.7" cy="879.8" r="11.1" fill="url(#gT)"/><circle cx="55.7" cy="1336.9" r="11.6" fill="url(#gT)"/><circle cx="121.2" cy="1722.5" r="11.7" fill="url(#gT)"/><circle cx="162.9" cy="1018.1" r="11.2" fill="url(#gG)"/><circle cx="137.9" cy="952.9" r="10.9" fill="url(#gT)"/><circle cx="149.8" cy="1290.5" r="11.3" fill="url(#gT)"/><circle cx="142.3" cy="1684.7" r="11.6" fill="url(#gG)"/><circle cx="150.4" cy="1510" r="11.2" fill="url(#gN)"/><circle cx="134.8" cy="1579.8" r="10.9" fill="url(#gG)"/><circle cx="106.4" cy="1474.4" r="10.8" fill="url(#gG)"/><circle cx="42.9" cy="1704.2" r="11.7" fill="url(#gT)"/><circle cx="107.5" cy="1682.8" r="11.3" fill="url(#gC)"/><circle cx="141.9" cy="1762.5" r="11.1" fill="url(#gC)"/><circle cx="159.4" cy="1517.6" r="10.8" fill="url(#gN)"/><circle cx="57.5" cy="1161.5" r="10.6" fill="url(#gT)"/><circle cx="115.7" cy="1651.7" r="11.1" fill="url(#gG)"/><circle cx="135.4" cy="966.7" r="11.7" fill="url(#gG)"/><circle cx="100.3" cy="1157.4" r="10.7" fill="url(#gN)"/><circle cx="29.2" cy="1269.3" r="11" fill="url(#gT)"/><circle cx="27.6" cy="1062.4" r="11.5" fill="url(#gG)"/><circle cx="153.1" cy="1418.7" r="10.6" fill="url(#gG)"/><circle cx="27.8" cy="1107.1" r="10.7" fill="url(#gT)"/><circle cx="109" cy="1327.1" r="11.9" fill="url(#gT)"/><circle cx="141.1" cy="1367.3" r="11.2" fill="url(#gT)"/><circle cx="72.5" cy="1006.3" r="11.5" fill="url(#gT)"/><circle cx="32.1" cy="1297.3" r="12" fill="url(#gT)"/><circle cx="53.7" cy="1635" r="11.5" fill="url(#gT)"/><circle cx="120" cy="1234.8" r="11.3" fill="url(#gT)"/><circle cx="166.4" cy="1297" r="10.8" fill="url(#gT)"/><circle cx="25.5" cy="1690.9" r="11.9" fill="url(#gT)"/><circle cx="135.7" cy="1388.6" r="11" fill="url(#gC)"/><circle cx="122.3" cy="1591.4" r="11.6" fill="url(#gC)"/><circle cx="78.5" cy="1161.8" r="11.4" fill="url(#gT)"/><circle cx="84.6" cy="1716.4" r="11.9" fill="url(#gT)"/><circle cx="34.6" cy="855.1" r="10.7" fill="url(#gN)"/><circle cx="161.4" cy="1012.2" r="11" fill="url(#gG)"/><circle cx="68.6" cy="1380.8" r="11.7" fill="url(#gT)"/><circle cx="55.1" cy="1762.6" r="11.4" fill="url(#gT)"/><circle cx="59.5" cy="1074.4" r="11" fill="url(#gG)"/><circle cx="26.6" cy="1686.4" r="11.4" fill="url(#gN)"/><circle cx="146.3" cy="1504" r="11" fill="url(#gG)"/>
<path d="M87 1651l4 1M87 1651l-1 4M61 1154l4 1M136 1450l0 -5M136 1450l5 -1M137 977l2 2M137 977l-3 1M66 1419l0 3M66 1419l-3 1M130 1477l-5 1M143 868l-1 3M143 868l-3 -1M147 1685l3 2M86 1716l1 5M136 1265l2 4M136 1265l-5 0M138 903l-2 4M138 903l-2 -4M137 1378l0 -4M129 1104l2 2M40 880l3 -4M97 1108l1 4M104 866l-5 -1M104 866l0 -5M88 1508l4 0M88 1508l0 4M60 1572l4 2M60 1572l-1 4M74 1258l3 3M74 1258l-4 2M53 1427l2 -4M53 1427l2 4M119 903l-1 2M119 903l-2 -2M71 1246l2 -1M71 1246l2 2M135 1500l2 3M135 1500l-2 4M29 1256l1 3M29 1256l-3 1M105 911l-5 1M154 1192l-3 3M74 1752l-1 4M74 1752l-2 -4M102 1250l0 -5M54 1085l-2 3M158 1449l-3 3M56 1546l-2 -3M56 1546l3 -2M40 1419l5 -2M127 1253l3 -3M127 1253l0 4M71 1673l1 -3M71 1673l3 0M43 1480l4 -2M69 892l-4 -3M69 892l2 -4M66 1466l-4 0M173 1524l1 5M173 1524l-4 3M71 1525l-2 -2M63 1221l0 3M63 1221l-3 -1M158 1568l5 0M127 1597l-2 5M127 1597l-5 1M71 1285l-5 -1M71 1285l1 -5M74 956l-3 3M69 1202l-2 2M80 1201l-3 2M80 1201l0 -4M88 1536l-3 2M88 1536l-1 -3M99 1218l2 -3M99 1218l3 2M67 1442l-4 -2M67 1442l2 -3M57 1648l2 4M57 1648l-5 0M176 1052l3 2M122 1747l1 3M122 1747l-3 2M34 1124l-4 -1M34 1124l1 -4M53 958l-2 -4M53 958l5 -2M142 1455l4 2M142 1455l0 4M124 1529l4 4M124 1529l-3 4M39 1134l2 -3M49 1456l3 2M127 1046l-3 -1M161 1191l0 3M161 1191l-2 1M42 1195l0 4M42 1195l-4 1M101 1565l-3 0M101 1565l-1 -3M120 1387l-3 0M68 1341l-4 2M68 1341l-1 -4M98 1601l3 -2M98 1601l1 3M150 930l1 4M150 930l-4 1M70 1621l-1 2M178 1490l-1 -3M178 1490l3 -1M167 988l4 1M167 988l-2 4M78 1090l1 -4M78 1090l4 -1M102 1031l-1 3M102 1031l-1 -3M144 1496l-5 3M144 1496l-3 -5M112 1368l3 -1M92 1448l-4 -1M105 952l-4 1M157 1623l-1 -3M157 1623l3 0M58 1613l3 0M58 1613l-2 3M114 1359l5 -2M114 1359l-2 5M128 1097l-2 3M112 1671l3 1M112 1671l-2 3M164 1113l0 3M93 1003l1 -3M93 1003l2 2M81 1266l4 1M81 1266l-2 3M35 1644l4 2M35 1644l0 5M40 1716l-4 3M140 1313l1 4M91 858l5 0M91 858l-2 5M106 1543l0 4M85 1153l1 4M85 1153l-4 -1M144 1184l2 -4M144 1184l2 4M10 1736l-3 2M103 1418l-1 -3M97 871l-5 -2M33 1703l1 -4M122 909l-3 -3M121 1424l3 0M121 1424l0 3M39 1730l-2 -1M39 1730l1 -2M71 1311l-2 2M27 1104l2 3M40 1016l3 3M40 1016l-2 4M46 1454l-2 2M46 1454l-2 -2M112 1240l-2 -5M46 1400l-3 -2M46 1400l1 -3M94 962l1 -4M113 1416l-2 -3M37 1434l3 -2M37 1434l2 2M30 1461l-2 -2M30 1461l2 -2M41 1542l-4 -1M41 1542l0 -4M75 1724l3 3M97 1075l-4 3M97 1075l-4 -3M103 1598l-2 2M65 1709l4 -2M65 1709l2 4M111 1143l3 0M69 936l1 5M69 936l-5 0M60 903l-4 -2M60 903l5 -2M53 1071l-2 -2M53 1071l2 -2M162 933l1 -4M51 1611l1 -4M162 1350l3 -2M162 1350l1 4M78 1716l-1 -2M78 1716l3 -1M111 948l5 0M52 1370l4 3M52 1370l-5 1M158 1091l5 2M30 1245l-5 -1M115 1001l4 3M69 1662l-1 -3M69 1662l3 0M71 1380l3 -2M71 1380l0 3M147 930l3 -1M147 930l1 3M89 1675l-5 2M163 1317l-2 1M163 1317l0 -3M70 917l5 -1M70 917l1 5M85 1326l1 -3M85 1326l2 3M102 1531l3 3M87 985l4 0M87 985l2 3M34 1308l1 3M144 1013l5 2M128 1053l0 -3M119 1259l0 3M107 908l-2 4M107 908l-4 -3M125 1061l-1 2M151 989l-1 3M151 989l-3 -1M113 1481l2 4M113 1481l-5 2M112 1460l-2 2M112 1460l0 -3M50 1183l-2 -3M50 1183l3 -2M84 1017l-5 0M100 949l2 -3M100 949l2 3M176 1478l0 5M176 1478l-5 0M66 1446l-1 3M144 1135l-1 -2M65 1045l3 -2M65 1045l3 3M127 1621l-1 -5M127 1621l4 2M27 1021l3 -3M121 1667l-1 -3M23 1674l-2 3M23 1674l-3 -1M52 1176l3 -3M52 1176l0 4M88 1712l-5 -1M88 1677l-5 2M88 1677l0 -5M177 1034l-3 0M159 1335l-3 2M159 1335l-2 -3M122 1654l-1 3M103 1065l2 4M121 1548l1 -3M121 1548l3 1M46 1511l4 4M46 1511l-2 5M149 1291l-4 1M149 1291l-2 -4M80 1352l1 4M145 1138l-4 2M145 1138l-3 -3M147 1557l-4 0M147 1557l3 -3M89 1376l-3 -2M89 1376l0 -3M158 1228l-2 -3M158 1228l1 -3M38 1286l-2 3M38 1286l-3 -2M31 1446l0 3M31 1446l-3 1M156 1201l-2 -3M13 1048l-5 1M13 1048l0 -5M167 1355l-4 1M167 1355l0 -5M47 1329l2 -2M75 931l3 1M75 931l-2 3M91 1183l-1 -3M91 1183l3 -2M65 1209l4 0M82 1770l1 -5M82 1770l5 1M105 1177l-3 4M56 1449l3 2M56 1449l-3 2M109 1249l-3 1M109 1249l-1 -3M130 1511l-4 0M130 1511l1 -3M82 1074l5 -1M46 851l-1 -3M150 1174l-3 0M150 1174l1 -3M30 1706l-3 1M30 1706l-2 -2M110 946l3 -3M110 946l2 4M35 1725l0 3M143 1061l2 -2M97 984l2 2M97 984l-3 -1M162 1464l-3 0M162 1464l2 -2M153 891l-3 -3M153 891l2 -3M29 1263l3 -1M57 1592l-4 2M69 949l3 4M69 949l-4 1M71 869l1 2M71 869l-3 0M52 1473l-4 -3M73 1506l5 0M73 1506l-2 5M145 1613l-1 3M145 1613l-3 -2M94 1359l-1 -4M94 1359l3 -3M102 1267l3 2M102 1267l-2 3M59 1327l-5 -1M32 970l1 4M32 970l-3 -1M77 992l-1 2M27 1496l1 3M27 1496l-3 0M73 1339l-3 -1M73 1339l2 -2M78 1130l5 -2M48 1084l-4 2M54 1227l-2 -5M54 1227l3 -4M133 1429l-1 -5M51 1515l-1 -3M131 1148l2 2M131 1148l0 3M140 1163l1 -4M140 1163l4 -1M153 1536l3 4M153 1536l-4 2M15 1070l3 4M15 1070l-5 2M182 1447l3 0M182 1447l0 3M171 1017l-2 2M171 1017l-2 -2M89 1459l-1 3M89 1459l-3 -1M74 922l-3 1M74 922l-2 -2M126 1428l-1 -3M126 1428l4 -1M146 1676l-2 -3M146 1676l2 -2M82 1211l1 3M82 1211l-2 -1M110 1363l0 3M110 1363l-3 -1M69 1505l-2 -1M69 1505l2 -2M42 1071l3 4M42 1071l-4 3M64 1173l2 -3M135 1056l0 5M178 1490l1 5M47 1211l3 5M47 1211l-4 4M54 1447l2 -3M121 1704l5 -2M121 1704l0 5M147 1480l2 4M147 1480l-3 4M81 1323l-5 0M54 1286l2 -5M54 1286l3 4M24 1474l-4 -4M24 1474l5 -2M181 1452l-1 2M181 1452l-2 -2M110 1002l0 -4M116 1673l-5 -1M107 1634l-4 -1M53 1372l-3 0M53 1372l1 -3M111 1552l-1 5M107 1463l3 0M107 1463l0 3M38 1503l-2 -4M121 1072l2 -4M121 1072l4 0M110 1171l3 -1M110 1171l0 3M16 1704l-5 0M154 1496l-1 -3M154 1496l3 1M20 1768l-2 2M115 1636l-4 1M115 1636l1 -4M81 1272l-1 2M81 1272l-1 -2M132 1570l1 3M88 1298l-2 4M88 1298l-4 -1M92 1358l1 -3M92 1358l3 2M139 1661l-3 -4M79 877l4 3M79 877l-3 4M21 1074l4 -1M21 1074l1 4M58 1441l4 3M58 1441l-4 3M78 1692l-1 -3M152 1479l-1 3M152 1479l-2 -3M126 1402l3 0M126 1402l1 3M78 1498l-3 3M54 1772l-1 5M54 1772l-3 -4M114 1491l-4 -2M114 1491l1 -4M69 1461l-2 -2M147 1503l-3 -2M17 1738l4 -3M17 1738l0 4M80 1286l0 5M80 1286l-5 2M166 1482l4 -4M166 1482l4 4M105 1351l-3 2M105 1351l-3 -2M74 1282l2 1M74 1282l0 3M73 1503l0 -5M66 1267l1 4M66 1267l-4 -1M35 1246l-3 1M161 1156l-2 -3M93 1077l-4 3M93 1077l-3 -4M158 1207l-5 -1M36 1035l2 2M36 1035l-2 2M66 1657l-1 5M66 1657l-5 1M60 1230l2 -3M60 1230l3 3M89 1005l2 -3M89 1005l4 1M118 1695l5 -1M101 1135l-1 2M75 1431l-2 -2M120 1752l3 -2M120 1752l1 3M123 1025l0 -4M123 1025l4 1M112 1547l-3 3M112 1547l-3 -3M117 1087l-4 -4M117 1087l5 -1M125 1587l2 -3M125 1587l2 3M102 1461l3 -3M102 1461l1 4M176 1300l-3 0M176 1300l-1 -3M139 1524l4 3M47 955l5 -1M50 1539l4 2M50 1539l-4 3M72 1391l-2 -3M72 1391l3 -1M82 1117l-2 -4M82 1117l3 -3M141 1714l-2 -1M141 1714l0 -3M54 945l3 3M54 945l-4 1M130 1215l2 3M130 1215l-3 0M35 1477l2 4" stroke="#c4c4c4" stroke-width="6.2" fill="none" stroke-linecap="round"/>
<path d="M87 1651l4 1M87 1651l-1 4M61 1154l4 1M136 1450l0 -5M136 1450l5 -1M137 977l2 2M137 977l-3 1M66 1419l0 3M66 1419l-3 1M130 1477l-5 1M143 868l-1 3M143 868l-3 -1M147 1685l3 2M86 1716l1 5M136 1265l2 4M136 1265l-5 0M138 903l-2 4M138 903l-2 -4M137 1378l0 -4M129 1104l2 2M40 880l3 -4M97 1108l1 4M104 866l-5 -1M104 866l0 -5M88 1508l4 0M88 1508l0 4M60 1572l4 2M60 1572l-1 4M74 1258l3 3M74 1258l-4 2M53 1427l2 -4M53 1427l2 4M119 903l-1 2M119 903l-2 -2M71 1246l2 -1M71 1246l2 2M135 1500l2 3M135 1500l-2 4M29 1256l1 3M29 1256l-3 1M105 911l-5 1M154 1192l-3 3M74 1752l-1 4M74 1752l-2 -4M102 1250l0 -5M54 1085l-2 3M158 1449l-3 3M56 1546l-2 -3M56 1546l3 -2M40 1419l5 -2M127 1253l3 -3M127 1253l0 4M71 1673l1 -3M71 1673l3 0M43 1480l4 -2M69 892l-4 -3M69 892l2 -4M66 1466l-4 0M173 1524l1 5M173 1524l-4 3M71 1525l-2 -2M63 1221l0 3M63 1221l-3 -1M158 1568l5 0M127 1597l-2 5M127 1597l-5 1M71 1285l-5 -1M71 1285l1 -5M74 956l-3 3M69 1202l-2 2M80 1201l-3 2M80 1201l0 -4M88 1536l-3 2M88 1536l-1 -3M99 1218l2 -3M99 1218l3 2M67 1442l-4 -2M67 1442l2 -3M57 1648l2 4M57 1648l-5 0M176 1052l3 2M122 1747l1 3M122 1747l-3 2M34 1124l-4 -1M34 1124l1 -4M53 958l-2 -4M53 958l5 -2M142 1455l4 2M142 1455l0 4M124 1529l4 4M124 1529l-3 4M39 1134l2 -3M49 1456l3 2M127 1046l-3 -1M161 1191l0 3M161 1191l-2 1M42 1195l0 4M42 1195l-4 1M101 1565l-3 0M101 1565l-1 -3M120 1387l-3 0M68 1341l-4 2M68 1341l-1 -4M98 1601l3 -2M98 1601l1 3M150 930l1 4M150 930l-4 1M70 1621l-1 2M178 1490l-1 -3M178 1490l3 -1M167 988l4 1M167 988l-2 4M78 1090l1 -4M78 1090l4 -1M102 1031l-1 3M102 1031l-1 -3M144 1496l-5 3M144 1496l-3 -5M112 1368l3 -1M92 1448l-4 -1M105 952l-4 1M157 1623l-1 -3M157 1623l3 0M58 1613l3 0M58 1613l-2 3M114 1359l5 -2M114 1359l-2 5M128 1097l-2 3M112 1671l3 1M112 1671l-2 3M164 1113l0 3M93 1003l1 -3M93 1003l2 2M81 1266l4 1M81 1266l-2 3M35 1644l4 2M35 1644l0 5M40 1716l-4 3M140 1313l1 4M91 858l5 0M91 858l-2 5M106 1543l0 4M85 1153l1 4M85 1153l-4 -1M144 1184l2 -4M144 1184l2 4M10 1736l-3 2M103 1418l-1 -3M97 871l-5 -2M33 1703l1 -4M122 909l-3 -3M121 1424l3 0M121 1424l0 3M39 1730l-2 -1M39 1730l1 -2M71 1311l-2 2M27 1104l2 3M40 1016l3 3M40 1016l-2 4M46 1454l-2 2M46 1454l-2 -2M112 1240l-2 -5M46 1400l-3 -2M46 1400l1 -3M94 962l1 -4M113 1416l-2 -3M37 1434l3 -2M37 1434l2 2M30 1461l-2 -2M30 1461l2 -2M41 1542l-4 -1M41 1542l0 -4M75 1724l3 3M97 1075l-4 3M97 1075l-4 -3M103 1598l-2 2M65 1709l4 -2M65 1709l2 4M111 1143l3 0M69 936l1 5M69 936l-5 0M60 903l-4 -2M60 903l5 -2M53 1071l-2 -2M53 1071l2 -2M162 933l1 -4M51 1611l1 -4M162 1350l3 -2M162 1350l1 4M78 1716l-1 -2M78 1716l3 -1M111 948l5 0M52 1370l4 3M52 1370l-5 1M158 1091l5 2M30 1245l-5 -1M115 1001l4 3M69 1662l-1 -3M69 1662l3 0M71 1380l3 -2M71 1380l0 3M147 930l3 -1M147 930l1 3M89 1675l-5 2M163 1317l-2 1M163 1317l0 -3M70 917l5 -1M70 917l1 5M85 1326l1 -3M85 1326l2 3M102 1531l3 3M87 985l4 0M87 985l2 3M34 1308l1 3M144 1013l5 2M128 1053l0 -3M119 1259l0 3M107 908l-2 4M107 908l-4 -3M125 1061l-1 2M151 989l-1 3M151 989l-3 -1M113 1481l2 4M113 1481l-5 2M112 1460l-2 2M112 1460l0 -3M50 1183l-2 -3M50 1183l3 -2M84 1017l-5 0M100 949l2 -3M100 949l2 3M176 1478l0 5M176 1478l-5 0M66 1446l-1 3M144 1135l-1 -2M65 1045l3 -2M65 1045l3 3M127 1621l-1 -5M127 1621l4 2M27 1021l3 -3M121 1667l-1 -3M23 1674l-2 3M23 1674l-3 -1M52 1176l3 -3M52 1176l0 4M88 1712l-5 -1M88 1677l-5 2M88 1677l0 -5M177 1034l-3 0M159 1335l-3 2M159 1335l-2 -3M122 1654l-1 3M103 1065l2 4M121 1548l1 -3M121 1548l3 1M46 1511l4 4M46 1511l-2 5M149 1291l-4 1M149 1291l-2 -4M80 1352l1 4M145 1138l-4 2M145 1138l-3 -3M147 1557l-4 0M147 1557l3 -3M89 1376l-3 -2M89 1376l0 -3M158 1228l-2 -3M158 1228l1 -3M38 1286l-2 3M38 1286l-3 -2M31 1446l0 3M31 1446l-3 1M156 1201l-2 -3M13 1048l-5 1M13 1048l0 -5M167 1355l-4 1M167 1355l0 -5M47 1329l2 -2M75 931l3 1M75 931l-2 3M91 1183l-1 -3M91 1183l3 -2M65 1209l4 0M82 1770l1 -5M82 1770l5 1M105 1177l-3 4M56 1449l3 2M56 1449l-3 2M109 1249l-3 1M109 1249l-1 -3M130 1511l-4 0M130 1511l1 -3M82 1074l5 -1M46 851l-1 -3M150 1174l-3 0M150 1174l1 -3M30 1706l-3 1M30 1706l-2 -2M110 946l3 -3M110 946l2 4M35 1725l0 3M143 1061l2 -2M97 984l2 2M97 984l-3 -1M162 1464l-3 0M162 1464l2 -2M153 891l-3 -3M153 891l2 -3M29 1263l3 -1M57 1592l-4 2M69 949l3 4M69 949l-4 1M71 869l1 2M71 869l-3 0M52 1473l-4 -3M73 1506l5 0M73 1506l-2 5M145 1613l-1 3M145 1613l-3 -2M94 1359l-1 -4M94 1359l3 -3M102 1267l3 2M102 1267l-2 3M59 1327l-5 -1M32 970l1 4M32 970l-3 -1M77 992l-1 2M27 1496l1 3M27 1496l-3 0M73 1339l-3 -1M73 1339l2 -2M78 1130l5 -2M48 1084l-4 2M54 1227l-2 -5M54 1227l3 -4M133 1429l-1 -5M51 1515l-1 -3M131 1148l2 2M131 1148l0 3M140 1163l1 -4M140 1163l4 -1M153 1536l3 4M153 1536l-4 2M15 1070l3 4M15 1070l-5 2M182 1447l3 0M182 1447l0 3M171 1017l-2 2M171 1017l-2 -2M89 1459l-1 3M89 1459l-3 -1M74 922l-3 1M74 922l-2 -2M126 1428l-1 -3M126 1428l4 -1M146 1676l-2 -3M146 1676l2 -2M82 1211l1 3M82 1211l-2 -1M110 1363l0 3M110 1363l-3 -1M69 1505l-2 -1M69 1505l2 -2M42 1071l3 4M42 1071l-4 3M64 1173l2 -3M135 1056l0 5M178 1490l1 5M47 1211l3 5M47 1211l-4 4M54 1447l2 -3M121 1704l5 -2M121 1704l0 5M147 1480l2 4M147 1480l-3 4M81 1323l-5 0M54 1286l2 -5M54 1286l3 4M24 1474l-4 -4M24 1474l5 -2M181 1452l-1 2M181 1452l-2 -2M110 1002l0 -4M116 1673l-5 -1M107 1634l-4 -1M53 1372l-3 0M53 1372l1 -3M111 1552l-1 5M107 1463l3 0M107 1463l0 3M38 1503l-2 -4M121 1072l2 -4M121 1072l4 0M110 1171l3 -1M110 1171l0 3M16 1704l-5 0M154 1496l-1 -3M154 1496l3 1M20 1768l-2 2M115 1636l-4 1M115 1636l1 -4M81 1272l-1 2M81 1272l-1 -2M132 1570l1 3M88 1298l-2 4M88 1298l-4 -1M92 1358l1 -3M92 1358l3 2M139 1661l-3 -4M79 877l4 3M79 877l-3 4M21 1074l4 -1M21 1074l1 4M58 1441l4 3M58 1441l-4 3M78 1692l-1 -3M152 1479l-1 3M152 1479l-2 -3M126 1402l3 0M126 1402l1 3M78 1498l-3 3M54 1772l-1 5M54 1772l-3 -4M114 1491l-4 -2M114 1491l1 -4M69 1461l-2 -2M147 1503l-3 -2M17 1738l4 -3M17 1738l0 4M80 1286l0 5M80 1286l-5 2M166 1482l4 -4M166 1482l4 4M105 1351l-3 2M105 1351l-3 -2M74 1282l2 1M74 1282l0 3M73 1503l0 -5M66 1267l1 4M66 1267l-4 -1M35 1246l-3 1M161 1156l-2 -3M93 1077l-4 3M93 1077l-3 -4M158 1207l-5 -1M36 1035l2 2M36 1035l-2 2M66 1657l-1 5M66 1657l-5 1M60 1230l2 -3M60 1230l3 3M89 1005l2 -3M89 1005l4 1M118 1695l5 -1M101 1135l-1 2M75 1431l-2 -2M120 1752l3 -2M120 1752l1 3M123 1025l0 -4M123 1025l4 1M112 1547l-3 3M112 1547l-3 -3M117 1087l-4 -4M117 1087l5 -1M125 1587l2 -3M125 1587l2 3M102 1461l3 -3M102 1461l1 4M176 1300l-3 0M176 1300l-1 -3M139 1524l4 3M47 955l5 -1M50 1539l4 2M50 1539l-4 3M72 1391l-2 -3M72 1391l3 -1M82 1117l-2 -4M82 1117l3 -3M141 1714l-2 -1M141 1714l0 -3M54 945l3 3M54 945l-4 1M130 1215l2 3M130 1215l-3 0M35 1477l2 4" stroke="#fdfdfd" stroke-width="4.8" fill="none" stroke-linecap="round"/>
<clipPath id="cutL"><rect x="-5" y="0" width="108" height="300"/></clipPath>
<clipPath id="cut0"><rect x="-5" y="0" width="109" height="300"/></clipPath>
<clipPath id="cut1"><rect x="-5" y="0" width="109" height="300"/></clipPath>
<clipPath id="cut2"><rect x="-5" y="0" width="109" height="300"/></clipPath>
<clipPath id="cut3"><rect x="-5" y="0" width="107" height="300"/></clipPath>
<clipPath id="cut4"><rect x="-5" y="0" width="105" height="300"/></clipPath>
<g transform="translate(300.5 830.5)">
<ellipse cx="143" cy="172" rx="32" ry="26" fill="#1f7d9e" fill-opacity="0.2" filter="url(#b4)"/>
<ellipse cx="152" cy="164" rx="15" ry="16" fill="#1f7d9e" fill-opacity="0.85" filter="url(#b3)"/>
<ellipse cx="133" cy="181" rx="18" ry="13" fill="#1f7d9e" fill-opacity="0.9" transform="rotate(25 133 181)" filter="url(#b3)"/>
<ellipse cx="200.8" cy="50.5" rx="22" ry="20.5" fill="#1f7d9e" filter="url(#b2)"/>
<ellipse cx="216" cy="265.5" rx="23.4" ry="16.5" fill="#1f7d9e" transform="rotate(18 216 265.5)" filter="url(#b2)"/>
<ellipse cx="40" cy="169.5" rx="28.5" ry="13.2" fill="#1f7d9e" transform="rotate(-7 40 169.5)" filter="url(#b1)"/>
<ellipse cx="63" cy="163" rx="14" ry="9" fill="#1f7d9e" transform="rotate(-25 63 163)" filter="url(#b1)"/>
<ellipse cx="83" cy="144" rx="26" ry="11.5" fill="#1f7d9e" transform="rotate(-36 83 144)" filter="url(#b1)"/>
<ellipse cx="89" cy="160.5" rx="12" ry="6.5" fill="#1f7d9e" transform="rotate(-10 89 160.5)" filter="url(#b1)"/>
</g>
<g transform="translate(651 830.5)">
<ellipse cx="143" cy="162" rx="38" ry="42" fill="#ff7f17" fill-opacity="0.3" filter="url(#b4)"/>
<ellipse cx="160" cy="158" rx="13" ry="22" fill="#ff7f17" fill-opacity="0.5" filter="url(#b3)"/>
<ellipse cx="132" cy="186" rx="22" ry="13" fill="#ff7f17" fill-opacity="0.8" transform="rotate(25 132 186)" filter="url(#b3)"/>
<ellipse cx="202" cy="49.2" rx="22.8" ry="22" fill="#ff7f17" transform="rotate(-10 202 49.2)" filter="url(#b2)"/>
<ellipse cx="217.5" cy="267" rx="26.5" ry="18.8" fill="#ff7f17" transform="rotate(15 217.5 267)" filter="url(#b2)"/>
<ellipse cx="44.7" cy="168.3" rx="32.6" ry="13.9" fill="#ff7f17" transform="rotate(-8 44.7 168.3)" filter="url(#b1)"/>
<ellipse cx="70" cy="161" rx="15" ry="10" fill="#ff7f17" transform="rotate(-25 70 161)" filter="url(#b1)"/>
<ellipse cx="89" cy="142" rx="28.5" ry="13.5" fill="#ff7f17" transform="rotate(-36 89 142)" filter="url(#b1)"/>
<ellipse cx="96.8" cy="157.7" rx="14" ry="8" fill="#ff7f17" transform="rotate(-5 96.8 157.7)" filter="url(#b1)"/>
</g>
<g transform="translate(1001.5 830.5)">
<ellipse cx="142" cy="166" rx="38" ry="44" fill="#1fa21f" fill-opacity="0.3" filter="url(#b4)"/>
<ellipse cx="120" cy="150" rx="12" ry="14" fill="#1fa21f" fill-opacity="0.5" filter="url(#b3)"/>
<ellipse cx="199.5" cy="50" rx="25.5" ry="24.5" fill="#1fa21f" filter="url(#b2)"/>
<ellipse cx="214.5" cy="267.5" rx="26.5" ry="20.4" fill="#1fa21f" transform="rotate(15 214.5 267.5)" filter="url(#b2)"/>
<ellipse cx="42.4" cy="168.8" rx="31.4" ry="14.5" fill="#1fa21f" transform="rotate(-7 42.4 168.8)" filter="url(#b1)"/>
<ellipse cx="68" cy="162" rx="15" ry="10" fill="#1fa21f" transform="rotate(-25 68 162)" filter="url(#b1)"/>
<ellipse cx="89.5" cy="143" rx="29" ry="13.5" fill="#1fa21f" transform="rotate(-38 89.5 143)" filter="url(#b1)"/>
<ellipse cx="99" cy="161.4" rx="12" ry="7.5" fill="#1fa21f" transform="rotate(-5 99 161.4)" filter="url(#b1)"/>
<ellipse cx="150" cy="163" rx="22" ry="28" fill="#1fa21f" filter="url(#b3)"/>
<ellipse cx="127" cy="188" rx="23" ry="13" fill="#1fa21f" transform="rotate(25 127 188)" filter="url(#b3)"/>
</g>
<g transform="translate(1352 830.5)">
<ellipse cx="224" cy="70" rx="14" ry="12" fill="#d51b1b" fill-opacity="0.25" transform="rotate(20 224 70)" filter="url(#b4)"/>
<ellipse cx="137" cy="152" rx="36" ry="38" fill="#d51b1b" fill-opacity="0.4" filter="url(#b4)"/>
<ellipse cx="118" cy="130" rx="14" ry="12" fill="#d51b1b" fill-opacity="0.75" filter="url(#b3)"/>
<ellipse cx="203" cy="48.9" rx="28.1" ry="22.4" fill="#d51b1b" transform="rotate(-20 203 48.9)" filter="url(#b2)"/>
<ellipse cx="221.8" cy="268.6" rx="26" ry="21.2" fill="#d51b1b" transform="rotate(20 221.8 268.6)" filter="url(#b2)"/>
<ellipse cx="42.4" cy="167.5" rx="31" ry="14.7" fill="#d51b1b" transform="rotate(-5 42.4 167.5)" filter="url(#b1)"/>
<ellipse cx="70" cy="160" rx="16" ry="11" fill="#d51b1b" transform="rotate(-30 70 160)" filter="url(#b1)"/>
<ellipse cx="92" cy="137" rx="34" ry="14.5" fill="#d51b1b" transform="rotate(-36 92 137)" filter="url(#b1)"/>
<ellipse cx="97.8" cy="160" rx="10" ry="7" fill="#d51b1b" transform="rotate(-5 97.8 160)" filter="url(#b1)"/>
<ellipse cx="151" cy="178" rx="38" ry="20" fill="#d51b1b" transform="rotate(58 151 178)" filter="url(#b3)"/>
</g>
<g transform="translate(1702.8 830.5)">
<ellipse cx="207" cy="80" rx="15" ry="8" fill="#7e7ea2" fill-opacity="0.2" filter="url(#b4)"/>
<ellipse cx="190" cy="236" rx="22" ry="12" fill="#7e7ea2" fill-opacity="0.3" filter="url(#b4)"/>
<ellipse cx="135.4" cy="243" rx="10" ry="5" fill="#7e7ea2" fill-opacity="0.3" filter="url(#b3)"/>
<ellipse cx="142" cy="158" rx="58" ry="52" fill="#7e7ea2" fill-opacity="0.3" filter="url(#b5)"/>
<ellipse cx="125" cy="150" rx="20" ry="18" fill="#8181b6" fill-opacity="0.75" filter="url(#b3)"/>
<ellipse cx="205" cy="49.5" rx="35" ry="27.5" fill="#7e7ea2" transform="rotate(-5 205 49.5)" filter="url(#b2)"/>
<ellipse cx="217" cy="267" rx="38" ry="22" fill="#7e7ea2" transform="rotate(3 217 267)" filter="url(#b2)"/>
<ellipse cx="44" cy="167.5" rx="33.8" ry="14.7" fill="#7e7ea2" transform="rotate(-7 44 167.5)" filter="url(#b1)"/>
<ellipse cx="72" cy="158" rx="17" ry="12" fill="#7e7ea2" transform="rotate(-30 72 158)" filter="url(#b1)"/>
<ellipse cx="93" cy="139" rx="36" ry="19" fill="#7e7ea2" transform="rotate(-30 93 139)" filter="url(#b2)"/>
<ellipse cx="145" cy="170" rx="38" ry="30" fill="#7e7ea2" filter="url(#b3)"/>
</g>
<g transform="translate(300.5 1180.5)">
<ellipse cx="143" cy="172" rx="32" ry="26" fill="#1fa21f" fill-opacity="0.2" filter="url(#b4)"/>
<ellipse cx="152" cy="164" rx="15" ry="16" fill="#1fa21f" fill-opacity="0.85" filter="url(#b3)"/>
<ellipse cx="133" cy="181" rx="18" ry="13" fill="#1fa21f" fill-opacity="0.9" transform="rotate(25 133 181)" filter="url(#b3)"/>
<ellipse cx="200.8" cy="50.5" rx="22" ry="20.5" fill="#d51b1b" filter="url(#b2)"/>
<ellipse cx="216" cy="265.5" rx="23.4" ry="16.5" fill="#1f7d9e" transform="rotate(18 216 265.5)" filter="url(#b2)"/>
<ellipse cx="40" cy="169.5" rx="28.5" ry="13.2" fill="#1fa21f" transform="rotate(-7 40 169.5)" filter="url(#b1)"/>
<ellipse cx="63" cy="163" rx="14" ry="9" fill="#1fa21f" transform="rotate(-25 63 163)" filter="url(#b1)"/>
<ellipse cx="83" cy="144" rx="26" ry="11.5" fill="#1fa21f" transform="rotate(-36 83 144)" filter="url(#b1)"/>
<ellipse cx="89" cy="160.5" rx="12" ry="6.5" fill="#1fa21f" transform="rotate(-10 89 160.5)" filter="url(#b1)"/>
<g clip-path="url(#cut0)">
<ellipse cx="40" cy="169.5" rx="28.5" ry="13.2" fill="#1d9fd7" transform="rotate(-7 40 169.5)" filter="url(#b1)"/>
<ellipse cx="63" cy="163" rx="14" ry="9" fill="#1d9fd7" transform="rotate(-25 63 163)" filter="url(#b1)"/>
<ellipse cx="83" cy="144" rx="26" ry="11.5" fill="#1d9fd7" transform="rotate(-36 83 144)" filter="url(#b1)"/>
<ellipse cx="89" cy="160.5" rx="12" ry="6.5" fill="#1d9fd7" transform="rotate(-10 89 160.5)" filter="url(#b1)"/>
</g>
<ellipse cx="33.2" cy="173.5" rx="20.5" ry="10.3" fill="#808080" transform="rotate(-2 33.2 173.5)" filter="url(#b1)"/>
</g>
<g transform="translate(651 1180.5)">
<ellipse cx="143" cy="162" rx="38" ry="42" fill="#1fa21f" fill-opacity="0.3" filter="url(#b4)"/>
<ellipse cx="160" cy="158" rx="13" ry="22" fill="#1fa21f" fill-opacity="0.5" filter="url(#b3)"/>
<ellipse cx="132" cy="186" rx="22" ry="13" fill="#1fa21f" fill-opacity="0.8" transform="rotate(25 132 186)" filter="url(#b3)"/>
<ellipse cx="202" cy="49.2" rx="22.8" ry="22" fill="#d51b1b" transform="rotate(-10 202 49.2)" filter="url(#b2)"/>
<ellipse cx="217.5" cy="267" rx="26.5" ry="18.8" fill="#1f7d9e" transform="rotate(15 217.5 267)" filter="url(#b2)"/>
<ellipse cx="44.7" cy="168.3" rx="32.6" ry="13.9" fill="#1fa21f" transform="rotate(-8 44.7 168.3)" filter="url(#b1)"/>
<ellipse cx="70" cy="161" rx="15" ry="10" fill="#1fa21f" transform="rotate(-25 70 161)" filter="url(#b1)"/>
<ellipse cx="89" cy="142" rx="28.5" ry="13.5" fill="#1fa21f" transform="rotate(-36 89 142)" filter="url(#b1)"/>
<ellipse cx="96.8" cy="157.7" rx="14" ry="8" fill="#1fa21f" transform="rotate(-5 96.8 157.7)" filter="url(#b1)"/>
<g clip-path="url(#cut1)">
<ellipse cx="44.7" cy="168.3" rx="32.6" ry="13.9" fill="#1d9fd7" transform="rotate(-8 44.7 168.3)" filter="url(#b1)"/>
<ellipse cx="70" cy="161" rx="15" ry="10" fill="#1d9fd7" transform="rotate(-25 70 161)" filter="url(#b1)"/>
<ellipse cx="89" cy="142" rx="28.5" ry="13.5" fill="#1d9fd7" transform="rotate(-36 89 142)" filter="url(#b1)"/>
<ellipse cx="96.8" cy="157.7" rx="14" ry="8" fill="#1d9fd7" transform="rotate(-5 96.8 157.7)" filter="url(#b1)"/>
</g>
<ellipse cx="33.2" cy="173.5" rx="20.5" ry="10.3" fill="#808080" transform="rotate(-2 33.2 173.5)" filter="url(#b1)"/>
</g>
<g transform="translate(1001.5 1180.5)">
<ellipse cx="142" cy="166" rx="38" ry="44" fill="#1fa21f" fill-opacity="0.3" filter="url(#b4)"/>
<ellipse cx="120" cy="150" rx="12" ry="14" fill="#1fa21f" fill-opacity="0.5" filter="url(#b3)"/>
<ellipse cx="199.5" cy="50" rx="25.5" ry="24.5" fill="#d51b1b" filter="url(#b2)"/>
<ellipse cx="214.5" cy="267.5" rx="26.5" ry="20.4" fill="#1f7d9e" transform="rotate(15 214.5 267.5)" filter="url(#b2)"/>
<ellipse cx="150" cy="163" rx="22" ry="28" fill="#1fa21f" filter="url(#b3)"/>
<ellipse cx="127" cy="188" rx="23" ry="13" fill="#1fa21f" transform="rotate(25 127 188)" filter="url(#b3)"/>
<ellipse cx="42.4" cy="168.8" rx="31.4" ry="14.5" fill="#1fa21f" transform="rotate(-7 42.4 168.8)" filter="url(#b1)"/>
<ellipse cx="68" cy="162" rx="15" ry="10" fill="#1fa21f" transform="rotate(-25 68 162)" filter="url(#b1)"/>
<ellipse cx="89.5" cy="143" rx="29" ry="13.5" fill="#1fa21f" transform="rotate(-38 89.5 143)" filter="url(#b1)"/>
<ellipse cx="99" cy="161.4" rx="12" ry="7.5" fill="#1fa21f" transform="rotate(-5 99 161.4)" filter="url(#b1)"/>
<g clip-path="url(#cut2)">
<ellipse cx="42.4" cy="168.8" rx="31.4" ry="14.5" fill="#1d9fd7" transform="rotate(-7 42.4 168.8)" filter="url(#b1)"/>
<ellipse cx="68" cy="162" rx="15" ry="10" fill="#1d9fd7" transform="rotate(-25 68 162)" filter="url(#b1)"/>
<ellipse cx="89.5" cy="143" rx="29" ry="13.5" fill="#1d9fd7" transform="rotate(-38 89.5 143)" filter="url(#b1)"/>
<ellipse cx="99" cy="161.4" rx="12" ry="7.5" fill="#1d9fd7" transform="rotate(-5 99 161.4)" filter="url(#b1)"/>
</g>
<ellipse cx="33.2" cy="173.5" rx="20.5" ry="10.3" fill="#808080" transform="rotate(-2 33.2 173.5)" filter="url(#b1)"/>
</g>
<g transform="translate(1352 1180.5)">
<ellipse cx="224" cy="70" rx="14" ry="12" fill="#d51b1b" fill-opacity="0.25" transform="rotate(20 224 70)" filter="url(#b4)"/>
<ellipse cx="137" cy="152" rx="36" ry="38" fill="#1fa21f" fill-opacity="0.4" filter="url(#b4)"/>
<ellipse cx="118" cy="130" rx="14" ry="12" fill="#1fa21f" fill-opacity="0.75" filter="url(#b3)"/>
<ellipse cx="203" cy="48.9" rx="28.1" ry="22.4" fill="#d51b1b" transform="rotate(-20 203 48.9)" filter="url(#b2)"/>
<ellipse cx="221.8" cy="268.6" rx="26" ry="21.2" fill="#1f7d9e" transform="rotate(20 221.8 268.6)" filter="url(#b2)"/>
<ellipse cx="151" cy="178" rx="38" ry="20" fill="#1fa21f" transform="rotate(58 151 178)" filter="url(#b3)"/>
<ellipse cx="42.4" cy="167.5" rx="31" ry="14.7" fill="#1fa21f" transform="rotate(-5 42.4 167.5)" filter="url(#b1)"/>
<ellipse cx="70" cy="160" rx="16" ry="11" fill="#1fa21f" transform="rotate(-30 70 160)" filter="url(#b1)"/>
<ellipse cx="92" cy="137" rx="34" ry="14.5" fill="#1fa21f" transform="rotate(-36 92 137)" filter="url(#b1)"/>
<ellipse cx="97.8" cy="160" rx="10" ry="7" fill="#1fa21f" transform="rotate(-5 97.8 160)" filter="url(#b1)"/>
<g clip-path="url(#cut3)">
<ellipse cx="42.4" cy="167.5" rx="31" ry="14.7" fill="#1d9fd7" transform="rotate(-5 42.4 167.5)" filter="url(#b1)"/>
<ellipse cx="70" cy="160" rx="16" ry="11" fill="#1d9fd7" transform="rotate(-30 70 160)" filter="url(#b1)"/>
<ellipse cx="92" cy="137" rx="34" ry="14.5" fill="#1d9fd7" transform="rotate(-36 92 137)" filter="url(#b1)"/>
<ellipse cx="97.8" cy="160" rx="10" ry="7" fill="#1d9fd7" transform="rotate(-5 97.8 160)" filter="url(#b1)"/>
</g>
<ellipse cx="33.2" cy="173.5" rx="20.5" ry="10.3" fill="#808080" transform="rotate(-2 33.2 173.5)" filter="url(#b1)"/>
</g>
<g transform="translate(1702.8 1180.5)">
<ellipse cx="207" cy="80" rx="15" ry="8" fill="#d51b1b" fill-opacity="0.2" filter="url(#b4)"/>
<ellipse cx="190" cy="236" rx="22" ry="12" fill="#1f7d9e" fill-opacity="0.3" filter="url(#b4)"/>
<ellipse cx="135.4" cy="243" rx="10" ry="5" fill="#1fa21f" fill-opacity="0.3" filter="url(#b3)"/>
<ellipse cx="142" cy="158" rx="58" ry="52" fill="#1fa21f" fill-opacity="0.3" filter="url(#b5)"/>
<ellipse cx="125" cy="150" rx="20" ry="18" fill="#1fa21f" fill-opacity="0.75" filter="url(#b3)"/>
<ellipse cx="205" cy="49.5" rx="35" ry="27.5" fill="#d51b1b" transform="rotate(-5 205 49.5)" filter="url(#b2)"/>
<ellipse cx="217" cy="267" rx="38" ry="22" fill="#1f7d9e" transform="rotate(3 217 267)" filter="url(#b2)"/>
<ellipse cx="145" cy="170" rx="38" ry="30" fill="#1fa21f" filter="url(#b3)"/>
<ellipse cx="44" cy="167.5" rx="33.8" ry="14.7" fill="#1fa21f" transform="rotate(-7 44 167.5)" filter="url(#b1)"/>
<ellipse cx="72" cy="158" rx="17" ry="12" fill="#1fa21f" transform="rotate(-30 72 158)" filter="url(#b1)"/>
<ellipse cx="93" cy="139" rx="36" ry="19" fill="#1fa21f" transform="rotate(-30 93 139)" filter="url(#b2)"/>
<g clip-path="url(#cut4)">
<ellipse cx="44" cy="167.5" rx="33.8" ry="14.7" fill="#1d9fd7" transform="rotate(-7 44 167.5)" filter="url(#b1)"/>
<ellipse cx="72" cy="158" rx="17" ry="12" fill="#1d9fd7" transform="rotate(-30 72 158)" filter="url(#b1)"/>
<ellipse cx="93" cy="139" rx="36" ry="19" fill="#1d9fd7" transform="rotate(-30 93 139)" filter="url(#b2)"/>
</g>
<ellipse cx="33.2" cy="173.5" rx="20.5" ry="10.3" fill="#808080" transform="rotate(-2 33.2 173.5)" filter="url(#b1)"/>
</g>
<text x="21" y="30" font-size="41" font-weight="bold">a</text>
<text x="1325" y="36" font-size="41" font-weight="bold">b</text>
<text x="8.5" y="786.5" font-size="41" font-weight="bold">c</text>
<text x="220" y="786" font-size="41" font-weight="bold">d</text>
<text x="220" y="1168" font-size="41" font-weight="bold">e</text>
<text x="221" y="1602" font-size="41" font-weight="bold">f</text>
<text transform="translate(83,122.8) rotate(-90)" text-anchor="middle" font-size="27.5" font-weight="bold">Blocks</text>
<text transform="translate(83,339.9) rotate(-90)" text-anchor="middle" font-size="27.5" font-weight="bold">Columns</text>
<text transform="translate(83,610) rotate(-90)" text-anchor="middle" font-size="27.5" font-weight="bold">Random</text>
<text x="1044" y="131.1" font-size="27.8" font-weight="bold">ΔE = +0.34 kcal/mol</text>
<text x="1044" y="376.2" font-size="27.8" font-weight="bold">ΔE = +1.84 kcal/mol</text>
<text x="1044" y="631.4" font-size="27.8" font-weight="bold">ΔE = +2.72 kcal/mol</text>
<rect x="1425.0" y="72.2" width="512.5" height="528.0" fill="none" stroke="#3a3a3a" stroke-width="1.3"/>
<path d="M1425.0 600.2h-5.5M1937.5 600.2h5.5M1425.0 512.2h-5.5M1937.5 512.2h5.5M1425.0 424.2h-5.5M1937.5 424.2h5.5M1425.0 336.2h-5.5M1937.5 336.2h5.5M1425.0 248.2h-5.5M1937.5 248.2h5.5M1425.0 160.2h-5.5M1937.5 160.2h5.5M1425.0 72.2h-5.5M1937.5 72.2h5.5M1425 600.2v5.5M1425 72.2v-5.5M1527.5 600.2v5.5M1527.5 72.2v-5.5M1630 600.2v5.5M1630 72.2v-5.5M1732.5 600.2v5.5M1732.5 72.2v-5.5M1835 600.2v5.5M1835 72.2v-5.5M1937.5 600.2v5.5M1937.5 72.2v-5.5" stroke="#3a3a3a" stroke-width="1.3" fill="none"/>
<text x="1416" y="608" font-size="22" text-anchor="end">20</text>
<text x="1416" y="520" font-size="22" text-anchor="end">21</text>
<text x="1416" y="432" font-size="22" text-anchor="end">22</text>
<text x="1416" y="344" font-size="22" text-anchor="end">23</text>
<text x="1416" y="256" font-size="22" text-anchor="end">24</text>
<text x="1416" y="168" font-size="22" text-anchor="end">25</text>
<text x="1416" y="80" font-size="22" text-anchor="end">26</text>
<text x="1428" y="634.5" font-size="22" text-anchor="middle">0</text>
<text x="1530.5" y="634.5" font-size="22" text-anchor="middle">200</text>
<text x="1633" y="634.5" font-size="22" text-anchor="middle">400</text>
<text x="1735.5" y="634.5" font-size="22" text-anchor="middle">600</text>
<text x="1838" y="634.5" font-size="22" text-anchor="middle">800</text>
<text x="1940.5" y="634.5" font-size="22" text-anchor="middle">1000</text>
<text x="1690" y="675" font-size="28" text-anchor="middle">Time (ns)</text>
<text transform="translate(1360,331.5) rotate(-90)" text-anchor="middle" font-size="27">Fiber Length (nm)</text>
<text x="1801" y="123" font-size="21.5" text-anchor="end">Blocks</text>
<path d="M1813.7 114.5H1888.7" stroke="#2ca02c" stroke-width="4.6"/>
<text x="1801" y="155.6" font-size="21.5" text-anchor="end">Columns</text>
<path d="M1813.7 147.25H1888.7" stroke="#d62728" stroke-width="4.6"/>
<text x="1801" y="188.8" font-size="21.5" text-anchor="end">Random</text>
<path d="M1813.7 180H1888.7" stroke="#9467bd" stroke-width="4.6"/>
<rect x="300.5" y="830.5" width="277.0" height="298.3" fill="none" stroke="#3a3a3a" stroke-width="1.3"/>
<text x="291.3" y="838.5" font-size="22" text-anchor="end">60</text>
<text x="291.3" y="919.9" font-size="22" text-anchor="end">30</text>
<text x="291.3" y="1001.2" font-size="22" text-anchor="end">0</text>
<text x="291.3" y="1082.6" font-size="22" text-anchor="end">-30</text>
<text x="340.9" y="1162.8" font-size="22" text-anchor="middle">-50</text>
<text x="422.2" y="1162.8" font-size="22" text-anchor="middle">0</text>
<text x="501.4" y="1162.8" font-size="22" text-anchor="middle">50</text>
<text x="580.5" y="1162.8" font-size="22" text-anchor="middle">100</text>
<rect x="651" y="830.5" width="277.0" height="298.3" fill="none" stroke="#3a3a3a" stroke-width="1.3"/>
<text x="641.8" y="838.5" font-size="22" text-anchor="end">60</text>
<text x="641.8" y="919.9" font-size="22" text-anchor="end">30</text>
<text x="641.8" y="1001.2" font-size="22" text-anchor="end">0</text>
<text x="641.8" y="1082.6" font-size="22" text-anchor="end">-30</text>
<text x="691.4" y="1162.8" font-size="22" text-anchor="middle">-50</text>
<text x="772.7" y="1162.8" font-size="22" text-anchor="middle">0</text>
<text x="851.9" y="1162.8" font-size="22" text-anchor="middle">50</text>
<text x="931" y="1162.8" font-size="22" text-anchor="middle">100</text>
<rect x="1001.5" y="830.5" width="277.0" height="298.3" fill="none" stroke="#3a3a3a" stroke-width="1.3"/>
<text x="992.3" y="838.5" font-size="22" text-anchor="end">60</text>
<text x="992.3" y="919.9" font-size="22" text-anchor="end">30</text>
<text x="992.3" y="1001.2" font-size="22" text-anchor="end">0</text>
<text x="992.3" y="1082.6" font-size="22" text-anchor="end">-30</text>
<text x="1041.9" y="1162.8" font-size="22" text-anchor="middle">-50</text>
<text x="1123.2" y="1162.8" font-size="22" text-anchor="middle">0</text>
<text x="1202.4" y="1162.8" font-size="22" text-anchor="middle">50</text>
<text x="1281.5" y="1162.8" font-size="22" text-anchor="middle">100</text>
<rect x="1352" y="830.5" width="277.0" height="298.3" fill="none" stroke="#3a3a3a" stroke-width="1.3"/>
<text x="1342.8" y="838.5" font-size="22" text-anchor="end">60</text>
<text x="1342.8" y="919.9" font-size="22" text-anchor="end">30</text>
<text x="1342.8" y="1001.2" font-size="22" text-anchor="end">0</text>
<text x="1342.8" y="1082.6" font-size="22" text-anchor="end">-30</text>
<text x="1392.4" y="1162.8" font-size="22" text-anchor="middle">-50</text>
<text x="1473.7" y="1162.8" font-size="22" text-anchor="middle">0</text>
<text x="1552.9" y="1162.8" font-size="22" text-anchor="middle">50</text>
<text x="1632" y="1162.8" font-size="22" text-anchor="middle">100</text>
<rect x="1702.8" y="830.5" width="277.0" height="298.3" fill="none" stroke="#3a3a3a" stroke-width="1.3"/>
<text x="1693.6" y="838.5" font-size="22" text-anchor="end">60</text>
<text x="1693.6" y="919.9" font-size="22" text-anchor="end">30</text>
<text x="1693.6" y="1001.2" font-size="22" text-anchor="end">0</text>
<text x="1693.6" y="1082.6" font-size="22" text-anchor="end">-30</text>
<text x="1743.2" y="1162.8" font-size="22" text-anchor="middle">-50</text>
<text x="1824.5" y="1162.8" font-size="22" text-anchor="middle">0</text>
<text x="1903.7" y="1162.8" font-size="22" text-anchor="middle">50</text>
<text x="1982.8" y="1162.8" font-size="22" text-anchor="middle">100</text>
<text transform="translate(250,971.5) rotate(-90)" text-anchor="middle" font-size="26.5">PC2</text>
<rect x="300.5" y="1180.5" width="277.0" height="298.3" fill="none" stroke="#3a3a3a" stroke-width="1.3"/>
<text x="291.3" y="1188.5" font-size="22" text-anchor="end">60</text>
<text x="291.3" y="1269.9" font-size="22" text-anchor="end">30</text>
<text x="291.3" y="1351.2" font-size="22" text-anchor="end">0</text>
<text x="291.3" y="1432.6" font-size="22" text-anchor="end">-30</text>
<text x="340.9" y="1512.8" font-size="22" text-anchor="middle">-50</text>
<text x="422.2" y="1512.8" font-size="22" text-anchor="middle">0</text>
<text x="501.4" y="1512.8" font-size="22" text-anchor="middle">50</text>
<text x="580.5" y="1512.8" font-size="22" text-anchor="middle">100</text>
<text x="437.5" y="1542.2" font-size="26.5" text-anchor="middle">PC1</text>
<rect x="651" y="1180.5" width="277.0" height="298.3" fill="none" stroke="#3a3a3a" stroke-width="1.3"/>
<text x="641.8" y="1188.5" font-size="22" text-anchor="end">60</text>
<text x="641.8" y="1269.9" font-size="22" text-anchor="end">30</text>
<text x="641.8" y="1351.2" font-size="22" text-anchor="end">0</text>
<text x="641.8" y="1432.6" font-size="22" text-anchor="end">-30</text>
<text x="691.4" y="1512.8" font-size="22" text-anchor="middle">-50</text>
<text x="772.7" y="1512.8" font-size="22" text-anchor="middle">0</text>
<text x="851.9" y="1512.8" font-size="22" text-anchor="middle">50</text>
<text x="931" y="1512.8" font-size="22" text-anchor="middle">100</text>
<text x="787.5" y="1542.2" font-size="26.5" text-anchor="middle">PC1</text>
<rect x="1001.5" y="1180.5" width="277.0" height="298.3" fill="none" stroke="#3a3a3a" stroke-width="1.3"/>
<text x="992.3" y="1188.5" font-size="22" text-anchor="end">60</text>
<text x="992.3" y="1269.9" font-size="22" text-anchor="end">30</text>
<text x="992.3" y="1351.2" font-size="22" text-anchor="end">0</text>
<text x="992.3" y="1432.6" font-size="22" text-anchor="end">-30</text>
<text x="1041.9" y="1512.8" font-size="22" text-anchor="middle">-50</text>
<text x="1123.2" y="1512.8" font-size="22" text-anchor="middle">0</text>
<text x="1202.4" y="1512.8" font-size="22" text-anchor="middle">50</text>
<text x="1281.5" y="1512.8" font-size="22" text-anchor="middle">100</text>
<text x="1140" y="1542.2" font-size="26.5" text-anchor="middle">PC1</text>
<rect x="1352" y="1180.5" width="277.0" height="298.3" fill="none" stroke="#3a3a3a" stroke-width="1.3"/>
<text x="1342.8" y="1188.5" font-size="22" text-anchor="end">60</text>
<text x="1342.8" y="1269.9" font-size="22" text-anchor="end">30</text>
<text x="1342.8" y="1351.2" font-size="22" text-anchor="end">0</text>
<text x="1342.8" y="1432.6" font-size="22" text-anchor="end">-30</text>
<text x="1392.4" y="1512.8" font-size="22" text-anchor="middle">-50</text>
<text x="1473.7" y="1512.8" font-size="22" text-anchor="middle">0</text>
<text x="1552.9" y="1512.8" font-size="22" text-anchor="middle">50</text>
<text x="1632" y="1512.8" font-size="22" text-anchor="middle">100</text>
<text x="1485" y="1542.2" font-size="26.5" text-anchor="middle">PC1</text>
<rect x="1702.8" y="1180.5" width="277.0" height="298.3" fill="none" stroke="#3a3a3a" stroke-width="1.3"/>
<text x="1693.6" y="1188.5" font-size="22" text-anchor="end">60</text>
<text x="1693.6" y="1269.9" font-size="22" text-anchor="end">30</text>
<text x="1693.6" y="1351.2" font-size="22" text-anchor="end">0</text>
<text x="1693.6" y="1432.6" font-size="22" text-anchor="end">-30</text>
<text x="1743.2" y="1512.8" font-size="22" text-anchor="middle">-50</text>
<text x="1824.5" y="1512.8" font-size="22" text-anchor="middle">0</text>
<text x="1903.7" y="1512.8" font-size="22" text-anchor="middle">50</text>
<text x="1982.8" y="1512.8" font-size="22" text-anchor="middle">100</text>
<text x="1837.5" y="1542.2" font-size="26.5" text-anchor="middle">PC1</text>
<text transform="translate(250,1321.5) rotate(-90)" text-anchor="middle" font-size="26.5">PC2</text>
<path d="M340.1 830.5v-5.3M340.1 1128.8v5.3M419.2 830.5v-5.3M419.2 1128.8v5.3M498.4 830.5v-5.3M498.4 1128.8v5.3M577.5 830.5v-5.3M577.5 1128.8v5.3M300.5 830.5h-5.3M577.5 830.5h5.3M300.5 911.9h-5.3M577.5 911.9h5.3M300.5 993.2h-5.3M577.5 993.2h5.3M300.5 1074.6h-5.3M577.5 1074.6h5.3M690.6 830.5v-5.3M690.6 1128.8v5.3M769.7 830.5v-5.3M769.7 1128.8v5.3M848.9 830.5v-5.3M848.9 1128.8v5.3M928 830.5v-5.3M928 1128.8v5.3M651 830.5h-5.3M928 830.5h5.3M651 911.9h-5.3M928 911.9h5.3M651 993.2h-5.3M928 993.2h5.3M651 1074.6h-5.3M928 1074.6h5.3M1041.1 830.5v-5.3M1041.1 1128.8v5.3M1120.2 830.5v-5.3M1120.2 1128.8v5.3M1199.4 830.5v-5.3M1199.4 1128.8v5.3M1278.5 830.5v-5.3M1278.5 1128.8v5.3M1001.5 830.5h-5.3M1278.5 830.5h5.3M1001.5 911.9h-5.3M1278.5 911.9h5.3M1001.5 993.2h-5.3M1278.5 993.2h5.3M1001.5 1074.6h-5.3M1278.5 1074.6h5.3M1391.6 830.5v-5.3M1391.6 1128.8v5.3M1470.7 830.5v-5.3M1470.7 1128.8v5.3M1549.9 830.5v-5.3M1549.9 1128.8v5.3M1629 830.5v-5.3M1629 1128.8v5.3M1352 830.5h-5.3M1629 830.5h5.3M1352 911.9h-5.3M1629 911.9h5.3M1352 993.2h-5.3M1629 993.2h5.3M1352 1074.6h-5.3M1629 1074.6h5.3M1742.4 830.5v-5.3M1742.4 1128.8v5.3M1821.5 830.5v-5.3M1821.5 1128.8v5.3M1900.7 830.5v-5.3M1900.7 1128.8v5.3M1979.8 830.5v-5.3M1979.8 1128.8v5.3M1702.8 830.5h-5.3M1979.8 830.5h5.3M1702.8 911.9h-5.3M1979.8 911.9h5.3M1702.8 993.2h-5.3M1979.8 993.2h5.3M1702.8 1074.6h-5.3M1979.8 1074.6h5.3M340.1 1180.5v-5.3M340.1 1478.8v5.3M419.2 1180.5v-5.3M419.2 1478.8v5.3M498.4 1180.5v-5.3M498.4 1478.8v5.3M577.5 1180.5v-5.3M577.5 1478.8v5.3M300.5 1180.5h-5.3M577.5 1180.5h5.3M300.5 1261.9h-5.3M577.5 1261.9h5.3M300.5 1343.2h-5.3M577.5 1343.2h5.3M300.5 1424.6h-5.3M577.5 1424.6h5.3M690.6 1180.5v-5.3M690.6 1478.8v5.3M769.7 1180.5v-5.3M769.7 1478.8v5.3M848.9 1180.5v-5.3M848.9 1478.8v5.3M928 1180.5v-5.3M928 1478.8v5.3M651 1180.5h-5.3M928 1180.5h5.3M651 1261.9h-5.3M928 1261.9h5.3M651 1343.2h-5.3M928 1343.2h5.3M651 1424.6h-5.3M928 1424.6h5.3M1041.1 1180.5v-5.3M1041.1 1478.8v5.3M1120.2 1180.5v-5.3M1120.2 1478.8v5.3M1199.4 1180.5v-5.3M1199.4 1478.8v5.3M1278.5 1180.5v-5.3M1278.5 1478.8v5.3M1001.5 1180.5h-5.3M1278.5 1180.5h5.3M1001.5 1261.9h-5.3M1278.5 1261.9h5.3M1001.5 1343.2h-5.3M1278.5 1343.2h5.3M1001.5 1424.6h-5.3M1278.5 1424.6h5.3M1391.6 1180.5v-5.3M1391.6 1478.8v5.3M1470.7 1180.5v-5.3M1470.7 1478.8v5.3M1549.9 1180.5v-5.3M1549.9 1478.8v5.3M1629 1180.5v-5.3M1629 1478.8v5.3M1352 1180.5h-5.3M1629 1180.5h5.3M1352 1261.9h-5.3M1629 1261.9h5.3M1352 1343.2h-5.3M1629 1343.2h5.3M1352 1424.6h-5.3M1629 1424.6h5.3M1742.4 1180.5v-5.3M1742.4 1478.8v5.3M1821.5 1180.5v-5.3M1821.5 1478.8v5.3M1900.7 1180.5v-5.3M1900.7 1478.8v5.3M1979.8 1180.5v-5.3M1979.8 1478.8v5.3M1702.8 1180.5h-5.3M1979.8 1180.5h5.3M1702.8 1261.9h-5.3M1979.8 1261.9h5.3M1702.8 1343.2h-5.3M1979.8 1343.2h5.3M1702.8 1424.6h-5.3M1979.8 1424.6h5.3" stroke="#3a3a3a" stroke-width="1.3" fill="none"/>
<text x="436" y="809.8" font-size="27.5" font-weight="bold" text-anchor="middle">M<tspan font-size="18" dy="5">3</tspan></text>
<text x="786.5" y="809.8" font-size="27.5" font-weight="bold" text-anchor="middle">M<tspan font-size="18" dy="5">5</tspan></text>
<text x="1140" y="814.5" font-size="27.5" text-anchor="middle" font-weight="bold">Blocks</text>
<text x="1484" y="814.5" font-size="27.5" text-anchor="middle" font-weight="bold">Columns</text>
<text x="1836.6" y="814.5" font-size="27.5" text-anchor="middle" font-weight="bold">Random</text>
<circle cx="295.9" cy="1711.2" r="19" fill="#808080"/>
<circle cx="400.4" cy="1711.2" r="19" fill="#5ab9cc"/>
<circle cx="505.4" cy="1711.2" r="19" fill="#519e3e"/>
<circle cx="545.9" cy="1635.2" r="19" fill="#c33a33"/>
<circle cx="544.5" cy="1789.8" r="19" fill="#3c75ad"/>
<path d="M315.9 1700.2C332.9 1671.2 361.9 1673.2 381.9 1698.7M379.9 1714.7C365.9 1741.2 337.9 1743.2 314.9 1716.2M420.4 1700.2C437.4 1671.2 466.4 1673.2 486.4 1698.7M484.4 1714.7C470.4 1741.2 442.4 1743.2 419.4 1716.2M304.9 1685.7C343.9 1583.2 447.9 1583.2 506.4 1690.2M502.6 1735.5C457.9 1839.2 347.9 1837.2 300.3 1730.8" fill="none" stroke="#000" stroke-width="1.25"/>
<path d="M381.9 1698.7L372.3 1693.5L379.1 1688.2ZM314.9 1716.2L324.7 1721L318.1 1726.6ZM486.4 1698.7L476.8 1693.5L483.6 1688.2ZM419.4 1716.2L429.2 1721L422.6 1726.6ZM506.4 1690.2L497.8 1683.5L505.4 1679.4ZM300.3 1730.8L308.3 1738.2L300.5 1741.7Z" fill="#000"/>
<text x="350.9" y="1676.6" font-size="28.5" text-anchor="middle">0.18</text>
<text x="350.9" y="1757.4" font-size="28.5" text-anchor="middle">0.10</text>
<text x="412.3" y="1679.7" font-size="28.5">6.1×10<tspan font-size="20.5" dy="-11">-3</tspan></text>
<text x="459.9" y="1757.4" font-size="28.5" text-anchor="middle">0.09</text>
<text x="363.9" y="1604.7" font-size="28.5">2.9×10<tspan font-size="20.5" dy="-11">-5</tspan></text>
<text x="364.9" y="1841" font-size="28.5">3.4×10<tspan font-size="20.5" dy="-11">-4</tspan></text>
<circle cx="664.3" cy="1711.6" r="19" fill="#808080"/>
<circle cx="768.8" cy="1711.6" r="19" fill="#5ab9cc"/>
<circle cx="873.8" cy="1711.6" r="19" fill="#519e3e"/>
<circle cx="914.3" cy="1635.6" r="19" fill="#c33a33"/>
<circle cx="912.9" cy="1790.2" r="19" fill="#3c75ad"/>
<path d="M684.3 1700.6C701.3 1671.6 730.3 1673.6 750.3 1699.1M748.3 1715.1C734.3 1741.6 706.3 1743.6 683.3 1716.6M788.8 1700.6C805.8 1671.6 834.8 1673.6 854.8 1699.1M852.8 1715.1C838.8 1741.6 810.8 1743.6 787.8 1716.6" fill="none" stroke="#000" stroke-width="1.25"/>
<path d="M750.3 1699.1L740.7 1693.9L747.5 1688.6ZM683.3 1716.6L693.1 1721.4L686.5 1727ZM854.8 1699.1L845.2 1693.9L852 1688.6ZM787.8 1716.6L797.6 1721.4L791 1727Z" fill="#000"/>
<text x="719.3" y="1677" font-size="28.5" text-anchor="middle">0.19</text>
<text x="719.3" y="1757.8" font-size="28.5" text-anchor="middle">0.09</text>
<text x="828.3" y="1677" font-size="28.5" text-anchor="middle">0.09</text>
<text x="828.3" y="1757.8" font-size="28.5" text-anchor="middle">0.18</text>
<circle cx="1006" cy="1711.8" r="19" fill="#808080"/>
<circle cx="1110.5" cy="1711.8" r="19" fill="#5ab9cc"/>
<circle cx="1215.5" cy="1711.8" r="19" fill="#519e3e"/>
<circle cx="1256" cy="1635.8" r="19" fill="#c33a33"/>
<circle cx="1254.6" cy="1790.4" r="19" fill="#3c75ad"/>
<path d="M1026 1700.8C1043 1671.8 1072 1673.8 1092 1699.3M1090 1715.3C1076 1741.8 1048 1743.8 1025 1716.8M1130.5 1700.8C1147.5 1671.8 1176.5 1673.8 1196.5 1699.3M1194.5 1715.3C1180.5 1741.8 1152.5 1743.8 1129.5 1716.8M1015 1686.3C1054 1583.8 1158 1583.8 1216.5 1690.8M1212.7 1736.1C1168 1839.8 1058 1837.8 1010.4 1731.4" fill="none" stroke="#000" stroke-width="1.25"/>
<path d="M1092 1699.3L1082.4 1694.1L1089.2 1688.8ZM1025 1716.8L1034.8 1721.6L1028.2 1727.2ZM1196.5 1699.3L1186.9 1694.1L1193.7 1688.8ZM1129.5 1716.8L1139.3 1721.6L1132.7 1727.2ZM1216.5 1690.8L1207.9 1684.1L1215.5 1680ZM1010.4 1731.4L1018.4 1738.8L1010.6 1742.3Z" fill="#000"/>
<text x="1061" y="1677.2" font-size="28.5" text-anchor="middle">0.18</text>
<text x="1061" y="1758" font-size="28.5" text-anchor="middle">0.09</text>
<text x="1170" y="1677.2" font-size="28.5" text-anchor="middle">0.01</text>
<text x="1170" y="1758" font-size="28.5" text-anchor="middle">0.12</text>
<text x="1074" y="1605.3" font-size="28.5">2.4×10<tspan font-size="20.5" dy="-11">-5</tspan></text>
<text x="1075" y="1841" font-size="28.5">1.0×10<tspan font-size="20.5" dy="-11">-4</tspan></text>
<circle cx="1370.9" cy="1712.5" r="19" fill="#808080"/>
<circle cx="1475.4" cy="1712.5" r="19" fill="#5ab9cc"/>
<circle cx="1580.4" cy="1712.5" r="19" fill="#519e3e"/>
<circle cx="1620.9" cy="1636.5" r="19" fill="#c33a33"/>
<circle cx="1619.5" cy="1791.1" r="19" fill="#3c75ad"/>
<path d="M1390.9 1701.5C1407.9 1672.5 1436.9 1674.5 1456.9 1700M1454.9 1716C1440.9 1742.5 1412.9 1744.5 1389.9 1717.5M1495.4 1701.5C1512.4 1672.5 1541.4 1674.5 1561.4 1700M1559.4 1716C1545.4 1742.5 1517.4 1744.5 1494.4 1717.5M1379.9 1687C1418.9 1584.5 1522.9 1584.5 1581.4 1691.5M1577.6 1736.8C1532.9 1840.5 1422.9 1838.5 1375.3 1732.1" fill="none" stroke="#000" stroke-width="1.25"/>
<path d="M1456.9 1700L1447.3 1694.8L1454.1 1689.5ZM1389.9 1717.5L1399.7 1722.3L1393.1 1727.9ZM1561.4 1700L1551.8 1694.8L1558.6 1689.5ZM1494.4 1717.5L1504.2 1722.3L1497.6 1727.9ZM1581.4 1691.5L1572.8 1684.8L1580.4 1680.7ZM1375.3 1732.1L1383.3 1739.5L1375.5 1743Z" fill="#000"/>
<text x="1425.9" y="1677.9" font-size="28.5" text-anchor="middle">0.18</text>
<text x="1425.9" y="1755.5" font-size="28.5" text-anchor="middle">0.09</text>
<text x="1534.9" y="1677.9" font-size="28.5" text-anchor="middle">0.02</text>
<text x="1534.9" y="1755.5" font-size="28.5" text-anchor="middle">0.15</text>
<text x="1438.9" y="1606" font-size="28.5">1.8×10<tspan font-size="20.5" dy="-11">-5</tspan></text>
<text x="1439.9" y="1841" font-size="28.5">6.0×10<tspan font-size="20.5" dy="-11">-5</tspan></text>
<circle cx="1722.6" cy="1713.5" r="19" fill="#808080"/>
<circle cx="1827.1" cy="1713.5" r="19" fill="#5ab9cc"/>
<circle cx="1932.1" cy="1713.5" r="19" fill="#519e3e"/>
<circle cx="1972.6" cy="1637.5" r="19" fill="#c33a33"/>
<circle cx="1971.2" cy="1792.1" r="19" fill="#3c75ad"/>
<path d="M1742.6 1702.5C1759.6 1673.5 1788.6 1675.5 1808.6 1701M1806.6 1717C1792.6 1743.5 1764.6 1745.5 1741.6 1718.5M1847.1 1702.5C1864.1 1673.5 1893.1 1675.5 1913.1 1701M1911.1 1717C1897.1 1743.5 1869.1 1745.5 1846.1 1718.5M1731.6 1688C1770.6 1585.5 1874.6 1585.5 1933.1 1692.5M1929.3 1737.8C1884.6 1841.5 1774.6 1839.5 1727 1733.1" fill="none" stroke="#000" stroke-width="1.25"/>
<path d="M1808.6 1701L1799 1695.8L1805.8 1690.5ZM1741.6 1718.5L1751.4 1723.3L1744.8 1728.9ZM1913.1 1701L1903.5 1695.8L1910.3 1690.5ZM1846.1 1718.5L1855.9 1723.3L1849.3 1728.9ZM1933.1 1692.5L1924.5 1685.8L1932.1 1681.7ZM1727 1733.1L1735 1740.5L1727.2 1744Z" fill="#000"/>
<text x="1777.6" y="1678.9" font-size="28.5" text-anchor="middle">0.2</text>
<text x="1777.6" y="1756.5" font-size="28.5" text-anchor="middle">0.09</text>
<text x="1886.6" y="1678.9" font-size="28.5" text-anchor="middle">0.02</text>
<text x="1886.6" y="1756.5" font-size="28.5" text-anchor="middle">0.18</text>
<text x="1790.6" y="1607" font-size="28.5">7.3×10<tspan font-size="20.5" dy="-11">-6</tspan></text>
<text x="1791.6" y="1841" font-size="28.5">7.8×10<tspan font-size="20.5" dy="-11">-5</tspan></text>
</svg></body></html>
